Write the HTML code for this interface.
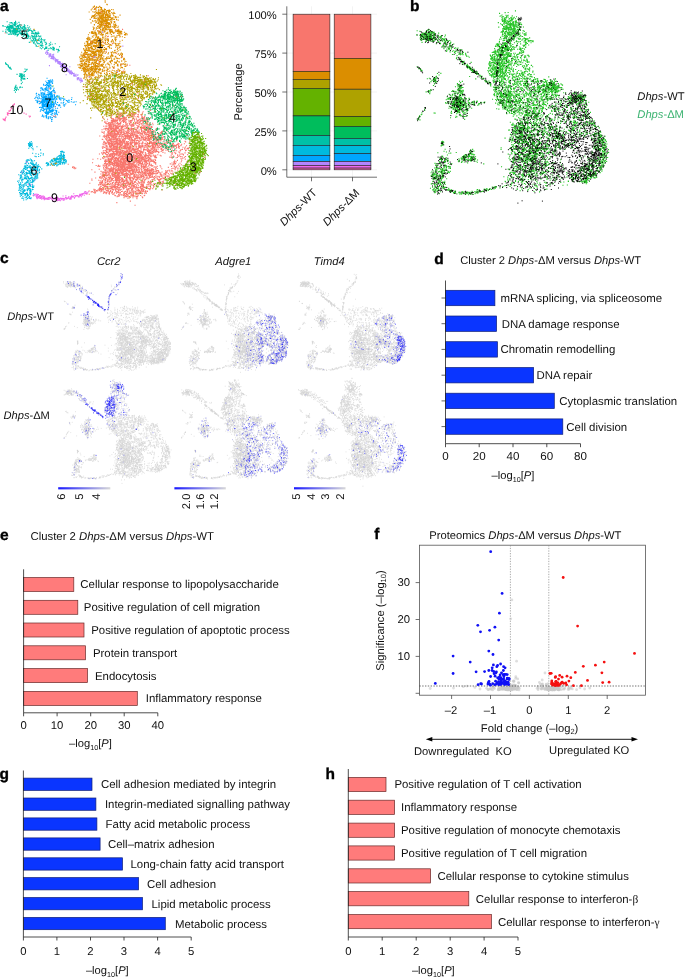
<!DOCTYPE html>
<html lang="en"><head><meta charset="utf-8"><title>Figure</title><style>html,body{margin:0;padding:0;background:#fff}svg{display:block}text{text-rendering:geometricPrecision}</style></head><body>
<svg width="685" height="978" viewBox="0 0 685 978" font-family="'Liberation Sans', sans-serif">
<rect width="685" height="978" fill="#fff"/>
<g id="umap-a">
<path d="M1244 1115h11m-10 0h11m112-2h11m1 0h11m-6 3h11m30 1h11m-379 6h11m29 14h11m6 13h11m-5 0h11m38-10h11m-11-8h11m-6 17h11m3-1h11m-7-14h11m-9 22h11m-9-21h11m-8-4h11m-4 27h11m-7-3h11m-9-19h11m-10 21h11m-9-12h11m-10 8h11m-5-11h11m12-15h11m-7 6h11m0-8h11m-4 34h11m-5-3h11m-6 1h11m0-11h11m-6 1h11m-9 8h11m-4-22h11m-11 18h11m-8-14h11m-2-1h11m-10 17h11m-10-2h11m-9-24h11m-4 20h11m-4-8h11m-11 18h11m-10-4h11m-10-2h11m-9-14h11m-4 4h11m-2-5h11m8 11h11m-10-2h11m-6 4h11m-7-21h11m9 20h11m-9-2h11m-5 3h11m-3-18h11m-406 37h11m-8 16h11m32 8h11m27-7h11m-10-22h11m-11 15h11m-4 7h11m-2 14h11m-9-6h11m-9-6h11m-9 9h11m4-2h11m-6-16h11m-6-3h11m-11 4h11m-10-7h11m-7-4h11m-6 8h11m-8-8h11m-11 24h11m-5-32h11m-9 26h11m-11-15h11m-11 1h11m-10 5h11m-6 11h11m-10-9h11m-10 14h11m-10 5h11m-10-18h11m-9-17h11m-8 24h11m-4 11h11m-9-34h11m-11 24h11m-9 9h11m-9-12h11m-8 1h11m-2-5h11m-3 8h11m-11-13h11m-10-7h11m-11 12h11m-10 3h11m-10 12h11m-9-19h11m-7-12h11m-7 10h11m-10 11h11m-10-4h11m-9 12h11m-10-18h11m-8 12h11m-9 4h11m-3-18h11m-11 17h11m-10-15h11m-7 22h11m-10-2h11m10-22h11m-5-3h11m-11 1h11m1-1h11m-11-1h11m-6-5h11m-5 3h11m-10-5h11m-3 27h11m-5-22h11m-10 13h11m-7 5h11m-2 8h11m-7-26h11m2 14h11m-9 16h11m-3-32h11m-5-1h11m-4 6h11m-4 23h11m2-4h11m0-9h11m-9-20h11m-11 11h11m-5 6h11m-10-8h11m-9 12h11m-11 17h11m-7-6h11m-11-14h11m-5-1h11m-9 13h11m-8-14h11m-11 2h11m-8-12h11m-10-4h11m4 20h11m-5 3h11m-8 9h11m-10-13h11m-11 2h11m-4 6h11m13-15h11m-466 49h11m-10-10h11m-2 21h11m-9-6h11m-7 8h11m-5 2h11m-10-27h11m-7 26h11m-3-6h11m-8 0h11m-9-7h11m-1 6h11m-9-3h11m-5 0h11m-9 6h11m-9 4h11m-10-11h11m-9-16h11m-10-7h11m-9 22h11m-7-25h11m-11 20h11m-7 7h11m-10-12h11m-10-13h11m-11 9h11m-10 25h11m-9 0h11m-10-16h11m-7-10h11m-8-9h11m-9 2h11m-11 1h11m-9 32h11m-10-19h11m-7-9h11m-9 2h11m-8 17h11m-11-9h11m-10-14h11m-10 4h11m-8 1h11m-6 28h11m-8-25h11m-11-12h11m-6 30h11m-6-11h11m-10-15h11m-10 23h11m-10 9h11m-10-9h11m1 7h11m-11 2h11m-6-27h11m-9 23h11m-10-30h11m-9 2h11m-6 17h11m-9 10h11m-5-14h11m0-12h11m-8 5h11m-8-11h11m-7 8h11m-10 12h11m-11 5h11m-11-11h11m-10-12h11m-2 5h11m-11 11h11m-1-11h11m-11 17h11m-7 11h11m-8-14h11m0 16h11m4-35h11m-9 17h11m-8 17h11m-5-3h11m-10-22h11m-6-6h11m-11 20h11m-7-9h11m-11 6h11m-10-17h11m-9 22h11m-3-20h11m-10-6h11m12 2h11m-9 15h11m-10 21h11m-2-13h11m-9 13h11m-6-19h11m-5 1h11m-8-18h11m-10 31h11m-11-3h11m-8-19h11m-5 21h11m-10-25h11m-7-8h11m-8 23h11m-9 6h11m-10-8h11m-3-12h11m-9 6h11m-11-3h11m-10 18h11m-7-22h11m-10-4h11m-3 32h11m-10-26h11m-9-8h11m-4 27h11m-8-18h11m-10 4h11m-8 9h11m-3-19h11m-2-2h11m-11-2h11m-10 15h11m-9 20h11m-10-25h11m-11 9h11m-10 11h11m-11-30h11m-11 30h11m-9 7h11m-10 1h11m-10-25h11m-10 5h11m0-18h11m-11 27h11m-10 2h11m-6-3h11m-10 0h11m-10-14h11m0-13h11m-8 37h11m-6-2h11m16-2h11m-500 30h11m10-2h11m0 0h11m6-20h11m-10 15h11m-9 19h11m-9-8h11m-9-19h11m-9 12h11m-10 16h11m-11-5h11m-9-25h11m-10 3h11m-10 13h11m-11 3h11m-9-12h11m-5-10h11m-11 26h11m-9-17h11m-8 12h11m-10-14h11m-6 21h11m-10-22h11m-11 26h11m-7-25h11m-4 15h11m-10 2h11m-10-14h11m-9 16h11m-9-26h11m-10 18h11m-10-14h11m-1 8h11m-10 15h11m-9-18h11m-9 27h11m-11-29h11m-9 12h11m-10-8h11m-4 16h11m-10-5h11m-11-3h11m-9 16h11m-10-6h11m-8-4h11m-11-12h11m-10 22h11m-6-1h11m-9-4h11m-11-23h11m-9-4h11m-11 28h11m-10-4h11m-10-26h11m-11 28h11m-9-4h11m-7-8h11m-8 6h11m-9-25h11m-8 23h11m-8-6h11m-8-16h11m-6 18h11m-8 17h11m-10-4h11m-9 2h11m-10-5h11m-7-5h11m-8 1h11m-10-8h11m-10 18h11m-11-1h11m-10-13h11m-9 12h11m-6-26h11m-10 17h11m-3-7h11m-6 2h11m-9 3h11m-5-2h11m-6-15h11m-9 4h11m-10-1h11m-8 22h11m-8-20h11m-10 23h11m-8-23h11m-8 16h11m-5-9h11m5-10h11m-10-1h11m-5 4h11m-3 16h11m-11-15h11m-11 21h11m-5-28h11m-10 11h11m-8-11h11m-11 17h11m-10-22h11m-5 22h11m-10-1h11m-9-20h11m-10 5h11m-11 14h11m-10-1h11m-5-1h11m-3 19h11m10-22h11m-10 22h11m-7 1h11m-8-5h11m-10-6h11m-8-6h11m-4 2h11m-10 6h11m-10-21h11m-5-2h11m7 23h11m-11-29h11m-9 33h11m-10-33h11m-7 13h11m-8 24h11m-6-3h11m-11-3h11m-8-20h11m-9 18h11m-6 4h11m-6 2h11m-8-16h11m-9 6h11m-10 9h11m-6-14h11m0 13h11m-9 3h11m-11-16h11m-9-14h11m-7 16h11m-8-16h11m-3 28h11m-7-13h11m-9 0h11m-7 17h11m-8-22h11m-10-12h11m-6 0h11m-7 28h11m-6-7h11m-10 12h11m-6-9h11m-9 5h11m-2-25h11m-521 50h11m7-8h11m-6 29h11m-3-35h11m-9 9h11m-7-9h11m-8 18h11m-4-20h11m-11 5h11m-6-2h11m-6 15h11m-9-5h11m-10 22h11m-10-2h11m-9-2h11m-11-22h11m-8-4h11m-11 30h11m-10-34h11m-8 17h11m-11 2h11m-10 2h11m-10 12h11m-10-34h11m-9 19h11m-3-20h11m-8 5h11m-11-1h11m-10 14h11m-9-9h11m-10 24h11m-11-28h11m-9-3h11m-11 13h11m-6-1h11m-11 17h11m-10-24h11m-10 28h11m-8-13h11m-10-17h11m-9 19h11m-9 1h11m-9-3h11m-10-21h11m-8 25h11m-11 12h11m-9-10h11m-10-8h11m-11-10h11m-11 2h11m-8-9h11m-11 29h11m-9-10h11m-9-10h11m-11-1h11m-8 25h11m-7-2h11m-10-7h11m-11-15h11m-11 9h11m-10-13h11m-10 11h11m-7-19h11m-7 13h11m-11 4h11m-9 5h11m-11 11h11m-5-26h11m-10 20h11m-8 9h11m-10-37h11m-10 35h11m-11-27h11m-4-5h11m-10-1h11m-11 0h11m-8 26h11m-9-19h11m-8 24h11m-9-17h11m-11 18h11m-7-10h11m-3 6h11m-11-3h11m-8-4h11m-10-16h11m-11 6h11m-9 14h11m-11 11h11m-7-33h11m-7 13h11m-9 12h11m-6-17h11m-3 4h11m-7 15h11m-9-7h11m-10-15h11m-2-10h11m-5 32h11m-9-24h11m-7 30h11m-7-37h11m-5 2h11m-10 19h11m-5-11h11m-11-11h11m-10 33h11m-9-12h11m-9 9h11m-8-19h11m-11-11h11m-3 18h11m-10 15h11m-6-24h11m-4 15h11m-6-16h11m-11 3h11m-9-5h11m-10 26h11m-7-12h11m-10-9h11m-9-6h11m-5 2h11m-10 28h11m-9-13h11m-9 3h11m-10 9h11m-10-28h11m-9 0h11m-9 31h11m0-20h11m-8-3h11m-10 1h11m-8 18h11m-6-21h11m-10 9h11m-6 17h11m-4-3h11m-10-29h11m-10 21h11m2 11h11m-10-18h11m4-10h11m-8-6h11m-7 16h11m-11-16h11m-10 30h11m-11-24h11m-10 21h11m-8-6h11m-1-20h11m-4 26h11m-10-28h11m-8 6h11m-9 25h11m-8-19h11m-5 2h11m-11 22h11m-11-35h11m-11 12h11m-11 8h11m-1-16h11m-10-4h11m-11 0h11m-10 16h11m-10-7h11m-9 8h11m-10-13h11m-4 26h11m-8 3h11m-9-15h11m-11-9h11m-10-10h11m-11 13h11m-8 13h11m-10-8h11m-7-2h11m-11 15h11m-8-25h11m-11 4h11m-9 19h11m-8-30h11m-10 0h11m-8 28h11m-10-20h11m-11-5h11m-8 11h11m-10 17h11m-10-8h11m-7-7h11m-1 14h11m0-4h11m-9 4h11m-4-5h11m-2 10h11m-3-24h11m-3-8h11m-4 11h11m-6-3h11m26 26h11m-2-5h11m10 4h11m-638 2h11m0 4h11m-1 33h11m-10-22h11m-11-1h11m-4 18h11m-10-1h11m7 7h11m-7-18h11m-10 11h11m-7 4h11m-9-34h11m-6-1h11m-11 32h11m-10-22h11m-11 11h11m-7 15h11m-8-18h11m-10-14h11m-9 11h11m-9 16h11m-10 0h11m-8-13h11m-9 2h11m-10 14h11m-10-10h11m-10 9h11m-10-23h11m-11-8h11m-4 26h11m-11-25h11m-11 5h11m-11-2h11m-11 14h11m-10 8h11m-6-22h11m-11 0h11m-11 29h11m-10-16h11m-9-13h11m-10 13h11m-11-17h11m-5 21h11m-10 2h11m-10 11h11m-11-19h11m-10 22h11m-8-39h11m-9 38h11m-9-2h11m-11-17h11m-6-11h11m-11 22h11m-8-7h11m-11-7h11m-10-8h11m-9-7h11m-9 37h11m-9-16h11m-10 9h11m-9-19h11m-11 21h11m-9-21h11m-9 10h11m-8 4h11m-6 2h11m-10 5h11m-11 3h11m-9-22h11m-10 12h11m-11 5h11m-11-18h11m-9-13h11m-9 23h11m-10-15h11m-11 10h11m-9-14h11m-10 7h11m-10 2h11m-11-10h11m-11 12h11m-8-13h11m-10 21h11m-10-14h11m-11 12h11m-8 4h11m-4 3h11m-10-20h11m-9 28h11m-9-26h11m-9 17h11m-6-21h11m-10 19h11m-10-10h11m-10 5h11m-11-15h11m-10 17h11m-9-11h11m-6 24h11m-10-32h11m-5 22h11m-9-3h11m-11 1h11m-7-21h11m-9 22h11m-5-12h11m-10 18h11m-11-1h11m-10-14h11m-11-14h11m-9 18h11m-7 19h11m-8-3h11m-10-22h11m-5 24h11m-10-20h11m-11 14h11m-10-13h11m-7 19h11m-10-37h11m-10 4h11m-8 9h11m-10-3h11m-10-10h11m-10 12h11m-10 5h11m-10 12h11m-6 7h11m-10-33h11m-6 14h11m-11-12h11m-11 28h11m-6-1h11m-5-17h11m-7 24h11m-9-30h11m-7 27h11m-11-12h11m-11 15h11m-5-6h11m-8-17h11m-10 21h11m-11-36h11m-6 19h11m-10 7h11m-8 4h11m-11-13h11m-10-11h11m-9 13h11m-9 17h11m-10-5h11m-10-15h11m-9-16h11m-5-1h11m-10 23h11m-10 9h11m-9-29h11m-10 22h11m-7-14h11m-10 14h11m-11-3h11m-10-1h11m-7 18h11m-8-38h11m-8 35h11m-10-6h11m-3-1h11m-11-19h11m-10 5h11m-10-4h11m-9-9h11m-6 34h11m-5-25h11m-8 3h11m-11-11h11m-11 1h11m-8 1h11m-3 24h11m-9-17h11m-9-5h11m-10 26h11m-9-21h11m-9 5h11m-1-6h11m-9 13h11m-9-9h11m-11 23h11m-8-16h11m-10-22h11m-8 17h11m-5-14h11m-10 35h11m-2-33h11m-10 9h11m-9 14h11m-3-6h11m-11-17h11m-7 3h11m-9 15h11m-11-9h11m-9 16h11m-1-6h11m-10-16h11m-6 19h11m-10-24h11m-10 22h11m-8-22h11m-10 31h11m-11-33h11m-10 28h11m-9-19h11m-10 28h11m-9-19h11m-10-12h11m-11 25h11m-5-23h11m-10 26h11m-5-25h11m-7 8h11m-11-9h11m-10-1h11m-10 15h11m-11 10h11m-10-15h11m-11-13h11m-9 0h11m-10-5h11m-10 19h11m-5 16h11m-7-34h11m-11 19h11m-9-19h11m-10 27h11m-11 10h11m-9-31h11m-8 0h11m-7 17h11m-5 6h11m-9 5h11m-9-2h11m-9 0h11m-5-11h11m12-11h11m-7 15h11m-11-10h11m-8 23h11m-8-12h11m-11 12h11m0-17h11m-4-17h11m-9 13h11m-7-3h11m-11-4h11m-5-7h11m-11 9h11m-8 18h11m-10 0h11m24-31h11m-672 40h11m14 32h11m-6 3h11m-6-27h11m2 3h11m-11-2h11m-2 20h11m-11-26h11m-5 6h11m-9-5h11m-9 29h11m-11-2h11m-11-18h11m-7 25h11m-10-32h11m-9 31h11m-11-14h11m-11-16h11m-1 12h11m-8-7h11m-9 27h11m-11-37h11m-10 15h11m-6-3h11m-10-2h11m-9 5h11m-11 22h11m-10-18h11m-9 8h11m-3 8h11m-10-36h11m-9 33h11m-8-10h11m-8 8h11m-10-32h11m-11 5h11m-11-2h11m-10 5h11m-9 7h11m-10 0h11m-7-8h11m-10-5h11m-9 28h11m-10 6h11m-9-15h11m-10-1h11m-10-14h11m-11 29h11m-11 4h11m-8-29h11m-10 11h11m-9 14h11m-5-33h11m-11 18h11m-9 13h11m-9-18h11m-8 20h11m-10-5h11m-9-14h11m-11-3h11m-11 8h11m-9-3h11m-10-13h11m-10 3h11m-8 12h11m-10-13h11m-9 30h11m-9-5h11m-9-28h11m-10 18h11m-11-22h11m-10 36h11m-11-12h11m-11 14h11m-10-12h11m-7 1h11m-9 12h11m0-35h11m-11 21h11m-11-20h11m-11 12h11m-10-13h11m-7 2h11m-10 24h11m-10-28h11m-9-2h11m-9 27h11m-10 5h11m-10-28h11m1 17h11m-8-14h11m-6 30h11m-10-36h11m-5 7h11m-11 23h11m-9 4h11m-9-23h11m-10 27h11m-11-9h11m-6-23h11m-8 15h11m-6 3h11m-10 5h11m-11-2h11m-6-24h11m-10 18h11m-10 9h11m-9-14h11m-11-11h11m-10 12h11m-8-12h11m-10 13h11m-2 6h11m-11-20h11m-10-4h11m-6 0h11m-11 14h11m-8-9h11m-10 21h11m-3-16h11m-10-11h11m-11 35h11m-11-6h11m-10 2h11m-8-29h11m-11 21h11m-10-10h11m-10 16h11m-11-11h11m-10-10h11m-8 17h11m-11-18h11m-10 1h11m-6 7h11m-8-7h11m-10 29h11m-7-22h11m-10 11h11m-11 3h11m-2 8h11m-11-5h11m-10 3h11m-7-22h11m-10 25h11m-5-27h11m-11-6h11m-1 22h11m-9 7h11m-6-12h11m-11 16h11m-7-31h11m-7 17h11m-7-16h11m-8 15h11m-11-17h11m-11 7h11m-11-13h11m-2 9h11m-11-1h11m-8 19h11m-10-7h11m-9-9h11m1 5h11m-10 13h11m4-5h11m-11 9h11m-10-31h11m-11 36h11m-10-26h11m-9 3h11m-8-8h11m-7-5h11m-8 15h11m-11-2h11m-6 17h11m-9-10h11m-11 13h11m-9-3h11m-9-13h11m-9-16h11m-4 33h11m-10-18h11m-8 0h11m-9 18h11m-8 3h11m-11-10h11m-7-1h11m-10-6h11m-11-13h11m-10-7h11m-10 15h11m-8 10h11m-5-3h11m-5-18h11m-8 29h11m-8-34h11m-11 19h11m-8-2h11m-11 8h11m-8-18h11m-9 20h11m-9-2h11m-10 12h11m-7-33h11m-8 26h11m-9 5h11m-11-15h11m-10-4h11m-5 0h11m-8-16h11m-8 30h11m-10-21h11m-6 8h11m-6-4h11m-9 6h11m-10-15h11m-10 5h11m-6-9h11m-8 8h11m-10 2h11m-10 24h11m-8-6h11m-8-27h11m-8 17h11m-9 0h11m-10-14h11m-7 4h11m-11 13h11m-9 9h11m-11-23h11m-11 22h11m-10-16h11m-3 25h11m-9-19h11m-10 9h11m-9-5h11m-11 15h11m-10-25h11m-11 24h11m-10-25h11m-4 26h11m-9-33h11m-10 30h11m-6-15h11m-6 2h11m-9 13h11m-4-17h11m-8 15h11m-6-15h11m-9 17h11m-8-3h11m-7-13h11m-9-7h11m-8-1h11m-9 19h11m-2-22h11m-6 29h11m-6-3h11m28-31h11m-9 35h11m19-7h11m39-2h11m-746 48h11m-5-13h11m-10-12h11m-3 4h11m-9 14h11m-4-3h11m-10 8h11m-5 1h11m-8-7h11m-8-26h11m-11 2h11m-4 15h11m-7-11h11m-10 2h11m-10 27h11m-9-13h11m-11 4h11m-11-20h11m-4 25h11m-10 4h11m-10-14h11m-11-20h11m-10 19h11m-10-16h11m-7-1h11m-9 26h11m-9 1h11m-8 3h11m-11-32h11m-9 14h11m-8-6h11m-8-5h11m-10 28h11m-9-8h11m-11-11h11m-11-9h11m-10 18h11m-9-13h11m-11 3h11m-5 2h11m-11 15h11m-8 5h11m-10-6h11m-8 6h11m-11-19h11m-9-1h11m-10 4h11m-5-9h11m-11-2h11m-6 24h11m-10-16h11m-10 18h11m-11-20h11m-11 4h11m-10-7h11m-9 22h11m-7 2h11m-11-24h11m-10 19h11m-10 3h11m-10-27h11m-11-2h11m-11 2h11m-8 19h11m-10-2h11m-11-7h11m-10-12h11m-10 8h11m-10 23h11m-10-12h11m-10 0h11m-10-12h11m-10 18h11m-10-28h11m-11 6h11m-6 2h11m-11 26h11m-11 0h11m-10-13h11m-10 7h11m-6-32h11m-11 12h11m-10 18h11m-9 3h11m-9-26h11m-9 24h11m-7-4h11m-9-23h11m-10 10h11m-9 1h11m-11 1h11m-10-13h11m-9-2h11m-10 28h11m-11 7h11m-11-17h11m-10-18h11m-11 25h11m-11 7h11m-10-4h11m-9-20h11m-11 3h11m-10 7h11m-8-6h11m-10 15h11m-9-6h11m-9-6h11m-8 18h11m-9-12h11m-11 5h11m-10 8h11m-10 0h11m-10-24h11m-10-11h11m-11 31h11m-7-25h11m-10 22h11m-5-14h11m-8 16h11m-10-30h11m-10 19h11m-9 9h11m-10-9h11m-11 19h11m-11-31h11m-10 13h11m-10-6h11m-6-6h11m-3 22h11m-8 3h11m-10-13h11m-10 19h11m-8-23h11m-11 20h11m-11 3h11m-10-3h11m-5-10h11m-11-6h11m-11 13h11m-3 0h11m-9-18h11m-8 16h11m-8 5h11m-9-6h11m-3-26h11m-7 15h11m-11-1h11m-11 7h11m-9 14h11m-10-19h11m-11 10h11m-9-6h11m-6-22h11m-9 30h11m-8-14h11m-10 2h11m-10-16h11m-10 16h11m-7 9h11m-11-23h11m-9 18h11m-7 4h11m-9-23h11m-5 0h11m-9 14h11m-10-13h11m-8 1h11m-10 3h11m-11-7h11m-11 27h11m-10-27h11m-11 30h11m-10-6h11m-11 0h11m-9-3h11m-8 7h11m-11-4h11m-1-19h11m-10 23h11m-9-9h11m-11 1h11m-10 16h11m-11-37h11m-9 23h11m-6-21h11m-10 34h11m-8-4h11m-4-27h11m-8 17h11m-11-8h11m-5-4h11m-10 27h11m-7-7h11m-9-24h11m-2-3h11m-5 34h11m-6-8h11m-5-18h11m-11 13h11m-7 4h11m-2-26h11m-4 34h11m-5-6h11m-6-31h11m-8 38h11m-10-26h11m0 13h11m-10-23h11m-9 30h11m-6-29h11m-9 31h11m-3-35h11m-9 7h11m-10 20h11m-11-7h11m-9 15h11m-4-18h11m-11 5h11m-7 11h11m-9-21h11m-10 20h11m-10-11h11m-10 11h11m-9-11h11m-10 2h11m-8 7h11m-10 6h11m-8-5h11m-6-26h11m-9 28h11m-10-11h11m-11 11h11m-8-32h11m-8 33h11m-9-27h11m-10-7h11m-9 21h11m-9 5h11m-8-5h11m-10 12h11m-3-13h11m-11 10h11m-10 2h11m-9-29h11m-10 32h11m-10-34h11m-8 4h11m-10 7h11m-9 15h11m-10-17h11m-4 21h11m-10-25h11m-9 26h11m-9-2h11m-9-27h11m-7 8h11m-10 24h11m-11-31h11m-9 8h11m-4 21h11m-9 2h11m-4 1h11m-8-27h11m-10 26h11m-11 4h11m-11 0h11m9 0h11m-8-22h11m-1 15h11m-5 6h11m-8-11h11m0-19h11m-6 20h11m-10-9h11m-9 1h11m-6 15h11m-5-34h11m-9 14h11m1 15h11m-8-25h11m-6 4h11m-9 28h11m-5-32h11m-7 8h11m-1 26h11m-1-4h11m21-26h11m-9-4h11m2 28h11m-2 6h11m42-2h11m-4-24h11m-5 4h11m-11 3h11m28 1h11m-883 50h11m-5-3h11m-8-21h11m-10 22h11m-1 5h11m-7-26h11m1 25h11m-10-21h11m-10 4h11m-11 11h11m-10-7h11m-5-1h11m-9 2h11m-4 12h11m0-25h11m-5 19h11m-9-10h11m-10-10h11m-10 23h11m-7 6h11m-9 1h11m-10-15h11m-9 2h11m-8-8h11m-8 1h11m-11-12h11m-9 5h11m-11 16h11m-5-16h11m-9-7h11m-10 14h11m-11-6h11m-6 27h11m-7-25h11m-11 8h11m-8 8h11m-10 1h11m-10-22h11m-9 25h11m-10-14h11m-11 0h11m-9 6h11m-11-20h11m-7-1h11m-7 20h11m-10 10h11m-6-24h11m-10 18h11m-6-3h11m-9 14h11m-7-21h11m-10 16h11m-10 1h11m-11-32h11m-11 3h11m-10 18h11m-11-20h11m-8 25h11m-9 3h11m-11 2h11m-10-23h11m-7-7h11m-11 0h11m-1 23h11m-11-17h11m-10 15h11m-10-25h11m-8 37h11m-6-33h11m-11 12h11m-10 11h11m-11-2h11m-10-16h11m-9 10h11m-6 12h11m-9-16h11m-10 16h11m-10-1h11m-10-16h11m-11-8h11m-10 7h11m-8 25h11m-8-32h11m-5 16h11m-10 8h11m-3-2h11m-11-8h11m-9 8h11m-7 6h11m-8-18h11m-11 12h11m-10-15h11m-11 21h11m-11 2h11m-7-32h11m-11-4h11m-11 34h11m-8-17h11m-9 7h11m-9 10h11m-11-5h11m-10-15h11m-4 14h11m-8-18h11m-9 29h11m-10-9h11m-11-18h11m-10 22h11m-10 4h11m-11-37h11m-7 13h11m-10 6h11m-10-16h11m-11-2h11m-11 30h11m-7-25h11m-11 25h11m-9 5h11m-7-2h11m-6-12h11m-11 8h11m-8-10h11m-11 13h11m-11-18h11m-11 6h11m-11-7h11m-9 20h11m-11-8h11m-10-17h11m-11 22h11m-10-24h11m-10-7h11m-11 3h11m-10 22h11m-5-3h11m-10 15h11m-7-34h11m-7 11h11m-5 1h11m-9 14h11m-9-1h11m-7-4h11m-10 0h11m-11 1h11m-2-14h11m-9-11h11m-8 29h11m-10-27h11m-3 14h11m-11-13h11m-8-2h11m-11 18h11m-8 13h11m-11 0h11m-8-4h11m7 0h11m-11-16h11m-7-11h11m-11 28h11m-8-2h11m-11-12h11m-10 19h11m-11-8h11m-10-4h11m-11 6h11m-3-9h11m-9 12h11m-9-13h11m-10 17h11m-8-13h11m-3 2h11m-9 6h11m-11-16h11m-10 10h11m-10-25h11m-9 24h11m-7-12h11m-2 10h11m-9 16h11m-3-5h11m-9-16h11m-10-1h11m-2 14h11m-10-14h11m-11 2h11m-11-8h11m-7-5h11m-11 1h11m-4 23h11m-8-27h11m-9 16h11m-9-6h11m-8 3h11m-6-1h11m-9 11h11m-9 3h11m-9-19h11m-6 20h11m-4-5h11m-11-3h11m2-7h11m-10 1h11m-8 2h11m-11 12h11m-8 10h11m-10-18h11m-11-18h11m-10 35h11m-10-4h11m-9-25h11m-10 19h11m-10 3h11m-10-2h11m-11-20h11m-10 8h11m-7 9h11m-11 5h11m-8-29h11m-10 2h11m-6 1h11m-9 28h11m-10-16h11m-9-7h11m-6 18h11m-8-24h11m-10 4h11m-11 9h11m-2 21h11m-9-33h11m-10-3h11m-9 2h11m-10 13h11m-9-11h11m-10 24h11m-8 2h11m-7-12h11m-3 14h11m-9 1h11m-11-24h11m-6-10h11m-5 25h11m-9-25h11m-11-1h11m-6 21h11m-10-19h11m-8 2h11m-5 15h11m-8 19h11m-10-23h11m-8-13h11m-1 9h11m-2 7h11m-1 4h11m-11 17h11m-10-35h11m-10 22h11m-6 12h11m-8-3h11m1 0h11m-4-2h11m-2-16h11m0-12h11m-11 18h11m-9 7h11m-9-11h11m-3 9h11m-8-10h11m-8-13h11m-11 17h11m-8-6h11m-10 22h11m-5-19h11m-10-6h11m-10-3h11m-10 23h11m-5-16h11m-7-3h11m-11 5h11m-6 3h11m-5-7h11m-8 6h11m-11-6h11m-9 21h11m-8-30h11m-1-3h11m-10 3h11m-7 26h11m-10-1h11m-10-8h11m-10-7h11m-10 19h11m-4-9h11m3-10h11m-9-2h11m-5-11h11m2 30h11m14-3h11m0-13h11m5 20h11m4-21h11m-880 29h11m-6 25h11m-8-3h11m5-1h11m-11-1h11m-3-25h11m-9 23h11m-8 12h11m-11-14h11m-9-9h11m-11-6h11m-8 1h11m-11 16h11m-2-9h11m-9 24h11m-10-31h11m-6 13h11m-11 0h11m-8 0h11m-6-7h11m-10 23h11m-11-9h11m-8-8h11m-11 19h11m-10-5h11m-11-22h11m-10 7h11m-8-3h11m-6 5h11m-10 8h11m-9-15h11m-8 7h11m-9-19h11m-10 19h11m-11-3h11m-11-2h11m-7 12h11m-11-18h11m-11 4h11m-11 15h11m-9 7h11m-3-35h11m-10 18h11m-10-4h11m-8 20h11m-10 4h11m-10-35h11m-11 14h11m-9 21h11m-6-24h11m-6-10h11m-11 34h11m-7-27h11m-10 24h11m-10-4h11m-9-15h11m-9-9h11m-11 21h11m-3-3h11m-11 5h11m-11-9h11m-10-6h11m-11-14h11m-8 33h11m-11-25h11m-11 3h11m-11 5h11m-10-6h11m-11-8h11m-7 10h11m-7 22h11m-11-7h11m-9-16h11m-8 25h11m-8 2h11m-9-20h11m-8-9h11m-7-7h11m-10 31h11m-10-31h11m-10 11h11m-11-1h11m-6 25h11m-10-22h11m-10 16h11m-11-11h11m-8 7h11m-8-28h11m-3 38h11m-10-12h11m-9 5h11m-11-7h11m-7 0h11m-8-19h11m-10-3h11m-10 25h11m-11-24h11m-7 29h11m-10 1h11m-11-31h11m-9-1h11m-7 29h11m-10-24h11m-10 31h11m-9-7h11m-10-20h11m-10-2h11m-11-7h11m-10 5h11m-11 27h11m-9 5h11m-11-38h11m-6 4h11m-11 33h11m-10-32h11m-10 30h11m-9-28h11m-8 32h11m-11-11h11m-10 6h11m-10-25h11m-10 15h11m-10-11h11m-9 10h11m-9 6h11m-9 3h11m-10 3h11m-7-4h11m-8-27h11m-11 26h11m-10-21h11m-9 5h11m-9-10h11m-10 14h11m-9-8h11m-10-8h11m-10 31h11m-10-30h11m-9 26h11m-8-25h11m-10 15h11m-10 2h11m-9 12h11m-6 2h11m-10-34h11m-9 37h11m-10-21h11m-9 8h11m-10 6h11m-10 6h11m-5-26h11m-9 9h11m-11-17h11m-8 1h11m-10 16h11m-8-2h11m-7-2h11m-11-11h11m-10 25h11m-5-20h11m-11 15h11m-10-12h11m-9 11h11m-11 3h11m-8 2h11m-11-13h11m-10 20h11m-11-18h11m-5 0h11m-10-11h11m-9 3h11m-10 8h11m-9 16h11m-8-2h11m-10 6h11m-10-27h11m-6 24h11m-10-30h11m-10 14h11m-5 8h11m-8-15h11m-10-4h11m-10-4h11m-10-2h11m-6 24h11m-6 5h11m-2 6h11m-9-8h11m-8-20h11m-11 2h11m-7 23h11m-5 2h11m4-21h11m-10 2h11m-11 12h11m-10-26h11m-4 14h11m-9-5h11m-9 3h11m-1 2h11m-9 6h11m-2-5h11m-9-17h11m-7 27h11m-10 6h11m-11-9h11m-8-19h11m-11-3h11m-7 13h11m-7 18h11m-11-14h11m-7 2h11m-10 0h11m-10 14h11m-9-16h11m-8 9h11m-4-8h11m-10 1h11m-11 2h11m-8-21h11m-9 33h11m-8-28h11m-7 11h11m-4 17h11m-10 3h11m-10-28h11m-8-5h11m-8 20h11m-5-6h11m-11-20h11m-10 26h11m-6-12h11m-8 6h11m-10 17h11m-11-22h11m-10-13h11m-3 33h11m-11-6h11m-6-15h11m-10 22h11m-11-12h11m-8 11h11m-1-1h11m-9 4h11m-9-27h11m17 0h11m-9-5h11m-11 29h11m-8-32h11m-8 13h11m-10-2h11m-9 13h11m-2-3h11m-6-7h11m4-9h11m-1 14h11m2-11h11m-6 12h11m-3 11h11m-10-30h11m7 11h11m-1 14h11m-10-1h11m-9-3h11m-11-24h11m-9 28h11m-8-9h11m11 6h11m-6 1h11m-2-20h11m-3 21h11m14-23h11m-2 25h11m-8-4h11m-4-10h11m3-2h11m12-13h11m-10 10h11m-4 15h11m-4-3h11m-2-17h11m-7-1h11m-3 4h11m-7-4h11m-904 55h11m11-11h11m0 15h11m-8-13h11m-8 0h11m-8-5h11m-5-1h11m-3 9h11m-10-3h11m-9 4h11m-6-3h11m-10 13h11m-7-25h11m-9 5h11m-11 24h11m-7 0h11m-7-3h11m-10-23h11m-6 3h11m-4 8h11m-7 8h11m-8 13h11m-10-7h11m-11-1h11m-6 2h11m-10 9h11m-6-21h11m-10 10h11m-10-6h11m-4-2h11m-6 10h11m-10-15h11m-8-2h11m-10 19h11m-11-12h11m-10 7h11m-10 1h11m-11 7h11m-11-4h11m-10 0h11m-6-30h11m-11 23h11m-8-22h11m-11 16h11m-10-4h11m-10 8h11m-4 12h11m-9-19h11m-11 4h11m-10-3h11m-9 8h11m-8 4h11m-11 3h11m-3-15h11m-11 12h11m-9-4h11m-10-8h11m-10-9h11m-11 16h11m-11-21h11m-10 20h11m-10 10h11m-10-3h11m-8 0h11m-10-25h11m-11 9h11m-10 12h11m-8-14h11m-9-10h11m-10 8h11m-11 4h11m-9-10h11m-10 37h11m-10-33h11m-10 29h11m-10-5h11m-9 1h11m-8 3h11m-10-8h11m-9-10h11m-9 16h11m-10-22h11m-8 21h11m-11-10h11m-11 5h11m-10 1h11m-10 2h11m-10 0h11m-11-24h11m-10 17h11m-10 7h11m-11-13h11m-11 8h11m-10-19h11m-9 6h11m-10-6h11m-11 6h11m-11 17h11m-8-14h11m-11-8h11m-1 29h11m-10-27h11m-10 4h11m-11 19h11m-10 6h11m-5-8h11m-7-12h11m-9-11h11m-10 24h11m-10-24h11m-10 14h11m-9-3h11m-8 0h11m-8 6h11m-10 5h11m-10-13h11m-10-6h11m-11 21h11m-4-28h11m-10 8h11m-11-6h11m-11 34h11m-10-16h11m-10 10h11m-8 6h11m-11-6h11m-11-5h11m-10-21h11m-8 20h11m-10-3h11m-10 4h11m-6-17h11m-11 23h11m-9 6h11m-9-26h11m-11-3h11m-9-3h11m-9 9h11m-9-9h11m-10 2h11m-10-3h11m-10 9h11m-10-2h11m-10 5h11m-9 2h11m-9 0h11m-11 5h11m-7-22h11m-9 34h11m-10-24h11m-7 16h11m-11-4h11m-9 1h11m-9 3h11m-11 10h11m-7-18h11m-7 0h11m-6-15h11m0 29h11m-11-29h11m-7 23h11m-10-6h11m-10-18h11m-9 34h11m-8-36h11m-11 27h11m-3-21h11m-9-1h11m-10-2h11m-10 28h11m-9-33h11m-5 0h11m-10 8h11m-11 3h11m-10 9h11m-10 16h11m-9-19h11m-4 9h11m-10-15h11m-9-5h11m-7 30h11m-10-4h11m-10-18h11m-9 18h11m-11-31h11m-7 0h11m-10 35h11m-10-22h11m-10 5h11m-8 7h11m-5-7h11m-11 1h11m-10 10h11m-11-16h11m-9 7h11m-11-17h11m-11 8h11m-7-5h11m-9 14h11m-9 12h11m-9-5h11m-7-21h11m-10-4h11m-11 35h11m-9-39h11m-8 11h11m-3-8h11m-11 20h11m-1 16h11m-6 0h11m-9-8h11m-10 5h11m-8-30h11m-11 3h11m-9 26h11m-9-9h11m-9-7h11m-10 7h11m-8 6h11m-10 0h11m-8 4h11m-10-2h11m-9 5h11m-8-4h11m-10 0h11m-3-20h11m-7-6h11m-11 26h11m-10-32h11m-11 24h11m-9 2h11m-5-21h11m-10 1h11m-10-2h11m-11-4h11m-11 27h11m-10-20h11m-10-5h11m-11 34h11m-10-24h11m-10 4h11m-11-9h11m-5 2h11m-10 25h11m-9-31h11m-10 3h11m-4 11h11m-9-6h11m-6-1h11m-5 26h11m-9-31h11m-8 22h11m-9-30h11m3 3h11m-6 31h11m9-6h11m-3-21h11m-7-6h11m1 32h11m-2 6h11m8-35h11m9 6h11m49-8h11m-10 0h11m-10 31h11m-10-32h11m-6 16h11m-6 4h11m-7-14h11m11-1h11m-4 10h11m-8-4h11m7 15h11m-11 8h11m0-35h11m-2 7h11m-11 30h11m-8-15h11m2-2h11m1 0h11m-3 3h11m-9 7h11m5-21h11m15 17h11m-4-21h11m-965 68h11m37-6h11m18 6h11m10-18h11m-11 8h11m0 4h11m-7-19h11m-10 3h11m-5 1h11m-11-3h11m-1 25h11m-8-26h11m-4-2h11m-9 7h11m-5 26h11m-10-39h11m-8 24h11m-10 1h11m-10 12h11m-8-3h11m-10-14h11m-10-16h11m-9 19h11m-11-3h11m-10 9h11m-6 9h11m-7-34h11m-8 0h11m-11 33h11m-10-36h11m-10 29h11m-10-3h11m-6-8h11m-8 2h11m-11-21h11m-9 17h11m-11 21h11m-9-4h11m-10-4h11m-9 8h11m-10-29h11m-11 11h11m-8-9h11m-10-7h11m-9 17h11m-11-20h11m-10 19h11m-10-13h11m-10 23h11m-11-25h11m-8 10h11m-10-12h11m-11 7h11m-7 0h11m-11 29h11m-11-25h11m-5 9h11m-11-23h11m-9 22h11m-11 3h11m-6 0h11m-11 6h11m-9 5h11m-9-20h11m-6 10h11m-10-6h11m-9-6h11m-11 5h11m-8 3h11m-7 8h11m-10-5h11m-8 11h11m-11 3h11m-10-3h11m-10 2h11m-9 1h11m-10-38h11m-10 17h11m-11 8h11m-9-8h11m-8 17h11m-10-10h11m-10 1h11m-7-7h11m-10-5h11m-9-5h11m-5-2h11m-8 30h11m-11-32h11m-8 15h11m-11 13h11m-10-29h11m-9 23h11m-10-23h11m-8-2h11m-9 6h11m-11 1h11m-11 16h11m-9 9h11m-11-7h11m-10-21h11m-11 25h11m-10-5h11m-11-4h11m-9-19h11m-10 13h11m-10 21h11m-11-13h11m-9 14h11m-7-6h11m-11-28h11m-10 25h11m-10-26h11m-11 15h11m-10 11h11m-6-21h11m-6 15h11m-11 10h11m-10-11h11m-10-18h11m-9-1h11m-10 28h11m-8-12h11m-7-5h11m-9 4h11m-11 10h11m-11-1h11m-9-26h11m-10 6h11m-9 25h11m-10-3h11m-8-6h11m-10-11h11m-11 25h11m-7-1h11m-11-1h11m-9-2h11m-10-7h11m-11-10h11m-10 16h11m-10-24h11m-9 13h11m-10 12h11m-11 2h11m-7-31h11m-11 12h11m-11 10h11m-8-19h11m-11 11h11m-11-3h11m-7-13h11m-10 20h11m-10-4h11m-11-14h11m-9 23h11m-11 1h11m-10-15h11m-9-13h11m-11 19h11m-8 16h11m-11 3h11m-10-25h11m-8 17h11m-11-9h11m-8-12h11m-10 17h11m-11-6h11m-10-3h11m-11 8h11m-10-11h11m-11 21h11m-10-12h11m-10 12h11m-8-28h11m-11 17h11m-9-24h11m-7 35h11m-11 4h11m-9-36h11m-9 6h11m-11 2h11m-8 21h11m-10 2h11m-11-32h11m-10 14h11m-10 18h11m-8-30h11m-9 2h11m-10 2h11m-10 2h11m-11-6h11m-10 7h11m-10-1h11m-10 15h11m-9-15h11m-8 21h11m-10-5h11m-9 1h11m-10-10h11m-9-9h11m-6 28h11m-9-15h11m-11-18h11m-5 31h11m-8-8h11m-11-18h11m-9 20h11m-11-21h11m-10 10h11m-8-13h11m-10 8h11m-10-2h11m-10-3h11m-10 21h11m-11-15h11m-11-3h11m-10 12h11m-11-6h11m-9 2h11m-5-6h11m-10-2h11m-10 29h11m-9-26h11m-10 10h11m-11 13h11m-4-21h11m-11-7h11m-9 15h11m-11 9h11m-10-14h11m-9-15h11m-2 20h11m-10-12h11m-11 14h11m-8 7h11m-10 4h11m-11-21h11m-11 10h11m-5-8h11m-10-10h11m-10 32h11m-11-12h11m-8 5h11m-10 6h11m-10-22h11m-9 21h11m-9-21h11m-8 15h11m-9-22h11m-8 20h11m-6 9h11m-9-10h11m-9-14h11m-11-7h11m-7-3h11m-8 17h11m-4 6h11m-9-27h11m-9 21h11m-9 0h11m-3-7h11m-9 20h11m-10-28h11m-8 10h11m-8 14h11m-6-11h11m-8 7h11m-2 9h11m-10-33h11m-11 8h11m-11 19h11m-5-28h11m-5 38h11m9-2h11m-5-37h11m-10 5h11m-9 6h11m-10 5h11m-7 22h11m-8-28h11m-10-6h11m-8 13h11m-6-1h11m122-5h11m3 3h11m-3-5h11m-9 14h11m3-22h11m-8 7h11m11 9h11m2-2h11m-4-11h11m11 2h11m-4 20h11m-2-20h11m-4 17h11m-8-2h11m5-9h11m-4 19h11m-8-26h11m-941 63h11m108 8h11m-9-20h11m-8-7h11m-11 30h11m-10-36h11m-8 11h11m-11-3h11m-8-7h11m-11 29h11m-11-9h11m-7-23h11m-10 34h11m-9-21h11m-10-2h11m-5 1h11m-5 22h11m-6-22h11m-9 6h11m-9-17h11m-10 23h11m-7 0h11m-11 13h11m-11-4h11m-10-24h11m-8-5h11m-10 8h11m-11 23h11m-10-1h11m-10-9h11m-11-5h11m-9 16h11m-7-27h11m-9 16h11m-7-11h11m-8-14h11m-10 12h11m-11 13h11m-10-22h11m-8 26h11m-10 4h11m-11-9h11m-4 9h11m-10-1h11m-11-10h11m-11 10h11m-6 3h11m-5-24h11m-11 2h11m-11-4h11m-10 5h11m-9-12h11m-10 32h11m-11-13h11m-10-2h11m-11-15h11m-10 22h11m-10-10h11m-11 16h11m-10 0h11m-11 5h11m-10-25h11m-10 4h11m-11 7h11m-10-11h11m-11 1h11m-10 12h11m-10 4h11m-11-17h11m-11-4h11m-10 22h11m-8-29h11m-11 21h11m-8 3h11m-10-23h11m-8 28h11m-11 6h11m-11-29h11m-8-1h11m-9 5h11m-10 12h11m-9 15h11m-10-30h11m-11 3h11m-10 26h11m-10-3h11m-11-35h11m-10 25h11m-8 12h11m-10-13h11m-11 3h11m-10 3h11m-9-30h11m-8 21h11m-11-15h11m-8 30h11m-11-30h11m-9 8h11m-10-2h11m-9-1h11m-9-2h11m-7 13h11m-11-10h11m-9 1h11m-10 20h11m-11 1h11m-9-25h11m-9 3h11m-10-5h11m-10 32h11m-11-10h11m-9-23h11m-11 15h11m-10 15h11m-11-29h11m-11 19h11m-10-5h11m-8-1h11m-10 3h11m-9-5h11m-9-7h11m-10 13h11m-8 14h11m-9-15h11m-11 5h11m-8 7h11m-9-1h11m-11 0h11m-10-34h11m-9 33h11m-10-10h11m-10-11h11m-10-11h11m-11 38h11m-8-20h11m-7-3h11m-11 12h11m-10 2h11m-10-17h11m-10 8h11m-9-18h11m-11 22h11m-10 13h11m-9-30h11m-9 23h11m-11-6h11m-6-20h11m-11 13h11m-11 4h11m-10-10h11m-11 27h11m-11-20h11m-11 9h11m-9-15h11m-9 4h11m-9-6h11m-9 0h11m-9-2h11m-8 0h11m-9-6h11m-8 18h11m-10-14h11m-10 13h11m-10-10h11m-8 29h11m-11-21h11m-9 11h11m-9-6h11m-11 6h11m-11 9h11m-10-13h11m-10 3h11m-11-18h11m-11 9h11m-10 7h11m-11-9h11m-11-16h11m-8 18h11m-11-17h11m-10 35h11m-9-29h11m-10 24h11m-11-3h11m-9-14h11m-10 16h11m-10-2h11m-10-17h11m-10 27h11m-9-19h11m-7 15h11m-8 2h11m-10-2h11m-8-33h11m-10 12h11m-7 20h11m-11-17h11m-6 21h11m-9-21h11m-10 16h11m-9-32h11m-9 1h11m-9 17h11m-9 6h11m-10 0h11m-9 5h11m-11 0h11m-6-22h11m-11 21h11m-9-19h11m-10 6h11m-11 10h11m-9-1h11m-6-19h11m-8 5h11m-6-9h11m-10 7h11m-10-1h11m-8 19h11m-11-12h11m-10-7h11m-11 1h11m-10 28h11m-10-32h11m-9-3h11m-9 21h11m-9-19h11m-6 7h11m-9 14h11m-11-3h11m-11-20h11m-11 26h11m-9-3h11m-10-8h11m-9-8h11m-10 3h11m-10 12h11m-10 13h11m-7-28h11m-10 18h11m-10-15h11m-10-1h11m-11 27h11m-9-1h11m-10-1h11m-10-18h11m-10 1h11m-9-12h11m-11 23h11m-10 8h11m-5-37h11m-10 5h11m-9-1h11m-10 30h11m-8-19h11m-6 8h11m-11 7h11m-9-1h11m2-16h11m-9-9h11m-9 27h11m-7-16h11m-8 15h11m-9-20h11m-9-7h11m-6-3h11m-11 22h11m-10-16h11m-10 20h11m-9-12h11m-10 9h11m-10-17h11m-8 22h11m-9-17h11m-10-5h11m-9 29h11m-8 1h11m-10-32h11m-5 2h11m-8 4h11m-10-10h11m-10 6h11m-8-7h11m-10 34h11m-10-12h11m-10 14h11m-10-1h11m-4-19h11m-5-10h11m-6 1h11m-7 7h11m-6-2h11m-2-6h11m-10 8h11m-5 5h11m-9-3h11m-10 14h11m-7-13h11m-7 7h11m-10 1h11m-6-21h11m-10 31h11m-11 1h11m-10-10h11m134 13h11m6-9h11m4 7h11m-8-16h11m-6-6h11m-8 13h11m-10-25h11m-9 15h11m-10 21h11m-5-3h11m-5-17h11m2-15h11m15 29h11m2-16h11m-7-16h11m40 18h11m1-17h11m-1 17h11m-1219 24h11m32 32h11m-6-10h11m1 12h11m-9-5h11m206-17h11m5 8h11m-3-9h11m-7 11h11m-1-4h11m22-1h11m-11-9h11m-7 25h11m-1-15h11m-7-9h11m-5 22h11m-7 3h11m-9-21h11m-10-15h11m-10 22h11m-10-10h11m-6 21h11m-9-2h11m-11-27h11m-3 16h11m-3-12h11m-10-8h11m-9 17h11m-8 0h11m-4-15h11m-9 5h11m-10-6h11m-10 0h11m-9 7h11m-9 19h11m-9 4h11m-3-27h11m-8-2h11m-7 2h11m-8 9h11m-4 16h11m-10-16h11m-10 8h11m-9-22h11m-7 5h11m-7 14h11m-7-3h11m-11-3h11m-9 5h11m-5-3h11m-11 20h11m-11-26h11m-11 0h11m-8 18h11m-5-13h11m-10-3h11m-11-7h11m-10 20h11m-11-17h11m-10 11h11m-8-5h11m-9 12h11m-11-23h11m-10 20h11m-10-3h11m-11-18h11m-10 24h11m-9 8h11m-10-23h11m-10 8h11m-11 10h11m-8-9h11m-10 8h11m-11-21h11m-10 20h11m-8-13h11m-10 20h11m-10-4h11m-11-16h11m-9 2h11m-11-15h11m-10 14h11m-11 15h11m-6-16h11m-8 23h11m-10-7h11m-11-24h11m-11 16h11m-10-18h11m-10 22h11m-9 3h11m-11-7h11m-8-16h11m-9 23h11m-10 9h11m-11-26h11m-11 17h11m-10-22h11m-11 1h11m-9 0h11m-10 11h11m-11 17h11m-10 4h11m-10-1h11m-10-19h11m-10-4h11m-10-8h11m-10 24h11m-11-23h11m-9 9h11m-10-13h11m-10 13h11m-10-1h11m-11 19h11m-8-13h11m-11 4h11m-10-22h11m-10 9h11m-6 6h11m-11 6h11m-8 11h11m-9-14h11m-11-19h11m-10 19h11m-10 17h11m-10-21h11m-10-7h11m-11 18h11m-6-25h11m-4 2h11m-11 4h11m-10 25h11m-10-26h11m-11 19h11m-6 1h11m-10-28h11m-9 30h11m-10 3h11m-10 5h11m-10-6h11m-10-28h11m-9 2h11m-10 9h11m-11 9h11m-10-17h11m-7 1h11m-10 27h11m-8-27h11m-9-9h11m-11 6h11m-10-3h11m-11 22h11m-11-5h11m-9-10h11m-11-8h11m-9 1h11m-10 34h11m-11-1h11m-10 2h11m-11-8h11m-10-27h11m-11 24h11m-10-8h11m-10 1h11m-11-7h11m-10 11h11m-7-23h11m-10 30h11m-10-31h11m-8 21h11m-10-21h11m-9 17h11m-11 5h11m-10 9h11m-11 1h11m-10-25h11m-10 27h11m-10-20h11m-11-14h11m-10 33h11m-9 2h11m-11-33h11m-11 1h11m-9 30h11m-11-16h11m-10 8h11m-10-18h11m-11-3h11m-10 2h11m-8 21h11m-8-25h11m-10-2h11m-9 7h11m-10 30h11m-10-23h11m-10 9h11m-6-6h11m-9 11h11m-11-11h11m-11-9h11m-7 21h11m-6 5h11m-11-17h11m-10 11h11m-9 2h11m-9 6h11m-11-30h11m-10 10h11m-10 17h11m-9-5h11m-7 2h11m-10-7h11m-9-1h11m-9 5h11m-4 5h11m-10 7h11m-9-29h11m-9-5h11m-7-2h11m-10 30h11m-10-18h11m-7 23h11m-2-38h11m-2 23h11m-11-9h11m-9 20h11m-11-19h11m-9 8h11m-8-21h11m-9 7h11m-7-9h11m-10 30h11m-6-5h11m-7-14h11m-10-4h11m-9 30h11m-10-11h11m-5-1h11m-9-15h11m-10 24h11m-11-6h11m-7-20h11m-8 2h11m-8 14h11m-11-17h11m-11 16h11m-11-5h11m-10 9h11m-9-5h11m-10-11h11m-11 23h11m-10-30h11m-9 6h11m5 16h11m-3-11h11m-8-12h11m-7 5h11m-8 24h11m-4-19h11m-4-2h11m-11-8h11m-8 15h11m-6 2h11m-11 3h11m-3-7h11m0 16h11m-1-5h11m-3-24h11m-7 31h11m-1-10h11m19-8h11m-4 14h11m64 4h11m9-34h11m1 25h11m-5-16h11m2-7h11m-10 0h11m-5 17h11m-7-19h11m-11 28h11m-3 11h11m-5-2h11m-10-5h11m-9-8h11m6-7h11m-4-14h11m-2 18h11m7-14h11m19 10h11m-5-1h11m-5-14h11m26 10h11m-1170 28h11m4 7h11m-2-6h11m150 16h11m63-5h11m7 22h11m10 3h11m-3-24h11m-11-4h11m-1 15h11m-10 6h11m-10-4h11m-8-9h11m-6-15h11m-8 27h11m-8-20h11m-2 0h11m-8 22h11m-4-28h11m-6 11h11m-9 9h11m-11 7h11m-10 2h11m-10-23h11m-9 22h11m-6-3h11m-9-21h11m-11 9h11m-9 1h11m-11 21h11m-9-9h11m-8-24h11m-10 13h11m-9-15h11m-11-1h11m-10 17h11m-9 10h11m-9-2h11m-10-15h11m-10 27h11m-8-39h11m-9 35h11m-10-21h11m-10 7h11m-8 5h11m-10 12h11m-9-20h11m-10-17h11m-10 12h11m-10 9h11m-11 16h11m-5-34h11m-5-2h11m-9 14h11m-9-1h11m-8 12h11m-10-2h11m-10-24h11m-11 38h11m-6-15h11m-9-9h11m-9-2h11m-6 23h11m-10-3h11m-10-7h11m-9-18h11m-11 26h11m-7-22h11m-10 10h11m-11-9h11m-6-11h11m-11 10h11m-7 12h11m-5-7h11m-8 11h11m-11-20h11m-10 16h11m-10 2h11m-11-20h11m-8 15h11m-10 0h11m-11 6h11m-10 1h11m-10-11h11m-11 22h11m-8-7h11m-10-18h11m-10 4h11m-7-8h11m-11 2h11m-9 3h11m-11-13h11m-8 2h11m-10 23h11m-10-6h11m-9-19h11m-8 0h11m-9 5h11m-11 9h11m-11 18h11m-9-16h11m-9 14h11m-11-5h11m-9 12h11m-10-19h11m-8-4h11m-10-4h11m-9 26h11m-10-11h11m-10-26h11m-7 30h11m-10-2h11m-10-15h11m-7 21h11m-11-24h11m-11 21h11m-10-30h11m-10 8h11m-11 9h11m-9-3h11m-9-6h11m-8 21h11m-11-22h11m-8 4h11m-11 7h11m-10 4h11m-11-16h11m-10 13h11m-4-10h11m-10 11h11m-8 11h11m-10-8h11m-11-19h11m-11 4h11m-7-6h11m-10 27h11m-10 0h11m-9-1h11m-6-5h11m-9-16h11m-10 21h11m-9-29h11m-9 2h11m-10 25h11m-9 5h11m-9-11h11m-10-1h11m-11-17h11m-9-4h11m-10 25h11m-9-24h11m-10 26h11m-11-4h11m-11 2h11m-10 0h11m-10-23h11m-8 16h11m-10-2h11m-10-11h11m-9 14h11m-11 8h11m-10-3h11m-11-16h11m-10 11h11m-9 7h11m-11 11h11m-10-6h11m-10-19h11m-11 3h11m-10 22h11m-10-10h11m-6 6h11m-6-10h11m-11 15h11m-10-6h11m-11-20h11m-8 7h11m-10-12h11m-11 16h11m-10-11h11m-2 21h11m-5-22h11m-9 10h11m-10-16h11m-11 28h11m-10-24h11m-8 21h11m-11 1h11m-9 1h11m-8-13h11m-3 2h11m-5 17h11m-11-20h11m-9 19h11m-9-35h11m-5 18h11m-11 12h11m-10-13h11m2-13h11m-4 23h11m-11-15h11m-10 25h11m-10-19h11m-3 15h11m-4-31h11m-11 1h11m-5 18h11m-7-10h11m-10 15h11m-10-14h11m-7-5h11m-5 24h11m-10-13h11m-9-4h11m-10-2h11m-11 8h11m-3 2h11m-8 9h11m-11-16h11m-11 10h11m-8-15h11m-11 14h11m-10-24h11m-9 3h11m-10 25h11m-11 5h11m-10-13h11m-8 4h11m-10-1h11m-11-16h11m-6 15h11m-5 10h11m-11-10h11m-6-14h11m-9 9h11m-9 7h11m-7 2h11m-9-6h11m-10 3h11m-10 9h11m-10-4h11m-9-6h11m-9-15h11m-10 2h11m-7 7h11m-11-2h11m-9 6h11m-9-13h11m-4 10h11m-10 13h11m-10-13h11m-11 14h11m-9-15h11m-10-4h11m-1 18h11m-2-29h11m-8 12h11m-9 14h11m-11 8h11m-9-2h11m-5-9h11m-7-21h11m-10 22h11m-1-1h11m-7 8h11m20-26h11m29 18h11m-8 10h11m3-7h11m3-7h11m-2 15h11m-11-15h11m6 8h11m-10-22h11m-7 18h11m-1-22h11m7 4h11m-8 10h11m15 10h11m-10-18h11m-10-9h11m-841 40h11m48 19h11m2 15h11m-10-33h11m-9 18h11m-10 12h11m-9-29h11m-9 30h11m-8-29h11m-11 15h11m-9 14h11m-7-8h11m-9-1h11m-10 13h11m-8-34h11m-9 24h11m-10 2h11m-9-23h11m-9-4h11m-10 32h11m-7-18h11m-11-2h11m-10 16h11m-8-7h11m-9-20h11m-10 4h11m-10 26h11m-10-20h11m-2 21h11m-7-29h11m-11 32h11m-11-33h11m-11 1h11m-9 23h11m-11-7h11m-5 6h11m-9-19h11m-7 7h11m-10 15h11m-10-2h11m-5-26h11m-9 36h11m-4 1h11m-8-22h11m-7 4h11m-10-4h11m-6-16h11m-8 35h11m-11-9h11m-10 5h11m-10 0h11m-10-16h11m-9-11h11m-11 4h11m-10 26h11m-10-11h11m-2-24h11m-10 24h11m-11-19h11m-10 24h11m-9-10h11m-10-12h11m-11 28h11m-11 4h11m-8-3h11m-7-33h11m-10 31h11m-11-15h11m-9-10h11m-7-2h11m-9 24h11m-4-21h11m-10-2h11m-8 15h11m-9 9h11m-8-26h11m-10 0h11m-10 10h11m-9 23h11m-11-25h11m-10 8h11m-8 16h11m-11 0h11m-10-6h11m-11-31h11m-11 19h11m-7 6h11m-10-18h11m-11-7h11m-10 15h11m-9-6h11m-9 3h11m-9-5h11m-4 26h11m-6-16h11m-8-12h11m-11-6h11m-10 13h11m-8 7h11m-10 13h11m-7-13h11m-11-18h11m-9 9h11m-9 20h11m-11-23h11m-8 19h11m-10-23h11m-7 17h11m-7-3h11m-9 8h11m-11 11h11m-8-20h11m-10 0h11m-7 5h11m-8-3h11m-10 17h11m-9-20h11m-9 22h11m-8-22h11m-10 6h11m-11-14h11m-10 20h11m-10-22h11m-10 17h11m-10 14h11m-9-11h11m-9-11h11m-10 18h11m-5-4h11m-9-15h11m-4 9h11m-11 2h11m-7-22h11m-11-2h11m-10 28h11m-6-27h11m-10 31h11m-11-32h11m-10 2h11m-10 34h11m-9-31h11m-9 8h11m-10 15h11m-9-15h11m-8-1h11m-9 13h11m-10-5h11m-1-6h11m-11 10h11m-10-24h11m-5 12h11m-11-4h11m-6 7h11m-10-13h11m-6 28h11m-11-8h11m-10-4h11m-9 6h11m-9-22h11m-6 23h11m-10 11h11m-6-32h11m-9 7h11m-10-5h11m-5 21h11m-10 3h11m-3-27h11m-9 26h11m-7-25h11m-10 27h11m-7-22h11m-11 23h11m-10-20h11m-11-10h11m-9 10h11m-10-7h11m-9-4h11m-11 25h11m-11-17h11m-1 19h11m-9-2h11m-11-23h11m-6 2h11m-9 12h11m-11-10h11m-9 28h11m-8 2h11m-5-16h11m-8 4h11m-8-20h11m-8 7h11m-11 23h11m-6-16h11m-9 17h11m-9-34h11m-9 17h11m-10-1h11m-10-2h11m-11 6h11m-7-10h11m-11-7h11m-8-6h11m-8 21h11m-11 14h11m-7-27h11m-10 4h11m-8 12h11m-11-7h11m-10 12h11m-9-28h11m-8 33h11m-9 2h11m-6-19h11m-9-3h11m-8-5h11m-8 8h11m-8 7h11m-11 7h11m-9-7h11m-9-5h11m-10-8h11m-9 24h11m-7-1h11m-11-32h11m-10 18h11m-9-9h11m-9 8h11m-11-2h11m-5 20h11m-11-32h11m-11-2h11m-10 5h11m-11 19h11m-9-14h11m-9 8h11m-7-4h11m-9 5h11m-10-22h11m-10 15h11m-9 3h11m-9 13h11m-9-27h11m-10 7h11m-8 2h11m-8 6h11m-10-18h11m-9 14h11m-1-3h11m-6 6h11m-4-18h11m-10 39h11m-9-20h11m-4-1h11m-7-9h11m-8 5h11m-5-6h11m-5-8h11m-1 8h11m-5 15h11m-7 6h11m-10-18h11m-9 16h11m-5 2h11m-7 2h11m-10-31h11m5 20h11m-8 18h11m-4-19h11m-11 1h11m-6 3h11m-9-11h11m-9 15h11m-10-23h11m-10 22h11m-3-17h11m-5-6h11m-5 36h11m-5-24h11m-3 14h11m5-17h11m-1 7h11m-5 1h11m-6-20h11m13 7h11m-845 63h11m27-10h11m28-2h11m-10-8h11m-5 10h11m-8-13h11m-3 21h11m-11-18h11m-3 4h11m-5-9h11m-7 19h11m-10-20h11m-9 33h11m-3-35h11m-9 7h11m-9 23h11m-10-17h11m-2 6h11m-10 13h11m-6-32h11m-11 22h11m-2-4h11m-8 18h11m0-26h11m-9 5h11m-8 18h11m-10-5h11m-8-4h11m-8-8h11m-8-9h11m-10-5h11m-11 26h11m-8-14h11m-4 3h11m-6 15h11m-11-10h11m-9-1h11m-8 2h11m-8 8h11m-7-29h11m-9 19h11m-8 2h11m-4-19h11m-4 8h11m-4 13h11m-10 6h11m-10-14h11m-9-12h11m-10-2h11m-11 11h11m-11-10h11m-9-4h11m-10 10h11m-10-1h11m-11 24h11m-7-9h11m-10-11h11m-10 8h11m-8 9h11m-11-31h11m-9 12h11m-11 5h11m-8 1h11m-11 19h11m-9-11h11m-10-8h11m-7 8h11m-10-11h11m-10-9h11m-8 3h11m-7 18h11m-11-6h11m-10-22h11m-7 30h11m-11-19h11m-9 25h11m-9-23h11m-8-1h11m-10 26h11m-3-13h11m-7 14h11m-10-24h11m-11 1h11m-7 20h11m-9-11h11m-7 12h11m-7-4h11m0-27h11m-6-6h11m-2 19h11m-9 14h11m-11-28h11m-10 16h11m-11 13h11m-11-5h11m-9 8h11m-11-2h11m-10 4h11m-10-20h11m-9 6h11m-11 8h11m-10-33h11m-11 31h11m-10 5h11m-8-35h11m-9 1h11m-8 11h11m-9 2h11m-2 3h11m-7 8h11m-9 2h11m-8-22h11m-11 10h11m-10 23h11m-10-36h11m-7 11h11m-11 9h11m-10-3h11m-10 10h11m1-16h11m-7 11h11m-10 0h11m-10-9h11m-11 1h11m-3 19h11m-8-2h11m-11-32h11m-10 23h11m-10 0h11m-10-24h11m-9 19h11m-10 2h11m-9-11h11m-8 5h11m-9-10h11m-6 27h11m-11-26h11m-10-2h11m-6 7h11m-10 24h11m-3-29h11m-11 12h11m-9 20h11m-8-8h11m-9-24h11m-9 20h11m-11-9h11m-6 2h11m-7-11h11m-7 9h11m-9 15h11m-7-23h11m-8 22h11m-10-20h11m-10-2h11m-10 20h11m-6-28h11m-7 16h11m-9 0h11m-8-9h11m-6-4h11m-5 34h11m-7-15h11m-11-23h11m-8 7h11m-4 9h11m-10 20h11m-11-3h11m-9-24h11m2 24h11m-7-34h11m-10 19h11m-6 0h11m-7 7h11m-8-15h11m2 16h11m-8-6h11m-7-15h11m-9 5h11m-10-9h11m-10 4h11m-10 6h11m-2 2h11m-8 0h11m-3-7h11m-9 29h11m-8-30h11m-10 32h11m-11-28h11m-7 1h11m-9 26h11m-7-20h11m-5 16h11m-7-27h11m-11 18h11m3-8h11m-8-13h11m0 18h11m-10 11h11m-6-28h11m-5 31h11m-6-2h11m-9-26h11m-10 27h11m-10-19h11m-4-12h11m-9 34h11m-8-2h11m-9-6h11m-9-3h11m-6 1h11m-9-25h11m-7 5h11m-2 12h11m-10 7h11m-2-2h11m0-1h11m-10-9h11m-10 19h11m-10-28h11m-8 1h11m-5-6h11m-4 39h11m-2-29h11m-1 15h11m-10 0h11m-2-10h11m-4 17h11m-818 40h11m10-29h11m56-1h11m-2 26h11m-5-19h11m-5 14h11m-11 1h11m-8 11h11m-4-10h11m-10-7h11m-9 19h11m-10-14h11m-10-13h11m-11-4h11m-8 5h11m-11 13h11m-10-1h11m9-13h11m-7 17h11m-9 0h11m-9-26h11m-9 22h11m-10 7h11m-10-23h11m-10 15h11m3-4h11m-9 14h11m-10-20h11m-10-10h11m-10 36h11m-9-23h11m-7 22h11m-11-37h11m-7 32h11m-3-13h11m-10-9h11m-2 27h11m-9-25h11m-10-1h11m-11 21h11m-9-28h11m-10 6h11m-1-10h11m-9 34h11m-9-9h11m-5-20h11m-7 17h11m-11-1h11m-10-1h11m-1 17h11m-8-33h11m-7 21h11m-7-19h11m-11 27h11m-10-12h11m-9-19h11m-9 25h11m-11-3h11m-10-18h11m-10 8h11m-11 9h11m-8-4h11m-9-7h11m-9 15h11m-9-22h11m-10 23h11m-2-28h11m-10 34h11m-10-29h11m-10-4h11m-11 24h11m-9-24h11m-11 15h11m-7-6h11m-6 14h11m-11-3h11m-9-20h11m-9 31h11m-2-10h11m-6-7h11m-10-12h11m-9 35h11m-6-25h11m-6 1h11m-11-7h11m-10-1h11m-10 22h11m-10 10h11m-10-13h11m-9-12h11m-8 10h11m-10 0h11m-10 12h11m-5-21h11m-10-11h11m-9 1h11m-11 32h11m-2-4h11m-8-24h11m-11-1h11m-11 25h11m-10 6h11m-11-18h11m-11 0h11m-4-11h11m-9 20h11m-5-14h11m-11 5h11m-10-10h11m-9 15h11m-10 3h11m-9 3h11m-9 0h11m-5-11h11m-9 18h11m-1-35h11m-10-2h11m-11 30h11m-9-5h11m-10-20h11m-10 6h11m-9 11h11m-7-1h11m-8-19h11m-9 17h11m-11-1h11m-8 13h11m-10 0h11m-11-10h11m-9 12h11m-9-23h11m-8 21h11m-7 3h11m-10 0h11m-4-8h11m-7-11h11m-4 6h11m-11-7h11m-4-10h11m-5 25h11m-2 9h11m-3-25h11m-7 8h11m-9 7h11m-8 2h11m-7-2h11m-9-1h11m2-9h11m-10 7h11m-9-8h11m-9-16h11m-4 11h11m-8 9h11m-11-21h11m-6 21h11m-11 17h11m-3-23h11m-10 9h11m-9 5h11m-10-8h11m-7-16h11m17 21h11m-5-14h11m-6 8h11m-11-5h11m-10 22h11m-2-8h11m-7-4h11m-9 6h11m-10-12h11m-11-8h11m-10 0h11m-10 0h11m-11-1h11m-2 17h11m-5-11h11m-9-17h11m-8 15h11m-7-1h11m-2 24h11m4-2h11m22-35h11m-10 36h11m-9-11h11m-10-9h11m-10-13h11m-11-2h11m-7-2h11m-11 14h11m-6 11h11m-7 8h11m-7-14h11m-2 16h11m-1-19h11m-9 13h11m-7 0h11m-11-18h11m-9 16h11m60-15h11m0-5h11m-743 42h11m3-9h11m-11 8h11m-11 25h11m-6-28h11m-7 18h11m-9 2h11m-2-19h11m-6 7h11m-9 22h11m-5-32h11m-8 12h11m-9 2h11m-8-17h11m-9 25h11m-7-13h11m-8-10h11m-8 24h11m-8-13h11m-7 11h11m-7-16h11m-6-2h11m-11 26h11m-9-6h11m-5 13h11m-10-37h11m-9 24h11m4-20h11m-9 22h11m1 4h11m-11-9h11m-9-17h11m-6 30h11m-7-16h11m-10 13h11m-7-1h11m-6-21h11m-11-7h11m-10 21h11m-6 7h11m-8-7h11m-10 3h11m-8-2h11m-11-13h11m-7 24h11m-10-14h11m-10 6h11m-11-4h11m-11 13h11m-7-26h11m-11-9h11m-8 31h11m-7-28h11m-10 19h11m-11 4h11m-5-1h11m-5 11h11m-10-34h11m-10 26h11m-10-6h11m-7-19h11m-11-5h11m-11 13h11m-8-6h11m-10 2h11m-10 22h11m-8-32h11m-10 14h11m-8 20h11m-10-27h11m-9 25h11m-11-25h11m1 9h11m-11 17h11m-11-14h11m-7-14h11m-11 19h11m-10-5h11m-4 1h11m-11-17h11m-8 17h11m-7-16h11m-11 29h11m-8-33h11m-7 19h11m-10 19h11m-10-29h11m-11 12h11m-7 14h11m-11-23h11m-9 18h11m-5-6h11m-5-5h11m-10-11h11m-8 27h11m-6-10h11m-10 5h11m-10-11h11m-8 12h11m-5-17h11m-4-13h11m-3 24h11m-9-16h11m-8-4h11m-10 19h11m-9-16h11m-7-1h11m-9-4h11m-11 30h11m-6 0h11m-11 1h11m-8-4h11m-11-30h11m-7 17h11m-8 6h11m-11-2h11m-7-12h11m-11 9h11m-10 20h11m-10-37h11m-7 19h11m-10-1h11m-5 3h11m-10 5h11m-10-16h11m-7 12h11m-9 2h11m-10 2h11m-11-19h11m-11 3h11m-11-4h11m-7 16h11m-9 15h11m-3-33h11m-9 22h11m-7 12h11m-10-10h11m-9-17h11m-4 22h11m1-21h11m-8 21h11m-10-1h11m3 3h11m-9-11h11m-10 4h11m-8 8h11m-11-31h11m-11 3h11m-7-8h11m-11 25h11m-6-12h11m-6-13h11m-10 13h11m-10 10h11m-6 10h11m-8-1h11m-10-25h11m-10 9h11m-9 9h11m-3 9h11m-8-1h11m-5 5h11m-3-8h11m-7-3h11m-10-3h11m-10 0h11m-10-16h11m-9 20h11m-8 10h11m-11-1h11m-8-31h11m1-1h11m-10 17h11m-10-16h11m3 19h11m-9-25h11m-10 38h11m0-30h11m4 5h11m-10 18h11m-8-13h11m-9 8h11m13-15h11m-7 2h11m-10 13h11m11-25h11m6 0h11m-9-1h11m-3 17h11m-738 52h11m-9 0h11m9 9h11m0-3h11m5-22h11m-8 10h11m-5 12h11m-8-17h11m-9 1h11m0 6h11m-9-1h11m-7 7h11m-3-11h11m0-10h11m-10 2h11m-10 14h11m-11-13h11m-8-10h11m-11 12h11m-10 7h11m-9-11h11m-9-10h11m-6 16h11m-10-16h11m-11 8h11m-10 6h11m-10-3h11m-11 24h11m-7-32h11m-11 5h11m-11 8h11m-10 7h11m-10 0h11m-8-19h11m-10 6h11m-10 21h11m-7-17h11m-7 0h11m-8 3h11m-10-9h11m-10-8h11m-9 17h11m-9-17h11m-11 15h11m-6 18h11m1-21h11m-10-6h11m-8-5h11m-8 1h11m-9 26h11m-8-5h11m-6-4h11m-7-13h11m-6 24h11m-9-8h11m-10 12h11m-7-13h11m-8-11h11m-11 3h11m-7-7h11m-9 31h11m-3-34h11m-10 30h11m-9-5h11m-11-6h11m-8 7h11m-8-23h11m-1-6h11m-10 14h11m-9 19h11m-11 4h11m-7-27h11m-7 11h11m-5-11h11m3-2h11m-8 12h11m-9 10h11m-10-18h11m-7-9h11m-10 4h11m-8 24h11m-9 4h11m-7-3h11m-6-20h11m-5-1h11m-9 13h11m-8 13h11m-9-36h11m-9 9h11m-3 13h11m-10-7h11m-1-4h11m-8 21h11m0-3h11m-4-22h11m-8-2h11m-10 0h11m-11-8h11m-5 1h11m-7 37h11m-4-3h11m-3-5h11m-5-16h11m-9-6h11m-7 24h11m-11 0h11m-10 1h11m-10 4h11m-10-13h11m-11 13h11m-9-9h11m-9-12h11m-8-9h11m-5-2h11m-11 8h11m-2 16h11m-7-25h11m2 14h11m-9 9h11m-11-20h11m-10 26h11m-9-27h11m-11 4h11m-9 12h11m-10 16h11m-10-29h11m-10-3h11m-10 9h11m-2-15h11m-9 29h11m-11 4h11m6-23h11m-10 27h11m-11-3h11m1-4h11m-9-12h11m-10 11h11m-4-27h11m-6 25h11m-10-15h11m-10 3h11m-11 4h11m-7 12h11m-5-8h11m-8 4h11m-3 9h11m-9-33h11m-9 2h11m-8 16h11m-10-8h11m-9 17h11m-11-24h11m-9 3h11m-7 9h11m-10 16h11m-7-28h11m-10 24h11m-4-17h11m-11 13h11m-7 12h11m-10-22h11m2 18h11m-8-6h11m-9 6h11m0-29h11m-7 26h11m-9 4h11m-1-30h11m-6 3h11m-9-1h11m-4 11h11m-7-12h11m14 0h11m82 14h11m-763 39h11m13 3h11m35-18h11m0 7h11m-5-10h11m68 12h11m-6-7h11m-9 0h11m-4-3h11m-1 6h11m-7 8h11m-5-11h11m9 6h11m-6 9h11m-9-11h11m-10-10h11m8 10h11m-6-4h11m-6 0h11m-10 16h11m-5 0h11m-5-5h11m-8 0h11m-5 16h11m-11-28h11m-5 31h11m1-25h11m-10 0h11m1-6h11m-3 19h11m-10-19h11m-9 3h11m-9 23h11m-11-24h11m-3 6h11m-9 14h11m-8-21h11m-1 23h11m-6-2h11m-10 2h11m3 7h11m-9-15h11m-9-8h11m-10-9h11m-8 16h11m-11-13h11m-11 5h11m-10 12h11m-9 13h11m-2-5h11m-10-17h11m-7 18h11m-11-19h11m-6 10h11m-8-15h11m-11 15h11m-6-2h11m-9-20h11m-6 29h11m-8-1h11m-8-18h11m-5 3h11m-8 3h11m-11-5h11m-7-13h11m-11 9h11m-1-3h11m-10 26h11m-10 6h11m-10-18h11m-11-11h11m-4 18h11m-4 4h11m-10-2h11m-8-25h11m-9 10h11m-10-11h11m-10 8h11m-11 10h11m-10 11h11m-6-20h11m-3-12h11m-9 39h11m-1-34h11m-9 19h11m-9-10h11m0 5h11m-10-8h11m-6 27h11m-11-6h11m-5-17h11m-9 3h11m-9 2h11m-11-13h11m-9-5h11m-11-1h11m-4 11h11m-9-1h11m-7-3h11m-10 27h11m-1-23h11m-9-3h11m-9 9h11m-10-4h11m-7 3h11m5 21h11m-6-3h11m-10-17h11m-6-12h11m1 5h11m-304 35h11m-10-6h11m1 1h11m-2-1h11m36 16h11m-5-15h11m-10 2h11m1 3h11m-5 2h11m-10-6h11m-9 0h11m-3-2h11m-9 23h11m-6-15h11m-2 12h11m-7-15h11m-5 10h11m9-14h11m-4 17h11m-5-16h11m5 6h11m3-4h11m-10-1h11m-10 15h11m-9 10h11m-5-22h11m35 2h11m-6 8h11m-269 50h11m124-15h11m36 42h11" stroke="#F8766D" stroke-width="11" fill="none" transform="scale(.1)"/>
<path d="M1144 718h11m404-23h11m-564 59h11m31-6h11m1 5h11m-10 6h11m-4-16h11m6 15h11m-9-6h11m17-13h11m-7 10h11m1-10h11m-7 15h11m-1-3h11m-8 6h11m-4-23h11m-10 19h11m-11-8h11m-7 7h11m-10-6h11m-5 12h11m-3-13h11m1-3h11m4 13h11m-4-26h11m-7 15h11m-10-6h11m-9 18h11m-5-23h11m5 0h11m-8 26h11m-9-36h11m-7 19h11m3 2h11m-1 7h11m21-16h11m-3 24h11m6-3h11m3 3h11m-5-10h11m40 0h11m15 9h11m25-2h11m-624 41h11m43-2h11m-6-7h11m4 3h11m3 3h11m1-10h11m-11 9h11m-1-1h11m1 7h11m-10-26h11m-8 18h11m-11-7h11m-4-22h11m-8 15h11m-7 1h11m13 21h11m-6-36h11m5 32h11m-6-34h11m-10 20h11m-8-14h11m-7 5h11m-10 21h11m-3-12h11m-7 7h11m-10-5h11m-11 15h11m-4-5h11m-7-1h11m-10-5h11m-11 12h11m-5-36h11m-7 18h11m-11 12h11m-9-25h11m1 2h11m-11 15h11m-9-2h11m-10-2h11m-5-18h11m-2 35h11m-6-14h11m-6-24h11m-11 35h11m-8-12h11m-5 0h11m-1 4h11m-9-23h11m-11 32h11m-8 2h11m-8-17h11m-7-17h11m3 12h11m-7 0h11m-7-16h11m-5 6h11m-8 17h11m-10-5h11m-6-14h11m-9 2h11m-7-5h11m-10 16h11m-6 11h11m-8-17h11m-11 20h11m-10-26h11m-5 28h11m-2-32h11m-4 17h11m-11 5h11m-10-14h11m-8-1h11m-8 28h11m0-35h11m-5 1h11m-7 32h11m-9-11h11m-10 10h11m-5-24h11m-8-1h11m0 15h11m-11 12h11m-9-2h11m-9-10h11m-6-22h11m-7 12h11m-9 9h11m-10 13h11m-10-3h11m-6-20h11m-6-3h11m12 5h11m-7 19h11m-8-33h11m-11 22h11m-10-1h11m-7-8h11m-11 12h11m-10 13h11m-6-22h11m-10 12h11m-11-18h11m-8 3h11m-10-10h11m-8 4h11m-10 21h11m-11-27h11m-11 27h11m-6-3h11m-7 3h11m-9-10h11m-7-7h11m-9 22h11m-7 5h11m-9-23h11m-9 0h11m-7 18h11m-10 0h11m-8-2h11m-11 2h11m-11-20h11m-8 18h11m-3 7h11m-11-24h11m-11 19h11m-8-1h11m-1 4h11m0-19h11m-11-15h11m-10 9h11m-10 5h11m-11-10h11m-3 26h11m-11 5h11m-8-1h11m-10-32h11m-10 28h11m-11-9h11m-10 16h11m-10-10h11m-10-5h11m-10 14h11m-7-22h11m-8 17h11m-7-4h11m-9 4h11m-8-20h11m-6 21h11m-10-12h11m-9 10h11m-11 2h11m-2-8h11m-11 9h11m-7 4h11m-10-2h11m-4-17h11m-7 4h11m-2 12h11m-7-18h11m6 17h11m-9-9h11m-9 5h11m-6 6h11m1-2h11m-6-8h11m16 11h11m-9-20h11m-735 50h11m-2 11h11m-10-29h11m-7-10h11m-9 39h11m-7-14h11m-11-11h11m-8-7h11m-7 6h11m-3 9h11m-11-10h11m-9 22h11m-11-18h11m-1 22h11m-5-4h11m-10-4h11m-7-1h11m-10-9h11m-7-6h11m-11 13h11m-10-7h11m-5-12h11m-8-1h11m-4 27h11m-8-10h11m-9 8h11m-10 4h11m-8-3h11m-3-7h11m-6-17h11m-10 21h11m-9-21h11m-10 10h11m-10-6h11m-10-10h11m-11 18h11m-4-18h11m-10 22h11m-8-20h11m-9 23h11m-5 8h11m-9-5h11m-10 5h11m-8-6h11m-8-11h11m-9 18h11m-9-18h11m-10 17h11m-10-14h11m-7 9h11m-9-3h11m-10 3h11m-9-19h11m-9 8h11m-9 10h11m6-27h11m-8 23h11m-10-3h11m-6-22h11m-7 8h11m-11 18h11m-10-11h11m3-14h11m-11 6h11m-11 28h11m-6-18h11m-8 17h11m-5-15h11m-10 4h11m-4-2h11m6-4h11m-3-1h11m-10-7h11m-7-10h11m-9 13h11m-10 19h11m-3-1h11m-7-11h11m-9-20h11m-7 24h11m-10 12h11m-10 2h11m-8-13h11m-7-14h11m-10 15h11m-9-14h11m-9-4h11m-9 14h11m-4-7h11m-10 20h11m-9-11h11m-11-9h11m-3 16h11m-7-6h11m-8-4h11m-9-12h11m-10 6h11m-10-12h11m-10 28h11m-8-5h11m-11 9h11m-10-25h11m-9 16h11m0-12h11m-5 2h11m-10-12h11m-11 18h11m-11-2h11m-7-6h11m-8 21h11m-9-12h11m-4 14h11m0-20h11m-7 19h11m-11-12h11m-10 4h11m5-16h11m5 0h11m-5 9h11m-2 1h11m9-13h11m-11 0h11m-10-9h11m-9 8h11m-11 28h11m-10-26h11m-8 3h11m-8 5h11m-7-8h11m-10 15h11m-8-18h11m-11 30h11m-9-21h11m-11 19h11m-9-11h11m-9-7h11m-9-17h11m-5 5h11m-7 18h11m-10-6h11m-9-1h11m-11 9h11m-9-21h11m-9 14h11m-11 21h11m-7-31h11m-9 13h11m-8-16h11m-6 30h11m-9-31h11m-8 25h11m-9 7h11m-7-30h11m-10 0h11m-9 19h11m-9-22h11m-10 17h11m-11-6h11m-10-1h11m-8-7h11m-7 10h11m-8 18h11m-9 1h11m-9-32h11m-9 20h11m-10-11h11m-10 8h11m-11-10h11m-7 25h11m-10-25h11m-6-10h11m-9 7h11m-9 20h11m-11-8h11m-9 8h11m-10 8h11m-7 1h11m-10-25h11m-9 15h11m-9 12h11m-10-38h11m-11 27h11m-10-14h11m-5 6h11m-11 18h11m-10-21h11m-9 22h11m-10-2h11m-11-15h11m-7 9h11m-9 7h11m-10-1h11m-11 0h11m-8 0h11m-11-14h11m-10 3h11m-10-17h11m-11 7h11m-9-15h11m-8 21h11m-11 11h11m-10-29h11m-10 15h11m-9 9h11m-10-12h11m-11 15h11m-11-15h11m-9 13h11m-11-3h11m-10 2h11m-11-7h11m-10 3h11m-10-14h11m-8 2h11m-9 10h11m-10 13h11m-11-9h11m-8-14h11m-11 14h11m-11-14h11m-10-3h11m-7 25h11m-11-21h11m-7 5h11m-7 21h11m-10-22h11m-10-14h11m-10 12h11m-8-7h11m-10 7h11m-9 19h11m-10-5h11m-11-18h11m-11 22h11m-10-7h11m-11 9h11m-6-5h11m-11 4h11m-10 4h11m-10-12h11m-10-9h11m-11-6h11m-10-4h11m-9 13h11m-10 13h11m-10-10h11m-8-10h11m-10 14h11m-11 5h11m-10-26h11m-10 18h11m-10-15h11m-8 2h11m-10-4h11m-9 23h11m-11-15h11m-9 15h11m-9-14h11m-3 5h11m-4 1h11m-4-4h11m-10 3h11m-10-12h11m-7 18h11m-9 0h11m-8-2h11m-9-6h11m4-8h11m-752 56h11m-6-22h11m7 5h11m-4 26h11m-6-10h11m-7-1h11m-11 10h11m-6-16h11m-1-14h11m-6 0h11m0 17h11m-3 16h11m-9-19h11m-11 2h11m3 4h11m-11-18h11m-7-1h11m-7 19h11m-10 1h11m-9-10h11m-6 21h11m-7-3h11m-8-2h11m-11 6h11m-10-29h11m-5 29h11m-9-29h11m-10 23h11m-9 2h11m-10 0h11m-10-33h11m-1 27h11m-9-26h11m-5 0h11m-6 8h11m-11-4h11m-6 14h11m-8-13h11m-4 14h11m1 0h11m-7-3h11m-10 14h11m-9 2h11m-5 5h11m-5-18h11m-7 9h11m-8 0h11m-7-22h11m-3 11h11m-7-15h11m-8 31h11m-2-18h11m-2 2h11m-6 0h11m-8 8h11m-6-12h11m-9-11h11m-11 32h11m-9-2h11m-7-32h11m2 14h11m-6-8h11m-5 24h11m-9-18h11m-9 12h11m-10-18h11m-10 3h11m-10 27h11m-7-14h11m-10-10h11m-10 5h11m-11 11h11m-11-16h11m-8-1h11m-8 15h11m-3-22h11m-10 8h11m3 6h11m-6-2h11m-10 17h11m-5-16h11m-10-8h11m-10 16h11m-9-23h11m-10-1h11m-6 22h11m-8-6h11m-11-18h11m0 38h11m-8-24h11m-9-10h11m-10 20h11m-7-22h11m-7 6h11m1-4h11m-10 32h11m-11-26h11m-2 15h11m-4-25h11m-10 24h11m-7-13h11m-9 10h11m-6 6h11m-9-4h11m-8-1h11m-7-21h11m-11 11h11m-3-5h11m-11 26h11m-11-4h11m-9-8h11m-10 5h11m-6-20h11m-9 29h11m-10-15h11m-11-12h11m-8 8h11m-9 16h11m-7-26h11m-10-6h11m-7 39h11m-9-39h11m-8 2h11m-8 33h11m-10-18h11m-8 8h11m-7 12h11m-5-12h11m-11 6h11m-10 3h11m-7-3h11m-8-18h11m-11 26h11m-7-30h11m6 0h11m0 18h11m-5 8h11m-6 4h11m-5-28h11m-10 15h11m-9 6h11m-11-30h11m-9 10h11m-5 1h11m-10 16h11m-10 6h11m-11-29h11m-11 19h11m-8-3h11m-11-20h11m-7 19h11m-8 13h11m-10 3h11m-8-29h11m-7 23h11m-10-23h11m-10 24h11m-11-17h11m-11 3h11m-10 17h11m-11-29h11m-7 12h11m-9-14h11m-7 17h11m-10-21h11m-5 38h11m-11-37h11m-8 28h11m-11-22h11m-11 16h11m-8-12h11m-10-2h11m-10 7h11m-10 14h11m-10-7h11m-10 5h11m-10 0h11m-7-25h11m-11 5h11m-9 0h11m-7 12h11m-9 2h11m-10-16h11m-10 7h11m-9-4h11m-9 5h11m-9 3h11m-10-12h11m-9 34h11m-10-30h11m-6 15h11m-10-4h11m-10-7h11m-11 13h11m-11-25h11m-10 24h11m-10 2h11m-8 6h11m-10 4h11m-11-22h11m-10 24h11m-11-26h11m-10 14h11m-5 7h11m-11-29h11m-10 29h11m-4-28h11m-5 9h11m-9 0h11m-9 8h11m-7 13h11m-11-22h11m3 6h11m-7 10h11m-10 4h11m-10-18h11m-11 1h11m-3-16h11m-3-1h11m-10 9h11m-11 27h11m-10-4h11m-8-7h11m-9-8h11m-7 21h11m-8-14h11m-4-10h11m-10-7h11m-10-7h11m-9 16h11m31-9h11m-4 5h11m-792 45h11m14 19h11m-10-20h11m0 1h11m-10-1h11m-10 18h11m-7-2h11m-11-4h11m-8-16h11m-4 24h11m-3-7h11m-10-16h11m-7 13h11m-8 2h11m-11-12h11m-8-4h11m-11 25h11m-7-37h11m-4 36h11m-9-36h11m-6 30h11m-10 1h11m-10-15h11m-10 21h11m-9-13h11m-10 1h11m-9 11h11m-11-5h11m-10-30h11m-9-1h11m-10 3h11m-10 24h11m-8-23h11m-11 0h11m-8-1h11m-9 21h11m-9-2h11m-7-3h11m-11 14h11m-11-10h11m-10 11h11m-10 3h11m-10-32h11m-10 8h11m-6-4h11m-6-4h11m-9 32h11m-7-31h11m-11 6h11m-9 24h11m-10-28h11m-9 22h11m-10-17h11m-9 13h11m-11-21h11m-10 0h11m-10 30h11m-10-23h11m-4-5h11m-10 27h11m-9-31h11m-9 33h11m-10-9h11m-11-10h11m-6 8h11m-7-2h11m-8-19h11m-8 4h11m-8 25h11m-6-1h11m-10-3h11m-9 6h11m-10 3h11m-10-38h11m-1 34h11m-8-4h11m-8-13h11m-10 5h11m-10-2h11m-7-20h11m-8 7h11m-8 24h11m-9-15h11m-10-6h11m-10 0h11m-4 21h11m-9 6h11m-5-17h11m-10 4h11m-5 4h11m-4 7h11m-8-20h11m-10 1h11m-10 17h11m-8-7h11m22-21h11m-4 24h11m-9-22h11m-11 9h11m-7 5h11m-10 1h11m12-7h11m2-14h11m-10 18h11m-7 14h11m-9-16h11m7 9h11m-9 1h11m-6 12h11m-2-23h11m-11 10h11m-3 11h11m-7-7h11m-11-16h11m-10-6h11m-9 31h11m-11-13h11m1-5h11m-10-17h11m-9 8h11m-10-8h11m-5 11h11m-3-5h11m-1-6h11m-9 31h11m-9-24h11m-9 11h11m-10-3h11m-10 1h11m-10-8h11m0-7h11m-11 23h11m-5-11h11m-11 22h11m-10-39h11m-10 27h11m-7 10h11m-11-20h11m-7 21h11m-6-23h11m-10-8h11m-11-6h11m-9 30h11m-6-29h11m-11 15h11m-8 10h11m-8-21h11m-4-2h11m-2 1h11m-6 4h11m-10-7h11m-5 15h11m-9 5h11m-11-3h11m-5 16h11m-10 4h11m-10-22h11m-7 22h11m-10-7h11m-6-17h11m-10-6h11m-11 18h11m-3 7h11m-5-19h11m-10 23h11m-6-9h11m3-20h11m-1 3h11m-2 3h11m-10 17h11m-10-31h11m-8 27h11m-10 9h11m-9-32h11m-10 5h11m-8 0h11m-10-10h11m1 39h11m-5-9h11m-11-30h11m-9 38h11m6-20h11m-10-8h11m-10 10h11m-9-20h11m-8 18h11m-9-7h11m-1 21h11m1-14h11m-11-18h11m-6 29h11m-6-27h11m-10 18h11m-9-2h11m-2 14h11m-10-8h11m0 8h11m-7-20h11m-2-7h11m-4 5h11m5-6h11m3 12h11m-768 32h11m4 28h11m10-28h11m-7 11h11m-4 19h11m-5-2h11m-1-33h11m-10 10h11m-7 17h11m-11 4h11m-11-8h11m-11 10h11m-8 0h11m-11-9h11m-8-13h11m-4 20h11m-10-22h11m-11 2h11m-11 12h11m-10 4h11m-10 5h11m-9-21h11m-8-1h11m-9 0h11m-9 19h11m-11-2h11m-8 2h11m-7-16h11m-7 22h11m-6-38h11m-10 28h11m-6-27h11m-10 27h11m-7-5h11m-9 1h11m-11-15h11m-9 26h11m-10-3h11m-10-18h11m-8 16h11m-10-21h11m-9 14h11m-10-4h11m-10 0h11m-9-16h11m-8 19h11m-9 11h11m-9 3h11m-8-14h11m-8-18h11m-11-4h11m-3 21h11m-2 14h11m-11-10h11m-9 13h11m-8-5h11m-6-14h11m-10 9h11m-10 7h11m-10-19h11m-10 18h11m-7-18h11m-2 13h11m-9 9h11m5-7h11m-10-10h11m-11 18h11m-1-8h11m-11-31h11m-9 28h11m-6-28h11m-5 14h11m-11 24h11m-7-37h11m-10 13h11m-10 16h11m-10-25h11m-9 14h11m-9 0h11m-3 10h11m-7 4h11m-8-30h11m-11-3h11m-4 17h11m-3-12h11m-9 33h11m-9-11h11m-10-7h11m0-2h11m-4-13h11m-8 5h11m-10 21h11m-10-14h11m-10-4h11m-10-12h11m-10 11h11m-7 9h11m-5-6h11m-8 15h11m-11-14h11m-10 20h11m-2-7h11m-5-1h11m-8 1h11m-11-19h11m-5-7h11m-11 8h11m-7-11h11m-8 27h11m4-27h11m-10 29h11m-9 10h11m-9-14h11m-8 13h11m-2-15h11m-4-15h11m-11 7h11m-11 6h11m-5-3h11m-6-9h11m-11 15h11m-11 12h11m-5-34h11m-2 23h11m-10 3h11m-11 2h11m-9-13h11m-11-2h11m-8 11h11m4-24h11m-11 26h11m-10-10h11m-9 12h11m-8-8h11m2-9h11m1 9h11m-7-4h11m-8 5h11m-9 4h11m-8-3h11m-10 11h11m-9-2h11m-10 1h11m-7-32h11m-10 23h11m-7-12h11m-9 1h11m-3-13h11m-10 16h11m-8 5h11m-1-3h11m-10 0h11m-8 12h11m-10 2h11m-9 0h11m-10-3h11m0-26h11m-5 31h11m-1 4h11m-10-10h11m-9-18h11m-3 15h11m-1-5h11m-8-20h11m-8 25h11m-6 6h11m-9 5h11m-3-8h11m-9-1h11m0-18h11m-3 2h11m-10 4h11m-7 6h11m-8-6h11m-4-15h11m-9 21h11m-6-14h11m-10-7h11m-11 10h11m-10 20h11m-9 7h11m0-9h11m-6-10h11m-11 11h11m-4-14h11m-10-1h11m7 3h11m-7 4h11m-7-3h11m-11-17h11m0 1h11m-3-3h11m-11 8h11m-685 43h11m-10 23h11m-7-9h11m-2-18h11m-5 15h11m-10 17h11m-8-1h11m-9-32h11m-10 25h11m-4-2h11m-9 8h11m-9-25h11m-6 13h11m-10 8h11m-6-28h11m-9 14h11m-10-10h11m-11 24h11m-9 6h11m-11-16h11m-10-13h11m-10 25h11m-10 4h11m-8-9h11m-9-1h11m-11-24h11m-9 23h11m-10 5h11m-9 1h11m-7-18h11m-4 19h11m-11-30h11m-7 21h11m-10-24h11m-11 37h11m-8-15h11m-9-15h11m-9 23h11m-10 6h11m-8-38h11m-11 24h11m-11-17h11m-11 13h11m-10 5h11m-9-15h11m-10-5h11m-11 4h11m-11-7h11m-9 19h11m-9 11h11m-10-12h11m-10-18h11m-8 13h11m-6 1h11m-9 7h11m-9-5h11m-10-14h11m-10 29h11m-10-25h11m-10 14h11m-9-13h11m-9 14h11m-11-18h11m-10 9h11m-8-2h11m-9-8h11m-10 23h11m-10 7h11m-10 4h11m-6-15h11m-7 8h11m-9-11h11m-6 15h11m-11-23h11m-11 11h11m-11-18h11m-7-4h11m-7 32h11m-10-1h11m-9-17h11m-11 3h11m-4-14h11m-11 17h11m-10-11h11m5 8h11m-10 14h11m-11-30h11m-8 18h11m-10-16h11m-6 35h11m-9-11h11m-11-24h11m3 19h11m-8-7h11m-9 23h11m-9-32h11m-11 15h11m-8-14h11m-5 24h11m-3-5h11m-8-1h11m-10-10h11m-6 3h11m-8-11h11m-10-4h11m-8 34h11m-2-3h11m-11-24h11m-2 7h11m-5-11h11m-7 17h11m1 10h11m-6-18h11m-5 19h11m11-34h11m-10 20h11m-4 6h11m-10 1h11m-7-16h11m-8 20h11m-11 0h11m-10 3h11m-11-33h11m-1 29h11m-9-20h11m-10 6h11m-10-3h11m-4 25h11m-8-9h11m-10-28h11m-10 27h11m-10-27h11m-5 34h11m-10-20h11m-6-2h11m-7 16h11m-10-15h11m-8-12h11m-9 16h11m-6 19h11m-4-32h11m-7 10h11m-8-15h11m-7 12h11m-4 22h11m-9-34h11m-6 22h11m-5-14h11m-9 0h11m-11-5h11m-7-1h11m-7 18h11m-2-16h11m-7-3h11m-11 15h11m-6 9h11m-4 11h11m-6-36h11m-11 22h11m-3 8h11m-9-13h11m-5 8h11m-2 9h11m-4-32h11m-3 13h11m-8-8h11m6 9h11m-9-14h11m-9 19h11m-11-15h11m-10 16h11m-6 3h11m-11-25h11m-5 9h11m-9 26h11m-11-22h11m-9 5h11m-10 0h11m-8-17h11m-7 18h11m-10-3h11m-5 13h11m-8-11h11m-11-3h11m7-4h11m-7-1h11m-10-5h11m-2 1h11m7 11h11m-9-6h11m-9-8h11m-1-4h11m20 16h11m-747 51h11m19-21h11m26 30h11m20-29h11m0 0h11m-8 10h11m-7 16h11m-10-1h11m-9-4h11m-5-9h11m-10-4h11m-11 4h11m-1 1h11m-11 1h11m-10-13h11m-10 30h11m-10-22h11m-7 11h11m-5-11h11m-6 1h11m-8 22h11m-8-13h11m-10-24h11m-6 23h11m-11-18h11m-10 9h11m-9 15h11m-10-10h11m-11-8h11m-4 12h11m-9-16h11m-10 19h11m-10-1h11m-8-10h11m-10 19h11m-11 2h11m-6-19h11m-6-2h11m-11-10h11m-10 5h11m-8 9h11m-10-2h11m-10-8h11m-3-10h11m-11 6h11m0 32h11m-2-34h11m-11 7h11m-10 4h11m-11-10h11m-10 26h11m-11-4h11m-7 7h11m-6-19h11m-10-7h11m-10 28h11m-11-12h11m-10 12h11m-8-12h11m-7-15h11m-9 7h11m-8-15h11m-10 11h11m-4-8h11m-10 18h11m5-9h11m-11 7h11m-8 4h11m-10 0h11m-6 1h11m-11-19h11m6-7h11m-7 8h11m-11 8h11m-9 0h11m-10 15h11m-10-23h11m-9 16h11m-7-2h11m-11 5h11m-10 6h11m-8 6h11m-8-15h11m-1 9h11m3-22h11m-11-11h11m-9 13h11m-11 13h11m-8-1h11m-11 1h11m-11 9h11m-5-12h11m-5 11h11m-6 4h11m-9-21h11m-8-6h11m-9 21h11m-10-14h11m-10-8h11m-10 9h11m-7 2h11m-3 13h11m-7-26h11m-9 7h11m-6 21h11m-10-35h11m-11 10h11m-10 2h11m-3 20h11m-10-2h11m-5-4h11m-11-2h11m-7-1h11m-10-22h11m-10 14h11m-10-15h11m-10 20h11m-5 13h11m0-9h11m1 5h11m-8-5h11m2-12h11m-8 25h11m4-18h11m3-1h11m-1-17h11m-10 5h11m-6-4h11m-10 2h11m-11 17h11m-8 8h11m-5 0h11m-9 1h11m-4 0h11m-9-10h11m-11 3h11m-11-10h11m1 13h11m-7 1h11m1-26h11m-9 24h11m-3-22h11m-9 14h11m-7 13h11m-5-19h11m-11 14h11m-9-19h11m-8 5h11m-6 19h11m0-25h11m-8 1h11m-512 41h11m-9 31h11m-4-26h11m-6-2h11m-8 11h11m-9-1h11m-9-21h11m-11 39h11m-4-25h11m-7 12h11m-10 0h11m-5 12h11m-8-12h11m-4-8h11m-7 21h11m-11-34h11m-2 0h11m-11 32h11m-6-22h11m-11 6h11m-9 6h11m-6-23h11m-3 27h11m-10 0h11m-11-27h11m-7 17h11m-10-5h11m-5-2h11m-10 19h11m-10-19h11m-8-7h11m-10-3h11m-3 26h11m-7-21h11m-1 21h11m-10-3h11m-11-23h11m-10 19h11m-5-20h11m-8 28h11m-6-15h11m-10-15h11m-10 11h11m-5 22h11m-9-9h11m-10-13h11m-1 8h11m-8-9h11m-9-5h11m-8 15h11m-8-3h11m-8-3h11m-9 9h11m-8-23h11m-11 7h11m-8-1h11m-10 29h11m-8-29h11m-10 5h11m-11-12h11m-2 17h11m-9 7h11m-5 8h11m-11-24h11m-11 11h11m-9-9h11m-10 7h11m-8-3h11m-11-11h11m-5 13h11m-6-4h11m1 17h11m-4-3h11m-4-11h11m-9 16h11m-9-10h11m-11 4h11m-5-16h11m-6 21h11m-8-2h11m-3-3h11m-10 4h11m-11-23h11m-8-6h11m-9 6h11m-10 2h11m-4 7h11m-7-12h11m-10-2h11m-6 28h11m-3 3h11m-9-20h11m-8 1h11m-8-8h11m-10-2h11m-4 36h11m1-16h11m-9-6h11m-10 15h11m-8 3h11m-9-1h11m-5-12h11m-11-17h11m-5 29h11m-10-17h11m-5-12h11m-10-3h11m-8 17h11m-9-14h11m6 10h11m-4 5h11m-10-4h11m-9 23h11m-4-13h11m-9 9h11m-6-1h11m-11-7h11m1 8h11m-8-6h11m-9-23h11m-10 16h11m-10 1h11m-3-13h11m-4 7h11m2-1h11m-6 20h11m-8-26h11m-5 18h11m-10 2h11m4-12h11m-4-14h11m-516 40h11m-1 18h11m39-22h11m-2 5h11m-10-2h11m-6 11h11m-7 1h11m-9 7h11m-3 7h11m-1-17h11m-10 7h11m-10 20h11m-10-16h11m-10 4h11m-8-14h11m-6 1h11m-9 24h11m-4-4h11m-9-34h11m-7 2h11m-8 31h11m-10-29h11m-8 21h11m3 3h11m-4 5h11m-9-31h11m-8 7h11m-8-3h11m-10 14h11m-8-4h11m-11 13h11m-2-15h11m-8 1h11m-10 8h11m-6-19h11m-6 8h11m-9 17h11m-10 3h11m-10-5h11m-9-1h11m-11-18h11m-8 24h11m-10-17h11m-6 4h11m-10 19h11m-7-20h11m-4-12h11m-10 23h11m-6 6h11m-10-7h11m7 6h11m8-18h11m-7 3h11m-10 4h11m-10 14h11m-4-10h11m-9 4h11m-3-22h11m-5 2h11m-11 1h11m-9-7h11m-6-4h11m-6 10h11m-8-7h11m-4 7h11m-10-5h11m-10-6h11m-3 20h11m-8-12h11m-8 26h11m-10-19h11m-11 4h11m-9 3h11m-9 3h11m-8 2h11m-9 2h11m-10-19h11m0-1h11m-7-4h11m-8 0h11m-10-4h11m-10 4h11m-8 18h11m-7 6h11m-10-4h11m-4 3h11m-11-2h11m-10-12h11m-5-8h11m-9-1h11m-10-2h11m-6-2h11m-11 30h11m-8 8h11m-5-23h11m-4-16h11m-7 29h11m-3-25h11m-7 33h11m-11-17h11m-9-12h11m-10 2h11m-4 8h11m-8-5h11m0 10h11m-6-18h11m-9 15h11m-3-7h11m-3-3h11m-9-1h11m-8 9h11m-7-5h11m-6 17h11m-11-4h11m-9-2h11m-386 42h11m-8-5h11m-4-7h11m-8-7h11m10 23h11m-10-3h11m-3-7h11m-8-3h11m-9-7h11m-10-4h11m-11 5h11m-10 7h11m-8 11h11m-11-26h11m-10 18h11m-2-16h11m-9-1h11m-9-1h11m-11 16h11m-2 17h11m-5-2h11m-10-21h11m-7 24h11m-10-37h11m-4 20h11m-11 13h11m-8-21h11m-10-2h11m-9 19h11m-5-24h11m-8 8h11m-10-6h11m-10-5h11m1 22h11m-8-9h11m-9-5h11m-3 6h11m-6-11h11m-4 24h11m-4-4h11m-8-8h11m3 1h11m-8 10h11m-11-26h11m7 23h11m0-14h11m-10 27h11m-4-7h11m-6-25h11m-10 32h11m-11 0h11m-10-26h11m-9 5h11m-11-6h11m0-4h11m-10 11h11m3-18h11m-8 10h11m7 11h11m-7 1h11m-3-5h11m-9-12h11m-10 32h11m-7-16h11m-10 7h11m-9 6h11m-9-32h11m11 25h11m-7-27h11m-11 13h11m-1-8h11m-5 4h11m-2-2h11m-10 0h11m-462 52h11m107-8h11m6 21h11m15-28h11m27 9h11m46-9h11m24 14h11m78-2h11m23-10h11m-2 16h11m-320 25h11" stroke="#AEA200" stroke-width="11" fill="none" transform="scale(.1)"/>
<path d="M1057 -9h11m-22 18h11m-10 13h11m-131 52h11m-10-4h11m-1-5h11m-10-4h11m8 15h11m-10-7h11m4 5h11m-10 0h11m-11-1h11m-6 1h11m0-10h11m-4 10h11m-7 1h11m-6 4h11m-8-3h11m42-32h11m-7 2h11m-171 53h11m-1-12h11m-5 31h11m3-23h11m-8-13h11m-6 6h11m-10 5h11m-10 24h11m-7-36h11m-8 12h11m-9 16h11m9 3h11m-6-9h11m-9-10h11m0 15h11m-3-10h11m-9-6h11m-10 26h11m-9-28h11m-8-5h11m-11 28h11m-8 2h11m-10-19h11m-7 8h11m-9 14h11m-6-10h11m-10 5h11m-9-6h11m-6 4h11m-10 0h11m-10-7h11m-7-13h11m-9 2h11m-11 21h11m-9-17h11m-11 17h11m-5-18h11m0 23h11m-10-10h11m-5-3h11m-1-1h11m-11-3h11m-11 6h11m-7 8h11m-8-10h11m-6-5h11m-10 13h11m-10 2h11m-7-4h11m-11-7h11m5-10h11m6 3h11m-253 22h11m20 39h11m-6 0h11m0-3h11m-7-33h11m-7 26h11m-8 6h11m-6-14h11m-3-15h11m-9 4h11m-8 23h11m-9-18h11m-9-9h11m-6 8h11m-7 6h11m-9 10h11m-11 0h11m-8-17h11m-11-11h11m-10 3h11m-9-1h11m-8 16h11m-10-16h11m-7 9h11m-10 21h11m-9-27h11m-10 5h11m-11 5h11m-9 13h11m-10-26h11m-8 12h11m-9 0h11m-7 19h11m-11-35h11m-5 20h11m-9 4h11m-10 7h11m-10-27h11m-11 7h11m-11-3h11m-8 26h11m-10 2h11m-11 2h11m-10-8h11m-6-2h11m-9-9h11m-11 6h11m-10 9h11m-7-30h11m-10 4h11m-11 8h11m-7 2h11m-9-18h11m-10 13h11m-7 14h11m-8-3h11m-11 14h11m-7-36h11m-9 28h11m-10-1h11m-11-5h11m-9-17h11m-9 1h11m-9 16h11m-11-5h11m-10-6h11m-11 22h11m-10-14h11m-9 7h11m-8 10h11m-10 1h11m-7-10h11m-9-5h11m-6-17h11m-9 30h11m-5-24h11m-6 3h11m-11 13h11m-10 3h11m6-27h11m-5 12h11m0 2h11m-8 17h11m-10-32h11m-10 1h11m-8 7h11m-5 3h11m41 16h11m-309 43h11m2-18h11m-8-6h11m1-3h11m-6-2h11m-6 20h11m-10-14h11m-7 12h11m-10-3h11m-6-13h11m-9 0h11m-7 20h11m-8-5h11m-7 1h11m-6-23h11m-5 39h11m-8-20h11m-11 3h11m-6 4h11m-7 10h11m-10-1h11m-9-23h11m-10-12h11m-8 29h11m-8-16h11m-10-3h11m-11 29h11m-10-33h11m-10 24h11m-11-15h11m-11-7h11m-8 17h11m-11-7h11m-7-7h11m-6-6h11m-9-4h11m-11 26h11m-10-11h11m-10 20h11m-11-29h11m-8 31h11m-11-37h11m-10 23h11m-10 8h11m-10-25h11m-10 21h11m-11 0h11m-7 2h11m-10-7h11m-11-5h11m-8 14h11m-11 5h11m-10-35h11m-10 14h11m-10-14h11m-9 16h11m-10 19h11m-9-23h11m-9-4h11m-11 13h11m-6-6h11m-8-5h11m-8 21h11m-9-21h11m-10-11h11m-10 38h11m-10-16h11m-9 14h11m-10 2h11m-8-26h11m-10 20h11m-9-17h11m-8 19h11m-10-1h11m-9-22h11m-5-7h11m-10 13h11m-11-14h11m-11 22h11m-7 2h11m-10-23h11m-7 30h11m-9-20h11m-11-15h11m-10 5h11m-6 10h11m-10-4h11m-7 5h11m-9 19h11m-11-35h11m-8 15h11m-10 18h11m-3-12h11m-9 9h11m-9 9h11m-6-21h11m-11 3h11m-5-3h11m-8 14h11m-1 2h11m-3-21h11m-10-7h11m-8 12h11m-3-7h11m-10 27h11m-10-6h11m5-21h11m-282 58h11m3-20h11m-5 3h11m7-3h11m-2 18h11m-10-18h11m-5 12h11m2 13h11m-9-21h11m-7 22h11m-9-7h11m-9-2h11m-8-17h11m-11 29h11m-10-36h11m-6 9h11m-8 2h11m-10 10h11m-10-14h11m-4 5h11m-10 14h11m-11 10h11m-9-22h11m-10 19h11m-7-32h11m-9 33h11m-11-12h11m-7-11h11m-8 10h11m-10 2h11m-10-1h11m-9-14h11m-11-2h11m-10-5h11m-10 35h11m-6-26h11m-9-3h11m-10 25h11m-11-24h11m-10 9h11m-8-2h11m-9-14h11m-10 11h11m-6 16h11m-10-27h11m-10 9h11m-9 20h11m-10 5h11m-10-23h11m-11-5h11m-8 26h11m-10-13h11m-11 8h11m-11 1h11m-9 6h11m-11-28h11m-9 22h11m-11-26h11m-9 34h11m-10-23h11m-10 22h11m-11-2h11m-10-22h11m-10-13h11m-11 6h11m-11 6h11m-10-2h11m-10 23h11m-10-7h11m-11 3h11m-5-29h11m-11 24h11m-10 7h11m-11-6h11m-10 9h11m-11-33h11m-4 27h11m-5-2h11m-10 2h11m-10 7h11m-9-31h11m-10 30h11m-5-18h11m-2 12h11m-11-3h11m-10-14h11m12 6h11m-7 1h11m-7-3h11m-11 9h11m23-24h11m-261 69h11m1-24h11m-10 4h11m10 28h11m-11-1h11m-2-15h11m-9 2h11m1-1h11m-10 13h11m-10-21h11m-8 24h11m-10-1h11m-11-35h11m-9 5h11m-11 22h11m-5-26h11m-11 23h11m-7-11h11m-11 6h11m-10-19h11m-8 26h11m-10-25h11m-5 10h11m-6-9h11m-11 22h11m-10-23h11m-11 7h11m3-3h11m-11 4h11m-11 2h11m-6 18h11m-9-4h11m-8 8h11m-11-21h11m-9 20h11m-10 1h11m-11-15h11m-9 16h11m-10-21h11m-9-2h11m-8 7h11m-7 5h11m-10 2h11m-11-18h11m-8 10h11m-9-18h11m-9 37h11m-9-6h11m-11-18h11m-10 17h11m-6-9h11m-8 10h11m-10-22h11m-8 15h11m-11 5h11m-10-31h11m-6 38h11m-11-30h11m-11 27h11m-9-3h11m-6-4h11m-6-22h11m-8 14h11m-11 12h11m-11-2h11m7-3h11m-8 0h11m-4-27h11m-6 34h11m-10-21h11m-9 8h11m-7 3h11m-10-22h11m-3 21h11m-10-7h11m-11-9h11m-11-6h11m-9 34h11m-4-17h11m2 17h11m-7-12h11m-279 55h11m2-2h11m-10 1h11m-6-21h11m-8-11h11m-10-5h11m-2 0h11m-7 39h11m-10-16h11m2-13h11m0 19h11m-10-26h11m-2 27h11m-7 3h11m-8-28h11m-7 30h11m-3-3h11m-10-17h11m-11 15h11m-10-30h11m3 31h11m-9-15h11m-8-1h11m-9 10h11m-11-24h11m-10 7h11m-6-3h11m-10 8h11m-11-5h11m-6-7h11m-10 25h11m-9 7h11m-4-19h11m-9 23h11m-10-17h11m-7-13h11m-10 10h11m-6-8h11m-6 8h11m-9-17h11m-10 0h11m-9 18h11m-8-1h11m2-17h11m-11 14h11m-5 16h11m-9-8h11m-11-4h11m-9 13h11m-9 8h11m-11-14h11m-8-11h11m-5 2h11m-10 5h11m-10 14h11m-10 4h11m-10-5h11m-5 0h11m-11-17h11m-8 21h11m-8-7h11m9-30h11m-3 21h11m-9-2h11m-9 18h11m-6-8h11m-2 5h11m-10-6h11m-10-9h11m-6 15h11m-7 1h11m-10-14h11m-10 6h11m-8-14h11m-5 22h11m-8-8h11m-6 10h11m-8-6h11m-5 4h11m-5-4h11m-343 36h11m1-20h11m7 3h11m-10-9h11m-2 3h11m-11 9h11m-1 4h11m-9-5h11m-11 24h11m-10-27h11m-11 28h11m-11-30h11m-8 3h11m-11 7h11m-5-18h11m-6 29h11m-9-20h11m-11 5h11m-9-3h11m-8-5h11m-10 23h11m-10-11h11m-8 14h11m-11 0h11m-9 6h11m-10-18h11m-10 8h11m6-18h11m-6 9h11m-11-15h11m-9 13h11m-3-10h11m-6 20h11m-10-21h11m-2 13h11m-7-12h11m-10 20h11m-10 8h11m-5-11h11m-9 5h11m-8-2h11m-9-5h11m-5-20h11m5 18h11m-6 17h11m-5-22h11m-7 0h11m-10-9h11m-5-3h11m-10 15h11m12 0h11m-11-15h11m-6 4h11m-3 19h11m1-25h11m-8 6h11m-3 7h11m-7-10h11m18 32h11m-5-21h11m-8-13h11m-6 29h11m-6-17h11m-7-11h11m-8 17h11m-11 15h11m-7-7h11m-11-26h11m-7 9h11m-6-8h11m-9 0h11m-6-3h11m-11 15h11m-10 5h11m16-18h11m-10 24h11m-8 2h11m-8-6h11m-11 2h11m-10 6h11m-9-10h11m-9 10h11m-10-18h11m-1 6h11m-7 10h11m-414 37h11m-6 10h11m-8-14h11m-8 8h11m-8-18h11m-3 23h11m-10-8h11m-9-8h11m-5 17h11m-1-12h11m3-20h11m-5 9h11m0 25h11m-9 0h11m-10-2h11m-8-2h11m-8-3h11m-10 5h11m-10 0h11m-6-17h11m-7-11h11m-8 32h11m-7 0h11m-10-29h11m-10 24h11m-6-2h11m-10-18h11m-11 11h11m-9-9h11m-8 6h11m-10 0h11m-11-14h11m-7 1h11m-10 12h11m-11-3h11m-8 7h11m-10 6h11m-9 6h11m-8-9h11m-6-6h11m-8 17h11m-8-14h11m4 8h11m-7-16h11m-10 15h11m-9-24h11m-1 11h11m0 14h11m-8-30h11m-5 18h11m0 14h11m-8-3h11m-10-2h11m-9 0h11m-6-1h11m-9-26h11m-9 35h11m18-30h11m0 28h11m-8-34h11m2-2h11m-3 31h11m-9-19h11m-8 17h11m-11-15h11m-2 18h11m-6-21h11m20-1h11m-8-5h11m11 3h11m13 7h11m-412 57h11m5-14h11m-5-5h11m-6 2h11m-11 11h11m-11 13h11m-9-15h11m-7 7h11m-11-20h11m-9 28h11m-9 0h11m-5-36h11m-5 36h11m-6-3h11m-9 0h11m-8-12h11m-9-15h11m-9 30h11m-10-27h11m-10 8h11m-10 5h11m-9 7h11m-8 6h11m-9-9h11m-10 1h11m-10-16h11m-10 25h11m-10-28h11m-9 21h11m-11-13h11m-11 4h11m-9-14h11m-7 3h11m-8-12h11m-8 24h11m-8 6h11m-9-5h11m-10 7h11m-11-26h11m-9 4h11m-7 16h11m-7-24h11m-9 33h11m-8-30h11m-11 28h11m-8-12h11m-11 14h11m-11-19h11m-9 15h11m-9-11h11m-11-11h11m-9 21h11m-10-23h11m-9-6h11m-7 5h11m-10 1h11m-8-2h11m-11 16h11m-4 10h11m-10 2h11m-11 6h11m-9-11h11m-5-8h11m-8 1h11m-9-16h11m-10 30h11m-10-17h11m-11-3h11m-8 12h11m-9-20h11m-10 19h11m-11-5h11m-8-11h11m-9 19h11m-9-4h11m-11-25h11m-8 27h11m-1-8h11m-10-8h11m8 22h11m-8-2h11m-10-28h11m-9 3h11m-10 16h11m-9-15h11m-10-2h11m7 20h11m-9-19h11m-5 3h11m-10 2h11m-9 25h11m14-19h11m-5-3h11m-10 6h11m-10-13h11m4 4h11m-9 17h11m-8 3h11m4-28h11m-11 31h11m-9-25h11m-8 26h11m10 1h11m3-3h11m-7-1h11m-10-19h11m13-10h11m-387 53h11m-10-3h11m-7-1h11m-6 12h11m-11 15h11m-7-2h11m-7-23h11m-2-11h11m-8 21h11m-10-12h11m-10 19h11m-9-25h11m-9 8h11m-10 22h11m-9 3h11m-10-3h11m-9-21h11m-8-1h11m-3 21h11m-11-32h11m-10 9h11m-2 14h11m-11 12h11m-10-17h11m-9 10h11m-11-30h11m-9 20h11m-9 7h11m4-15h11m-10 11h11m-11-6h11m-8 2h11m-11-2h11m-11-6h11m-9 6h11m-8-1h11m-11 4h11m-8-9h11m-9 10h11m-10-6h11m-9 17h11m-7-18h11m-7 6h11m-10 10h11m-7-16h11m-10-1h11m-7-5h11m-10 16h11m-5 13h11m-10-20h11m-5 0h11m-10-2h11m-11-9h11m-9 21h11m-9 8h11m0-26h11m-7 5h11m-11 14h11m-9-21h11m-3 3h11m-9 8h11m-11 19h11m-10-30h11m-10 3h11m-10-6h11m-9 15h11m-10-12h11m-8 20h11m-9-5h11m-8-5h11m-5-1h11m-11-1h11m-6-2h11m-5 21h11m4-31h11m3-2h11m-4 24h11m-4-1h11m-7-1h11m-10-17h11m-9 32h11m-10-4h11m-11 2h11m-6-23h11m-5-9h11m-2 8h11m29-6h11m-10 26h11m-5-13h11m-10-10h11m-7 0h11m-4 8h11m-9 19h11m-1-27h11m-10-3h11m-9 10h11m-5 21h11m-6-9h11m-4-5h11m-382 21h11m-8 9h11m-7 11h11m-8 4h11m0 0h11m-10-13h11m-3-7h11m-11-4h11m-8 18h11m-10 2h11m-6 0h11m-7 2h11m-11-6h11m-10 10h11m-10-29h11m-4 9h11m-10 10h11m-8 7h11m-10-7h11m-9 4h11m-8-18h11m-11 20h11m-9 7h11m-2-1h11m-9-10h11m-9 16h11m-10-33h11m-4 7h11m-9 24h11m-10-36h11m-10 7h11m-11 22h11m-6-18h11m-5 7h11m-11 16h11m-8 2h11m-11-21h11m-7 2h11m-7-5h11m-4 20h11m-9-27h11m-10 33h11m-11-3h11m-6-13h11m-6-2h11m-11 15h11m-9 0h11m-8-5h11m-10 4h11m-10-1h11m-9-10h11m-11-5h11m-7 1h11m-10 14h11m-9 0h11m-9 4h11m-8-16h11m-5-22h11m-9 29h11m-9 6h11m-8-25h11m-10 16h11m-11-3h11m-8-1h11m-8-2h11m-11-12h11m-10 2h11m-10 11h11m-11 6h11m-7-7h11m-11 13h11m-10 6h11m-6-27h11m-8 15h11m1-15h11m-7 21h11m-7-17h11m-9 14h11m-6-16h11m-6-1h11m-8-11h11m-5 14h11m-10-10h11m-11 11h11m36-13h11m3 35h11m9-13h11m-6-4h11m9 15h11m-9-22h11m-11-1h11m-3-11h11m-10 25h11m8-9h11m-402 43h11m-11 17h11m-7 0h11m-9-37h11m0 34h11m-8-7h11m-8-11h11m-9 17h11m-7-5h11m-7-23h11m-10 2h11m-11 30h11m-9-13h11m-10-10h11m-6-12h11m-9-4h11m-9 28h11m-7-9h11m-10-13h11m-11 0h11m-7 18h11m-11-18h11m-5 18h11m-10 1h11m-10-19h11m-8 33h11m-10-16h11m-7 9h11m-9-7h11m-9 0h11m-10-5h11m0 8h11m-7-9h11m-6 6h11m-10 10h11m-9-7h11m-6-27h11m-11 27h11m-6-14h11m-10-5h11m-3 9h11m-9 17h11m-11 1h11m-10-26h11m-8 28h11m-11-36h11m-11 31h11m-9-2h11m-10-15h11m-11-11h11m-5 31h11m-10-16h11m-11-6h11m-11 18h11m-8-31h11m-10 20h11m-10 10h11m-7-5h11m-9-20h11m-9 0h11m-9 29h11m-10-13h11m-9-5h11m-8 19h11m-10-9h11m5-10h11m-10 0h11m-10 5h11m-8-21h11m-10 4h11m-11 27h11m-6-2h11m-8 8h11m-11-5h11m-10-14h11m-10 16h11m-8-23h11m-11-8h11m-9 32h11m-10-5h11m-10 3h11m-8-32h11m-9-2h11m-7 39h11m-10-10h11m-10-5h11m-8-3h11m-9 14h11m-9-35h11m-7 14h11m-10-3h11m-1-10h11m2 14h11m-1-14h11m-9 0h11m-11 2h11m6 16h11m-6-11h11m14-5h11m-7 18h11m-10 15h11m-11-30h11m-8 18h11m-3 8h11m0-22h11m-11-2h11m1-4h11m-10 0h11m-9 3h11m-5 1h11m10 15h11m-4-6h11m-3 17h11m0-13h11m-3-10h11m-11 20h11m-7 4h11m-4-9h11m-11-8h11m-439 33h11m-5 19h11m-6-4h11m-3-4h11m-7 7h11m-9-8h11m-6-17h11m-6 11h11m-2-13h11m-10 17h11m-7-15h11m-6 32h11m-9-22h11m-10 0h11m-10-6h11m-11-1h11m-10 6h11m-4-3h11m-8 23h11m-10-2h11m-10-19h11m-6 11h11m-5 10h11m-10-33h11m-8 10h11m-11 20h11m-10-15h11m-3 20h11m-11-27h11m-10 8h11m-9 10h11m-9-26h11m-8 36h11m-9-13h11m-3-22h11m-10 27h11m-7-24h11m-4 21h11m-11-16h11m-10 23h11m-7-27h11m-8 31h11m-10-16h11m-3-9h11m-8 3h11m-10 20h11m-10-26h11m-11 0h11m-7-1h11m-6 4h11m-8 21h11m-1-2h11m-10-15h11m-2 18h11m-11-4h11m-9-2h11m-9-10h11m-7-13h11m-9 15h11m-5 20h11m-10-26h11m-9-13h11m-7 0h11m-7 29h11m-10 8h11m-11-11h11m-10 2h11m-11-7h11m-9 14h11m-8-4h11m-10-23h11m-10 5h11m-10-7h11m-6 17h11m-3 10h11m-8-16h11m-10 8h11m-3-23h11m1 28h11m-7 0h11m-5-5h11m-4-11h11m-7 14h11m-4-6h11m-7-14h11m-6 15h11m-4 1h11m-7-2h11m-6-5h11m-10-16h11m-5 3h11m-5 17h11m-10 16h11m-2-34h11m-10-1h11m-7-2h11m-2 31h11m-5 0h11m-10-2h11m-5-20h11m-7-2h11m-10-4h11m-3 18h11m-8 2h11m-2 1h11m3 2h11m10-10h11m-11-4h11m-8-1h11m-9-3h11m-10 4h11m-5-4h11m0 23h11m-10 7h11m-8-16h11m-6 5h11m-452 24h11m-6 6h11m-8-1h11m-10 16h11m-11 3h11m-9-25h11m-11 24h11m-4-18h11m-11 16h11m-10-14h11m-10-17h11m-4 37h11m-10-36h11m-10 1h11m-7 9h11m-9-11h11m-4 34h11m-10-10h11m-10 1h11m-10 13h11m-10-3h11m-9-3h11m-8-20h11m-8 22h11m-9-3h11m-7 1h11m-9-19h11m-8-3h11m-10-2h11m-11-8h11m-6-1h11m-4 23h11m-8-14h11m-8 14h11m-10 0h11m-11-5h11m-5-10h11m-10 16h11m-5-22h11m-5-1h11m-5 0h11m-6 26h11m-9 9h11m-7-12h11m-8-19h11m-10 0h11m-6 32h11m-4-7h11m-10 5h11m-11-16h11m-10-15h11m-6 19h11m-10-20h11m-4 22h11m-10 4h11m-10-2h11m-10-16h11m-9 10h11m-11-13h11m-8 10h11m-11 3h11m-10 14h11m-9-27h11m-9-6h11m-9 1h11m-11 32h11m-10-32h11m-10 1h11m-9 33h11m-8-2h11m3-18h11m-11 8h11m-8 11h11m-11-20h11m-3-4h11m-9 7h11m-6-7h11m10-4h11m-7-8h11m-8 6h11m-10 23h11m-11-5h11m-5-2h11m-7-8h11m5-14h11m4 31h11m8-15h11m-10-3h11m-5 12h11m-11-6h11m-6-10h11m-10-2h11m-10 31h11m-4-31h11m-8 4h11m-10-6h11m13 15h11m-10 6h11m-7 5h11m-7-4h11m-3-6h11m-10 12h11m-4-31h11m-8 10h11m4 3h11m-10 8h11m14-10h11m-10-5h11m9 31h11m-2-19h11m-9-20h11m0 15h11m-490 34h11m-2 25h11m-3-29h11m-9-3h11m-9 12h11m-10 20h11m-7-18h11m-5 9h11m-11-11h11m-9 13h11m-8-4h11m-7-7h11m-11-8h11m-10 9h11m-8-7h11m-7 11h11m-9 17h11m-6-5h11m-10-25h11m-3 30h11m-9-5h11m-10-19h11m-10-6h11m-7 16h11m-5-3h11m-9-19h11m-10 31h11m-9-31h11m-10-1h11m-7 9h11m-9 16h11m-8-1h11m-10 3h11m-8-7h11m-7-17h11m-10 11h11m-10-14h11m-9 12h11m-9 5h11m-10 11h11m-5-26h11m-9 2h11m-10 0h11m-4 33h11m-8-5h11m-7-33h11m-9 34h11m-11-33h11m-10 22h11m-10 2h11m-5 2h11m-5-1h11m-8 4h11m-10 5h11m-8-32h11m-9 4h11m-9-6h11m-10 17h11m-9 4h11m-10-2h11m-10-1h11m-7 18h11m-9-8h11m-10 9h11m-11-6h11m-10-11h11m-10-18h11m-10 3h11m-11 20h11m-10 8h11m-11-23h11m-6 12h11m-11 2h11m-9-5h11m-6-4h11m-6 13h11m-10-12h11m-9 12h11m-9-9h11m-9-18h11m-9 23h11m-9-24h11m-4 31h11m-11-8h11m-11-23h11m-10 10h11m2 9h11m-8-13h11m-8 13h11m-9-6h11m-9-8h11m-5 17h11m-10-7h11m-10-16h11m-9 14h11m-8 8h11m-8 2h11m-9-19h11m-7 30h11m-7 3h11m-2-7h11m-5-21h11m1 21h11m-7-31h11m4 5h11m-9-2h11m-7 4h11m-7 13h11m-7 17h11m13-10h11m-2 9h11m-3-7h11m-10-23h11m20 7h11m-9 4h11m-11-13h11m-8 0h11m-11 8h11m-10 6h11m-10 2h11m15-11h11m-10-9h11m-11 20h11m-8-11h11m-5 25h11m-10-33h11m-9-1h11m-7 0h11m-10 36h11m-2-36h11m2 8h11m-8 17h11m-9-23h11m-7 22h11m-11-23h11m-5 18h11m-1-17h11m-483 41h11m-6 0h11m1 19h11m-6-18h11m-1-2h11m-11 18h11m-11-7h11m-10-1h11m-11-1h11m-8 3h11m-11 2h11m-9-9h11m-11 23h11m-11-17h11m-10 24h11m-11-28h11m-6-5h11m-11 13h11m-11 16h11m-8-30h11m-11 19h11m-7-3h11m-9 2h11m-10-11h11m-8-7h11m-10 4h11m-10 7h11m-11 21h11m-8-5h11m-8-14h11m-5 20h11m-10-36h11m-10 26h11m-10-14h11m-7 11h11m-10-18h11m-9 16h11m-6 9h11m-11-20h11m-9 18h11m-7-5h11m-7-20h11m-7 14h11m-11-11h11m-8 29h11m-9-20h11m-7 16h11m-10-1h11m-8-4h11m-10-17h11m-10-4h11m-11 9h11m-6-12h11m-10 2h11m-9 19h11m-9-12h11m-10 7h11m-5 9h11m-11-21h11m-11 26h11m-11-3h11m-7-22h11m-9 28h11m-11-1h11m-9-23h11m-11 24h11m-4-18h11m-11-7h11m-9 11h11m-10-10h11m-10 14h11m-10-21h11m-10 34h11m-10-2h11m-11-18h11m-10-12h11m-9 11h11m-10-2h11m-10 8h11m-8-19h11m-11 12h11m-10 23h11m-8-32h11m-9-5h11m-10 4h11m-10 11h11m-7-13h11m-7 35h11m-8-4h11m-7-3h11m-10-18h11m-8 3h11m-10 13h11m-6-22h11m-9 5h11m-10-6h11m-10 14h11m-8-12h11m-10-4h11m-6 11h11m4 19h11m-8-5h11m-10-16h11m-9 12h11m1-25h11m-11 32h11m-4-9h11m7 4h11m-4-16h11m-10 11h11m-11-14h11m-5 26h11m-7-23h11m-1-12h11m-7 31h11m-10-31h11m14 22h11m4-21h11m-9 24h11m13 3h11m-10 2h11m-3-2h11m-4-17h11m-1 13h11m-11-7h11m-9 18h11m-4-10h11m-4-25h11m-2 37h11m3 2h11m2-29h11m-5 23h11m-419 32h11m-7-5h11m-8 11h11m-10 8h11m-9-37h11m-10 4h11m-11-5h11m-9 16h11m-9-15h11m-8 16h11m-7 7h11m-4 6h11m-2-1h11m-3-16h11m-9 1h11m-10-13h11m-10 26h11m-10 8h11m-8-25h11m-7 14h11m-6 3h11m-6 0h11m-9-20h11m-11 29h11m-6-20h11m-8 9h11m-9-11h11m-9 20h11m-10-11h11m-11 11h11m-9 2h11m-11-34h11m-11 15h11m-9 5h11m-10-12h11m-11 8h11m-1 19h11m-11-4h11m-10-14h11m-9-20h11m-10 2h11m-10 4h11m9-5h11m-10 0h11m-7 12h11m1 15h11m-3-18h11m-11-4h11m-10 30h11m1-29h11m-6 9h11m-10 23h11m-5-28h11m21 3h11m11-8h11m-10 20h11m-8-8h11m13-3h11m-10 20h11m-2-5h11m-2-29h11m-2 4h11m-5 4h11m10 6h11m1 18h11m-9-27h11m-1-4h11m0 20h11m4-5h11m8-17h11m-7 9h11m6 0h11m-4-9h11m-420 60h11m-10 4h11m-3-13h11m5 8h11m-8-19h11m-5 34h11m-11-27h11m8 32h11m-10-26h11m-6-6h11m-11 32h11m-6-12h11m-4-17h11m-5 10h11m22-5h11m0-10h11m-10 11h11m32-8h11" stroke="#DB8E00" stroke-width="11" fill="none" transform="scale(.1)"/>
<path d="M1679 878h11m-66 29h11m4 8h11m-9 2h11m-7 2h11m-7-5h11m2-13h11m5-9h11m0 12h11m-8-1h11m-10 3h11m-2-6h11m-4 16h11m8-1h11m-10-12h11m-5-1h11m-9 0h11m-7 11h11m-10-1h11m-10 4h11m-6-2h11m-9-16h11m-10-8h11m-5-6h11m-6 33h11m-8-7h11m-2 6h11m-9-3h11m8-3h11m-10 6h11m-249 14h11m-7 7h11m15 14h11m4-13h11m-4-5h11m-10 24h11m1-7h11m-1-2h11m-11 2h11m-7-18h11m-9 6h11m-10 3h11m-10 13h11m-9-16h11m-7 12h11m-10-4h11m-9-3h11m-9-11h11m-9 27h11m-9-33h11m-3-4h11m-10 35h11m-8-16h11m-11 4h11m-8-1h11m-11 11h11m-10 0h11m-5-13h11m-11 8h11m-10-26h11m-9 3h11m-10 5h11m-8 11h11m-7-16h11m-8 17h11m-9 5h11m-11 2h11m-11-25h11m-9 23h11m-8-20h11m-10-8h11m-10 36h11m-9-24h11m-9-1h11m-2 0h11m-6-2h11m-9-2h11m-10 4h11m-11 6h11m-5-17h11m-10 24h11m-10 6h11m-7-26h11m-10 2h11m-10 27h11m-11-29h11m-11 32h11m-6-17h11m-10 3h11m-10-21h11m-10 5h11m-10 3h11m-8-3h11m-10 14h11m-11-20h11m-11 28h11m-9-4h11m-11-3h11m-10 16h11m-9-18h11m-11 19h11m-7-35h11m-11 30h11m-9 0h11m-11-17h11m-10-7h11m-10 0h11m-11 19h11m-10-1h11m-10 11h11m-10-28h11m-10 13h11m-10-23h11m-8 27h11m-9-12h11m-8-13h11m-11 22h11m-10 13h11m-9-19h11m-11 17h11m-10-2h11m-10 5h11m-7-16h11m-3-21h11m-6 15h11m-6 15h11m-10-10h11m-10 2h11m-6 8h11m-9 6h11m-9-29h11m-6 17h11m-350 50h11m-7 1h11m1-12h11m-5-18h11m1 2h11m-6 15h11m0-10h11m-4 13h11m-1-7h11m-9 13h11m-11-17h11m-9-8h11m-4 28h11m-11 1h11m-6-12h11m-10-7h11m-10 10h11m-11-4h11m-11 5h11m-2-16h11m-5 26h11m-11-27h11m-7 2h11m-10-10h11m-10 29h11m-9-28h11m-8 31h11m-5 2h11m-9-25h11m-9-3h11m-9 18h11m-8-13h11m-8-5h11m-11-5h11m-9-2h11m-5 3h11m-8 0h11m-8 6h11m-9 20h11m-10-11h11m-9-10h11m-10-7h11m-10 15h11m-8 9h11m-9-10h11m-9 4h11m-10-17h11m-11 15h11m-10-11h11m-9 18h11m-11-26h11m-11 27h11m-7 11h11m-9-33h11m-7 33h11m-10-21h11m-9 6h11m-5 11h11m-2-13h11m-11-11h11m-11 18h11m-10-22h11m-6-6h11m-10 11h11m-9-12h11m-10 25h11m-11-13h11m-7-6h11m-11 12h11m-11 16h11m-10 2h11m-10-14h11m-8-6h11m-11 5h11m-5 8h11m-10-21h11m-11 30h11m-10-34h11m-10 9h11m-10-7h11m-11 2h11m-10-4h11m-9 14h11m-11-8h11m-9-10h11m-9 20h11m-10-11h11m-8 13h11m-11 14h11m-10-29h11m-10 1h11m-10-4h11m-9 1h11m-9-1h11m-8 2h11m-10 14h11m-9-17h11m-11 2h11m-10 7h11m-9 1h11m-10 14h11m-10-22h11m-10-1h11m-10 21h11m-9-12h11m-11 1h11m-10 8h11m-11-6h11m-9 2h11m-8 19h11m-10-15h11m-5-5h11m-10 2h11m-11 0h11m-9 11h11m-10 1h11m-9-6h11m-11-24h11m-9 3h11m-11 19h11m-10 1h11m-9 1h11m-4-13h11m-11-11h11m-11 20h11m-10 15h11m-11-24h11m-7-6h11m-8 28h11m-10-17h11m-9 5h11m-10 4h11m-10-4h11m-8-4h11m-10-13h11m-10 0h11m-6 17h11m-7 3h11m-11-15h11m-9 27h11m-10-24h11m-10 22h11m-4-29h11m-8 28h11m-5-28h11m-10 33h11m-10-6h11m-11-5h11m-10-11h11m-6-11h11m-10-3h11m-8 0h11m-8 3h11m-10 28h11m-9 2h11m-6-7h11m-391 26h11m-2 2h11m5 14h11m-10-14h11m6-5h11m2-3h11m-10 21h11m-9-5h11m-7-24h11m-8 10h11m1-4h11m-10 16h11m-6-10h11m-7 8h11m-9 15h11m-10-1h11m-10-33h11m-11 22h11m-5-12h11m-10-8h11m-9 20h11m-8-4h11m-7 0h11m-3 14h11m-6-30h11m-10 35h11m-7-20h11m-10-8h11m-10 14h11m-3-25h11m-1 4h11m-9 12h11m-10 4h11m-10 5h11m-1 13h11m-11-10h11m-7-22h11m-7 21h11m-9-21h11m-11 4h11m0 21h11m3-13h11m-11 8h11m-7 8h11m-7-9h11m-5 2h11m-9 6h11m-8-7h11m-10-7h11m-7-8h11m-9-3h11m-10-5h11m-10 35h11m-10-24h11m-9 9h11m-7-11h11m-9 16h11m-5 6h11m-10-20h11m2-3h11m-11 12h11m-11 5h11m-11 0h11m-5-16h11m-2-10h11m-10 23h11m-10-5h11m-10 15h11m-11-34h11m-9 14h11m-11-12h11m-5 0h11m-10 7h11m-10 0h11m-7-10h11m-8 25h11m-11-16h11m-10-4h11m-9-4h11m-8 18h11m-8-19h11m-6 7h11m-6-3h11m-6 27h11m-9 8h11m-7-21h11m-11 0h11m-10-16h11m-11 9h11m-10 15h11m-11-24h11m-9 4h11m-7 33h11m-10-38h11m-7 9h11m-10-8h11m-7 7h11m-6 23h11m-10-10h11m-10-5h11m-10-12h11m-9 1h11m-9 11h11m-9-2h11m-10-5h11m-10 28h11m-8-25h11m-11 25h11m-4-26h11m-10-8h11m-10 10h11m-8 25h11m-6-35h11m-407 53h11m-8 8h11m-8 14h11m-5-13h11m-7-19h11m0-6h11m-7 27h11m-8-25h11m-1 14h11m-10-10h11m-1 23h11m-4 5h11m-10-10h11m-7-21h11m-6 35h11m-11-21h11m-10-7h11m-10-1h11m0 17h11m-8-2h11m-9 0h11m-9-16h11m-10 9h11m-9 6h11m-8-9h11m-5 3h11m-5 9h11m-5-19h11m-5 24h11m-9-10h11m-9-5h11m-1 5h11m-10-2h11m-11-7h11m0-11h11m-9 6h11m-8 14h11m-11-8h11m-6 0h11m-4 8h11m-8-2h11m-2 11h11m-8 6h11m-6-19h11m-1-13h11m-10 23h11m-11 10h11m-11-18h11m-11-20h11m-10 5h11m-6 8h11m7 4h11m-7-8h11m-2 27h11m-8-4h11m-9-7h11m-6-3h11m-1 2h11m-10 3h11m-11-6h11m-8 13h11m-11-9h11m-6-8h11m-6-2h11m-10-11h11m-7 18h11m-7-15h11m3 29h11m-7-30h11m-11 13h11m-7-17h11m-9 26h11m-4-14h11m-5 7h11m-6 15h11m-6-21h11m-10-13h11m-3 33h11m-8-5h11m-9-9h11m-11-2h11m-4 5h11m0-15h11m-10 22h11m-11 1h11m-7-20h11m-8-1h11m-10-1h11m-8 1h11m-9 28h11m-10-34h11m-10 18h11m-9 1h11m-8 3h11m-2 7h11m-10 3h11m-8-24h11m-11-13h11m6 34h11m-10 1h11m-10-11h11m-6 11h11m-11 2h11m4-1h11m-412 17h11m-9-5h11m8 1h11m-9 24h11m-2 3h11m-1-20h11m-10 7h11m6-5h11m-1-8h11m-6-6h11m-1-2h11m-10 37h11m-11-18h11m-6-8h11m-6-10h11m-11 27h11m-10 6h11m-11-2h11m-9-21h11m-3 0h11m-1 12h11m-8-22h11m-6 32h11m1-33h11m-9 34h11m-11-28h11m-8 8h11m-10-10h11m-10 2h11m-10-7h11m-6 21h11m-5-18h11m-8 8h11m-11 25h11m-10-13h11m-9 7h11m-8-24h11m-3-7h11m-10 12h11m-8-1h11m-10-10h11m-10 5h11m-11 26h11m-11-7h11m-9 5h11m-10-2h11m-7-22h11m-7 1h11m-7 4h11m-6 3h11m-4 1h11m-8 6h11m-9 18h11m-9-39h11m-9 27h11m-10-5h11m0 1h11m-9-12h11m-3 28h11m-3-39h11m-8 16h11m-6-14h11m-10 37h11m-10-7h11m0 7h11m-5-6h11m-11-23h11m1 18h11m-8-11h11m-11 4h11m-8 1h11m-10-21h11m-10 35h11m-10-35h11m-6 18h11m-9 20h11m-11-25h11m-1-14h11m-9 30h11m-4-10h11m-11 13h11m-6 1h11m-10-33h11m-1 22h11m-9-13h11m-10 13h11m-10-7h11m-11 0h11m-10-11h11m-6 26h11m-10 3h11m-9-21h11m-11-10h11m-4 21h11m-8 10h11m-9-16h11m-8-18h11m-10 19h11m-10 6h11m-9 5h11m-11-14h11m-3-16h11m-11 21h11m-8-21h11m-1 22h11m-9 14h11m-8-31h11m-10 26h11m-8 7h11m-10-20h11m-9-4h11m-6 5h11m-7 5h11m6 15h11m-445 30h11m22-17h11m-5 4h11m0-8h11m-5 1h11m-8 12h11m-8-10h11m-9 18h11m-1 1h11m-6-22h11m0 25h11m-8-33h11m-10 30h11m-8-1h11m-9-28h11m-11-1h11m-8 31h11m-8-29h11m-9-2h11m-3 32h11m-9-3h11m-9-11h11m-8-3h11m-1 9h11m-11-15h11m-10 25h11m-8-3h11m-9-11h11m-9-15h11m-3 19h11m-4-8h11m-9 14h11m-9-17h11m-9 14h11m-11-21h11m-10 24h11m-10-6h11m-10 8h11m5 2h11m-9-31h11m4 36h11m-10-7h11m-9-9h11m-10-13h11m-10-3h11m-9 32h11m-3-13h11m-9 7h11m-11 6h11m-10-15h11m-9-23h11m-4 1h11m-3 29h11m-9-13h11m-5 11h11m-10-22h11m-9 18h11m-10-18h11m0 19h11m-8 5h11m-2-1h11m-5-3h11m-6-6h11m-9-12h11m-8 5h11m-3 0h11m-10 7h11m-5-4h11m-3-7h11m-9 4h11m-11 24h11m-6-4h11m-10 1h11m-6 3h11m-11-29h11m-9 29h11m-1-6h11m-9-27h11m-5 21h11m-1-24h11m-3 0h11m-9 18h11m-3 9h11m-1 6h11m-10-21h11m1 17h11m-9 5h11m-8-4h11m-10 6h11m-8 1h11m-11-35h11m-10 0h11m-1 26h11m-10-28h11m-9 18h11m-6-20h11m-8 12h11m-7 8h11m1 0h11m-475 48h11m33-9h11m-8 17h11m2-17h11m-4 16h11m-5-10h11m-9 0h11m11-19h11m-10 12h11m-11-10h11m-11 3h11m-10 12h11m13 12h11m-9-34h11m-9 27h11m-6 3h11m-7-24h11m-7 0h11m-9 14h11m-4 17h11m-10-2h11m-8-22h11m-8 6h11m-6-6h11m-10 11h11m-6 3h11m-4-22h11m-10 15h11m0-15h11m-10 0h11m-9 25h11m-9 4h11m-9 3h11m-11-26h11m-9 1h11m-9-10h11m-10 29h11m-5-14h11m-10 9h11m-9-9h11m-5 19h11m-5-18h11m-9-16h11m-10 34h11m-11-17h11m-11 17h11m-10-13h11m-11 3h11m1-6h11m-6 2h11m-8 7h11m-10-22h11m-9 5h11m-7 2h11m-5 7h11m-7-21h11m-8 16h11m-10-11h11m-11 10h11m-8-6h11m-9 16h11m-9-24h11m-9-2h11m-9 34h11m-3-30h11m-6 22h11m-10 4h11m-10-20h11m-1 20h11m-2-20h11m-11 6h11m-9 15h11m-6 2h11m-10 4h11m-8-34h11m2 16h11m-5 20h11m-11-38h11m-10 2h11m-9 15h11m-9 7h11m-7-13h11m-7 27h11m-6-32h11m-7 19h11m-7-19h11m-7 30h11m-10-26h11m-9 17h11m-8-27h11m-9 7h11m2 25h11m-10 2h11m-10-6h11m-2-13h11m-9-9h11m-9 25h11m-11-19h11m-9 12h11m-8-8h11m-11 9h11m-2-21h11m3 24h11m-6-14h11m-11 17h11m-9-25h11m-5 12h11m-4 2h11m-10 6h11m3-20h11m-10 18h11m-7-22h11m-7 8h11m-10-2h11m-1 20h11m-483 24h11m-10 25h11m-1-23h11m-7 7h11m13-8h11m12 13h11m64-10h11m-10 6h11m-6-19h11m-10 3h11m-9 7h11m-6-14h11m-9 39h11m-6-5h11m-9-6h11m-11-19h11m1-9h11m-11 3h11m-10 7h11m-9 16h11m-10 1h11m-4-4h11m-7 2h11m-11-3h11m-8-16h11m-4 18h11m-5 5h11m-8-23h11m-3-4h11m-10 21h11m-8-7h11m-10 1h11m-10 6h11m-10-2h11m-11-8h11m-10 6h11m-8 19h11m-6-23h11m-10 24h11m1-2h11m-9-31h11m-6 17h11m-11-18h11m-9 6h11m-7 0h11m-7-11h11m-11 0h11m-8 14h11m-4 23h11m-10-23h11m-8 0h11m-11 3h11m-2 8h11m-8 13h11m-8 1h11m-4-30h11m-11 15h11m-10-23h11m7 16h11m-3-11h11m-10-4h11m-10 9h11m-10-10h11m3 6h11m-4 21h11m-3-2h11m-7-17h11m-9 12h11m-9-11h11m-7 26h11m-10-11h11m-8-24h11m1 5h11m-2 32h11m-5 1h11m-10-9h11m0-11h11m-9 15h11m-6-22h11m-10 13h11m-9-19h11m10 25h11m-6-10h11m-6-12h11m-9-7h11m-9 13h11m-10 13h11m-10-10h11m-5-6h11m-9 0h11m-1 19h11m-9 5h11m11-4h11m-485 43h11m15-26h11m8-1h11m76-6h11m24 21h11m-10-7h11m-4 16h11m-6-32h11m-10 31h11m-5 8h11m-1-5h11m-4-18h11m-5-8h11m-8 4h11m-6 22h11m-8-22h11m-6 1h11m-3 9h11m-11 17h11m-5-16h11m-11 16h11m-3-20h11m-1 11h11m-1-25h11m-11 26h11m-10-13h11m-9 20h11m-8-29h11m-10 16h11m-9 8h11m-8-21h11m-9-2h11m-8-6h11m-6-3h11m-11 17h11m12 3h11m-9-4h11m-9-15h11m9 22h11m-11-18h11m-7 2h11m-3 3h11m-9 21h11m-5-31h11m-10 16h11m-10 13h11m-10-6h11m-9 0h11m-11 14h11m-11-4h11m-9-19h11m-3-7h11m-9 12h11m-10-10h11m-3 25h11m-2-25h11m-11-5h11m-3 26h11m-5 0h11m-7 7h11m-9-23h11m-9 13h11m-9-20h11m-9 14h11m-5-20h11m-4 29h11m-6-19h11m-11-9h11m0 0h11m-7 14h11m0-1h11m-11-10h11m-9 18h11m-7 7h11m1-14h11m-7 6h11m-496 36h11m2-19h11m6 8h11m-7 2h11m0-5h11m1 32h11m-7-22h11m-7 23h11m23-14h11m-6-3h11m-6-7h11m-9-3h11m-11-11h11m4 9h11m31 21h11m-6-17h11m-9 14h11m-9 8h11m-10-4h11m-10-31h11m-5 11h11m1-4h11m-9-1h11m-9 19h11m-10-6h11m-9-1h11m-9 6h11m-3-19h11m-8 9h11m-10 20h11m0-25h11m5 28h11m-5-8h11m-9 0h11m-11 4h11m-11-9h11m-9 2h11m-2-4h11m-9 16h11m-11 1h11m0-22h11m-9 7h11m-10 4h11m-8-12h11m-5-5h11m-8-4h11m-6 30h11m-5-34h11m-11 34h11m-7-8h11m-6-18h11m-7 9h11m-8 16h11m-3-33h11m-4 15h11m-9 10h11m-9-1h11m-8 8h11m-7-25h11m-10 21h11m-4-24h11m-7 12h11m-8 5h11m-2-2h11m-9 16h11m-6-10h11m-9-10h11m-11-3h11m-8 23h11m-7-1h11m-10 2h11m-11-27h11m-4 12h11m-10 8h11m-4-29h11m-10 18h11m-4 8h11m-1-28h11m-8 34h11m-10-24h11m-6-4h11m-10-4h11m-9 14h11m-11-16h11m-8 16h11m3 12h11m-11-24h11m-9 12h11m-10 16h11m0-5h11m-9-5h11m-10 12h11m-9 3h11m-6-13h11m-8-11h11m-8 10h11m-2-18h11m-10-4h11m-9 35h11m-5 0h11m-11-27h11m-5 17h11m-4-7h11m-8-10h11m-8 15h11m-10 3h11m-2 11h11m-478 1h11m-10 17h11m-3 7h11m11 1h11m-11-23h11m-6 18h11m6-14h11m2 9h11m-7 22h11m2-1h11m-7-8h11m4-18h11m-7 11h11m1 0h11m-8-9h11m-6 12h11m-3-20h11m-7 10h11m-1 7h11m-2 14h11m1-28h11m-10 4h11m-6 0h11m-3-1h11m-9 20h11m-11-9h11m-8-21h11m-10 5h11m-11 20h11m-8-1h11m-9 15h11m-11-37h11m-6 36h11m-8-33h11m-11 15h11m-9-12h11m-5 4h11m-6 14h11m-7-2h11m-8-7h11m-10-14h11m-8 25h11m-9 5h11m-4-20h11m-7-7h11m-11 22h11m-10-12h11m-7 7h11m-10-23h11m-9 5h11m-10-3h11m-10 4h11m12 13h11m-11 18h11m-9-35h11m-8 12h11m2 18h11m-6-12h11m-11-13h11m-6 18h11m-8-8h11m-4 20h11m-8-14h11m-11 14h11m-5-12h11m-7 11h11m-10-34h11m-7 15h11m-7-6h11m-1 19h11m-11-13h11m-8-2h11m-4 6h11m-9 12h11m-1-20h11m-5 14h11m-7 3h11m3-29h11m-5 8h11m-9 7h11m-10 15h11m-5-26h11m-7 16h11m-6-16h11m0 1h11m-4 28h11m13-34h11m-9 13h11m-6-11h11m-8 6h11m-3-5h11m-473 45h11m-7 20h11m-10-22h11m-10-5h11m-6 30h11m3-19h11m-5 10h11m-2 17h11m-3-3h11m-8-29h11m-3 14h11m-6-7h11m-7 4h11m-7 15h11m-8-6h11m-8-9h11m-8-18h11m24 6h11m-9 15h11m3 16h11m1-24h11m-7 13h11m-10 11h11m-9-35h11m-11 32h11m0-23h11m6 10h11m-2 7h11m-8-12h11m-4 21h11m1-3h11m-11-2h11m-8-7h11m-7 4h11m-1-8h11m-10-10h11m-10 5h11m-8-14h11m-10 21h11m-10 8h11m-10 7h11m-6-12h11m-9-6h11m-11-3h11m-11-2h11m-9-13h11m-11 16h11m-8-7h11m4-9h11m-7 11h11m-7-6h11m-11 4h11m-5-11h11m-5 0h11m-11 28h11m-2-28h11m-10 11h11m-6-4h11m-1-6h11m-9 13h11m-11 9h11m-9-19h11m-11 0h11m-9 2h11m-3-4h11m-10 8h11m-10 20h11m-8-30h11m-8 27h11m-10 3h11m-10-18h11m6 14h11m-11-9h11m-9-14h11m10 9h11m-378 28h11m17 36h11m9-13h11m8 5h11m5 6h11m12-24h11m11-2h11m5 20h11m-10-8h11m-8 6h11m-10-21h11m3 34h11m-9-18h11m-7 11h11m-7 7h11m3-23h11m-3 3h11m-5-13h11m-6-6h11m-4 17h11m36-3h11m-10-8h11m-8-4h11m-5 19h11m-195 36h11m-6 6h11m-4 9h11m-7-4h11m-7-24h11m-5 0h11m-5 34h11m-10-28h11m-7 6h11m-8 11h11m0-7h11m1 10h11m-11 3h11m-8-1h11m-10 2h11m-7-1h11m-11-5h11m7-2h11m-10-8h11m-4 1h11m-8-6h11m6 15h11m-86 15h11m4 9h11m-4 5h11m4 20h11m-9-26h11m1 23h11m9-7h11m2-16h11m-28 83h11" stroke="#00BD5C" stroke-width="11" fill="none" transform="scale(.1)"/>
<path d="M1948 1319h11m-45 40h11m-6-10h11m-11 10h11m-10-25h11m-9 19h11m-11-30h11m0 6h11m-7-3h11m-8 2h11m-9 27h11m0-31h11m-9-2h11m-9 27h11m-10-3h11m-9-1h11m-4-2h11m-11-16h11m-10 18h11m-11 0h11m-9 3h11m-11-18h11m-7 10h11m-6-8h11m-8 13h11m-8-16h11m-10 23h11m13-17h11m-136 55h11m-8-10h11m-11 14h11m-9-7h11m-1 5h11m-3-16h11m-7 19h11m-7-32h11m-11 4h11m-8 28h11m-8-27h11m-10-1h11m-10 20h11m-8 7h11m-10-29h11m-9 32h11m-8-21h11m-10 8h11m-10 8h11m-11-21h11m-11 8h11m-10 12h11m-10 2h11m-11-17h11m-9-10h11m-9-1h11m-11 5h11m-9 18h11m-10-7h11m-11-4h11m-10 2h11m-11 8h11m-11 5h11m-8-31h11m-10 29h11m-11-24h11m-11 11h11m-9 16h11m-11-3h11m-10-22h11m-11-1h11m-7 14h11m-11-7h11m-11 12h11m-10-6h11m-5-12h11m-9 6h11m-11 24h11m-11-7h11m-4-29h11m-10 31h11m-9 0h11m-11-14h11m-11 20h11m-11-24h11m-8-1h11m-4 3h11m-11-16h11m-7 24h11m-10-17h11m-9 25h11m-8-7h11m-10-15h11m-9 9h11m-10 12h11m-8-7h11m-10 9h11m-11-8h11m-9 4h11m-3-26h11m-9 30h11m-5-1h11m-11-15h11m-9-18h11m-5 28h11m11-3h11m-175 47h11m-4-24h11m-9 28h11m-5 2h11m-11-4h11m-8-22h11m-9-1h11m-11 26h11m-6-34h11m-11 12h11m-10 23h11m-10-3h11m-9-25h11m-10 2h11m-9 12h11m-10-22h11m-9 12h11m-11 5h11m-10-19h11m-10 22h11m-6-10h11m-10 9h11m-10-4h11m-11 0h11m-8-2h11m-11-1h11m-10 14h11m-7-22h11m-9 24h11m-10-20h11m-7 12h11m-10-14h11m-11-3h11m-6 34h11m-11-7h11m-7-26h11m-3 23h11m-8 5h11m-7-12h11m-11-15h11m-11 27h11m-9-12h11m-11-4h11m-9 13h11m-11-12h11m-10-1h11m-7 7h11m-9-12h11m-6 6h11m-8 8h11m-11-16h11m-9 21h11m-7-9h11m-11 1h11m-10-8h11m-10 17h11m-9-16h11m-11-7h11m-10-6h11m-11 27h11m-8-25h11m-11 26h11m-10-8h11m-6 11h11m-10-9h11m-8-16h11m-10 15h11m-5 10h11m-10-6h11m-10 7h11m-9 3h11m-9-4h11m-7-1h11m-10-16h11m-6-5h11m-7 24h11m-159 37h11m-7-22h11m-9 3h11m-10-2h11m-10 1h11m-10-1h11m-7-12h11m-10 4h11m-8-1h11m-10 27h11m-9 8h11m-10-3h11m-10-27h11m-9-8h11m-10 16h11m-11 0h11m-9 15h11m-9-1h11m-6-5h11m-9-6h11m-10-20h11m-6 25h11m-10-20h11m-11-2h11m-11 15h11m-10-7h11m-11 25h11m-10-32h11m-5 30h11m-10 3h11m-11 1h11m-11-35h11m-10 33h11m-9-16h11m-9 18h11m-8-29h11m-11 6h11m-9-14h11m-10 31h11m-11-20h11m-11-2h11m-10 3h11m-10 21h11m-11-14h11m-9 8h11m-11-5h11m-9-10h11m-9 16h11m-7-4h11m-11-12h11m-10-3h11m-8 21h11m-8-18h11m-8-3h11m-6 29h11m-7-18h11m-11 17h11m-9-6h11m-11-21h11m-10-4h11m-10 20h11m-10-22h11m-10 1h11m-10-2h11m-9 13h11m-8 14h11m-9 2h11m-4-21h11m-11 22h11m-8-26h11m-5 14h11m-10-17h11m-9 3h11m-9 24h11m-9-16h11m-2 23h11m-9-7h11m-9-31h11m-9 31h11m-8-7h11m-11-2h11m1-1h11m-6-5h11m-9-5h11m-187 53h11m-1 8h11m-6-5h11m-7-22h11m-11 13h11m-8-5h11m-10 17h11m-2-30h11m-10 16h11m-11 13h11m-9-30h11m-10 38h11m-9-18h11m-10 0h11m-10 8h11m-11-6h11m-5-7h11m-10-13h11m-10 7h11m-5 15h11m-10-9h11m-10-4h11m-10 23h11m-11-22h11m-9 9h11m-11-14h11m-10-1h11m-10 15h11m-9-1h11m-7-1h11m-10-13h11m-10 31h11m-10 2h11m-11-3h11m-8 0h11m-8-9h11m-10-17h11m-9-1h11m-9-2h11m-11-6h11m-9 38h11m-8-35h11m-10 0h11m-11 29h11m-6-3h11m-9-29h11m-11 29h11m-7-19h11m-7 22h11m-10-12h11m-11 3h11m-11-22h11m-11 32h11m-9-30h11m-10 34h11m-5-12h11m-9 2h11m-11-5h11m-11 4h11m-9 1h11m-11-20h11m-10 28h11m-9 3h11m-11-25h11m-5 22h11m-9-35h11m-10 35h11m-7-1h11m-10-14h11m-11-14h11m-11-2h11m-10 14h11m-9 17h11m-4-31h11m-9 13h11m-6 17h11m-11-11h11m-9-6h11m-11 17h11m-10-27h11m-8 26h11m-8-34h11m-10 24h11m-10-9h11m-6 22h11m-8-9h11m-5-6h11m-8-20h11m-191 51h11m-7 24h11m-8-26h11m-2 2h11m-10 17h11m-9-4h11m-9-13h11m-10 8h11m-8-4h11m-6 2h11m-9 19h11m-10-34h11m-10 2h11m-6 20h11m-10-7h11m-8 6h11m-10 14h11m-9-37h11m-10 21h11m-7 10h11m-11-17h11m-8 9h11m-10-14h11m-9 16h11m-11-19h11m-9-7h11m-11 30h11m-11-30h11m-10 9h11m-7-3h11m-10 17h11m-10 0h11m-11-23h11m-10 0h11m-9 33h11m-7 5h11m-11-25h11m-9 6h11m-9 6h11m-11 12h11m-7-13h11m-11-9h11m-7-13h11m-10 19h11m-1-8h11m-10 19h11m-9-18h11m-11 15h11m-10-24h11m-10 15h11m-10 17h11m-10-21h11m-11 15h11m-9-28h11m-9 15h11m-9 5h11m-10 14h11m-8-5h11m-7-33h11m-11 7h11m-10 22h11m-10 9h11m-11-34h11m-10 15h11m-10 19h11m-8-29h11m-11-6h11m-10 27h11m-10-28h11m-6 1h11m-10-1h11m-10 32h11m-9 5h11m-10-15h11m-10-11h11m-9 8h11m-10-19h11m-11 0h11m-8 23h11m-9-7h11m-11-1h11m-10-5h11m-10-1h11m-10-5h11m-11 7h11m-9-12h11m-10 10h11m-9 18h11m-10-17h11m-8 17h11m-8-11h11m-7-8h11m-10 27h11m-8-31h11m-10 3h11m-5 9h11m-1 8h11m-2 10h11m-208 11h11m-2 3h11m-11 27h11m-9-18h11m-11-15h11m-5 29h11m-9-12h11m-10 6h11m-8-10h11m-9-5h11m-10 13h11m-7 8h11m-11-27h11m-8 7h11m-11 7h11m-10-15h11m-8 5h11m-11 19h11m-11-13h11m-9-4h11m-9-4h11m-7 19h11m-11-4h11m-10-23h11m-8 28h11m-10-21h11m-7 32h11m-9-30h11m-6-4h11m-10 18h11m-10-18h11m-11 4h11m-9 13h11m-4-14h11m-10 6h11m-11 21h11m-8-14h11m-8-1h11m-9 14h11m-11-20h11m-6-9h11m-9 3h11m-9 22h11m-10-19h11m-8 10h11m-9-13h11m-8 11h11m-8 18h11m-8-13h11m-9 12h11m-11 3h11m-9-19h11m-9-20h11m-10 5h11m-11 34h11m-8-7h11m-10-12h11m-10 7h11m-11-4h11m-9 0h11m-10-16h11m-9 10h11m-11-5h11m-8-10h11m-9 37h11m-9-2h11m-8-3h11m-10 2h11m-8-34h11m-9-1h11m-11 4h11m-8 27h11m-9 0h11m-10-11h11m-10-16h11m-10-3h11m-6 35h11m-11-12h11m2 10h11m-10-23h11m-7 17h11m-204 48h11m-3-7h11m-4-17h11m-11 2h11m-10 7h11m-6-20h11m-7 9h11m-2-8h11m-11-2h11m-6 5h11m-9-1h11m-9 5h11m-11 14h11m-10-12h11m-10 27h11m-10-6h11m-9-7h11m-9-20h11m-9-6h11m-8 16h11m-11 22h11m-10-1h11m-8-33h11m-10 23h11m-8-3h11m-9-14h11m-10 14h11m-10 2h11m-10 8h11m-7-15h11m-5 7h11m-10-11h11m-9 8h11m-11-11h11m-9 1h11m-3 16h11m-6-14h11m-9 0h11m-10-1h11m-10 22h11m-10-31h11m-11 29h11m-11-7h11m-8 1h11m-10 2h11m-10-25h11m-9 31h11m-10-26h11m-8 12h11m-11-15h11m-10 7h11m-9-2h11m-11 7h11m-10 13h11m-10-24h11m-11 20h11m-4-4h11m-11-19h11m-10 11h11m-10 19h11m-8-28h11m-11 10h11m-9 0h11m-8-4h11m-7-3h11m-10 2h11m-10 9h11m-8 12h11m-5 0h11m-10-5h11m-9 9h11m-8 0h11m-8-9h11m-11-14h11m-9-13h11m-8-1h11m-8 17h11m-11-1h11m-9 9h11m-11-15h11m-8-5h11m-11 4h11m-10 17h11m-10 2h11m-9 1h11m-10-16h11m-11 0h11m-244 66h11m6 0h11m-1-22h11m-6 16h11m-10 1h11m0 1h11m-10-18h11m-11 2h11m-8 6h11m-9-18h11m-11 9h11m-8 12h11m-10-22h11m-2 15h11m-11-17h11m-9 10h11m-11-8h11m-7 2h11m-10 15h11m-11 15h11m-11-12h11m-11 9h11m-8-8h11m-5-25h11m-9 34h11m-11-14h11m-11 3h11m-9 4h11m-9-4h11m-6-1h11m-9-2h11m-9 0h11m-10-17h11m-8 17h11m-9 10h11m-8-28h11m-10 13h11m-9 21h11m-10-35h11m-11 13h11m-10-5h11m-10 4h11m-10 0h11m-8-5h11m-10 2h11m-9 9h11m-10 4h11m-9-7h11m-10 13h11m-9 2h11m-10-14h11m-10-8h11m-10 10h11m-10-6h11m-10 11h11m-10 11h11m-10-33h11m-6 30h11m-10-30h11m-8 14h11m-10-11h11m-10 7h11m-11 13h11m-9 1h11m-8-4h11m-7-15h11m-10-4h11m-8 28h11m-11-2h11m-10-25h11m-11 11h11m-10 19h11m-9-28h11m-10 15h11m-8-1h11m-11 8h11m-9-23h11m-11 3h11m-9 24h11m-11-12h11m-8 9h11m-8-1h11m-10 4h11m-10-4h11m-9-30h11m-6 32h11m-11 4h11m-10-26h11m-10-8h11m-11-2h11m-10 11h11m-9 15h11m-11-10h11m-11-7h11m-11 4h11m-7 23h11m-10 2h11m-10-31h11m-11 5h11m-8 1h11m-2 5h11m-9-17h11m-8 24h11m-11-14h11m-6-11h11m-9 23h11m-9 8h11m-8 4h11m-11-3h11m-8-31h11m-10 31h11m-8-18h11m-253 65h11m-9-4h11m-8-4h11m-3-4h11m-10-18h11m-10 25h11m-9 1h11m-5-7h11m-11-13h11m-11 14h11m-10 9h11m-9-3h11m-6-1h11m-10-9h11m-7-8h11m-8-12h11m-9 10h11m-10 8h11m-5 1h11m-7-3h11m-9-21h11m-10 1h11m-10 4h11m-10 4h11m-10 29h11m-10-36h11m-8 9h11m-11 8h11m-5-10h11m-10 18h11m-10-21h11m-10 2h11m-11 0h11m-10 27h11m-8-1h11m-7 5h11m-10-21h11m-11 15h11m-9 0h11m-10-4h11m-10-27h11m-9 1h11m-10 30h11m-10 3h11m-10-24h11m-10 21h11m-11-10h11m-7-19h11m-11 14h11m-11-10h11m0 20h11m-11 2h11m-8-3h11m-10 10h11m-10-18h11m-9-1h11m-11-4h11m-10 22h11m-8-12h11m-9-22h11m-9 26h11m-10-20h11m-11 25h11m-10 4h11m-10 0h11m-11-12h11m-10-18h11m-10 26h11m-11-27h11m-10 19h11m-9 1h11m-10-22h11m-11 35h11m-6-12h11m-10-26h11m-10 8h11m-11 14h11m-11-16h11m-8 15h11m-10-16h11m-11 4h11m-11 27h11m-9-34h11m-9 12h11m-9 23h11m-11-28h11m0 15h11m-11-15h11m-11 23h11m-10 6h11m-10-25h11m-11-14h11m-5 30h11m-10-5h11m-10-18h11m-9 17h11m-8-10h11m-10 10h11m-11 11h11m-10-17h11m-10-18h11m-9 5h11m-11 20h11m-9 4h11m-10-25h11m-11 13h11m-8 22h11m-10-39h11m-9 15h11m-10-5h11m-9 4h11m-10 20h11m-10-15h11m-10 7h11m-6-19h11m-10 10h11m-7 5h11m-10-16h11m-11 13h11m-11-18h11m-4 35h11m-9-6h11m-10-5h11m-11 2h11m-10-26h11m-9 9h11m-10-3h11m-10 7h11m-9-4h11m-7 24h11m-5-33h11m-2 4h11m-307 52h11m-10 10h11m7-25h11m-10 36h11m-5-23h11m-5-4h11m-7-8h11m-8 35h11m-10-2h11m-6-23h11m-11 26h11m-10-22h11m-11 8h11m-10 6h11m-11-31h11m-9 16h11m-10 12h11m-10 3h11m-11 6h11m-7-9h11m-3-28h11m-11 24h11m-11-16h11m-8 12h11m-8 4h11m-9-13h11m-10 24h11m-10 1h11m-9-26h11m-9 28h11m-9-4h11m-9-7h11m-8-25h11m-9 27h11m-10-3h11m-11-22h11m-8 25h11m-10-20h11m-10 16h11m-8 13h11m-10-4h11m-11-10h11m-9 3h11m-11-26h11m-10 16h11m-10 11h11m-11-26h11m-9 30h11m-11-22h11m-10 29h11m-8-19h11m-10 15h11m-11 1h11m-11-5h11m-9-4h11m-11 8h11m-6-2h11m-10 4h11m-8-31h11m-7 14h11m-9 13h11m-10 2h11m-9-9h11m-9-20h11m-10 20h11m-8-21h11m-10 30h11m-10-32h11m-8 17h11m-11-6h11m-10 19h11m-10-27h11m-10 15h11m-8 17h11m-10-7h11m-10-16h11m-9 9h11m-7-12h11m-11 17h11m-11-12h11m-10-10h11m-9 12h11m-10 0h11m-9 2h11m-11 4h11m-9-17h11m-10 12h11m-9 18h11m-10-13h11m-8-19h11m-10 24h11m-11 4h11m-11-17h11m-10-11h11m-8 9h11m-9-12h11m-9 34h11m-4-14h11m-10 4h11m-11-7h11m-10-5h11m-11 22h11m-9-29h11m-10 2h11m-8-10h11m-9 21h11m-10-21h11m-10 17h11m-10 10h11m-10-12h11m-10 2h11m-8-17h11m-10 3h11m-10 31h11m-11-9h11m-9 9h11m-3 0h11m-9 4h11m-11-6h11m-10-7h11m-11-14h11m-10 26h11m-11-14h11m-8-20h11m-5 4h11m-9 0h11m-10 27h11m-11-21h11m-9 17h11m-11-24h11m-11 0h11m-5 2h11m-7-3h11m-2 13h11m-11 1h11m-3-12h11m-8 23h11m-8-21h11m-356 70h11m-10-7h11m-9-17h11m-4 22h11m-3-8h11m7-2h11m-6 9h11m-10-6h11m-10 6h11m-8 1h11m-10-3h11m-9-18h11m-9 20h11m-10-17h11m-7 0h11m-10 19h11m-9-19h11m-8-8h11m-9 6h11m-10 19h11m-9-8h11m-4-14h11m-10-6h11m-5 11h11m-7-16h11m-10 11h11m-11-5h11m-4-8h11m-10 38h11m-10-8h11m-11-9h11m-9-17h11m-10 20h11m-11 12h11m-9-16h11m-11 9h11m-9-6h11m-10-1h11m-10 3h11m-10-20h11m-11-4h11m-9 32h11m-11-1h11m-10-19h11m-10 14h11m-11-25h11m-10 31h11m-11-32h11m-4-2h11m-11 16h11m-7 1h11m-8 3h11m-11-8h11m-7 24h11m0-35h11m-9 38h11m-8-27h11m-9 10h11m-11-18h11m-10 29h11m-10-1h11m-6 6h11m-10-18h11m-11-19h11m-9 25h11m-10 1h11m-11-26h11m-9 26h11m-10 11h11m-10-15h11m-8 3h11m-11 5h11m-11 5h11m-10-1h11m-11-26h11m-11 30h11m-8-29h11m-11-5h11m-10 23h11m-11-11h11m-10 1h11m-10-5h11m-7 7h11m-10 15h11m-11-2h11m-10-4h11m-7-17h11m-10-12h11m-10 31h11m-3-3h11m-9 7h11m-11-4h11m-7 6h11m-6-11h11m-11-24h11m-10 21h11m-10-8h11m-11-4h11m-7 20h11m-10-6h11m-11-8h11m-10-9h11m-7-8h11m-9 2h11m-7 26h11m-8-16h11m-10 13h11m-9 14h11m-7-10h11m-11-23h11m-8 5h11m-11 17h11m-6 4h11m-7 7h11m-10-19h11m-11-11h11m-10-3h11m-10 14h11m-10 1h11m-10-20h11m-10 6h11m-9 5h11m-10 4h11m-10-7h11m-7 27h11m-9 0h11m-10-4h11m-6-31h11m-11 6h11m-10 28h11m-8-21h11m-8 3h11m-7 3h11m-10-6h11m-8-9h11m-7 0h11m-10 4h11m-9 13h11m-11 4h11m-10-7h11m-11-16h11m-11 35h11m-10-13h11m-9-10h11m-9 14h11m-11-20h11m-9 1h11m-10 23h11m-7-18h11m-10-12h11m-6 3h11m-10 16h11m-10 8h11m-5 0h11m3-10h11m-468 35h11m-8-3h11m14-9h11m11 36h11m-8-11h11m-5 5h11m-3-8h11m-3 12h11m-2-11h11m25 8h11m4-1h11m-2 1h11m-7 3h11m-11-29h11m-11 23h11m-11 4h11m-10-3h11m-11 1h11m-11-10h11m-9-2h11m-10-1h11m-11 17h11m-10 1h11m-4-34h11m-9 33h11m-9-5h11m-6-9h11m-8 4h11m-10-9h11m-11 12h11m-9-9h11m-7-1h11m-9 12h11m-8-30h11m-11 7h11m-10 26h11m-10-33h11m-9 4h11m-8 31h11m-11-29h11m-10 13h11m-11 16h11m-10-31h11m1 16h11m-9-9h11m-9-10h11m-11 12h11m-9 18h11m-10 0h11m-11 3h11m-9-15h11m-10 7h11m-8 3h11m-9-27h11m-9-1h11m-11 12h11m-11 2h11m-11-11h11m-10 22h11m-10-13h11m-9 14h11m-10-10h11m-11 15h11m-10-30h11m-10 0h11m-8-3h11m-9 11h11m-11 7h11m-10-1h11m-10-18h11m-11 23h11m-8-4h11m-8 14h11m-11-18h11m-10 21h11m-8 0h11m-6-33h11m-10 0h11m-11 0h11m-10 0h11m-10 32h11m-9-28h11m-10-6h11m-11 21h11m-10-14h11m-10 9h11m-9-7h11m-10 11h11m-10-12h11m-8 2h11m-5 8h11m-10-7h11m-11-2h11m-9 24h11m-10-19h11m-6 6h11m-7-16h11m-10 33h11m-9-32h11m-8 16h11m-8-17h11m-11 17h11m-11 14h11m-6-5h11m-9 2h11m-11-25h11m-11 30h11m-11-12h11m-11-19h11m-8 8h11m-10-4h11m-10-9h11m-10 29h11m-10-17h11m-10-12h11m-4 36h11m-10-24h11m-11-14h11m-10 3h11m-10 14h11m-11-15h11m-8 8h11m-5-3h11m-5 5h11m-9 3h11m-11-2h11m-10 25h11m-10-23h11m-11 11h11m-9-5h11m-10-10h11m-6 16h11m-8-21h11m-11 14h11m-9-16h11m-9 34h11m-11-1h11m-10 2h11m-11-9h11m-8-28h11m-8 2h11m-11 8h11m-9 25h11m-10-26h11m-11-7h11m-10-2h11m-10 29h11m-10 3h11m-8-16h11m-6-6h11m-11-2h11m-10 18h11m-10-19h11m-10 4h11m-10-7h11m-10 23h11m-11 2h11m-5-16h11m-11-6h11m-9 19h11m-10-12h11m-9-12h11m-9 5h11m-7 18h11m-11 6h11m-10-20h11m-11 10h11m-9-10h11m-11 7h11m-11-19h11m-10 10h11m-11-3h11m-6 7h11m-10 21h11m-1-29h11m-7 8h11m-10-12h11m-10 3h11m-8-2h11m-10 5h11m-6 7h11m-9-14h11m-8 4h11m-464 54h11m29-16h11m8 17h11m3 8h11m-7-8h11m4-21h11m19 1h11m-9 20h11m-10-4h11m32-5h11m-4 20h11m6-28h11m-10 4h11m-11 16h11m-6-15h11m3-8h11m-4 10h11m-9-7h11m-3 9h11m-6 14h11m-5 4h11m-6-14h11m-10-1h11m-1-1h11m-8-5h11m-5-3h11m-9 27h11m-8-28h11m-10 12h11m-10-16h11m-6 5h11m-6-7h11m-9 17h11m-11-15h11m-10 0h11m-10 13h11m-10 4h11m-10-15h11m-8 7h11m-10 22h11m-5-16h11m-10 15h11m-11-16h11m-10 19h11m-11-18h11m-6 21h11m-10 1h11m-8-37h11m-11 15h11m-10-1h11m-8-4h11m-9 20h11m-7-29h11m-10 27h11m-9-8h11m-11 7h11m-7-7h11m-10-19h11m-7 22h11m-11 7h11m-8-29h11m-10 4h11m-9-2h11m-11 11h11m-10-6h11m-10 17h11m-10-21h11m-9 7h11m-10-9h11m-8 11h11m-9-12h11m-10 12h11m3-1h11m-10-5h11m2-8h11m-9 22h11m-9-7h11m0-16h11m7 2h11m-461 39h11m83 12h11m-9-10h11m48 13h11m38-16h11m56 0h11m-4 2h11m-6 9h11m-2-9h11m-8 9h11m9-6h11m30 1h11m-9-1h11" stroke="#64B200" stroke-width="11" fill="none" transform="scale(.1)"/>
<path d="M66 218h11m17 11h11m-8-1h11m1-2h11m-11 4h11m-7-1h11m-5 3h11m7-1h11m-8-6h11m-1 6h11m-11-17h11m-10 10h11m3 8h11m8-8h11m-173 34h11m-8-2h11m-10 5h11m8 4h11m4 11h11m-9-6h11m-11 7h11m-3-11h11m-9-5h11m-10 14h11m-2 3h11m-10-12h11m-9-19h11m-10 26h11m-11-8h11m-9 6h11m-8-20h11m-5 15h11m-9 13h11m-11-6h11m-9-18h11m-9 19h11m-8-13h11m-11 14h11m-10-13h11m-11-10h11m-6 19h11m-10 3h11m-10-6h11m-10 3h11m-11-13h11m-9 4h11m-9-5h11m-10 18h11m-8-26h11m-9 28h11m-10-2h11m-10-8h11m-7-17h11m-7-7h11m-10-3h11m-10 14h11m-10 3h11m-10-9h11m-3 6h11m-11-13h11m-6 26h11m-7-19h11m-10 17h11m-10 6h11m-7-3h11m-7-1h11m-7-11h11m-9 11h11m-11-7h11m-9-8h11m-10 10h11m-9-5h11m-11-3h11m-9 17h11m-9 1h11m-9-13h11m-5-2h11m-10-15h11m-5 4h11m-10 2h11m-9 18h11m-9 3h11m-10-16h11m-11 26h11m-2-29h11m-8 29h11m-6-9h11m-3 2h11m-7-7h11m-6-3h11m-9-14h11m-10 16h11m-9 8h11m-10 2h11m-10-18h11m-9 16h11m15-15h11m-7 18h11m4-5h11m-277 42h11m18 3h11m-10-16h11m-3-19h11m-9 2h11m-6 17h11m-5-7h11m-6-9h11m-10 14h11m-10 4h11m-11 10h11m-10-1h11m-11-27h11m-9 31h11m-10-23h11m-11 5h11m-10-8h11m-9-8h11m-11 24h11m-10-15h11m-11 24h11m-7 1h11m-10-9h11m-10-6h11m-11-2h11m-9 14h11m-8-3h11m-8-10h11m-9-13h11m-8 26h11m-10-29h11m-10-1h11m-10 29h11m-10-28h11m-4 34h11m-11 3h11m-10-14h11m-11 1h11m-9 3h11m-10-17h11m-10-5h11m-9 19h11m-10 7h11m-10-23h11m-10 7h11m-10 1h11m-9-6h11m-11 2h11m-10 7h11m-9-18h11m-10 5h11m-10 24h11m-11 0h11m-11-18h11m-10 18h11m-9-30h11m-11 37h11m-11-37h11m-11 13h11m-10-12h11m-11 26h11m-10-3h11m-11 3h11m-10-23h11m-10 0h11m-11 27h11m-10-28h11m-10 33h11m-10-33h11m-11 6h11m-10 28h11m-11-16h11m-10-5h11m-11 21h11m-11-7h11m-10-25h11m-10 1h11m-11 3h11m-10-2h11m-11 19h11m-10-17h11m-5 27h11m-11-5h11m-9-8h11m-10 10h11m-10-29h11m-10 10h11m-11 18h11m-11-26h11m-9 7h11m-10-1h11m-11 13h11m-10 1h11m-10-25h11m-10 25h11m-11-24h11m-10 30h11m-11-29h11m-11 33h11m-10-13h11m-10-10h11m-9 19h11m-10-29h11m-6-4h11m-7 6h11m-11 27h11m-8-29h11m-9 32h11m-9-24h11m-11 12h11m-8 1h11m-7-5h11m-8 2h11m-10 7h11m-5 3h11m-7-23h11m-11-8h11m-5 4h11m-9 26h11m-5-20h11m-9 6h11m-11 6h11m-6 7h11m-10-21h11m-11 25h11m-10-28h11m-11-6h11m-8 11h11m-5 5h11m-7-9h11m-7-8h11m-11 5h11m-7 34h11m-6-21h11m-7 11h11m-4-15h11m-5 19h11m-10-25h11m-11 17h11m-6-1h11m-8-7h11m-3 8h11m-8-15h11m0 15h11m-11 8h11m-6 1h11m-10 3h11m-7 0h11m0-17h11m-9 6h11m-3-1h11m-302 16h11m2 8h11m4 14h11m-2-1h11m-3-5h11m-9-12h11m-10-5h11m-5 21h11m-10-1h11m-10 3h11m-11 1h11m-3-19h11m-9 8h11m-2 11h11m-8-24h11m-10 16h11m-8-8h11m-11-6h11m-3 3h11m-9 11h11m-10 13h11m-6-4h11m-10-4h11m-11-5h11m-9-12h11m-10 9h11m-11-12h11m-7 0h11m-7 7h11m-9-4h11m-11 21h11m-9-15h11m-11 15h11m-6 11h11m-8-7h11m-7-4h11m-8 0h11m-8-13h11m-7-2h11m-6 2h11m-8-6h11m-6 8h11m-10 6h11m-3-10h11m-10 19h11m-9-15h11m-10-3h11m-5-5h11m-9 13h11m-6 19h11m-7-21h11m-10-2h11m-9-3h11m-6 19h11m-11-16h11m-8 13h11m-10-20h11m-6 19h11m-7 4h11m-4 1h11m-9-11h11m-9-5h11m-10 17h11m-10-32h11m-10 37h11m-10-20h11m-7 10h11m-10-8h11m-9 13h11m-3 1h11m17 3h11m-8-19h11m-10 0h11m-11-7h11m-4 26h11m-8-26h11m-4 3h11m-5 6h11m-5 12h11m-9-15h11m-7-3h11m-11-12h11m-3 23h11m-11-7h11m-10-9h11m-10 24h11m-3-19h11m-4 8h11m-10-9h11m-9-12h11m-7 36h11m-9 0h11m-9-23h11m-230 26h11m51 5h11m8 9h11m5 11h11m-1-23h11m-10 22h11m-8-13h11m-8-11h11m-4 7h11m-1 18h11m-4-14h11m7 11h11m-11-15h11m-10 3h11m-10-7h11m-6 3h11m-10 17h11m-10 13h11m-4-30h11m-11-3h11m-9 17h11m-6 5h11m-7 2h11m-10 3h11m-11-22h11m-10 19h11m-7-10h11m-7 21h11m-11-34h11m-3-2h11m0 33h11m-4-6h11m-10-23h11m-8 22h11m-5-19h11m-3-8h11m-10 37h11m-7-6h11m-9-8h11m2 14h11m11 0h11m-167 26h11m6-24h11m-2 7h11m-8 5h11m-3-8h11m-8 18h11m-6 12h11m-10-13h11m-7-2h11m-6-14h11m-10-3h11m-7 4h11m-10-5h11m-6 4h11m-4 22h11m-10-13h11m-1 16h11m-11 5h11m-9-34h11m-11 37h11m-8-33h11m-2 31h11m-9-29h11m1 19h11m-8-10h11m-7 5h11m-10-20h11m-7 15h11m-6 15h11m7-30h11m-9 8h11m-3 13h11m-3 0h11m-7 13h11m-11-3h11m-8 7h11m17-2h11m2-15h11m35 15h11m-211 4h11m-3 19h11m-9-6h11m-2 11h11m20-14h11m-11 28h11m-5-24h11m-7 5h11m-5-10h11m-10 11h11m-9-21h11m-4 36h11m-10-19h11m16 14h11m-10-25h11m-8 32h11m-6 0h11m-9-7h11m-10 0h11m11-14h11m-2-5h11m-6 25h11m-11-34h11m6-1h11m-3 29h11m-9 2h11m-5 2h11m-9 3h11m45-11h11m-191 20h11m19 5h11m-8-6h11m0-2h11m-3 1h11m2 19h11m-2-18h11m10 1h11m-5-4h11m1 13h11m-11-16h11m-5 2h11m-8 9h11m-8 12h11m-8-17h11m10 7h11m-2 4h11m-1-3h11m-9 13h11m-11-10h11m-5 9h11m-24 14h11m-534 108h11m-10 8h11m-6 3h11m-9 5h11m-1 4h11m-6 2h11m-7 11h11m-9 4h11m-11-8h11m-6 18h11m-2-3h11m-10 1h11m-8-1h11m-16 10h11m-7 6h11m-11-5h11m-8 5h11m-3 3h11m119 28h11m-4-29h11m-5 25h11m-6-14h11m-3-4h11m-9-3h11m-111 50h11m18-8h11m-10 13h11m-7-9h11m-9 17h11m-10-15h11m-5 6h11m-10-1h11m-11 10h11m-9-20h11m-8 9h11m-9 13h11m-9-17h11m-6 0h11m-10 0h11m-3 14h11m-10 2h11m-5-9h11m-62 11h11m-8 4h11m2 28h11m-11-15h11m-11-6h11m-10 0h11m-11 5h11m-9-9h11m-10-7h11m-10 17h11m-11 3h11m-9 4h11m-7-17h11m-10-6h11m-8 12h11m-9-10h11m-10 8h11m-10-5h11m-10 20h11m-10 7h11m-10-33h11m-7 30h11m-4-4h11m-7 0h11m-11-18h11m-9 23h11m15-6h11m-74 23h11m-9 28h11m-11-35h11m-1 21h11m-85 56h11m-7-12h11m-9 13h11m-8-9h11m-10-16h11m0 20h11m15 4h11m-6-10h11m-10 5h11m-9 0h11m6 1h11m-89 31h11m-9-17h11m-3 7h11m-10-15h11m-1 24h11m-11-3h11m-8-7h11m-7-8h11m2 12h11m-41 23h11" stroke="#00C1A7" stroke-width="11" fill="none" transform="scale(.1)"/>
<path d="M279 1435h11m0-12h11m-10 15h11m-9 0h11m-9-4h11m-7-4h11m-10 6h11m-11-1h11m-4-20h11m-4 16h11m-44 26h11m-10-13h11m-7 0h11m-11 6h11m-7 16h11m-11-8h11m-11-1h11m-11-15h11m-10 9h11m-7-1h11m-10-5h11m-10 13h11m-10 4h11m-10 1h11m-8-22h11m-10 3h11m-11 10h11m-9-3h11m-9 1h11m-10 25h11m-7-35h11m-11 13h11m-8-12h11m-7 19h11m34 5h11m-93 16h11m30 1h11m-8 13h11m63 2h11m189 19h11m-7-2h11m0-5h11m-3 5h11m-313 16h11m22 5h11m15 6h11m9 15h11m-7-27h11m12 19h11m-10-12h11m144 21h11m-3 0h11m-10-3h11m-7-2h11m-10 3h11m-10-3h11m-6-15h11m-9-6h11m-5 11h11m-11 9h11m-8 3h11m-10-34h11m4 34h11m-11-13h11m-10-16h11m-10 20h11m-6-25h11m-9 34h11m-385 42h11m1 1h11m10-9h11m0 9h11m24-36h11m1 3h11m14-1h11m121 31h11m3-6h11m-11 0h11m-1-6h11m-9 11h11m-9 1h11m-5-9h11m-6 10h11m-11 0h11m-6-13h11m-9 12h11m-8-10h11m-10 13h11m-9-26h11m-10 16h11m-10-7h11m-10 13h11m-7-8h11m-8-22h11m-10 31h11m-10-9h11m-6 4h11m-6-9h11m-10 9h11m-7-31h11m-10 13h11m-10 10h11m-8 6h11m-10 6h11m-10-35h11m-10 38h11m-10-35h11m-9 36h11m-11-37h11m-11 22h11m-8-6h11m-10 3h11m-9-18h11m-9 15h11m-11 6h11m-9 15h11m-11-24h11m-6 8h11m-10 0h11m-9-19h11m-3 11h11m-11 12h11m-10 12h11m-10-17h11m-10 1h11m-11-17h11m-11 15h11m-9 4h11m-7 6h11m-8-18h11m-1 22h11m-417 43h11m-5-5h11m-5-25h11m-10 12h11m-11 9h11m-10-16h11m-3 6h11m-11-6h11m-7-13h11m-7 3h11m-7-1h11m-11-1h11m-10 33h11m-9 4h11m-2-35h11m-2 29h11m-8-6h11m-7-16h11m-8 22h11m-8-24h11m-9 4h11m-4 15h11m-10-17h11m-10 24h11m5-26h11m4 29h11m-8-10h11m88 8h11m-9-6h11m-8 4h11m-5-4h11m1 3h11m5-17h11m-9 8h11m-8 0h11m-6-18h11m-9 30h11m-8-25h11m-8 20h11m-9-22h11m-9-6h11m-8 13h11m-6-2h11m-8 19h11m-5 5h11m-10-27h11m-10-2h11m-10 22h11m-5 0h11m-11-24h11m-9 25h11m-6-28h11m-10 8h11m-10 15h11m-5-12h11m-7 5h11m-10-2h11m-10 9h11m-4-9h11m-8 1h11m-5 6h11m-9-11h11m-7-6h11m-10 2h11m-8 27h11m-10 0h11m-10 3h11m-10-1h11m-11-15h11m-10-6h11m-11 15h11m-10-4h11m-9-14h11m-9 23h11m-9-17h11m-9-11h11m-9-5h11m-8 18h11m-1 16h11m-11-15h11m-7 5h11m-6-4h11m-9 1h11m-10-15h11m-5-3h11m-11 32h11m-10-13h11m-9-25h11m-9 1h11m-5 9h11m-7 19h11m-10-1h11m-9-13h11m-11 3h11m-9-10h11m-9 0h11m-432 61h11m-6-11h11m-6-2h11m-9 20h11m-10-11h11m-5 5h11m-6-20h11m-4 5h11m-11 19h11m2-1h11m-8-13h11m-2 15h11m-10-13h11m-9-6h11m-3 15h11m-4-29h11m-10 0h11m-11 34h11m-9-8h11m-9-28h11m-9 4h11m-7 2h11m-7 7h11m-10-11h11m-9-3h11m-11 16h11m-5-4h11m-9 4h11m-9-7h11m-11 28h11m-5-14h11m-11-17h11m-10 30h11m-8-9h11m-7 1h11m-8 2h11m-9-20h11m-4 21h11m-9-14h11m-4 14h11m-11-9h11m-8-14h11m-7 16h11m-8 0h11m3 9h11m55-17h11m-7-14h11m-7 3h11m-6 2h11m-11 5h11m-11-10h11m-7 5h11m5 4h11m6-5h11m3 2h11m-4 3h11m-9 3h11m0-9h11m-10-4h11m2 7h11m-11 1h11m-11 11h11m-8-6h11m-2-14h11m-7 8h11m3-5h11m-4-2h11m7-1h11m-417 76h11m-10-8h11m1-9h11m-5 10h11m-10-23h11m-10 29h11m-7-3h11m-10-28h11m-8 4h11m-3 7h11m-5-4h11m0-1h11m-10-9h11m-11 3h11m-10 21h11m4 1h11m-11 8h11m-11-1h11m-7-6h11m-4 8h11m-7-33h11m-8 23h11m-11-13h11m-9 13h11m-6-9h11m-10 17h11m-10-15h11m-8 4h11m-11-6h11m-8-16h11m-2 17h11m-6-12h11m-7 22h11m-10-13h11m-10-14h11m-8 16h11m-7-7h11m-6 10h11m-10-10h11m-10 0h11m-2 2h11m-2 15h11m-10-11h11m-10-12h11m-11 7h11m-10 20h11m-11-4h11m4 3h11m-10-16h11m-11-1h11m-9 8h11m12-11h11m-241 59h11m4 11h11m-7-35h11m-10 33h11m-9-9h11m-8 9h11m-11-6h11m-4-30h11m-9 12h11m-6 0h11m-11-5h11m-8 14h11m-4-17h11m-3 13h11m-8 16h11m-3-1h11m-8-25h11m-9 14h11m-6-7h11m-11-11h11m-10 5h11m-8 14h11m-9 16h11m-8-25h11m-5-6h11m-9 5h11m-2 2h11m-7-8h11m-7-6h11m-10 15h11m-9 10h11m-8-16h11m-10 17h11m-8-22h11m-10 30h11m-7-20h11m-11 18h11m-10 1h11m-11-30h11m-3 4h11m-2 4h11m-9 17h11m-9 3h11m-10-7h11m-11-3h11m-10-10h11m-6 8h11m-10 1h11m-3-10h11m-10-1h11m-8 28h11m-1-8h11m-8-7h11m-10 9h11m-5-17h11m-11 24h11m-10-18h11m-11 0h11m-10-11h11m6-4h11m-206 63h11m-8-6h11m-10-11h11m2 2h11m-11-6h11m-9 21h11m-10-2h11m-5 9h11m-7 0h11m1-10h11m-11 0h11m-10-14h11m-6 13h11m-7-18h11m-9 14h11m-6-8h11m-10 11h11m-9 7h11m-7-5h11m-8-22h11m-10-2h11m-8 8h11m-7-1h11m-6 21h11m-10-8h11m-9-12h11m-11 5h11m-2 11h11m-10 6h11m-6-6h11m-7-5h11m-9 3h11m-2-14h11m-11 9h11m-6 13h11m-10-13h11m-10-6h11m-10 19h11m-11 7h11m4-13h11m-10-6h11m-8 18h11m-11 0h11m-9-10h11m-9-18h11m-10 22h11m-10 2h11m-11 1h11m-9-1h11m-8-33h11m-7 19h11m-10-10h11m-10 11h11m-9-14h11m-5 21h11m-8-19h11m-4 10h11m-213 34h11m-1 14h11m-6-18h11m4 18h11m1-26h11m-10 8h11m-6 13h11m14 13h11m-7-5h11m-3 2h11m-8-8h11m-6-7h11m-8 11h11m-11 0h11m-8-5h11m-10-19h11m-10 0h11m-10 14h11m-7-7h11m-7-3h11m-8 21h11m-9 7h11m-3 2h11m-9-21h11m-9-12h11m-4 20h11m-1-4h11m-6-6h11m-10 13h11m-10-28h11m-11 10h11m-2-1h11m-9 2h11m-11 7h11m-1-16h11m-169 46h11m-4 7h11m-10 12h11m-11 0h11m-11-23h11m-10 27h11m-11-9h11m-8-15h11m-9 21h11m-10 0h11m-7-27h11m-6 34h11m-6-20h11m-10 12h11m-7-17h11m0 19h11m-10-19h11m-11-1h11m-10 18h11m-7-6h11m-11-14h11m-8 0h11m2 3h11m-3 1h11m-9-1h11m-3 18h11m-8-2h11m-2-4h11m-2-13h11m-9-7h11m-9 17h11m-8-11h11m-9 8h11m-7 9h11m5 9h11m-11-10h11m-10-15h11m-11 13h11m-9 5h11m-3 7h11m-8-14h11m-163 42h11m-5-22h11m-8 20h11m-6-13h11m-7 22h11m-7-21h11m-10 21h11m0-15h11m-9 23h11m-9 0h11m-8-17h11m-8-16h11m-6 27h11m-6-12h11m-7 0h11m-10 12h11m-10-1h11m-5-9h11m8-11h11m-10 11h11m-9 5h11m-4-15h11m-8-11h11m-4 6h11m-10 14h11m-6-16h11m-9 22h11m-9 5h11m-11-1h11m-10 9h11m-11-7h11m-9-9h11m-9-12h11m-10 24h11m-11 3h11m-9-11h11m-10 9h11m1-19h11m-8-5h11m-7 3h11m-145 30h11m-5 12h11m-10 6h11m-9-9h11m-4 5h11m-8-4h11m-10 19h11m-5-21h11m-4 8h11m-11 0h11m-10-19h11m-6 3h11m-5 10h11m-4 3h11m-9 3h11m-10 14h11m-10 1h11m-11-20h11m-7-1h11m-10 9h11m-1-8h11m-11-8h11m-8 9h11m-7-6h11m-10 10h11m-10 18h11m-10-9h11m-10 4h11m-8-6h11m-6 5h11m2-24h11m-10 14h11m-11-4h11m-11-10h11m-7 19h11m-8-26h11m-9 15h11m15 0h11m-9 20h11m-144 4h11m4 22h11m-6-2h11m-5-16h11m-7 17h11m7-5h11m-1 21h11m-9-24h11m-6-12h11m-8 26h11m-9-28h11m-9 25h11m-6-5h11m-2-8h11m-5-7h11m-11 16h11m-7 3h11m-2 3h11m-8-9h11m-86 22h11" stroke="#00BADE" stroke-width="11" fill="none" transform="scale(.1)"/>
<path d="M465 782h11m42 15h11m-76 15h11m-3 13h11m-3 6h11m-11 4h11m-7-7h11m-7 1h11m-11-23h11m-5 11h11m-9 10h11m-11-20h11m-10 31h11m-10-6h11m-10-20h11m-11 12h11m-9 3h11m-11-16h11m-7 7h11m-10 9h11m-10-24h11m-8-2h11m-5 16h11m-5-7h11m-8 12h11m-7 12h11m-9-3h11m-9-21h11m-129 68h11m-2 1h11m7-35h11m-8 11h11m5 0h11m-5-5h11m-9-8h11m-8 5h11m-11 22h11m-10 5h11m-9 5h11m-7-23h11m-7-14h11m-4 14h11m-10 15h11m-10-11h11m-11 7h11m-7-24h11m-6 15h11m-7 9h11m-10-25h11m-10 33h11m-10-22h11m-4 1h11m0 12h11m-125 42h11m-8-21h11m2 11h11m-7-11h11m-10 4h11m-8 8h11m-5 4h11m-1-14h11m-7 22h11m-10-24h11m-8 11h11m-10-18h11m-4 14h11m-10-4h11m-9 10h11m-8 1h11m-1 4h11m-9-12h11m-10 14h11m-11-19h11m-10 22h11m-11-22h11m-3 26h11m5-34h11m-11 11h11m-7-8h11m-8 32h11m2-6h11m-7 4h11m-6-14h11m-10 5h11m-8-21h11m-6 24h11m-193 32h11m-8-5h11m-9 23h11m8-13h11m-9 3h11m-8 0h11m-9 5h11m6-23h11m-10 16h11m-11 10h11m-10-15h11m-4-9h11m-4 18h11m-10-20h11m-10-2h11m-10 25h11m-2-16h11m-11 10h11m-11-14h11m-7 6h11m-9 4h11m-11 5h11m-8-16h11m-4 19h11m-11 0h11m-3-3h11m-3 2h11m-4-3h11m-9-1h11m-10-19h11m-9 14h11m-9 19h11m-9 0h11m-9-10h11m-7-8h11m-7-9h11m-11 12h11m-9-6h11m-10-14h11m-6 5h11m-9 17h11m-10 10h11m-11-11h11m-9-10h11m-9-11h11m-9 18h11m-10 8h11m-11-5h11m-11-7h11m-9-11h11m-7 6h11m-10 18h11m-5 1h11m-9-4h11m1-26h11m-8 27h11m-5-28h11m-11 4h11m10 31h11m-234 29h11m-5-13h11m2 0h11m-3 7h11m-5 10h11m-3-21h11m-6 13h11m3 7h11m-4-26h11m-8 7h11m-9-4h11m-11 23h11m-11-23h11m-8 31h11m-8-20h11m-7 21h11m-10-25h11m-8 22h11m-8-10h11m-11-23h11m-10 15h11m-11 19h11m-9-11h11m-11 8h11m-9-28h11m-10 8h11m-11-2h11m-6 2h11m-9 3h11m-9 19h11m-10-13h11m-11-6h11m-10 24h11m-11-35h11m-8 34h11m-10-31h11m-9 19h11m-10-3h11m-11-8h11m-9 10h11m-11-13h11m-9-8h11m-10 6h11m-8 25h11m-11-25h11m-6 17h11m-10 3h11m-9 9h11m-8-27h11m-9 10h11m-9-7h11m-8 5h11m-10-18h11m-7 23h11m-8 13h11m-10-22h11m-11 21h11m-11-4h11m-10 0h11m-9-6h11m-10 5h11m-11-30h11m-9 32h11m-10-8h11m-11-7h11m-10-14h11m-11 3h11m-7-2h11m-10 17h11m-10 12h11m-10-14h11m-7-19h11m-11 30h11m-9-21h11m-9 27h11m-10-7h11m-8-21h11m-10-8h11m-7 19h11m-10 8h11m-10 6h11m-7-5h11m-11 2h11m-5-24h11m-7-7h11m-11 28h11m-9-10h11m-3-8h11m-8 27h11m-8-17h11m-11-2h11m-5-15h11m-10 24h11m-10 3h11m10-31h11m-10 20h11m-11-11h11m-6 18h11m-9 6h11m-6-13h11m-5 19h11m-7-18h11m2 1h11m1 7h11m0 3h11m56 3h11m-8-18h11m-370 27h11m-2 16h11m-6-13h11m-11 1h11m-9 13h11m-11-2h11m-11 9h11m-9-11h11m1-6h11m-7 25h11m-8-21h11m-5 4h11m-7 13h11m-9-5h11m-7 0h11m-8-11h11m-9-5h11m-10 12h11m-9-16h11m-9-7h11m-9 34h11m-11-2h11m-10-15h11m-9 11h11m-11-17h11m-9 2h11m-11 26h11m-10-31h11m-9 22h11m-11-8h11m-10 14h11m-8-23h11m-11-8h11m-10 3h11m-11 4h11m-10 3h11m-8-3h11m-10-6h11m-9 14h11m-11 6h11m-6-26h11m-8 9h11m-8 4h11m-8 16h11m-10-24h11m-11 5h11m-10 29h11m-11-21h11m-11 3h11m-10-6h11m-10 9h11m-10-17h11m-9-4h11m-10 10h11m-10 24h11m-10-10h11m-11-10h11m-10 4h11m-11 6h11m-10 12h11m-10-5h11m-8-27h11m-10 22h11m-9 4h11m-9-23h11m-11 28h11m-11-33h11m-10 11h11m-9 9h11m-11 12h11m-11-9h11m-10 2h11m-8-26h11m-8-3h11m-11 22h11m-10 1h11m-9-18h11m-5 23h11m-11-8h11m-6-14h11m-9-7h11m-8 38h11m-10-2h11m-11-16h11m-5-4h11m-11 15h11m-7-24h11m-8 21h11m-7-4h11m-10-8h11m-10 1h11m-8 4h11m-6 15h11m-11-4h11m-10-32h11m-8 36h11m-1-11h11m-8-14h11m-11-1h11m-9 6h11m-11 16h11m9-7h11m25 4h11m9 2h11m-7-29h11m-10 22h11m11 14h11m-6-33h11m-5 1h11m-5 11h11m-4 5h11m-9-19h11m-6 19h11m-9-1h11m-10-19h11m10 16h11m7 5h11m1-3h11m7-2h11m-377 57h11m-3-3h11m0 7h11m-5-8h11m-11-19h11m-10-10h11m-8 0h11m-11 29h11m-11-3h11m-11-13h11m-9 8h11m-11 6h11m-10 3h11m-8-5h11m-10-3h11m-11-18h11m-9 11h11m-10-6h11m-6 14h11m-9 2h11m-11-11h11m-9-14h11m-11 17h11m-9-9h11m-11-3h11m-11 16h11m-10-17h11m-10 18h11m-10-8h11m-7-16h11m-10 5h11m-7-3h11m-10-2h11m-10 25h11m-10 6h11m-11-12h11m-10 8h11m-10-7h11m-10 2h11m-9 7h11m-9-21h11m-10-6h11m-9 13h11m-10 12h11m-11-20h11m-10 8h11m-10 3h11m-9 11h11m-10-14h11m-10-2h11m-11 21h11m-11-20h11m-10-5h11m-10 3h11m-10-10h11m-11 2h11m-7 23h11m-10 6h11m-9-11h11m-11-14h11m-10-5h11m-10 29h11m-10-13h11m-7-11h11m-8 24h11m-9-22h11m-10 15h11m-10-11h11m-11-5h11m-8 13h11m-8 8h11m-11-7h11m-10-17h11m-8 33h11m-9-37h11m-11 20h11m-10-19h11m-11 6h11m-10 3h11m-11 8h11m-10 12h11m-8-23h11m-8-9h11m-6 37h11m-9-16h11m-11-17h11m-6 18h11m-10 4h11m-11-10h11m-9 3h11m-10-9h11m-8-10h11m-10 8h11m0 18h11m0-23h11m-6 3h11m4 12h11m-7-3h11m-8-9h11m-8 10h11m-11-5h11m-7 3h11m-3 18h11m17-22h11m-4-1h11m-10 13h11m-5-13h11m96-1h11m-363 64h11m-7-12h11m-9-1h11m-3-2h11m-1-16h11m-11 24h11m-4-22h11m-10 26h11m-9-20h11m-9 6h11m-10 1h11m-9-3h11m-8 0h11m-8 5h11m-5-8h11m-8 0h11m-6-3h11m-10 31h11m-9-25h11m-11 11h11m-9-15h11m-11-2h11m-11 19h11m-9-19h11m-8 31h11m-5-29h11m-11-9h11m-3 38h11m-10-5h11m-10-28h11m-11 28h11m-11-24h11m-10-7h11m-10-1h11m-11 30h11m-10 0h11m-10-15h11m-10-10h11m-10 13h11m-10 8h11m-5-3h11m-10 0h11m-10-19h11m-9 30h11m-8-10h11m-10-4h11m-10 1h11m-8 17h11m-9-11h11m-7 0h11m-10-8h11m-10 7h11m-10 0h11m-9 3h11m-11-12h11m-9 19h11m-7-27h11m-7 17h11m-6-6h11m6-13h11m-10 18h11m-7 0h11m-6 8h11m-10-6h11m-3-25h11m-161 68h11m11-29h11m-3 11h11m-8 2h11m-11-14h11m-11 36h11m-4-1h11m-10-15h11m-9-12h11m-7 4h11m-6-4h11m-11 12h11m-10-16h11m-8 7h11m-7 7h11m-10-16h11m-10 5h11m-6-3h11m-1-4h11m-4 24h11m-8-1h11m-3 9h11m-9-19h11m-5 3h11m8-8h11m-10 15h11m-6-6h11m-1-17h11m-8 10h11m-9 11h11m-5 6h11m2-26h11m-177 42h11m5 6h11m-10-9h11m12 4h11m-9 11h11m-8-9h11m-9 13h11m4 6h11m-10-16h11m-7 10h11m-9-12h11m5 0h11m-10 13h11m-10-5h11m-4 20h11m-6-1h11m-8-19h11m4-14h11m0 7h11m-2 2h11m-52 43h11" stroke="#00A6FF" stroke-width="11" fill="none" transform="scale(.1)"/>
<path d="M464 509h11m-5-2h11m-31 26h11m-7-10h11m-5 20h11m-10-20h11m-9-2h11m-4 10h11m-8 11h11m-11-4h11m-10-8h11m-11 1h11m-11-5h11m2 19h11m-11 6h11m-5 6h11m-11-20h11m-7 20h11m-9-11h11m-9-7h11m-10 10h11m-8 4h11m7-7h11m-9 8h11m-5-11h11m-57 21h11m-10 6h11m1-7h11m-9-3h11m-7 24h11m-6-19h11m-9 9h11m-10 2h11m-8 10h11m-9-8h11m-10-14h11m-8 14h11m-10 9h11m-11-5h11m-11-19h11m-6 26h11m-11-16h11m-8 11h11m-11-12h11m-11 8h11m-11-13h11m-10 13h11m-10-17h11m-10 17h11m-11 3h11m-9 14h11m-7-20h11m-5 5h11m-11 0h11m-5 8h11m-10 8h11m-8-1h11m-4-1h11m1 2h11m-38 10h11m-10-6h11m-9 2h11m-10 6h11m-10 10h11m-11-16h11m-10 1h11m-11 2h11m-7-6h11m-6 5h11m-9 6h11m-8-5h11m-10-2h11m-8 24h11m-11-14h11m-11 17h11m-9-21h11m-9 6h11m-11 8h11m-11 7h11m-10-1h11m-10-12h11m-8 2h11m-10 12h11m-11-7h11m-10 2h11m-11 3h11m-10-15h11m-11 22h11m-7-12h11m-9-11h11m-10 17h11m-9-13h11m-10 9h11m-9 1h11m-10 5h11m-10-15h11m-11 4h11m-10 15h11m-10-9h11m-4 9h11m-7-3h11m-3 2h11m-9-3h11m-142 22h11m89-13h11m-4 0h11m-9-1h11m-10 24h11m-11-23h11m-7 5h11m-11-7h11m-11 11h11m-8 1h11m-8 5h11m-10 13h11m-9-9h11m-9-8h11m-9-1h11m-11-8h11m-8 10h11m-10 5h11m-10 3h11m-10-3h11m-10 14h11m-10-13h11m-10-8h11m-11-9h11m-9 24h11m-10-9h11m-11-13h11m-9 23h11m-11 8h11m-9-9h11m-9-12h11m-6 21h11m-10-4h11m-11-7h11m-8 2h11m-10 4h11m-6-6h11m-10-4h11m-11 15h11m-8-4h11m-10-13h11m-7 0h11m-11 15h11m-10 2h11m-7-1h11m19-9h11m-65 26h11m-11 13h11m-9-21h11m-9 23h11m-4-24h11m-9-1h11m-9-1h11m-9 0h11m-6 20h11m-10-10h11m-11-12h11m-10 28h11m-11-13h11m-9-4h11m-9 20h11m-9-13h11m-9 6h11m-9-19h11m-10 24h11m-11-1h11m-10-6h11m-7 14h11m-10-3h11m-10 2h11m-9-10h11m-10-10h11m-11 2h11m-11 9h11m-10 2h11m-6 7h11m-10 1h11m-10-4h11m-10 0h11m-11 0h11m-10 4h11m-8-5h11m-4 3h11m-8-6h11m-11 6h11m-62 33h11m19-24h11m-6 3h11m-9 4h11m-10 7h11m-7-7h11m-11-4h11m-10 1h11m-11-7h11m-6 17h11m-9 1h11m-10-8h11m-8 12h11m-10-18h11m-8 11h11m-10 3h11m-8-7h11m-10-8h11m-5 12h11m-5 19h11m-8-10h11m-10 12h11m-10-23h11m-9 21h11m-10 5h11m-6-9h11m-9 1h11m-2-9h11m2 11h11m-5-4h11m-50 13h11m3-2h11m-4 1h11m0 23h11m-10-6h11m-11 18h11m-4-13h11m-11-2h11m-7 4h11m-8-10h11m-10 8h11m-10 13h11m-9-5h11m6-7h11m-10 14h11m-9-10h11m-23 14h11m-10 4h11m-10-1h11m-5 17h11m-5-13h11m-4 4h11m-9 2h11m-11-12h11" stroke="#B385FF" stroke-width="11" fill="none" transform="scale(.1)"/>
<path d="M842 1917h11m0-2h11m14 3h11m-564 35h11m-10-1h11m-3-4h11m-3 3h11m-8-11h11m-1 8h11m-8 11h11m-6-19h11m-9 19h11m-7-4h11m-9-5h11m-11-4h11m-9 5h11m-10-5h11m-6-1h11m-1 11h11m-1 2h11m-8-3h11m240 4h11m49-3h11m8-19h11m-2 20h11m-3 2h11m-7-1h11m-5-2h11m-4 0h11m-6 0h11m-11-1h11m5 2h11m-9-4h11m-9 2h11m-10-11h11m-11 10h11m-9 1h11m-6-1h11m-11-10h11m-10 2h11m-2-6h11m-8 11h11m-7-13h11m-7 11h11m-10-10h11m-8-4h11m-4-1h11m-10 3h11m-10-1h11m-6 16h11m-7-23h11m-5 2h11m-7 7h11m-10-3h11m-8-1h11m-8-5h11m-10 7h11m-7 2h11m-4-10h11m-526 37h11m-9-3h11m-9 15h11m-9-13h11m-10-1h11m-11 6h11m-8 17h11m-8-6h11m-5-1h11m-9-14h11m-11 8h11m-9 5h11m-7-13h11m-6 3h11m-9 15h11m-9-19h11m-9 14h11m-7 4h11m-8-7h11m-10 9h11m-7-21h11m-11-1h11m-9 10h11m-10 0h11m-8 19h11m-9-13h11m-9-10h11m-5-7h11m-11 21h11m-6-22h11m-9 26h11m-10-6h11m-11-1h11m-9-16h11m-11 19h11m-11-7h11m-5 22h11m-11-29h11m-9 16h11m-10 2h11m-11-14h11m-5 18h11m-6-8h11m-8 11h11m-9-7h11m-2-3h11m-11-2h11m-9 11h11m-4 2h11m-10-2h11m-10-10h11m-8-6h11m-6 1h11m-9 16h11m-5-19h11m-8 7h11m-10-2h11m-11 6h11m1 5h11m-9-5h11m-10-13h11m-11 21h11m-10-6h11m-9-18h11m-9 19h11m-5-4h11m-10 12h11m-10-14h11m9 12h11m-10 2h11m-9-21h11m-8 5h11m-10 11h11m0-1h11m-6-17h11m-11 20h11m-11 5h11m-9-14h11m-8 7h11m-9-8h11m-10-3h11m-8 12h11m-9-6h11m-11 6h11m-10-3h11m-9 0h11m-7-3h11m-10 13h11m-11-1h11m0-9h11m-8-8h11m-5 5h11m-7 10h11m-6-10h11m-5-2h11m-10-24h11m-10 27h11m-4 0h11m-7 11h11m-11 1h11m-11-13h11m1-10h11m-5 15h11m-10-5h11m-7-8h11m-4 10h11m-8-7h11m0 0h11m-10-10h11m-10-5h11m-2 25h11m-9-5h11m-11-3h11m-4-7h11m-9 11h11m-10-18h11m-11 24h11m-6-13h11m-11-14h11m-10 1h11m0-1h11m-8 6h11m-10 0h11m-5-10h11m-3 19h11m-8-6h11m-1-10h11m7-5h11m-2 9h11m-8-4h11m-7 4h11m10-3h11m-298 40h11m7 6h11m10-10h11m-3 6h11m-7-7h11m-6 4h11m1-3h11m-2 4h11m20-5h11" stroke="#EF67EB" stroke-width="11" fill="none" transform="scale(.1)"/>
<path d="M138 1038h11m-42 35h11m2-11h11m-10-10h11m-6 13h11m-6-18h11m-11 19h11m-6-20h11m-9-4h11m-64 66h11m-10 6h11m1-8h11m-10-5h11m-3-13h11m-6-3h11m51 1h11m-117 56h11m-11-14h11m-9 16h11m-11-9h11m-9 12h11m-9 5h11m-11-1h11m-7-20h11m-8 4h11m-3 0h11m135-4h11m10 10h11m-242 49h11m-6 4h11m-8-2h11m-8 1h11m-10 1h11m-6 4h11m-7-7h11m-8-8h11m-5-12h11m219-11h11m-5 10h11m-3-7h11m-274 38h11m-1 6h11m-11-7h11" stroke="#FF63B6" stroke-width="11" fill="none" transform="scale(.1)"/>
<path d="M944 85h11m51 36h11m29 124h11m-73 63h11m157-11h11m57-3h11m-160 72h11m-174 55h11m112 5h11m77 10h11m-289 112h11m203-28h11m91 15h11m-250 42h11m283-11h11m-245 39h11m-3 30h11m211 10h11m50 8h11m13 0h11m-170 29h11m83 29h11" stroke="#F8766D" stroke-width="11" fill="none" transform="scale(.1)"/>
<path d="M1477 758h11m-505 20h11m44 9h11m-167 35h11m3 10h11m16-24h11m106 11h11m263 16h11m111-26h11m-602 57h11m461-26h11m33 18h11m37-6h11m52 3h11m-511 25h11m17 3h11m80 7h11m-202 37h11m16 23h11m250-8h11m174-13h11m-511 42h11m19-4h11m35 19h11m183 13h11m55-30h11m49-1h11m96 16h11m-308 21h11m142 32h11m-154 37h11m-117 7h11m141 11h11m17 31h11m41 33h11" stroke="#F8766D" stroke-width="11" fill="none" transform="scale(.1)"/>
<path d="M1145 752h11m-17 17h11m296 73h11m-566 98h11m438 4h11m-409 54h11m276 36h11m22 30h11m-252 64h11m189 35h11" stroke="#00BD5C" stroke-width="11" fill="none" transform="scale(.1)"/>
<path d="M1265 1158h11m140-16h11m-97 87h11m123 5h11m-75 40h11m-297 41h11m382 41h11m-19 22h11m-21 56h11m-315 45h11m131-14h11m145 2h11m-280 21h11m30 56h11m-234 20h11m318 21h11m-280 31h11m-68 135h11m108-17h11m132 105h11m-274 39h11m28-32h11m-8 37h11m265 55h11m-70 29h11" stroke="#AEA200" stroke-width="11" fill="none" transform="scale(.1)"/>
<path d="M1169 1168h11m101 116h11m42 7h11m100 6h11m-97 293h11m-53 14h11m-89 170h11m154 29h11m-182 48h11m153 82h11" stroke="#64B200" stroke-width="11" fill="none" transform="scale(.1)"/>
<path d="M1525 978h11m218-15h11m45 1h11m-304 105h11m206-9h11m-246 44h11m-27 26h11m241-7h11m116 33h11m-176 20h11m-62 81h11m206 98h11" stroke="#F8766D" stroke-width="11" fill="none" transform="scale(.1)"/>
<path d="M1763 977h11m-276 67h11m37 69h11m55-27h11m212 12h11m-134 58h11m-88 20h11m218-3h11m-301 69h11m275 61h11" stroke="#64B200" stroke-width="11" fill="none" transform="scale(.1)"/>
<path d="M1983 1367h11m35 173h11m1 34h11m-114 78h11m-130 36h11m106 13h11m50 18h11m-64 14h11m-271 33h11m56 77h11" stroke="#F8766D" stroke-width="11" fill="none" transform="scale(.1)"/>
<path d="M1019 321h11m193 140h11m-297 110h11m-2-7h11m214 152h11m-295 50h11" stroke="#B385FF" stroke-width="11" fill="none" transform="scale(.1)"/>
<path d="M261 1621h11m85 86h11m-154 16h11m116 74h11m-74 46h11m18 4h11" stroke="#EF67EB" stroke-width="11" fill="none" transform="scale(.1)"/>
<path d="M490 887h11m42 46h11m-160 80h11m142 55h11m-8 91h11m-29 5h11" stroke="#F8766D" stroke-width="11" fill="none" transform="scale(.1)"/>
<path d="M525 860h11m36 109h11m47-1h11m-121 53h11" stroke="#64B200" stroke-width="11" fill="none" transform="scale(.1)"/>
<path d="M533 1586h11m79 5h11m-87 45h11m0-5h11m-61 10h11m4 14h11" stroke="#DB8E00" stroke-width="11" fill="none" transform="scale(.1)"/>
<path d="M160 292h11m164 2h11m-44 126h11m56-16h11m2 58h11" stroke="#DB8E00" stroke-width="11" fill="none" transform="scale(.1)"/>
<path d="M204 251h11m0 63h11m41-16h11m-231 32h11" stroke="#F8766D" stroke-width="11" fill="none" transform="scale(.1)"/>
</g>
<text x="129.8" y="162.0" font-size="12.4" text-anchor="middle" fill="#000">0</text>
<text x="100.0" y="47.9" font-size="12.4" text-anchor="middle" fill="#000">1</text>
<text x="122.8" y="96.3" font-size="12.4" text-anchor="middle" fill="#000">2</text>
<text x="193.1" y="170.5" font-size="12.4" text-anchor="middle" fill="#000">3</text>
<text x="172.4" y="121.8" font-size="12.4" text-anchor="middle" fill="#000">4</text>
<text x="24.3" y="39.4" font-size="12.4" text-anchor="middle" fill="#000">5</text>
<text x="34.0" y="174.7" font-size="12.4" text-anchor="middle" fill="#000">6</text>
<text x="48.0" y="106.6" font-size="12.4" text-anchor="middle" fill="#000">7</text>
<text x="64.4" y="72.2" font-size="12.4" text-anchor="middle" fill="#000">8</text>
<text x="54.5" y="202.4" font-size="12.4" text-anchor="middle" fill="#000">9</text>
<text x="16.4" y="113.8" font-size="12.4" text-anchor="middle" fill="#000">10</text>
<g stroke="#ebebeb" stroke-width="0.6">
<line x1="286.8" y1="169.8" x2="377" y2="169.8"/>
<line x1="286.8" y1="130.9" x2="377" y2="130.9"/>
<line x1="286.8" y1="92.0" x2="377" y2="92.0"/>
<line x1="286.8" y1="53.1" x2="377" y2="53.1"/>
<line x1="286.8" y1="14.2" x2="377" y2="14.2"/>
<line x1="311.5" y1="6.3" x2="311.5" y2="177.2"/>
<line x1="352.5" y1="6.3" x2="352.5" y2="177.2"/>
</g>
<rect x="293.1" y="14.2" width="36.8" height="57.1" fill="#F8766D" stroke="#222" stroke-width="0.6"/>
<rect x="293.1" y="71.3" width="36.8" height="8.0" fill="#DB8E00" stroke="#222" stroke-width="0.6"/>
<rect x="293.1" y="79.3" width="36.8" height="9.0" fill="#AEA200" stroke="#222" stroke-width="0.6"/>
<rect x="293.1" y="88.3" width="36.8" height="27.6" fill="#64B200" stroke="#222" stroke-width="0.6"/>
<rect x="293.1" y="115.9" width="36.8" height="19.6" fill="#00BD5C" stroke="#222" stroke-width="0.6"/>
<rect x="293.1" y="135.5" width="36.8" height="9.8" fill="#00C1A7" stroke="#222" stroke-width="0.6"/>
<rect x="293.1" y="145.3" width="36.8" height="10.0" fill="#00BADE" stroke="#222" stroke-width="0.6"/>
<rect x="293.1" y="155.3" width="36.8" height="6.3" fill="#00A6FF" stroke="#222" stroke-width="0.6"/>
<rect x="293.1" y="161.6" width="36.8" height="3.9" fill="#B385FF" stroke="#222" stroke-width="0.6"/>
<rect x="293.1" y="165.5" width="36.8" height="2.6" fill="#EF67EB" stroke="#222" stroke-width="0.6"/>
<rect x="293.1" y="168.1" width="36.8" height="1.7" fill="#FF63B6" stroke="#222" stroke-width="0.6"/>
<rect x="334.2" y="14.2" width="36.7" height="44.1" fill="#F8766D" stroke="#222" stroke-width="0.6"/>
<rect x="334.2" y="58.3" width="36.7" height="30.9" fill="#DB8E00" stroke="#222" stroke-width="0.6"/>
<rect x="334.2" y="89.2" width="36.7" height="27.5" fill="#AEA200" stroke="#222" stroke-width="0.6"/>
<rect x="334.2" y="116.7" width="36.7" height="9.7" fill="#64B200" stroke="#222" stroke-width="0.6"/>
<rect x="334.2" y="126.4" width="36.7" height="12.0" fill="#00BD5C" stroke="#222" stroke-width="0.6"/>
<rect x="334.2" y="138.4" width="36.7" height="7.3" fill="#00C1A7" stroke="#222" stroke-width="0.6"/>
<rect x="334.2" y="145.7" width="36.7" height="7.9" fill="#00BADE" stroke="#222" stroke-width="0.6"/>
<rect x="334.2" y="153.6" width="36.7" height="7.9" fill="#00A6FF" stroke="#222" stroke-width="0.6"/>
<rect x="334.2" y="161.5" width="36.7" height="4.0" fill="#B385FF" stroke="#222" stroke-width="0.6"/>
<rect x="334.2" y="165.5" width="36.7" height="2.6" fill="#EF67EB" stroke="#222" stroke-width="0.6"/>
<rect x="334.2" y="168.1" width="36.7" height="1.7" fill="#FF63B6" stroke="#222" stroke-width="0.6"/>
<g stroke="#333" stroke-width="0.7" fill="none">
<path d="M286.8 6.3V177.2H377"/>
<line x1="282.3" y1="169.8" x2="286.8" y2="169.8"/>
<line x1="282.3" y1="130.9" x2="286.8" y2="130.9"/>
<line x1="282.3" y1="92.0" x2="286.8" y2="92.0"/>
<line x1="282.3" y1="53.1" x2="286.8" y2="53.1"/>
<line x1="282.3" y1="14.2" x2="286.8" y2="14.2"/>
<line x1="311.5" y1="177.2" x2="311.5" y2="181.3"/>
<line x1="352.5" y1="177.2" x2="352.5" y2="181.3"/>
</g>
<text x="276.8" y="174.5" font-size="11.2" text-anchor="end" fill="#111">0%</text>
<text x="276.8" y="135.6" font-size="11.2" text-anchor="end" fill="#111">25%</text>
<text x="276.8" y="96.7" font-size="11.2" text-anchor="end" fill="#111">50%</text>
<text x="276.8" y="57.8" font-size="11.2" text-anchor="end" fill="#111">75%</text>
<text x="276.8" y="18.9" font-size="11.2" text-anchor="end" fill="#111">100%</text>
<text x="0.0" y="0.0" font-size="11.2" text-anchor="middle" fill="#111" transform="translate(241.5 92) rotate(-90)">Percentage</text>
<text x="0.0" y="0.0" font-size="11.2" text-anchor="end" fill="#111" transform="translate(317.6 193.2) rotate(-45)"><tspan font-style="italic">Dhps</tspan>-WT</text>
<text x="0.0" y="0.0" font-size="11.2" text-anchor="end" fill="#111" transform="translate(360.2 193.6) rotate(-45)"><tspan font-style="italic">Dhps</tspan>-ΔM</text>
<text x="0.0" y="11.0" font-size="15.5" font-weight="bold" fill="#000" stroke="#000" stroke-width="0.35">a</text>
<text x="410.0" y="10.6" font-size="15.5" font-weight="bold" fill="#000" stroke="#000" stroke-width="0.35">b</text>
<text x="0.0" y="263.4" font-size="15.5" font-weight="bold" fill="#000" stroke="#000" stroke-width="0.35">c</text>
<text x="434.3" y="263.5" font-size="15.5" font-weight="bold" fill="#000" stroke="#000" stroke-width="0.35">d</text>
<text x="0.0" y="539.5" font-size="15.5" font-weight="bold" fill="#000" stroke="#000" stroke-width="0.35">e</text>
<text x="374.3" y="539.2" font-size="15.5" font-weight="bold" fill="#000" stroke="#000" stroke-width="0.35">f</text>
<text x="-0.5" y="778.6" font-size="15.5" font-weight="bold" fill="#000" stroke="#000" stroke-width="0.35">g</text>
<text x="325.5" y="779.0" font-size="15.5" font-weight="bold" fill="#000" stroke="#000" stroke-width="0.35">h</text>
<g id="umap-b">
<path d="M5149 109h11m-155 49h11m30-32h11m-3 27h11m1 5h11m-1-33h11m-11 28h11m-74 19h11m-10 25h11m-9-5h11m-9-4h11m-7-1h11m-3-19h11m-5 24h11m-7-10h11m-6-3h11m-5 16h11m-4-19h11m6-5h11m-1 21h11m-8-7h11m4-8h11m-7 20h11m-9-8h11m-7-16h11m-6 26h11m-8-10h11m17-2h11m13 6h11m3 3h11m-197 42h11m6-36h11m-10 12h11m3 20h11m-6-13h11m-10-16h11m-4 11h11m-8-4h11m3-3h11m-7 0h11m-4 13h11m-10 5h11m-10-15h11m-5 8h11m-8-8h11m-10 26h11m-7-21h11m-7-2h11m-9 21h11m-7-8h11m-3 7h11m-7-26h11m-3 22h11m-5-14h11m-10 18h11m-10-9h11m8-6h11m-11-7h11m-9 19h11m-5-8h11m-9-8h11m-11-7h11m-11 8h11m-5 11h11m0 1h11m16-1h11m-196 19h11m-7 7h11m-1 11h11m-5-22h11m-6 19h11m0 16h11m-10-19h11m-5-6h11m-6 25h11m-8-10h11m-3 7h11m-11-30h11m-6 34h11m-11-6h11m-10 2h11m-11-29h11m-8 27h11m-6-25h11m-9 22h11m-9-14h11m-11-11h11m-5 34h11m-9-14h11m-9-7h11m-10-14h11m-5 35h11m-3-19h11m-10 0h11m-5-8h11m-7-10h11m-11 20h11m-9 17h11m-9-38h11m-11 23h11m-10 11h11m-8-26h11m-11 30h11m-9-16h11m-4 4h11m-11-10h11m-5-7h11m0 22h11m-7-3h11m-7 8h11m-6-24h11m-8 1h11m-9-14h11m-11 15h11m-8 22h11m3-34h11m-3 29h11m-8-29h11m-10 0h11m-10 5h11m7 22h11m-1074 38h11m17 6h11m52-1h11m2-12h11m-5 3h11m-1-9h11m-11 24h11m22 0h11m680 0h11m2-31h11m-10 12h11m-8 3h11m-8 11h11m-7-34h11m-6 8h11m-7-8h11m-10 5h11m-9 2h11m-9 29h11m-2-6h11m-9 4h11m-10-29h11m-6 7h11m-11-10h11m-3 5h11m0 22h11m-8-17h11m-2 3h11m0-4h11m-9 7h11m-3 17h11m-11-17h11m-7 1h11m-6-11h11m-9 17h11m-6-17h11m-8 20h11m-11-12h11m-10 1h11m-10 6h11m-11-16h11m-10 3h11m-8 22h11m-10-23h11m-9-5h11m-10 31h11m-3-6h11m-4 4h11m-2-18h11m-5 3h11m0-2h11m-9-11h11m37 29h11m-1056 38h11m3-6h11m-5 10h11m-7-12h11m-11-5h11m-11 15h11m-5-21h11m-10 13h11m-10 3h11m-1-18h11m-9 16h11m-5 5h11m-9-6h11m1-1h11m-4-23h11m-5 20h11m-11 1h11m-4 10h11m-4 5h11m-5 0h11m1-7h11m2-1h11m0-24h11m-2-5h11m-11 34h11m-7-2h11m-9-20h11m-9 9h11m-2-2h11m19-9h11m56 20h11m546-29h11m3 25h11m-9-9h11m-9-18h11m4 35h11m-9-27h11m-10 6h11m-6 17h11m-9-20h11m-11 8h11m7-10h11m-3 22h11m-9-15h11m-9-13h11m-9 19h11m-6-9h11m-9 15h11m-8-27h11m-9 25h11m-11-21h11m-7 0h11m-6-1h11m-4 14h11m-9-9h11m-10 3h11m-6 10h11m-9-22h11m-2 13h11m-7 21h11m-1-25h11m-10 5h11m-10 12h11m-8-22h11m-1 25h11m-10 2h11m-2-21h11m-2-4h11m-9 32h11m-7-24h11m-3 14h11m-6-18h11m-11 2h11m-5 21h11m10-23h11m3 11h11m-3 13h11m-10-19h11m0 7h11m-1067 52h11m-11-21h11m-1-8h11m-4 4h11m-10 28h11m-1-16h11m-5-1h11m-11-16h11m-8 9h11m-6-6h11m-6 20h11m-10-4h11m-10-15h11m-9 24h11m-9-23h11m-10 14h11m-11 12h11m-9-34h11m-8 16h11m-10 20h11m-10-5h11m-10-24h11m-9 9h11m-9-17h11m-3 10h11m-9-1h11m-8 24h11m-6-11h11m-10-12h11m-3 1h11m-11 19h11m-10-1h11m-2-16h11m-9 17h11m-10-7h11m-9-9h11m-10 12h11m-10 2h11m-11 0h11m-8 2h11m-11 4h11m-7-4h11m-4-4h11m-7-4h11m-6-5h11m-10 2h11m-5 3h11m-2-10h11m-9 20h11m-7-4h11m11 5h11m-9-7h11m4-12h11m-4 7h11m-2-11h11m-2 15h11m-5 0h11m-10 9h11m1-1h11m-6-25h11m-7 18h11m534 7h11m4-3h11m17-23h11m-6 18h11m-7-9h11m-6-9h11m-7 15h11m-5-19h11m-8 19h11m7 16h11m-9-8h11m-9 0h11m-10-13h11m-6 18h11m-8-2h11m-10-26h11m3 4h11m5 22h11m-4-12h11m1-9h11m-11 3h11m-1-11h11m2 16h11m4 2h11m-5 10h11m-1-2h11m-1-27h11m3 2h11m3 18h11m-1 6h11m-6-3h11m-9 9h11m-8-5h11m-10-1h11m1-2h11m-2 2h11m4-10h11m-1095 25h11m-3 20h11m28-9h11m11-12h11m-10-1h11m-4-1h11m3 2h11m-2 10h11m3 0h11m-8-13h11m-6 13h11m2-10h11m5 34h11m5-17h11m-10-4h11m14 21h11m-11-3h11m-9-26h11m-10-2h11m20 25h11m-9-30h11m-5 27h11m-9-18h11m-1 24h11m-3-27h11m1 6h11m-8-2h11m1 27h11m2-16h11m453 16h11m-4 0h11m4-16h11m-10-9h11m-5 24h11m19-9h11m-11 7h11m4-3h11m-11-28h11m-7 34h11m-2-9h11m-1 5h11m-11-33h11m-6-1h11m-5 11h11m0 5h11m-9-16h11m-3 4h11m-9 24h11m-10-28h11m-6 14h11m18-13h11m-4 26h11m6-9h11m-7-9h11m-4 8h11m-9 19h11m2-17h11m5-3h11m-8 23h11m2-38h11m9 19h11m-7-12h11m-1 2h11m-9-8h11m-5 23h11m-9-2h11m-8 9h11m-3 3h11m4-18h11m-9-11h11m8 22h11m-3-20h11m-4 5h11m-921 57h11m3-16h11m-9 8h11m-4-7h11m-1 11h11m-10 3h11m-4-23h11m-1 3h11m-11-5h11m-5 27h11m13-17h11m15-4h11m23 29h11m392-14h11m-7-23h11m0 8h11m-10 4h11m-10-12h11m-10 0h11m-10 26h11m-11 0h11m-4-16h11m-11 9h11m-8-18h11m-4 36h11m-5-4h11m-3-3h11m-9 6h11m-8-9h11m-9-9h11m-10 9h11m-8-10h11m-10 13h11m-7-21h11m-4 17h11m-10-1h11m-10 11h11m-10-3h11m-6-31h11m-10 10h11m-9-10h11m-5 31h11m-10-22h11m-11-10h11m-5 1h11m-10-3h11m-11 8h11m-9 17h11m-8-3h11m-3-7h11m-9-7h11m-11 21h11m-8-11h11m8 18h11m-5-28h11m-5 23h11m-9-5h11m-8-7h11m5-15h11m-7 20h11m-4 7h11m-5 0h11m15-20h11m15 18h11m29-7h11m-6-10h11m2-7h11m-10 28h11m-9-3h11m-8-23h11m15 2h11m-858 38h11m16 27h11m-9-10h11m-10-14h11m7 0h11m-6 5h11m-3 22h11m3-29h11m-1 23h11m2-5h11m-4-23h11m-7 33h11m-4-2h11m2-5h11m-8-22h11m-3 17h11m-10-25h11m10 15h11m6 2h11m314 15h11m-8-26h11m-2 28h11m-10 2h11m-8 2h11m23-17h11m4 4h11m0 13h11m-10-17h11m-6-16h11m-11 22h11m-9 9h11m-9-6h11m-8 3h11m-5-7h11m-10-24h11m-9 2h11m-11 31h11m-6-28h11m-11 6h11m-6 2h11m-9-4h11m-11 26h11m-8-31h11m-8 8h11m-11 8h11m-10-22h11m-6 12h11m-7 2h11m-8 15h11m-7-18h11m-10-8h11m-6 20h11m-7-23h11m-7 17h11m-7-17h11m3 23h11m-10 11h11m-5-28h11m-5 10h11m5-8h11m-9 2h11m26 2h11m7 0h11m-8-4h11m-10 2h11m-10 5h11m-5 8h11m-10-12h11m-11-10h11m-7 13h11m-10-5h11m-9 29h11m4-33h11m-4 26h11m-1-18h11m-11-2h11m-755 29h11m43 13h11m4 23h11m6-13h11m-5-5h11m-4 7h11m-8-13h11m-9 15h11m8-13h11m21 0h11m-10 11h11m-7 9h11m230-3h11m-9 3h11m9 2h11m-7-11h11m-7-24h11m-10 3h11m-3 22h11m-3-22h11m-9 8h11m-10 5h11m-3-7h11m0 19h11m-5 7h11m-9-35h11m-7 21h11m-7 11h11m-9-24h11m-10 16h11m-10-6h11m6-11h11m-3 16h11m-10-17h11m-4 11h11m-10 17h11m-10-8h11m-6-14h11m-10-5h11m-1 17h11m-11-1h11m-5 13h11m1-23h11m-5-11h11m-10 17h11m0 6h11m-7-5h11m-11 8h11m-8-1h11m-8-16h11m-10 13h11m-8 10h11m-9 0h11m4-15h11m-8-4h11m13-3h11m-4 14h11m-2-15h11m5 15h11m-3-3h11m0-3h11m-3-10h11m-8-8h11m2 34h11m-8-25h11m3 10h11m11 14h11m24-3h11m-732 33h11m19 8h11m60-32h11m4 1h11m216-2h11m-7 6h11m-11 19h11m-6-16h11m-9 28h11m-9-9h11m-9-12h11m-6 10h11m-1 4h11m-9 7h11m-9-32h11m-8 28h11m-10-6h11m-10-9h11m-11-11h11m-9-6h11m-8 0h11m8 24h11m-10-10h11m-9-14h11m-8-2h11m-7 0h11m-8 34h11m-3-9h11m-7-2h11m-11 1h11m-2 6h11m-10-29h11m-2 24h11m-6-13h11m-8 21h11m-7-1h11m-9 5h11m-10-4h11m-2-11h11m-9 16h11m-10-2h11m-11-24h11m1 8h11m-10-3h11m-6 19h11m-9-2h11m-10-5h11m-10-7h11m-10 11h11m-9-4h11m-6-20h11m-11 21h11m-6-13h11m-10-17h11m6 5h11m-6 0h11m-1-5h11m-4 0h11m-11 32h11m-3-11h11m-2-13h11m15 1h11m4 6h11m-8-9h11m16 9h11m-1-13h11m13 36h11m-6-28h11m-10 8h11m-5-11h11m-4 4h11m20-3h11m-8-6h11m-706 38h11m25 20h11m-7 1h11m3 18h11m229-5h11m-6-5h11m-6-7h11m-5 16h11m1-13h11m-4 1h11m-6-7h11m-5-17h11m-11 26h11m-11-25h11m-8-2h11m-8 29h11m-11 6h11m-6-8h11m-10-20h11m-7 30h11m-8-3h11m4-27h11m-9 17h11m-11-17h11m-7 10h11m-11 0h11m-4-16h11m-10 33h11m-4-6h11m-9-17h11m-6-7h11m-7 27h11m-5 1h11m-8-11h11m-7 2h11m-11 10h11m-10-14h11m-8-12h11m-10 22h11m-6-13h11m-5 20h11m-1-10h11m-11-9h11m-10 16h11m0 0h11m-5 0h11m-7 3h11m-10-37h11m-8 12h11m-10 15h11m-1-2h11m-11-13h11m-6 13h11m-10-25h11m-10 17h11m-10-17h11m-5 6h11m5 32h11m-1-21h11m-9 14h11m-8-27h11m10 33h11m-9-37h11m-10 39h11m-11-9h11m1-3h11m-9-24h11m-6 7h11m0 11h11m2-9h11m-8 1h11m-4 4h11m-10 5h11m-5 0h11m-3-21h11m1 26h11m9-22h11m0 7h11m-2-12h11m-1 25h11m-9-6h11m2 1h11m-1132 48h11m441-27h11m30 15h11m-3-12h11m-10 14h11m-10-4h11m1 22h11m-9-6h11m-7-4h11m182 12h11m-6-36h11m-9 6h11m-4 12h11m-6-4h11m-9 5h11m12 2h11m-8-13h11m-7 6h11m-4 19h11m-8-15h11m1 11h11m-9-6h11m-5 3h11m-10-18h11m-11 1h11m-10-4h11m-7 0h11m-9 25h11m2-18h11m-2 1h11m-11-4h11m-8 14h11m-11-14h11m-6 18h11m-2-4h11m-6 0h11m-10-10h11m-10 21h11m-9-31h11m-8 11h11m-9-7h11m-1 10h11m-8-8h11m-6 9h11m-6-7h11m-9 22h11m0-11h11m-7 15h11m-10-9h11m-7 0h11m-3 8h11m-10-27h11m-8 4h11m-8-10h11m-7 0h11m-2 5h11m-11-2h11m-9 2h11m1 0h11m-7 21h11m8-17h11m18 11h11m-4-22h11m-10 4h11m4-5h11m10 0h11m3 20h11m-1 14h11m2-9h11m5-19h11m-8 20h11m-10-14h11m-6 4h11m-1-13h11m20 10h11m-9-1h11m0 13h11m-1151 20h11m8 4h11m-3 11h11m-9 8h11m-10-7h11m-8 2h11m446-25h11m8 0h11m-11 7h11m-6-7h11m-8 14h11m-8 5h11m-3 3h11m-11-15h11m-10 18h11m-7-18h11m-10 15h11m-5 9h11m-8-8h11m-2 14h11m-8-3h11m-11-20h11m-10 16h11m-6 9h11m-10-2h11m-5 0h11m114-12h11m-6 14h11m-9-32h11m6 6h11m-8 12h11m-8 6h11m1 5h11m-10-25h11m-7 4h11m-8-14h11m-10 8h11m-11 11h11m6-18h11m-11 7h11m-8 12h11m-9 16h11m-8-35h11m-10 6h11m-10 23h11m-5-16h11m-6 22h11m-8-6h11m-6-25h11m-8 19h11m-6 1h11m-7-6h11m-8 3h11m-11 1h11m-5 8h11m-9 7h11m-10-39h11m-10 13h11m-7-6h11m-6 28h11m-9-3h11m-11-18h11m-8-1h11m-7 2h11m-11 1h11m-10-16h11m-10 8h11m-10 12h11m-10-8h11m-9 15h11m-11 11h11m-9-26h11m-8 3h11m-1 18h11m-2-32h11m-8 20h11m-7 16h11m-11-6h11m-4-22h11m-10 17h11m4-25h11m-2 23h11m-6-21h11m-11 20h11m-3-15h11m-8 29h11m-3-22h11m-11-1h11m7 13h11m32 11h11m2-13h11m49 11h11m-6-32h11m-6 29h11m5-24h11m-5 1h11m-3 7h11m-7-2h11m-6 14h11m-8-22h11m20 24h11m-966 24h11m23-1h11m302-12h11m8 1h11m-9 3h11m11 6h11m-10 8h11m-10-6h11m-6 5h11m-7 0h11m-9-1h11m-9-2h11m10 16h11m88-1h11m2 0h11m-10-27h11m-1 19h11m-11 0h11m-7-10h11m-9 16h11m-4-11h11m-6-16h11m-7 24h11m-11-12h11m-9 10h11m1-22h11m-10 23h11m-11-8h11m-9 15h11m-7 3h11m-8-6h11m-11 1h11m-3-18h11m-9 27h11m-10-23h11m3 16h11m-5-6h11m-3-24h11m-11 12h11m-9 23h11m-7 1h11m-7-1h11m-7-2h11m-9-33h11m-8 22h11m-10-10h11m-5 2h11m-10-9h11m-6 12h11m-10-5h11m-5 17h11m-6-23h11m-9 27h11m-9-30h11m-5 16h11m-9-4h11m-6 21h11m-5 1h11m-9-34h11m-2 2h11m0 3h11m3 11h11m1 13h11m-4-11h11m-10 3h11m0-7h11m8 2h11m-11 16h11m4-23h11m-3 24h11m-1-8h11m-10-12h11m-10-2h11m-3 20h11m-6-13h11m-4-7h11m-8-12h11m-4 26h11m-11-22h11m-9 13h11m-10 17h11m-7-16h11m-8 0h11m-3-22h11m20 27h11m-5-2h11m-11 8h11m-1-17h11m-9-1h11m2 10h11m-3 3h11m2-26h11m-1065 66h11m50 8h11m-10-4h11m-10-5h11m-7-10h11m-8 10h11m-9-2h11m-10 0h11m-2 9h11m-6-28h11m-7-2h11m-6 17h11m316-16h11m92 4h11m-2-9h11m-8 25h11m-1-22h11m-1 19h11m-4 0h11m-10 3h11m64-23h11m5-1h11m-9 3h11m-7 19h11m-8-11h11m-11 2h11m0-2h11m-3-9h11m-10 2h11m0-4h11m-7 36h11m-9-15h11m-11-5h11m-11 4h11m-9-21h11m-3 30h11m-11-26h11m-3 13h11m1-10h11m-4-6h11m-8 35h11m-9-11h11m-10-24h11m-2 11h11m0-10h11m-10 24h11m-10-15h11m-8 22h11m-10-31h11m-9-1h11m-4 33h11m5-32h11m-1 36h11m-9-17h11m-10-1h11m-5-7h11m23 15h11m-8-5h11m-10-14h11m1-3h11m0 12h11m1 14h11m-9-28h11m-3 24h11m-10-20h11m-3 30h11m5-15h11m4 2h11m-6-21h11m-2 8h11m1 12h11m-3-3h11m-8 15h11m-11-31h11m-10 29h11m-10-4h11m1-5h11m-8-13h11m-9 25h11m-1-17h11m-9 5h11m6 9h11m-8-28h11m-10 20h11m4-20h11m7 30h11m2-4h11m-5 5h11m-4-8h11m5 1h11m52 2h11m4 6h11m-1145 6h11m4 12h11m-6-9h11m-4-3h11m-9 8h11m-2 16h11m-8-13h11m202 20h11m10-23h11m0 13h11m6-11h11m227 3h11m-10-10h11m2 19h11m2-16h11m-1 25h11m-2 3h11m13-36h11m-5 24h11m-3-13h11m17-4h11m-7 5h11m5-2h11m-8-8h11m-3 19h11m-8-2h11m-7-6h11m-7-6h11m-3 27h11m0-9h11m-8-11h11m41 8h11m3 2h11m18-25h11m0 35h11m-9-22h11m2 9h11m-5 7h11m-5-19h11m-10 23h11m-10-24h11m10 26h11m-1-24h11m8-10h11m-11 13h11m1 20h11m-5-5h11m4 8h11m-10-25h11m-7 8h11m-7-1h11m-10-13h11m-9 6h11m-8 22h11m-11-15h11m8 18h11m12-35h11m-11 12h11m-5 1h11m2 0h11m-5 2h11m-10 17h11m6-17h11m1 2h11m-5-11h11m-6 3h11m-5 9h11m-10-3h11m-9-8h11m8-5h11m-9 10h11m5-3h11m-4 8h11m-6-2h11m-2 7h11m-3-9h11m-2 3h11m-9 8h11m-11-10h11m-6 3h11m-9-15h11m6 20h11m-5 10h11m-9-4h11m-5 8h11m-7-15h11m-11-14h11m-7 9h11m-11-19h11m-8 36h11m-7-4h11m-7 4h11m-3 1h11m1-2h11m-10-14h11m-9 5h11m-9-24h11m22 33h11m19 4h11m-1286 16h11m209 13h11m9-19h11m13 24h11m-11-4h11m-10-13h11m1 0h11m-6 21h11m276-31h11m-7 13h11m16 12h11m5-13h11m15 21h11m6-33h11m-9 32h11m-9 0h11m-9-24h11m2 7h11m-10-17h11m2 22h11m-7 10h11m16-3h11m-7-7h11m9-6h11m-10 15h11m-10-1h11m-3-1h11m-10-15h11m3 16h11m-10-18h11m15-8h11m-5 31h11m6-14h11m-8 6h11m8-25h11m-9 10h11m-9 1h11m0 12h11m6-20h11m0 28h11m3-22h11m-9 2h11m-9 2h11m-9-19h11m-2 32h11m-10-14h11m-10-12h11m-8 9h11m-11-8h11m-3 32h11m-8-22h11m-8 13h11m-2-26h11m-10-3h11m-5 7h11m16-2h11m3 25h11m-9-6h11m-5 3h11m-9 9h11m-9-5h11m3 6h11m9-1h11m-10-37h11m-11 19h11m-7 17h11m-9-34h11m-9 36h11m-10-30h11m-9 21h11m-2 10h11m-11-5h11m-9-11h11m-10 10h11m-8-17h11m-4 16h11m-2 3h11m-11-19h11m-5 6h11m-7-6h11m-7-7h11m-9 6h11m-11-13h11m-10 0h11m-11-2h11m-5 12h11m-6-3h11m5 28h11m-7-24h11m-9 8h11m-5 17h11m-6 1h11m-10-17h11m-8-3h11m-11-3h11m-10 18h11m-11-20h11m-11-5h11m-11 19h11m-9-10h11m-11-11h11m-7 13h11m-4-20h11m-9 2h11m-8 8h11m-11-1h11m-10-8h11m-11 11h11m-9 8h11m-9-17h11m-10 17h11m-6-20h11m-7 35h11m-4-1h11m-8-32h11m-10 3h11m-10 6h11m-10-9h11m-10 36h11m-10-38h11m-10 29h11m-10-9h11m-6-14h11m-8 26h11m-10-9h11m-9 10h11m-5-13h11m-11-1h11m-7 2h11m-9-10h11m-8 1h11m-8 9h11m-5 7h11m-2 11h11m-10-18h11m-10 1h11m-9 5h11m-10-1h11m-9-11h11m-1 20h11m-4 2h11m-1 0h11m-9-1h11m-9 0h11m-7 0h11m-3-25h11m-1375 68h11m13-14h11m2 4h11m-10 9h11m-4-20h11m201 17h11m0-7h11m-1 10h11m-3-6h11m1 3h11m4-15h11m-7-1h11m-9-3h11m-2-10h11m-11 20h11m-3-7h11m-5-10h11m-9 16h11m-8 5h11m-7 8h11m313-19h11m-1 19h11m-8-27h11m-10 12h11m-5-2h11m-4 11h11m-7-29h11m4 19h11m-1 2h11m3 13h11m9-35h11m3 28h11m0-16h11m-9 14h11m-8-18h11m0 28h11m-2-26h11m1 18h11m0 9h11m-5-9h11m-11-25h11m-5-3h11m9 37h11m-8-35h11m-10-1h11m-7 2h11m-9 6h11m-10 20h11m-2-29h11m4 32h11m7-11h11m1 13h11m0-33h11m-5 12h11m-6-15h11m-5 26h11m-3-8h11m-9 2h11m11 18h11m3-26h11m-9-4h11m-4 15h11m3-16h11m3 12h11m-9 16h11m-9-27h11m5 28h11m-6-17h11m-10-18h11m-3 38h11m-9-36h11m4 29h11m-10-3h11m-2 9h11m-9-21h11m-5-6h11m-7 20h11m-4 2h11m-9-26h11m-8 24h11m-10-12h11m-8 16h11m-10-20h11m-8 5h11m-11-6h11m10 4h11m-5 3h11m-2 11h11m-11-20h11m-6 25h11m-6-11h11m-8-6h11m-9 16h11m-10-5h11m-6-29h11m-8 36h11m-11-12h11m-10-25h11m5 7h11m-10 0h11m-10 27h11m-11-15h11m-4-7h11m-6-5h11m-10 7h11m-6-10h11m-10 6h11m-6-5h11m-10 27h11m-8 2h11m-10-22h11m-4-9h11m-10 22h11m-8-19h11m-10 28h11m-3 3h11m-7-35h11m-10 24h11m-7-20h11m-10-5h11m-7 13h11m-11 6h11m-4-11h11m-9 6h11m-6-6h11m-11 24h11m-11-10h11m-6-7h11m-11-12h11m-10 29h11m-11-27h11m-3 12h11m-9 16h11m-7-32h11m-10 36h11m-3-17h11m-9 11h11m2-6h11m7-15h11m1 1h11m-1358 28h11m3 15h11m-10-13h11m182 20h11m22 1h11m7-5h11m4-4h11m-8-6h11m8 3h11m-9-8h11m-10 10h11m3 17h11m-7-6h11m-11 7h11m-9-23h11m-5 3h11m4 3h11m-9 15h11m-11-29h11m-8 35h11m-9-4h11m299-6h11m-6-6h11m-2-20h11m-3 32h11m-5-15h11m-5-7h11m-5 9h11m-8 7h11m-6-8h11m1-16h11m-9 37h11m-7-20h11m-8 15h11m-6-23h11m-11-8h11m-11 3h11m-10 28h11m-4 2h11m-4-20h11m-7-2h11m-11 12h11m-4-13h11m-2-9h11m-8 16h11m-9 8h11m-7 9h11m-10-26h11m-11 17h11m0-4h11m-10 5h11m-11 5h11m-6-6h11m-8-27h11m-10 16h11m-9 16h11m-7-7h11m-10 12h11m-6-3h11m-10-24h11m-11 26h11m-4-4h11m-6-29h11m-11 12h11m-5 3h11m-10 19h11m-7 1h11m-3-6h11m11-24h11m-5 23h11m-2-6h11m-9 13h11m-5-37h11m-11 23h11m-5 3h11m-7-5h11m-9 12h11m-5-2h11m-6-14h11m25-6h11m0 18h11m1-14h11m-2-2h11m-10 24h11m-11-37h11m11 25h11m-10 6h11m-1-30h11m-10 12h11m-5 16h11m-9-10h11m-3-10h11m12 1h11m-11 25h11m2 2h11m-10-8h11m-9-29h11m-3 23h11m-7-5h11m10-8h11m-6 18h11m-9-27h11m10 12h11m9-12h11m-7 32h11m-10-28h11m-6 9h11m-9 16h11m-10-4h11m-7-3h11m2 9h11m-2-26h11m-9 19h11m-9-2h11m-9-18h11m-11 22h11m-10-17h11m1-4h11m16-6h11m-8 24h11m-10-15h11m-4 19h11m-10-7h11m-11 8h11m-5 2h11m0-32h11m-8 25h11m-10-6h11m-8 5h11m-8 11h11m3-6h11m-3 3h11m-1 3h11m59-26h11m45 20h11m13-16h11m4 25h11m-2-39h11m34 27h11m-1-19h11m-3 14h11m14 9h11m-1398 47h11m-2-30h11m-9 22h11m-1-2h11m-11 4h11m-6-7h11m-1 8h11m-7-21h11m-3 2h11m3 21h11m-3-4h11m-5 4h11m-5-20h11m-6 10h11m-10-18h11m-10 31h11m-2 0h11m-10-38h11m-6 8h11m-9 13h11m-9 6h11m-7-20h11m-3 21h11m-3 3h11m-11-28h11m-8 0h11m-11 8h11m-9-7h11m-6 32h11m-10-6h11m-6-16h11m-3-1h11m1 16h11m-9 4h11m-8-1h11m10-14h11m-7 8h11m23-2h11m256 11h11m-4-25h11m-7-3h11m-6 19h11m-9-13h11m0 26h11m-9-6h11m-9 1h11m-5-25h11m-9-7h11m3-2h11m-10 37h11m-10-32h11m-10 8h11m-11-2h11m-10 7h11m-3-14h11m-9 0h11m-9 21h11m-3-10h11m-3 5h11m5-2h11m-7 1h11m-6-8h11m-11 12h11m-2 4h11m-10-13h11m-7-5h11m-9-1h11m-1 17h11m-11 12h11m-5-33h11m-4 35h11m-5-14h11m10-7h11m3 13h11m-6-14h11m14 1h11m-5 12h11m8 3h11m-9-4h11m-8 10h11m-11-31h11m-10 27h11m-7 0h11m-2-23h11m12-6h11m9 22h11m2 8h11m15-1h11m-8-32h11m9 15h11m1 7h11m-2 5h11m-1 5h11m9-28h11m13 13h11m-3-16h11m-10 35h11m-8-6h11m-8-9h11m-10-11h11m-9 21h11m-6-24h11m-6-8h11m17 16h11m-9 4h11m-10-14h11m-6-2h11m-4 30h11m-9-30h11m2 14h11m-5 3h11m-6-18h11m-7 28h11m-3-6h11m-10-8h11m-8-4h11m-6 19h11m1-17h11m-5-9h11m8 4h11m-5-9h11m68 19h11m-2 12h11m17-7h11m-9-19h11m-7-2h11m4 13h11m1 8h11m-10-24h11m-8 18h11m-1 10h11m6-26h11m-8 19h11m0-10h11m-10 11h11m-11-19h11m-8 25h11m-11-23h11m-8-7h11m-9 33h11m-9-15h11m-11 18h11m-11-21h11m2-10h11m-3-2h11m-6 24h11m-11-12h11m-6-7h11m-8 5h11m-11 10h11m-4-20h11m-9 3h11m-3 21h11m-8-21h11m-10 22h11m-6-6h11m-1-7h11m-9 20h11m-7-14h11m-1400 44h11m-6 8h11m3-13h11m-1 16h11m2-7h11m-2 7h11m-9 2h11m1-9h11m-7 6h11m-6-21h11m-5 4h11m-11 11h11m-11 7h11m-8-9h11m-10 11h11m-10-17h11m-8 8h11m-10-16h11m-9-11h11m-11 14h11m3 17h11m-11-27h11m-7 20h11m-10-11h11m-9 20h11m-10-7h11m-9-26h11m-7 7h11m-6 26h11m-9-19h11m-4-6h11m-8 9h11m-11-4h11m-10-10h11m-10-1h11m-10 1h11m-11 14h11m-10-5h11m-9-15h11m-9 23h11m-9 3h11m-10 3h11m-8-13h11m-10-11h11m-6 12h11m-8 14h11m-7-15h11m-1-2h11m-7 0h11m-3 8h11m-3-19h11m-9 25h11m-10 0h11m4 7h11m3-26h11m-9 14h11m-6-22h11m-8 33h11m-1-1h11m4-4h11m-8 0h11m-6-7h11m1 1h11m-6-12h11m-10 25h11m-10-6h11m16-20h11m-8 8h11m3 21h11m-9-3h11m-1-1h11m-1-12h11m-4 5h11m11-2h11m-8-3h11m-5-2h11m107-15h11m7 17h11m1 11h11m-9-24h11m-9 20h11m-7-10h11m-10-19h11m-2 29h11m-4-30h11m-6 6h11m-9 24h11m-9 7h11m-9-13h11m-5-2h11m-10-5h11m10 13h11m-8-21h11m-9 0h11m-11 17h11m-9-11h11m-1-4h11m-4 10h11m-7 4h11m-1-9h11m-9 18h11m-7-15h11m-8 20h11m-10-33h11m-8 24h11m-3-21h11m1 9h11m0-2h11m-10 2h11m-11 7h11m-8-5h11m-8 7h11m-2-13h11m-11-13h11m-7 12h11m-9-6h11m-6 25h11m-11 0h11m-7-10h11m5-19h11m-10 4h11m-9 29h11m-4-28h11m-7 6h11m-7-14h11m-5 25h11m-7-21h11m0 16h11m-11 11h11m-7 7h11m-1-10h11m5 4h11m6-27h11m-9 4h11m-9-1h11m-3 11h11m8-17h11m-4-1h11m7 31h11m-3-12h11m-11-13h11m3-6h11m6 11h11m-4 20h11m-8-20h11m16 1h11m12 14h11m-5 8h11m-9-10h11m-9-7h11m-10 21h11m4-19h11m3 0h11m-7-12h11m-9 28h11m57-14h11m17 15h11m20-31h11m-11 27h11m-3-31h11m16 3h11m9 18h11m10-9h11m6-5h11m-7-4h11m-1 7h11m-4 25h11m-1-1h11m-10-15h11m24-8h11m-8-10h11m2 35h11m-7-20h11m-5 17h11m2-1h11m11-33h11m-10 13h11m-10-2h11m-10-6h11m-8 21h11m-10-26h11m18 20h11m-7-15h11m13 17h11m-1648 56h11m232-16h11m6 16h11m-1-10h11m-8-21h11m-9 25h11m-5-26h11m-7 1h11m-5-1h11m-11 1h11m-11-7h11m-11 20h11m-10-1h11m-11 5h11m-9 13h11m-8 0h11m-10-26h11m-10 24h11m-5 1h11m-11-24h11m-3 25h11m-10-9h11m-7-21h11m-8-8h11m-10 38h11m-8 0h11m-11-36h11m-10 11h11m-10 23h11m-10-24h11m-10 7h11m-10 6h11m-7-18h11m-8 9h11m-8-10h11m-9 24h11m-11-13h11m-6-6h11m-11 11h11m-9-9h11m-9-12h11m-9 18h11m-8-7h11m-8 26h11m-8-26h11m-10 0h11m-10-4h11m-2 17h11m-5-8h11m-11-8h11m-10 19h11m-9-23h11m-7 12h11m-11 11h11m10 2h11m-5 5h11m-10-16h11m-7-9h11m9-4h11m-2 32h11m18-33h11m0-1h11m1 9h11m17-1h11m0-4h11m180 0h11m2 2h11m19 8h11m-10-16h11m-11 9h11m-7 7h11m-8 11h11m-9-10h11m-1 1h11m-10-19h11m-5 22h11m0 16h11m-10-9h11m-10-21h11m-9 8h11m-3 3h11m6-8h11m-7 5h11m-11 11h11m-10-2h11m-7 3h11m6-12h11m-5 10h11m-8-7h11m-10 9h11m2-17h11m-8 0h11m-1 27h11m-7-22h11m-1 11h11m-10-16h11m25 19h11m-11-17h11m-4 24h11m-9-28h11m9 12h11m-10 7h11m6-6h11m-1-8h11m-9 1h11m-10 6h11m7 6h11m3-4h11m-7 10h11m16-21h11m-1 2h11m-9 21h11m1-21h11m-9-2h11m-3 22h11m-11-25h11m-2 26h11m-4-31h11m-3 17h11m0-20h11m-2 13h11m-8-1h11m-5 8h11m-10 1h11m10 9h11m-10-22h11m-2-6h11m0 2h11m-10 1h11m-4 12h11m10 14h11m17 1h11m-3-10h11m-7-11h11m9 10h11m-8-1h11m-1-4h11m-3 18h11m26-29h11m1 8h11m17 1h11m14 6h11m-6 12h11m-9 0h11m13-23h11m-1 27h11m56-18h11m6 5h11m1 10h11m9-21h11m23 8h11m-1623 40h11m232-19h11m19-3h11m3 1h11m-11 9h11m7-5h11m-8 32h11m-11-35h11m-10 33h11m1-3h11m-9-30h11m-8 5h11m-10 3h11m-7 17h11m-11-9h11m-10 2h11m0 6h11m-5-14h11m-11 11h11m-8-4h11m-6-19h11m-10 7h11m12 29h11m-10 1h11m9-13h11m-10-6h11m-7-4h11m-8 4h11m-4-8h11m-6 18h11m-10-2h11m-5-15h11m-8 13h11m-7-22h11m273 5h11m53 2h11m3-9h11m-5 13h11m-3-1h11m5 16h11m-8 2h11m2-26h11m-10 20h11m-3-4h11m2 8h11m-9 8h11m-11-19h11m-4-9h11m-2 25h11m-7 3h11m-7 0h11m-1-12h11m-10-15h11m-4 26h11m-10-1h11m-10-29h11m-10 34h11m2-25h11m-11 8h11m-1 13h11m-7-25h11m-10 3h11m-10 17h11m0-3h11m8-11h11m-9-12h11m-3-2h11m1 6h11m-3-4h11m-2 33h11m-6-11h11m0-12h11m-3-7h11m8-4h11m-8 32h11m2-26h11m0 18h11m-8 2h11m-7-22h11m-9 17h11m-9 14h11m-10 0h11m-9-7h11m-9-20h11m-6-7h11m-11 1h11m-3 18h11m-6-9h11m5-4h11m0 18h11m-9 11h11m-11-9h11m-7 1h11m-8-11h11m-8-12h11m-4 0h11m-2 22h11m-9-4h11m-11-17h11m-10 19h11m-3-24h11m-2-3h11m36-1h11m22 30h11m-11-8h11m14-6h11m-4 13h11m-7-13h11m-11-5h11m-2 27h11m-5-25h11m-4-5h11m8-6h11m-4 20h11m13-6h11m0-12h11m-7 24h11m-11-20h11m18 19h11m-4-4h11m22-11h11m-10 26h11m-7-19h11m-11 0h11m-4 2h11m1-17h11m-6 30h11m6-29h11m-5-5h11m-4 15h11m12 21h11m10-22h11m1 13h11m5-17h11m0 6h11m-6 20h11m0-16h11m8-6h11m-1701 63h11m11-13h11m-9-17h11m110 3h11m165 4h11m39 3h11m-4-10h11m-4-1h11m-10-6h11m2 8h11m-5 21h11m-9 2h11m0 7h11m4-35h11m-1 19h11m0-18h11m-1 16h11m3 16h11m381-25h11m-8 6h11m14-7h11m-10-5h11m9 9h11m10-9h11m-10 23h11m-8-23h11m-11-5h11m-7 0h11m-11 28h11m-9-18h11m22-6h11m2 23h11m-4-18h11m0 28h11m-3-29h11m21 25h11m-10 6h11m-11 0h11m-3-29h11m-10 16h11m-6 8h11m-7-4h11m-11-30h11m-10 32h11m-3-22h11m3 23h11m-9-20h11m-6 4h11m-7 16h11m-5 6h11m-8-38h11m-2 15h11m-1-1h11m5-8h11m-1 10h11m-1 14h11m-9 1h11m-7-4h11m-6-4h11m-9 14h11m-6-27h11m-10 5h11m1-2h11m78 12h11m63-1h11m70 9h11m3-22h11m-10-7h11m14 31h11m-5-8h11m30-13h11m-1-6h11m6 1h11m-1 16h11m0-18h11m4 25h11m29 3h11m-10-1h11m-9-9h11m-8 1h11m11-8h11m-9-16h11m-11 8h11m10 19h11m-10-2h11m10-24h11m-1737 66h11m4-24h11m-5 33h11m-10-34h11m294 12h11m41-2h11m40-15h11m8 2h11m8 32h11m-6-29h11m470-2h11m6 28h11m-3 1h11m65 4h11m-4-31h11m9 8h11m-4 13h11m-1-18h11m25 13h11m-4 1h11m10-13h11m-3 19h11m-1-17h11m5-1h11m-10-7h11m-9 2h11m0 30h11m1-6h11m5-16h11m-2-13h11m24 28h11m-2 3h11m-9-24h11m-9-7h11m-6 9h11m9 24h11m-10-4h11m2 2h11m2 2h11m11-2h11m-9-23h11m16 22h11m-5-21h11m2 8h11m23 10h11m1-22h11m20 10h11m-2-12h11m0 4h11m-11 31h11m-10-33h11m22 7h11m-6 7h11m-7-8h11m0-1h11m-10 6h11m10 6h11m-10-8h11m12 1h11m6 20h11m-10-11h11m4-17h11m21 2h11m-3-9h11m0 9h11m11 30h11m-807 24h11m15 10h11m30-31h11m-1 24h11m-4 10h11m-2 1h11m-9-1h11m-5-23h11m2 5h11m-6 7h11m12-24h11m-8 17h11m-2 9h11m-11-4h11m-9 11h11m-3-15h11m-7 7h11m-9 12h11m-6-21h11m-10-16h11m-8 25h11m6-24h11m-5 13h11m20 2h11m-7 14h11m-3-23h11m4 24h11m-1-32h11m18 3h11m-3 14h11m-10 0h11m-3 18h11m13-11h11m5-14h11m-8-4h11m27 9h11m-8-5h11m-8 23h11m62-21h11m15 22h11m-7-27h11m47-6h11m19 21h11m-2-8h11m21-4h11m-9 15h11m-2 2h11m-10-1h11m4 4h11m-3-9h11m14 13h11m24-33h11m35 18h11m-8 4h11m3 11h11m-8-8h11m8 9h11m-4 1h11m-4-5h11m-6-8h11m-4 13h11m-839 13h11m-2 2h11m-7-7h11m-4 31h11m-5-4h11m-2-18h11m-9 22h11m-9-11h11m-9 5h11m-3-15h11m8-3h11m-2 11h11m-5 13h11m-5 2h11m-3-1h11m7-14h11m-10-22h11m-9 38h11m-11-18h11m-4 9h11m-8-8h11m-10-6h11m18 2h11m-9 22h11m-8-16h11m-10 1h11m-8-1h11m-1 11h11m-9 2h11m8-16h11m0 15h11m-5-14h11m2-5h11m-7-6h11m-6 0h11m-4 28h11m-3-17h11m-11-4h11m-7-16h11m-9 12h11m-2 20h11m-7-4h11m-2 0h11m20-24h11m5 1h11m-11 25h11m-2 0h11m21 8h11m-5-10h11m-6-10h11m-9-15h11m-5 27h11m-7 8h11m-3-9h11m-9-9h11m29 16h11m-11-31h11m32 18h11m52 5h11m-2 8h11m14-6h11m-10-1h11m11 0h11m1 8h11m9-10h11m-7-4h11m0-7h11m-1 22h11m-6-24h11m13 22h11m-9-19h11m-8 21h11m3-23h11m1 15h11m-9-19h11m-9 8h11m9-11h11m-3 6h11m3-5h11m23-4h11m14 6h11m-9 10h11m-1-5h11m27 20h11m-916 24h11m-4-1h11m22 10h11m-8-18h11m3 26h11m-6-29h11m-7 29h11m-8-22h11m-7 12h11m3-14h11m-5 12h11m0-3h11m-9-17h11m3-2h11m1 16h11m-2-11h11m-8 21h11m-7-21h11m-6 13h11m-6-21h11m-1 23h11m-11-21h11m-10 7h11m-6 21h11m-9-21h11m-3-9h11m-2 26h11m-4-27h11m-6 34h11m-11-31h11m14 26h11m7-6h11m-8 6h11m-6-13h11m-8 0h11m-7 1h11m-11-6h11m13 19h11m-7-2h11m-9 9h11m-11 0h11m-3-6h11m-8-9h11m-1-9h11m-6 14h11m3-22h11m-10 32h11m6-5h11m-11-12h11m-7 0h11m-7 1h11m-6 11h11m-5-29h11m-6 6h11m-6 29h11m19-25h11m-5 8h11m6-5h11m-6-12h11m13 25h11m-10-18h11m-6 9h11m0 18h11m18-20h11m-10-17h11m4 28h11m9 2h11m42-10h11m3 11h11m11-16h11m-4 9h11m-10-7h11m-9-9h11m-3-1h11m-8 5h11m18 11h11m-8 5h11m13 4h11m-11 6h11m-11-18h11m54 9h11m33-2h11m-5-18h11m31 2h11m-4 15h11m19-27h11m-5 32h11m-904 32h11m9 1h11m-10 3h11m2-17h11m-9 21h11m2 2h11m-8-28h11m-8 8h11m-10-7h11m-5 2h11m-10-6h11m-5 20h11m-1-13h11m-1-6h11m2-2h11m-11 25h11m-2 2h11m-11 1h11m-10-24h11m-8 10h11m-10 8h11m-9-8h11m-11 7h11m-9-21h11m-8 30h11m-8-3h11m0 5h11m5-15h11m-7-19h11m-5 30h11m-8-4h11m14-16h11m-7 14h11m-10 13h11m-8-11h11m-8 2h11m-2-28h11m-4 2h11m-6 25h11m10 8h11m-1-15h11m1 10h11m-2-29h11m-10 2h11m-10-1h11m-11 15h11m-7 13h11m18-22h11m-2 18h11m-9-17h11m-4 12h11m-1 2h11m41-6h11m-11 9h11m3-22h11m7 12h11m6-7h11m-7 7h11m-5 22h11m-6-21h11m4-1h11m7 1h11m-10 1h11m-9 20h11m22-14h11m15-7h11m11-4h11m23 24h11m-2-23h11m26 18h11m-9-5h11m28 12h11m-8-22h11m6 2h11m-11 17h11m23-36h11m-10 33h11m-2-12h11m-7 2h11m-4-15h11m-8 5h11m22 23h11m6-13h11m-3 2h11m-4 4h11m-4-19h11m5 2h11m-9 9h11m-8 0h11m-9 1h11m-3-13h11m-3 7h11m-10-5h11m-7 18h11m-7-14h11m-11 18h11m-8 6h11m-1-36h11m0 29h11m-979 29h11m57-12h11m-8 18h11m-7 10h11m24-2h11m-1-30h11m-10 19h11m2-12h11m-10 4h11m-9 9h11m-8-15h11m-9-2h11m-11 14h11m-5-5h11m-4-3h11m-4 4h11m-11 3h11m-2-6h11m-7 23h11m-9-38h11m-6 33h11m2-4h11m-9 0h11m-3-16h11m-10 11h11m6-5h11m-9 5h11m0-15h11m-9 23h11m-11-14h11m1 3h11m-10 0h11m-2 0h11m-7 0h11m-6-21h11m-7 36h11m-7-36h11m-10 31h11m1 5h11m15-9h11m22-1h11m3 1h11m38-17h11m-5 8h11m10 12h11m-3-30h11m10 23h11m8 1h11m1 5h11m-1-25h11m-6 14h11m-1 1h11m-2-19h11m-11 21h11m-2-11h11m-8 27h11m-11-2h11m16-12h11m-1 16h11m-1-9h11m62 9h11m6-24h11m-3 24h11m86-32h11m-3-7h11m60 26h11m9 2h11m-2 9h11m-3-29h11m16 9h11m-2-1h11m-9 22h11m-4 1h11m-7-37h11m-10 36h11m-11-23h11m-10-8h11m-10 5h11m5 25h11m-8-5h11m-5-14h11m-6 2h11m-8 13h11m-9-9h11m-1-22h11m-1643 54h11m-8 1h11m-9 16h11m-4-14h11m652-18h11m6 6h11m17 1h11m-5 27h11m10-9h11m-9-9h11m-11 8h11m-5-16h11m-4 25h11m-6-1h11m-2-24h11m-8 13h11m9-14h11m-8 27h11m-6-25h11m-9-10h11m-4 26h11m1-6h11m1-4h11m-1 17h11m-7-18h11m-8 20h11m-7-9h11m9-11h11m-10 4h11m-6-7h11m2 22h11m-4-22h11m-6 26h11m-8-24h11m-9 12h11m-10-16h11m2 15h11m16-16h11m-4 1h11m0 20h11m-10-16h11m-6 17h11m2-11h11m12 19h11m-3-32h11m25 2h11m-7-1h11m18-8h11m3 15h11m-10 9h11m21 2h11m11-25h11m-8 25h11m-10 6h11m1-9h11m6-14h11m-9 5h11m45 25h11m5-29h11m-3 22h11m-6 7h11m9-5h11m10-7h11m-8-15h11m10 6h11m169 21h11m28-16h11m0-21h11m-8 4h11m-2-4h11m-1 3h11m-11 2h11m-5 14h11m-8 12h11m-8-21h11m-7 16h11m-11-2h11m-8-12h11m-11-1h11m3-8h11m-11 31h11m-1652 23h11m-9-3h11m-5-14h11m-7 3h11m-9 7h11m-8-9h11m-7-1h11m568 35h11m109-28h11m-9 2h11m-9 20h11m10-5h11m-4 11h11m19-6h11m13-17h11m-11 22h11m-9-2h11m11-1h11m-9-1h11m-3-23h11m-8-7h11m0 33h11m4-35h11m0 19h11m-11 10h11m-3-16h11m11 26h11m-8-37h11m-4-2h11m-3 7h11m-5-6h11m-2 24h11m-9 13h11m-6-14h11m-9 4h11m-8 8h11m-7-23h11m-10-3h11m-10-8h11m-8 19h11m-11-4h11m-8-12h11m-9 0h11m6-5h11m-11 33h11m9-5h11m4 0h11m4-28h11m10 16h11m4-6h11m-5 14h11m-5-10h11m47-7h11m1 12h11m9 15h11m-7-13h11m-7-10h11m-11-9h11m-1 37h11m24-34h11m-9 7h11m-4-11h11m8 9h11m-7 16h11m8-11h11m-1-3h11m3 20h11m0 4h11m32-10h11m153-1h11m4-1h11m-10 11h11m-2-7h11m-11-6h11m-4 14h11m-2-14h11m-4-18h11m-9 21h11m-8 9h11m-5-17h11m21 6h11m-7-5h11m-10 14h11m-2-26h11m-10 33h11m-5-25h11m-10-9h11m-10-3h11m1 13h11m0-15h11m-1384 74h11m-4-3h11m-5-10h11m0 14h11m-8 1h11m-7-22h11m1 17h11m261-17h11m78-7h11m4 15h11m-6-7h11m-8 7h11m-7 8h11m2-15h11m-10 22h11m17-24h11m16 20h11m25-4h11m-10-26h11m-9 27h11m-10 1h11m-7-21h11m-11 18h11m-4-17h11m-10 17h11m-3-13h11m-7-6h11m12 20h11m-5-14h11m-8 22h11m-5-19h11m-9 6h11m-3-14h11m-1 0h11m18 8h11m-9 9h11m-1-24h11m-9 36h11m-10-12h11m-4-14h11m-11 18h11m-2-12h11m-10 11h11m-6-4h11m-10-17h11m-9 10h11m-8-18h11m-5 0h11m-8 1h11m-7 17h11m-10 1h11m1-19h11m-4 2h11m-4 8h11m-11 2h11m0 14h11m-9 3h11m-10-3h11m-8-10h11m-5-10h11m-10 26h11m-1-27h11m0-1h11m-9 9h11m13 3h11m-11-10h11m34 18h11m-5 13h11m-11-16h11m-4 3h11m149-25h11m11 18h11m184-11h11m-4-1h11m12 15h11m-9-9h11m4 4h11m-1 10h11m-11-17h11m-11 18h11m-9-11h11m-3-2h11m-3 0h11m2-14h11m-10 32h11m-10-29h11m-5-1h11m-7 30h11m-10 5h11m-6 0h11m-9-25h11m-9 9h11m-4 7h11m21-12h11m-1717 32h11m85 22h11m154 5h11m6-9h11m-1 6h11m6-8h11m-3 0h11m-11 9h11m1-15h11m-8-7h11m-8-8h11m-10 17h11m-6-1h11m2 1h11m-11 7h11m-1 2h11m-4-2h11m362-14h11m-11 6h11m27-5h11m-6 10h11m10-2h11m-7 13h11m1-29h11m-10 26h11m-11-25h11m-4 19h11m-3-5h11m2-4h11m-6 20h11m3-11h11m-1-1h11m1-8h11m-11 3h11m-8-3h11m-2 0h11m-7 12h11m1-6h11m-10 1h11m-10-4h11m-11-12h11m-9 31h11m-4-31h11m-9-5h11m-8 10h11m-9-10h11m0 3h11m14-5h11m-6 8h11m-3 7h11m0-1h11m12-1h11m-10 19h11m-5-27h11m0 6h11m38 1h11m3-1h11m-10-3h11m-5-2h11m-2-4h11m-1 2h11m28 30h11m5 2h11m13-11h11m169-20h11m148 14h11m4 2h11m-6 13h11m-8 4h11m47-18h11m-7-4h11m-8 22h11m1-9h11m-5-21h11m4 12h11m-8-7h11m2 18h11m-10-5h11m-4-7h11m-5-7h11m-9-2h11m0-6h11m-1699 54h11m-4 3h11m-11 11h11m3-6h11m-11-27h11m-11 24h11m-4-20h11m-2 14h11m5 14h11m4 1h11m-10-2h11m111-4h11m11-6h11m-4 2h11m-11 13h11m-5-31h11m-4 13h11m-7-7h11m-4 5h11m-11-15h11m-9 24h11m-10-21h11m-10 35h11m-8-14h11m-8-8h11m-2-8h11m-10 25h11m-8-23h11m8-9h11m-6 4h11m-6-5h11m-7 3h11m-5 21h11m-2 11h11m-10-32h11m-10 13h11m-7 16h11m-10 1h11m-9-24h11m-6 8h11m-1-8h11m4 23h11m-8-26h11m-11 18h11m329-17h11m-6 31h11m-9-3h11m8-11h11m6-17h11m-10 27h11m-7-34h11m-11 35h11m26-17h11m-8 15h11m-8 0h11m-5-2h11m-10-23h11m-8 13h11m-10-22h11m-10 27h11m-6-6h11m-2 14h11m-11-16h11m-7 1h11m5 3h11m-5 9h11m0-22h11m-9 11h11m-2 14h11m-7-4h11m-10-19h11m-10 3h11m-7-9h11m-9 27h11m-8-1h11m-6-21h11m-3-3h11m-5-4h11m-11 30h11m-5-4h11m-6 3h11m-5-8h11m-11 10h11m-4-3h11m-10-18h11m-5 8h11m-11-7h11m-9 17h11m-10-28h11m-9-3h11m-6 10h11m-1 10h11m-5-16h11m-11 0h11m2 20h11m-9-22h11m38 1h11m-11 9h11m-2 16h11m-3-27h11m-9 7h11m2 25h11m8-4h11m26-21h11m297 10h11m26-19h11m22 22h11m-1-2h11m8 8h11m61-12h11m-10 23h11m-5-6h11m8-27h11m-9 3h11m-4-6h11m-2 13h11m-8 18h11m-6-9h11m-7-15h11m0 17h11m-11-15h11m3 2h11m2 1h11m-1717 60h11m12-18h11m-3 10h11m3-25h11m11 17h11m0-17h11m16 8h11m-9-4h11m-8-5h11m-9 33h11m24 2h11m55-26h11m-6 6h11m-10-7h11m14 16h11m-4-12h11m11 7h11m-6-16h11m17 25h11m-1-24h11m9-3h11m-8 10h11m-5-4h11m15-3h11m7 7h11m3 11h11m-9-23h11m333 15h11m-5 6h11m-4-5h11m7-9h11m7 0h11m-1 8h11m1-12h11m13 8h11m3 2h11m-9-4h11m-3 26h11m-2-18h11m-6-13h11m-4-2h11m-8 28h11m1-13h11m10-7h11m3 4h11m-11-11h11m-10-2h11m-3 3h11m-8 24h11m-2 3h11m11-15h11m-10 8h11m-7-20h11m26 26h11m-11-29h11m-10 23h11m42 1h11m1-4h11m1-7h11m-4 10h11m1 14h11m30-10h11m4 3h11m45-7h11m179-23h11m97 0h11m-2 12h11m-2 21h11m-5-26h11m6 9h11m-5 6h11m-1-15h11m-6 19h11m-4 8h11m6-12h11m-11-23h11m-3 39h11m-7-4h11m-4-3h11m-8-24h11m-7 19h11m-4-27h11m-9 29h11m-9-10h11m-8 3h11m-9 1h11m-7-21h11m-6 30h11m-3-24h11m-6 21h11m4-14h11m-1722 38h11m-2 25h11m-4-21h11m28-5h11m-10 2h11m-9 2h11m14 17h11m-6 4h11m-5-28h11m-9 5h11m0 6h11m-10 3h11m-11 13h11m-9-2h11m-11-17h11m15 8h11m-11 14h11m-2-34h11m-8 24h11m501-1h11m86-8h11m18 9h11m-9-27h11m-10 0h11m0 22h11m-3 0h11m6 10h11m2-16h11m-10-1h11m-8-10h11m-6 18h11m-6 9h11m-9-8h11m16-20h11m-3 10h11m7 15h11m0-31h11m-10 6h11m-3 4h11m5-8h11m-8 5h11m-2 12h11m-11 7h11m0 10h11m-8-4h11m-6-14h11m8 1h11m-1 17h11m27-32h11m-8 12h11m-6 1h11m1 11h11m7-25h11m-4 11h11m12-13h11m9 5h11m10 33h11m1-17h11m5 0h11m71-13h11m8 24h11m165 5h11m2 0h11m16-15h11m-9 4h11m0-3h11m2-15h11m-9 17h11m-3 6h11m29-6h11m2-13h11m-8-3h11m-2 15h11m0-4h11m-10 1h11m-8-10h11m9 21h11m-7 2h11m7-9h11m-10-1h11m-10 13h11m-10-3h11m-2-31h11m-9 29h11m-1698 37h11m0-30h11m-5 32h11m-2-5h11m10-27h11m3 34h11m-2-16h11m-4 0h11m-10 19h11m-6-2h11m-9 4h11m-11-15h11m-7-16h11m-11 30h11m2-28h11m-7 14h11m-10 11h11m-7-8h11m4-12h11m-11-14h11m-7 24h11m6 9h11m-4-32h11m2 32h11m-9-30h11m567 7h11m-1 6h11m19 11h11m-2-18h11m-10 7h11m-8-7h11m-8 17h11m-9-24h11m17 15h11m3-1h11m3-15h11m-4 13h11m10-1h11m-7 6h11m-1-5h11m-7 3h11m-1-1h11m-7-13h11m-10-1h11m7 2h11m10 25h11m13 4h11m1-2h11m-4 1h11m2-5h11m-4-6h11m-7 4h11m6-12h11m-3 20h11m23-4h11m24 5h11m55-28h11m-10 23h11m-7-28h11m-4-2h11m264 16h11m-4 3h11m-9-18h11m4 13h11m-9 14h11m-1 6h11m-10 3h11m22-23h11m-6 5h11m-6-8h11m11 7h11m-6 20h11m-9-6h11m-10-5h11m19 9h11m10-25h11m-10 17h11m-10-26h11m-1 25h11m-9 9h11m-4-1h11m-5-33h11m-2 14h11m0 16h11m-1713 39h11m-3-1h11m-6-18h11m-10 13h11m-10 5h11m-3 0h11m-5-13h11m-9 12h11m-9-8h11m-9-14h11m-8-2h11m-3 17h11m-11 8h11m-8-5h11m-2 12h11m-3-37h11m0 33h11m13-14h11m-10-19h11m-9 18h11m-11-11h11m-7 9h11m-11 15h11m-2 5h11m8-30h11m22-4h11m-4 4h11m596 9h11m-10-7h11m-6 26h11m-6-30h11m13 19h11m-11-6h11m-1-4h11m-9 4h11m-7-11h11m-7 24h11m4 0h11m17-15h11m6 14h11m-3 7h11m-10-6h11m-10-3h11m36-4h11m8 1h11m-10 14h11m-3-11h11m16 0h11m-11-10h11m6-8h11m-8 0h11m-4 22h11m1-12h11m26 2h11m-3 9h11m14-19h11m16 2h11m46 15h11m-1-25h11m19-1h11m2 33h11m3-12h11m70-1h11m41-9h11m-2 2h11m8 1h11m-9 8h11m-8-16h11m-4 4h11m5 24h11m7-21h11m-6-1h11m1 24h11m13-17h11m0 10h11m-11 8h11m-9-34h11m-8 33h11m-6-5h11m1-6h11m5 5h11m-10-1h11m-8-9h11m-7 14h11m-11-21h11m-5 6h11m-6-2h11m1 20h11m-1-26h11m-6 13h11m-10-13h11m-9 21h11m-5 3h11m-11-9h11m-5-1h11m-4-10h11m-5 14h11m-6-12h11m28-13h11m-1688 36h11m-10 8h11m-7 28h11m-3-14h11m-11 11h11m-5-21h11m-6 3h11m-7 13h11m-11-21h11m-4 11h11m-10-17h11m-9 7h11m-10 5h11m-7 14h11m0 5h11m0-8h11m-6-23h11m2 19h11m-9-6h11m-5-14h11m-11 36h11m-7-14h11m-4-22h11m-10 14h11m28 12h11m561-20h11m28 23h11m-10-18h11m-11-2h11m9 15h11m19-10h11m44-14h11m11 30h11m-3-6h11m-10-1h11m1-12h11m-7 18h11m-8-29h11m-1 30h11m-5 2h11m-7-25h11m19 27h11m-9-27h11m4-9h11m-6 28h11m-7-10h11m-1-1h11m-7-8h11m1-9h11m-7 38h11m89-24h11m13-8h11m-5 27h11m-7-6h11m43-15h11m10 1h11m4 23h11m20-26h11m8 13h11m81-5h11m-1-3h11m-4 16h11m-9-22h11m1 8h11m-9 17h11m-9-9h11m-3 3h11m4-24h11m-1 20h11m-11-8h11m22 3h11m-3 17h11m8-7h11m9 10h11m-3-3h11m-8-26h11m-5 5h11m-6 18h11m-10 2h11m-10-16h11m-4 5h11m13-10h11m-9-12h11m-5 7h11m-11 10h11m-8-17h11m13 13h11m-5 8h11m2-14h11m-6 4h11m-1657 65h11m-4-22h11m6 23h11m24-36h11m-9 23h11m-10-21h11m2 10h11m-10-1h11m-10-3h11m-9 5h11m-8-6h11m-10 21h11m9 7h11m-6-13h11m-7-1h11m-3 9h11m-5-20h11m593-1h11m-8 5h11m16-11h11m23 32h11m-4-8h11m6-5h11m34-11h11m-11-1h11m18 10h11m-3-7h11m12 19h11m6-20h11m-5 9h11m-10-4h11m77-18h11m5 29h11m15 0h11m35-8h11m6 12h11m29-32h11m-1 25h11m10 8h11m5-32h11m48 21h11m65-14h11m79 5h11m9 0h11m12-16h11m-7 15h11m-11 7h11m0-4h11m2 9h11m-11-12h11m-9 11h11m-9-14h11m-11-10h11m-6 6h11m-10 7h11m-9 7h11m-5 15h11m-7-23h11m-9 10h11m-1525 44h11m-2 7h11m-7-31h11m15 18h11m-1-22h11m-9 0h11m-6 10h11m-10 0h11m-4 23h11m-11-3h11m-1-13h11m-8 18h11m-10-14h11m4 15h11m-10-2h11m-8-29h11m-3 29h11m472-5h11m1 8h11m-6-12h11m59 1h11m10-10h11m11-6h11m75 5h11m56-15h11m56 5h11m26-3h11m23 10h11m-6 8h11m-8 11h11m75-16h11m1 3h11m149-6h11m33-2h11m-1356 49h11m3 18h11m-10-15h11m-8-14h11m0 22h11m-11-15h11m-2-15h11m-9 6h11m3 13h11m42-17h11m10 15h11m19-14h11m-8 10h11m-3 7h11m-4 5h11m-11-2h11m-2 14h11m-11-12h11m-10-6h11m-9 19h11m-8-3h11m16 3h11m-2 1h11m56-2h11m8 0h11m94 0h11m5 1h11m-3-17h11m-7-6h11m2 20h11m-6-16h11m-10 12h11m8 6h11m-8-2h11m-2-2h11m5-20h11m8 5h11m-7 12h11m-11 0h11m-10-1h11m-11-20h11m-9 17h11m7-3h11m5-16h11m2 8h11m26-15h11m211 15h11m-11-12h11m18 24h11m64-5h11m-5-6h11m17-15h11m19 34h11m5-19h11m28 23h11m43-25h11m8-3h11m-1131 35h11m-6-3h11m24 11h11m105-11h11m19 3h11m-8 3h11m2-7h11m-7-1h11m29 2h11m6 9h11m8 6h11m17-8h11m-1-6h11m-3 9h11m-9-13h11m3 8h11m-5-4h11m-8-1h11m-6 19h11m4-14h11m-8-3h11m-10-3h11m-4 23h11m8-9h11m-5-15h11m4 10h11m1-4h11" stroke="#25c425" stroke-width="11" fill="none" transform="scale(.1)"/>
<path d="M5181 192h10m-9-13h10m9 13h10m-6-18h10m-4 15h10m-37 20h10m-8 19h10m-8 11h10m2-39h10m-7 67h10m-1007 50h10m45-1h10m41 0h10m808-12h10m55-12h10m-5 10h10m-1043 48h10m23 9h10m-10-15h10m-2 13h10m16-17h10m0-3h10m-4 10h10m0-18h10m-10 16h10m-9-22h10m9-1h10m-6 7h10m1 20h10m-9-1h10m-9-9h10m-8 9h10m0-8h10m-5-20h10m2 12h10m-3 16h10m31 5h10m-9 0h10m25 2h10m-2 1h10m704-3h10m-9 1h10m4-12h10m13-22h10m-5 11h10m-6-3h10m-983 70h10m-5-13h10m23 8h10m-8-11h10m-1 3h10m-6-17h10m-8 28h10m-1-26h10m-7 17h10m-9-2h10m-10-17h10m2-1h10m-2 27h10m-8-29h10m-7 1h10m-5 15h10m-5 13h10m-7-1h10m0-8h10m-3-6h10m-10-18h10m-2 17h10m-3 0h10m-9-2h10m-5 20h10m-5-4h10m-8-2h10m-1-22h10m-4 2h10m-7 3h10m8 20h10m1-24h10m-3 23h10m37 6h10m590-19h10m41-6h10m3 10h10m-9 10h10m-9-24h10m3-4h10m-882 39h10m-3 23h10m-3-4h10m-7-12h10m30-2h10m2 6h10m17 14h10m-7-3h10m10-1h10m-4 11h10m-2-30h10m7 0h10m17 25h10m-3-1h10m4-30h10m6 18h10m6 20h10m519-7h10m35-7h10m1 2h10m-4-12h10m-9 22h10m-4-35h10m8 6h10m-697 62h10m-1-27h10m3 27h10m1-9h10m1-20h10m7 29h10m22 4h10m-5-28h10m-6 24h10m454-6h10m8-19h10m-4 33h10m-1-4h10m-5 2h10m19-4h10m-618 37h10m22-25h10m9 21h10m46-3h10m4-6h10m22 9h10m-7-2h10m5 11h10m379 1h10m-5-22h10m-5 11h10m43-10h10m21 6h10m-526 21h10m-1 10h10m391 19h10m-4 0h10m-9-3h10m-10 9h10m-9-4h10m-10-3h10m11-25h10m179 31h10m-651 43h10m2-16h10m5 13h10m357 5h10m8-4h10m-2-35h10m2 38h10m81-36h10m6 23h10m-523 33h10m-5-9h10m-4 9h10m-7-1h10m5 0h10m-3 13h10m-2 4h10m312 0h10m6-12h10m-818 52h10m-9-4h10m2 8h10m426-33h10m9-4h10m12 23h10m-6 6h10m-6-5h10m8 8h10m18 0h10m238 5h10m-4-6h10m-5 3h10m-784 35h10m2 8h10m490-19h10m-4 0h10m-7 10h10m-3 2h10m-3-4h10m-1 7h10m-3 4h10m-5-6h10m193-8h10m-9 1h10m1-21h10m-9 32h10m-10 0h10m-2-35h10m-772 47h10m153-5h10m321 2h10m22-2h10m-8 3h10m-2 3h10m-2 7h10m184-2h10m-6-7h10m-9-7h10m-8 36h10m-9-15h10m-9-17h10m-9 16h10m-681 49h10m24 2h10m-3-15h10m-10 22h10m-5-19h10m14 0h10m1 5h10m385-16h10m27-2h10m-6 27h10m27-10h10m104 0h10m194 8h10m92-2h10m216 9h10m26-7h10m-1253 39h10m50-23h10m1 27h10m-1-18h10m465-14h10m5 14h10m-1 17h10m-9 4h10m-1 1h10m10-11h10m43 7h10m-10-22h10m-9 16h10m-8-13h10m-9 8h10m-9 16h10m-8-27h10m-4 2h10m15 12h10m96-23h10m-9 34h10m35-29h10m98 26h10m8-1h10m44-27h10m39 27h10m12 1h10m1-23h10m-2-6h10m79 28h10m-3-12h10m11 13h10m28-18h10m-1230 48h10m223-17h10m1 3h10m-8 26h10m10-25h10m322-7h10m19 13h10m21 1h10m4 16h10m10-24h10m14 27h10m21-15h10m8 3h10m52 10h10m79-14h10m10 13h10m0-23h10m1 25h10m25-15h10m90-2h10m11-16h10m10 34h10m6-30h10m4 8h10m0-4h10m3-1h10m-5-2h10m35 14h10m-1320 52h10m-4 5h10m17-17h10m211 12h10m40-25h10m0 30h10m8-5h10m336-22h10m-2 1h10m26 17h10m4-13h10m55 5h10m-4 16h10m63-5h10m0-13h10m3-7h10m42 26h10m1-18h10m38-12h10m12 15h10m2-9h10m6-4h10m36 22h10m7-31h10m17 16h10m11-16h10m-3 31h10m-5-23h10m34-8h10m-4 11h10m11-11h10m2 14h10m53-2h10m201 16h10m-1334 38h10m40-17h10m67 14h10m0-2h10m0 1h10m-7 13h10m336-27h10m30 5h10m-3 11h10m6-5h10m267 17h10m-3-9h10m21 9h10m82-12h10m41 12h10m30-33h10m-9 1h10m88 5h10m-6 14h10m20-1h10m-2-11h10m5 25h10m-7-19h10m-7 1h10m-4 14h10m9-25h10m-7 0h10m-4-5h10m-6 33h10m-1-17h10m-8-9h10m-8 15h10m-8-17h10m-8 29h10m2-37h10m-7 31h10m4 6h10m1-7h10m14 3h10m-3-3h10m-3-2h10m-3 6h10m-1363 39h10m17-10h10m15 5h10m-3 6h10m0-7h10m-8-12h10m-1 16h10m-3-8h10m8 11h10m26-17h10m-7 11h10m1 2h10m26 3h10m270-30h10m17 5h10m41-2h10m14 28h10m12-21h10m28-2h10m49 12h10m70 3h10m32-18h10m44 24h10m62 4h10m9-27h10m-6 20h10m-4-6h10m36-7h10m34 12h10m26-1h10m9-1h10m10-25h10m8 28h10m1 7h10m1-10h10m-6 2h10m-2-6h10m-6 1h10m3 6h10m0-6h10m-8-2h10m-9 9h10m-6-19h10m-5 23h10m-6-8h10m-10-24h10m-9 8h10m-2 28h10m-4-17h10m-7-17h10m-9 34h10m-8-14h10m-6-3h10m-8-8h10m-3-7h10m-9 15h10m-10 11h10m-9-32h10m-5 25h10m0 9h10m-8-21h10m-9-11h10m-4 18h10m-8 3h10m-7-24h10m-4 37h10m-8-22h10m-9-9h10m-9-1h10m-9 25h10m-9-23h10m-8 5h10m-8 12h10m-5-12h10m-8-10h10m-3 33h10m-2-30h10m-6 32h10m3-35h10m-1380 68h10m19-3h10m-1 5h10m6-12h10m1 5h10m1 13h10m-10-27h10m-6 15h10m-6 2h10m-4-20h10m-8 16h10m1 4h10m-10 4h10m-8-28h10m0-3h10m-10 7h10m-4 26h10m11-16h10m-10-2h10m14 18h10m-3-6h10m-10-17h10m78 9h10m8 9h10m34-3h10m28 2h10m156 7h10m1-15h10m-5 16h10m2-9h10m-3-24h10m29 23h10m-10-14h10m-10 3h10m-8-14h10m26 14h10m-7 14h10m-8-16h10m24 0h10m24 10h10m30 4h10m13-2h10m11-8h10m9 8h10m7-15h10m-6 24h10m64-22h10m29-12h10m103 21h10m3 0h10m15 5h10m-9-12h10m20-5h10m0 27h10m3-26h10m3 3h10m16 25h10m-8-1h10m-9 0h10m-3-6h10m2-17h10m-7 16h10m-7 1h10m0-29h10m1 9h10m-2 0h10m-5-3h10m-6 8h10m-10 10h10m-3-25h10m-10 16h10m-7-14h10m-5 27h10m-9-5h10m-9 2h10m-3-13h10m3-13h10m3 27h10m-9 1h10m-2-9h10m-8 5h10m-8-16h10m-2-7h10m-7 7h10m4 4h10m-1590 64h10m240-10h10m-5-26h10m-4 34h10m7-20h10m5 9h10m-9-7h10m-10-16h10m-1 2h10m0 26h10m-10-10h10m-9-5h10m2 13h10m-5 2h10m-6 0h10m3-16h10m-8 21h10m-9-12h10m7-10h10m5-2h10m-7 1h10m-9 4h10m-3-13h10m7 25h10m21-9h10m-2 10h10m1-21h10m5-1h10m4 6h10m62-12h10m205 10h10m11 23h10m46-14h10m-4 14h10m-6-26h10m22-3h10m1 6h10m33 12h10m-8 3h10m21 9h10m36-26h10m-7 10h10m4-14h10m93 24h10m15-24h10m75 20h10m-9-15h10m30 20h10m-2-9h10m12 10h10m-3-27h10m10 19h10m-6 10h10m-6-24h10m-8-1h10m-4 8h10m-8 21h10m-7-18h10m32 1h10m-10-1h10m2-4h10m-5 1h10m11 18h10m-8-33h10m1 8h10m1 17h10m22-17h10m4 25h10m-4-3h10m-8-21h10m-3 12h10m-9-20h10m-5 12h10m-7 12h10m5-15h10m-10 29h10m-1-10h10m4-26h10m-10 9h10m3 22h10m-5-34h10m-1641 72h10m-8 1h10m6-13h10m-3-17h10m288 29h10m-4 3h10m-10-8h10m0 1h10m-4 7h10m8-22h10m-3 0h10m-2-8h10m5 22h10m-1-15h10m-4 18h10m17-14h10m-6-3h10m-7-7h10m368-2h10m52 22h10m2-9h10m29 10h10m29-8h10m48-15h10m232-4h10m18 3h10m5 0h10m-9 26h10m4 1h10m11-14h10m-1-5h10m44 19h10m-9-2h10m-9-17h10m-4 5h10m-8 4h10m50-14h10m13 32h10m1-11h10m-1-23h10m8 1h10m-9 16h10m-4 16h10m11-30h10m4 0h10m-3 4h10m-6 26h10m4-30h10m-6-5h10m18 15h10m-8 19h10m0-14h10m-1386 54h10m80-34h10m23 29h10m9-6h10m13-10h10m382-7h10m189 20h10m-8-27h10m7 18h10m-5-10h10m-4-5h10m23 9h10m11 20h10m-5 6h10m-6-13h10m2 5h10m-9 1h10m-9-21h10m0 11h10m-1-9h10m44 7h10m19 19h10m89-19h10m-2-1h10m18 17h10m2-16h10m-7 14h10m-3-15h10m-2-6h10m-8-11h10m14-1h10m-6 26h10m2 10h10m6-33h10m-2 26h10m-4-30h10m-6 16h10m3 11h10m2-9h10m-6-6h10m-7 13h10m-6-12h10m7-2h10m0-4h10m-9 12h10m12-5h10m-5 24h10m-6-7h10m-7-6h10m-1 10h10m-10-4h10m6 7h10m-6 0h10m-9-31h10m-9 0h10m-5 13h10m-5 5h10m-9 6h10m10-5h10m3-9h10m-2 0h10m-1732 53h10m2 1h10m-9-7h10m-9-6h10m0-9h10m421-2h10m-1-3h10m585 18h10m1 4h10m-8-8h10m16 3h10m5-1h10m-10 3h10m-7-8h10m13-7h10m16 2h10m-7 21h10m-7-19h10m2-3h10m-2 13h10m1 11h10m15-9h10m-9-1h10m-2 6h10m17 2h10m11-15h10m0-7h10m13 7h10m-5 14h10m-6-8h10m-8 6h10m114 8h10m1-1h10m-7-21h10m-6 25h10m17-27h10m-4-7h10m-6 20h10m-6-6h10m-7-11h10m-6 25h10m0-30h10m31-3h10m-5 12h10m10-6h10m0 29h10m-4-22h10m-4 23h10m-9-13h10m6-12h10m-7 0h10m4 28h10m8-36h10m5 2h10m-9 16h10m-6-21h10m-10 15h10m6 7h10m-4-6h10m-1 7h10m18 2h10m-1754 22h10m979 32h10m-3-39h10m5 39h10m50-37h10m-10 25h10m-6 7h10m-6 2h10m15-34h10m45 17h10m64 8h10m2-11h10m0-15h10m5 23h10m4 11h10m3-1h10m-2 1h10m1-26h10m9-1h10m47 20h10m7-3h10m11-14h10m11 4h10m24 7h10m-6 17h10m25-19h10m-2-7h10m-6 25h10m32-25h10m-10 0h10m17 18h10m1-31h10m-5 37h10m-8-2h10m-10 0h10m7-11h10m2-20h10m-6 25h10m-2-6h10m-8 14h10m7-18h10m-3-4h10m-6 4h10m20 13h10m-8-20h10m9-6h10m-1 6h10m2 17h10m-1-2h10m-840 48h10m35-14h10m4 10h10m31-20h10m-9 26h10m-8-37h10m-7 38h10m-2-23h10m10-5h10m60 6h10m14-9h10m32 10h10m-3 16h10m-1 6h10m0-36h10m-8 16h10m10-14h10m-10 10h10m50 10h10m-4-25h10m0 2h10m-9 7h10m1 26h10m4-4h10m-3-6h10m5-7h10m27 19h10m-7-4h10m52-2h10m1-1h10m-7-16h10m5 15h10m8-5h10m-5-16h10m1 9h10m-9-4h10m12 0h10m20 21h10m-3-16h10m-9-14h10m-2-1h10m18 13h10m0 12h10m-8-22h10m-4 26h10m-4-16h10m11-7h10m-10 13h10m-4-12h10m2 16h10m8 7h10m-4-21h10m-1 23h10m-9-29h10m-1 4h10m12 15h10m20-2h10m-872 35h10m-6 11h10m-4 8h10m-1-12h10m2 9h10m-1-31h10m4 5h10m8 3h10m-9 24h10m-10-12h10m-6 8h10m3 6h10m-9-25h10m11 16h10m0-23h10m-9 4h10m18 2h10m-9 7h10m-8 14h10m-7 3h10m-10-10h10m11 14h10m2-36h10m-7 20h10m-9 6h10m19-26h10m-3 15h10m9-2h10m-9 4h10m4 6h10m28-17h10m-4-5h10m7-4h10m35 23h10m-1-13h10m-6-6h10m2 13h10m14 12h10m-5 5h10m-3-12h10m-3 9h10m-5-27h10m-5 11h10m17 14h10m-5-2h10m9-27h10m18 35h10m43-14h10m-8-17h10m-8 28h10m-10-28h10m1 7h10m-6-8h10m13 20h10m1 15h10m-4-32h10m40-2h10m13 33h10m-2-30h10m-5 2h10m1 13h10m1-18h10m-7 35h10m-7-14h10m-10 0h10m5-22h10m-5 34h10m-3-14h10m-8-16h10m-5 19h10m30-21h10m-5 7h10m-9 0h10m-8-8h10m-9 32h10m8-18h10m3 15h10m0 2h10m-894 35h10m2-12h10m4 1h10m31-1h10m4-2h10m-9 23h10m-5-34h10m-6 9h10m2-3h10m-9-11h10m-9 34h10m14-25h10m-3-2h10m8 19h10m1 1h10m14-21h10m6 18h10m8-6h10m-8 8h10m25-6h10m-8 6h10m-7-15h10m-10 27h10m-6-4h10m5-7h10m6-3h10m-9-21h10m2 35h10m-4-5h10m22-14h10m3 5h10m-6-24h10m3 11h10m-1 16h10m-7 1h10m-1-20h10m-6 11h10m-5-1h10m-6 13h10m0-17h10m-9 2h10m12 21h10m-9-25h10m-9-9h10m-8-2h10m-9 9h10m0 9h10m-3 4h10m-10-20h10m-6 29h10m-7-20h10m-7 5h10m-7 14h10m-7-5h10m-9-3h10m7 8h10m6-24h10m-8 5h10m4 19h10m27 3h10m-9-16h10m5 10h10m-8-4h10m-4-23h10m14 34h10m-5-19h10m-7 0h10m-6 14h10m1-3h10m13-25h10m10 23h10m3-20h10m3 31h10m-2-17h10m17-16h10m0 24h10m17-15h10m2 26h10m9-36h10m-8 26h10m-8 7h10m1-21h10m-8 5h10m-8 3h10m11-12h10m5 0h10m3 20h10m11 5h10m-901 34h10m6 5h10m2-2h10m-9-24h10m-9 28h10m-4-32h10m7 12h10m-9 1h10m0-8h10m16 0h10m3 10h10m-5-16h10m-9 30h10m-4-22h10m-8-6h10m-2 18h10m-8-12h10m-1 28h10m12-5h10m-9-5h10m-9-12h10m-9 1h10m-7 19h10m-7-19h10m4-3h10m4 23h10m-2 1h10m6-8h10m12 6h10m-9-3h10m-5 3h10m10-1h10m31-14h10m-3-15h10m27 19h10m-3-3h10m1-23h10m25 31h10m-10 5h10m13-12h10m-3-23h10m-8 9h10m-8-4h10m-2 2h10m-9 4h10m-10 13h10m-1-20h10m6 10h10m1-8h10m-6 15h10m-10 0h10m-6-20h10m-8 37h10m-8-22h10m-8 1h10m-7 1h10m-6 16h10m-2-27h10m-4 9h10m-6 11h10m9 10h10m5-20h10m-8-10h10m1 22h10m-2-19h10m-1 5h10m-9 5h10m-7-17h10m-10 30h10m-5-28h10m2 8h10m-8 21h10m-7-22h10m4-12h10m-7 26h10m-4-17h10m-7 19h10m-3 9h10m7-13h10m-3 5h10m-6-19h10m-4 14h10m7 4h10m1 3h10m-9-17h10m10-4h10m20-4h10m19 26h10m-8-2h10m-1 0h10m4-7h10m-5-22h10m-4 26h10m-8-24h10m-7-2h10m0-1h10m-7 21h10m0 8h10m-8-2h10m-5 8h10m11-17h10m-2 8h10m-8 6h10m2-18h10m-6 11h10m-1631 47h10m-2-8h10m-3-6h10m655-5h10m41-1h10m-5-12h10m-3 24h10m-8-10h10m4 3h10m-2 5h10m-10-15h10m2 16h10m-9-8h10m13-16h10m-9 1h10m-9-1h10m-2 8h10m-5 12h10m-6-3h10m-3 14h10m5-16h10m13 17h10m-7-6h10m0-18h10m1-3h10m-9 22h10m6-26h10m-6 37h10m-6-13h10m4-6h10m-4 12h10m-5-29h10m3 16h10m8-17h10m-5 11h10m-8 23h10m-8-11h10m-10 11h10m15-22h10m-10 24h10m-4-19h10m-8-11h10m-1 27h10m-4-25h10m2 20h10m-7-22h10m3-1h10m-5 29h10m-8 4h10m4-37h10m-5 19h10m-10-12h10m-2 25h10m6 4h10m-7-32h10m-8 10h10m1-9h10m4-2h10m-5 6h10m-3 24h10m-9-20h10m17 0h10m-8 17h10m8-3h10m-9-10h10m-4-2h10m-10 16h10m-9-19h10m0 0h10m-9 2h10m-4-6h10m-4-3h10m-7 10h10m0-12h10m-6 19h10m16-21h10m6 23h10m-6-25h10m-3-1h10m-4 12h10m-6 19h10m-1-26h10m7-1h10m1 3h10m-8 23h10m-4-4h10m-1-18h10m-8 8h10m-4 2h10m27-2h10m6 2h10m23 9h10m46-2h10m-4 8h10m0-22h10m-9-10h10m-7 10h10m-6-5h10m-8 24h10m-7-23h10m-6-6h10m-9 18h10m3 6h10m7 8h10m-10-28h10m-5 25h10m-9-12h10m-10 10h10m-7 9h10m-8-20h10m-10 1h10m-9 13h10m7-8h10m-2-20h10m12 24h10m-942 48h10m0-10h10m20-3h10m-5 12h10m-7-5h10m-9-12h10m-10 13h10m-4-7h10m-5 3h10m-7 5h10m2 6h10m3-13h10m10-13h10m-8 16h10m4-9h10m5 1h10m-9-9h10m10-2h10m-7 12h10m-8 6h10m-10-4h10m3-2h10m2-17h10m-1 0h10m-4 34h10m-9-31h10m-7 5h10m-9 18h10m-3-12h10m5 7h10m7-13h10m1 22h10m-5-23h10m5-4h10m9 1h10m-6 12h10m-6-9h10m14 20h10m-2-6h10m-9-13h10m-10 9h10m27-3h10m-10-11h10m12 19h10m12-16h10m-9 14h10m1 6h10m-9-13h10m-4 19h10m-10 0h10m-9-8h10m-8-11h10m11 19h10m-5-34h10m0 37h10m-7-5h10m-7-11h10m-8-3h10m7-19h10m-5 28h10m-6 8h10m5-4h10m-1-15h10m-4-5h10m-8 4h10m-7-6h10m-1 13h10m-4-19h10m-10 21h10m-1 8h10m-10-20h10m-10 2h10m8-10h10m3 17h10m-9-14h10m-1 27h10m-6-20h10m5-6h10m-8 0h10m-4 12h10m3 15h10m-6 2h10m-6-2h10m-6 0h10m0-3h10m4-7h10m2-13h10m2-12h10m6 31h10m1 2h10m-7-29h10m-8 24h10m-2 6h10m44-14h10m-10 7h10m-9 2h10m-3-16h10m-3-7h10m-6 25h10m-7-9h10m-2-2h10m-5-7h10m6-3h10m-7 18h10m-10 1h10m-1 9h10m13-39h10m-9 1h10m-8 13h10m17 4h10m2 17h10m1-4h10m-1578 39h10m214 8h10m356-21h10m16-13h10m-5 8h10m15-7h10m2 5h10m16 1h10m-8 5h10m-2-5h10m-5-9h10m7 2h10m1 11h10m2 14h10m-6-15h10m0-13h10m9 33h10m-8-7h10m1 6h10m-9-2h10m4-28h10m-10 35h10m-5-10h10m-6-25h10m-2 28h10m-1 5h10m-9-25h10m-9-5h10m-7 1h10m-9 16h10m-5-18h10m-9 12h10m-4 10h10m-10-2h10m2 14h10m-9-33h10m14-2h10m-7-4h10m-6 28h10m2-25h10m5 0h10m-7 22h10m-9-20h10m-5 3h10m17 0h10m10 10h10m8-17h10m15 27h10m-4-7h10m-4-11h10m-3 1h10m9 20h10m-8-14h10m-6 15h10m-6-4h10m3 3h10m22-20h10m19 0h10m5 2h10m-2-11h10m46 1h10m14 22h10m8-18h10m-9-2h10m-9-1h10m9 26h10m24-2h10m-4 10h10m-5-31h10m-4 24h10m7 1h10m-3-14h10m-4-6h10m-10 22h10m-7-9h10m-6-9h10m-7-5h10m-7 25h10m5-18h10m-9-15h10m-9 34h10m9 2h10m7-8h10m25-22h10m-9 3h10m-7 6h10m-9 2h10m-7-8h10m-3 16h10m-10 7h10m-9-27h10m-6 20h10m1-27h10m-9 18h10m-9-9h10m7 12h10m30-5h10m-6-10h10m-10 14h10m-2-5h10m-5-5h10m-1-3h10m-1413 71h10m6-8h10m-7-8h10m-8-1h10m2-8h10m-9-6h10m317-8h10m114 26h10m-8 2h10m-3-1h10m6-8h10m-7 6h10m17-16h10m-2-5h10m-1-2h10m-8 24h10m13 11h10m-6-31h10m-2 26h10m2 3h10m-5 3h10m-3 0h10m-8-8h10m-5-20h10m-7 9h10m30-18h10m-10 11h10m-6-1h10m-5 21h10m-5-28h10m-6 18h10m-6 7h10m-5-7h10m6 4h10m5-21h10m-7 30h10m-9-26h10m-6 9h10m10-10h10m-3 30h10m1-23h10m-1-4h10m14-7h10m9 22h10m1-18h10m-7-8h10m-3 5h10m0 13h10m-5-1h10m-8 8h10m9-15h10m-2 13h10m2-14h10m-9 29h10m-5-10h10m7-6h10m-10-5h10m-1 0h10m-10-11h10m57 31h10m42-5h10m-2-29h10m7 10h10m4 23h10m-5-27h10m20 23h10m-6-9h10m-1 12h10m7 0h10m29-12h10m-1-2h10m-5-9h10m-8-1h10m12 6h10m-8-6h10m2 5h10m-4 11h10m-9-22h10m-10 32h10m-5-33h10m-8 24h10m-9-4h10m-10 10h10m-6-9h10m-2 14h10m-10-33h10m-9 20h10m-8-1h10m-10-9h10m-8 20h10m-6-10h10m-5-22h10m-9 7h10m-6-2h10m-8 2h10m-10 4h10m0 22h10m0-31h10m-9 12h10m-9 17h10m-3-11h10m-9-7h10m-6-14h10m-5 28h10m-5-14h10m-5-1h10m-6-3h10m-9 8h10m-7 15h10m0-7h10m-10 10h10m10-1h10m3-1h10m-10-36h10m6-1h10m-1707 51h10m5 25h10m-1-8h10m1-4h10m-9-15h10m-8 10h10m13 6h10m27-2h10m87 12h10m50-31h10m-5 17h10m-1-11h10m18-4h10m-6 15h10m26-5h10m-9 9h10m-4 4h10m-4-21h10m-2 21h10m-7-17h10m-6 19h10m371-1h10m-8-11h10m-5-3h10m-2 6h10m-3-3h10m-9 11h10m-9-8h10m-3 16h10m-6-35h10m-10 33h10m-9-1h10m-7-3h10m-6-19h10m-6-6h10m-7 10h10m-10 19h10m-2-28h10m-8 19h10m38-19h10m-1-1h10m4-5h10m0 10h10m-4 4h10m-10 17h10m-5-13h10m-7 4h10m11 12h10m-1-10h10m4-12h10m12 8h10m-9 12h10m-6-33h10m-8 21h10m2 7h10m-7-11h10m7 14h10m16-19h10m-5 2h10m-1-10h10m-9 17h10m-7 11h10m-8-23h10m2 19h10m-6-16h10m-4 25h10m-3-36h10m25 27h10m14-24h10m-3-3h10m75 28h10m-5-21h10m-7-3h10m-2-2h10m42 10h10m4 3h10m-8 21h10m-8-24h10m60 9h10m-4-10h10m14-6h10m-7-3h10m20 14h10m-10-15h10m33 2h10m-5-2h10m-8 12h10m-1 21h10m-7-15h10m9 11h10m-9-25h10m-8 31h10m-5-19h10m-6 19h10m2-13h10m-10-8h10m4 19h10m-9-24h10m1-6h10m-4 32h10m-7-14h10m-8-2h10m7-21h10m-2 18h10m-6-2h10m-10 19h10m-8-18h10m2-4h10m5 23h10m2-20h10m5-11h10m-1699 72h10m5 0h10m-9-31h10m1 29h10m-5-2h10m-4-12h10m-2-9h10m-7 13h10m0-6h10m-10 19h10m-8-11h10m-10-1h10m9-14h10m-8 7h10m40 1h10m-6 17h10m78-28h10m37-7h10m7 6h10m-8 10h10m9-11h10m-8-6h10m-10 10h10m13-10h10m-3 0h10m-3 4h10m14 7h10m227 26h10m123-25h10m-5 3h10m5 8h10m-2-18h10m-3 25h10m4-15h10m-5 17h10m17-11h10m1 0h10m7-10h10m-9-11h10m-1 15h10m-8-14h10m6 32h10m-9-9h10m-5-19h10m5 3h10m-5 24h10m38 4h10m-7-34h10m-8 25h10m-5-18h10m-8 18h10m-5-10h10m-7 0h10m3 14h10m8-24h10m-5 13h10m-8 8h10m16 0h10m33-14h10m44-1h10m-3 21h10m-8-4h10m-8-2h10m2-24h10m-1 33h10m-2-5h10m-6-1h10m-10 6h10m-3-6h10m1 3h10m-5-9h10m-5-25h10m102 23h10m-7-14h10m9 1h10m0 17h10m-10-3h10m14 13h10m8-28h10m-9-1h10m-7-4h10m38 28h10m-6 5h10m1-28h10m11 1h10m18 19h10m4-16h10m-9-12h10m-10 27h10m-8 6h10m11 0h10m3-12h10m-4-18h10m2 2h10m-9 1h10m-5-9h10m-9 11h10m-9 22h10m-6-11h10m-8-22h10m0 11h10m9 22h10m-9 6h10m-9-26h10m-6 15h10m-9-15h10m-10-3h10m-5 10h10m-9 14h10m40-6h10m-1691 24h10m20 15h10m2 9h10m12-23h10m-7 8h10m33 4h10m21-19h10m585 32h10m-2-2h10m-5-26h10m39-6h10m-9 6h10m-8 28h10m-6-28h10m-8 16h10m-6 12h10m-8-23h10m5 24h10m16-8h10m12 1h10m-5 7h10m8-25h10m2-9h10m-2 12h10m1-15h10m-6 33h10m-9-14h10m8-7h10m-8 23h10m-6-27h10m-9-6h10m-8 35h10m-6-39h10m-9 30h10m13-27h10m-9 6h10m-7-5h10m-10 24h10m5-26h10m-10-1h10m9 34h10m-7-25h10m0 25h10m-7-35h10m-7 12h10m-9 12h10m-10-5h10m-3-5h10m-9 0h10m21 0h10m-5 7h10m22-21h10m20 16h10m13 14h10m-4 1h10m6-19h10m-7 25h10m-7-5h10m5 3h10m-10-8h10m-3-6h10m-5 2h10m1 4h10m2 6h10m-7-22h10m20 27h10m40-5h10m-2-1h10m15 3h10m6-26h10m-9 0h10m-10 8h10m11-3h10m-5 2h10m-8 21h10m-4-23h10m-4 24h10m-9-9h10m5-3h10m1 13h10m4-15h10m-9-1h10m-10 7h10m-6-19h10m-2-3h10m-9 16h10m2-22h10m-5 4h10m1 13h10m-7 7h10m-6 4h10m-7-26h10m3-2h10m-3 5h10m-1 31h10m-7-26h10m-10 10h10m-8-7h10m-5 21h10m-9-6h10m-9-18h10m-9 9h10m-2 10h10m11-12h10m-6-3h10m-4 19h10m6-16h10m3 13h10m-3-16h10m5 4h10m0 10h10m-10-5h10m-1720 33h10m89 0h10m625-5h10m28-1h10m28-8h10m5 34h10m-2-8h10m-1 6h10m-9-6h10m8-19h10m-3 27h10m-6-24h10m-5 25h10m-6-30h10m-8 17h10m4-5h10m1-10h10m-5 25h10m-5-11h10m3 14h10m-4-4h10m-3-9h10m-4 3h10m-2-27h10m-3 30h10m-7-13h10m-9-4h10m-10 12h10m-6 8h10m-7 0h10m-8-26h10m-4-1h10m-10 12h10m-2 2h10m-10 7h10m-9-28h10m-8 8h10m9 8h10m13 4h10m-7-9h10m-4 0h10m3 3h10m1-14h10m-6-1h10m5 21h10m-8-14h10m-5 8h10m-6-12h10m-5 2h10m6 3h10m-1 27h10m-9-12h10m3 10h10m-10-16h10m6 18h10m8-29h10m-1-2h10m12 13h10m-7-11h10m-8 24h10m-6-15h10m-10 10h10m-7-5h10m-1-16h10m-9 26h10m13 4h10m1-25h10m-4 20h10m7-18h10m-6-10h10m-9 38h10m-9-14h10m-7 12h10m-10-16h10m2 16h10m-9-26h10m-8 3h10m-6 17h10m-6-23h10m-3-6h10m0 8h10m8 19h10m-1 0h10m-8 6h10m-3 4h10m6-20h10m-3 15h10m-4-1h10m6-3h10m-9 8h10m5-29h10m7 22h10m-8-31h10m-9 39h10m-3-4h10m-7-5h10m4 4h10m-3-8h10m-7 0h10m-2-23h10m8 0h10m-10 35h10m-9-14h10m-10-12h10m1 0h10m-9-9h10m-5 12h10m-3-5h10m-7-9h10m-5 3h10m-5 22h10m-7 0h10m-6-23h10m-5 11h10m-8 1h10m-8-1h10m-9-14h10m-4 39h10m-1-1h10m-3-19h10m-4-3h10m-5-14h10m-6 7h10m-9 4h10m-5 17h10m-8 2h10m9-1h10m-6-8h10m1-23h10m9 31h10m-1-10h10m5-12h10m-1698 53h10m-7-15h10m23-7h10m29 39h10m-9 0h10m2-32h10m-10-7h10m16 12h10m-2 0h10m0 9h10m2-6h10m-9-5h10m617 9h10m6 6h10m32 2h10m4-26h10m19 19h10m27 6h10m-8-22h10m-8 21h10m-3 13h10m4-4h10m-8-23h10m37-11h10m-8 20h10m-8 6h10m-5-6h10m47 13h10m26-22h10m4 4h10m-2-15h10m8 37h10m7-14h10m-2-18h10m-6 31h10m13-17h10m1-12h10m2 2h10m-10 28h10m-2-32h10m-6 7h10m-9 6h10m21 21h10m-2-28h10m-8 17h10m6-28h10m18 6h10m-10-5h10m-5 25h10m37-14h10m-7 27h10m-7-27h10m-9 25h10m-7-1h10m-3-7h10m-9-9h10m4 8h10m-9 2h10m-8-5h10m0 7h10m3-18h10m-9 12h10m-9 10h10m7-8h10m-6 2h10m-3-10h10m4-1h10m-9 10h10m16-26h10m-2 23h10m23 6h10m-4-28h10m-6 28h10m-9-28h10m-3 4h10m15 17h10m-4 12h10m-6-25h10m-8 8h10m-9 8h10m-6-25h10m2 26h10m-9-1h10m-7-15h10m-7 17h10m-4-25h10m-9 22h10m-8-24h10m-8 14h10m0-17h10m4 31h10m0-14h10m6-13h10m-1679 60h10m0-23h10m3 15h10m4 7h10m4-12h10m-7 28h10m-3-4h10m-4-27h10m4 13h10m-8-2h10m-10 10h10m-6-20h10m13-7h10m666-1h10m-2 16h10m8 14h10m-4-17h10m12 13h10m-7-1h10m-2-20h10m9 3h10m-5 3h10m-9 27h10m-6-30h10m3 29h10m1-7h10m10 5h10m5-31h10m17 4h10m-6-1h10m4-2h10m-5 8h10m-5 15h10m4-28h10m-10 14h10m-7 24h10m-6-34h10m-2 19h10m-4-23h10m-3 12h10m4 8h10m-3-8h10m2 6h10m-9 3h10m3 1h10m-9-13h10m-1 12h10m4-3h10m11-16h10m-10 11h10m-3-4h10m9 3h10m4 14h10m2-9h10m23 0h10m4-4h10m5 5h10m-6-19h10m-10 16h10m-9-1h10m5-6h10m6 27h10m-8-33h10m6 10h10m3 4h10m-10 9h10m52-16h10m15-10h10m-8 4h10m-9-3h10m4 24h10m-9-10h10m10 6h10m-9-7h10m-9 10h10m-6-20h10m-10-1h10m-9 4h10m1 10h10m-2 13h10m-5 4h10m-9-2h10m-9-20h10m-9-5h10m-8 8h10m1 11h10m-6-23h10m16 24h10m-7 3h10m-7-4h10m-5-15h10m-10-10h10m-10 26h10m-10-10h10m-9-4h10m-1 9h10m-7-1h10m-9 2h10m2-17h10m28-1h10m-10 27h10m-8-29h10m13 0h10m-1603 50h10m-3 10h10m-5 14h10m7-17h10m5 15h10m-7 1h10m-1-36h10m41 32h10m-10-7h10m566 13h10m45-10h10m-1-11h10m5-17h10m13 10h10m-4 0h10m-1 14h10m89-18h10m16 9h10m15 20h10m-7-17h10m4 19h10m-3-14h10m-4-12h10m15 19h10m26-30h10m78 26h10m25 6h10m2-4h10m-9 0h10m1 0h10m2-26h10m5 8h10m23 22h10m-2-17h10m116-7h10m-3 3h10m-8 5h10m-1-1h10m-7 6h10m12-17h10m-2 6h10m-8 4h10m-9-5h10m13 4h10m21 20h10m29-30h10m-1552 57h10m14 10h10m14-17h10m-9 13h10m31-3h10m10-14h10m23 26h10m482-9h10m17-10h10m3 12h10m-7-10h10m12 16h10m30-19h10m-8 21h10m26-34h10m-6 3h10m0 34h10m16-22h10m50 11h10m-7-14h10m7 18h10m27 4h10m6-15h10m7-3h10m4-14h10m-4 30h10m2-12h10m56-13h10m4 13h10m61-4h10m61-3h10m-1172 51h10m4-5h10m-2-19h10m-7 16h10m-9-14h10m-4 21h10m-2 14h10m10-28h10m5 11h10m-8-8h10m24 16h10m-7 8h10m0-9h10m-7 0h10m3-1h10m-9 1h10m-8-5h10m-10 6h10m17 3h10m91 0h10m-9 5h10m109 0h10m14 0h10m-9-1h10m-9-10h10m38-1h10m2 0h10m23-12h10m26-14h10m193 9h10m93-4h10m30 31h10m40-11h10m30-3h10m-5-9h10m-8-2h10m20 8h10m-6 8h10m26-7h10m-4-5h10m53 0h10m-1140 29h10m-2 13h10m145-3h10m54-11h10m35 20h10m-4-11h10m51 10h10m-6-20h10m-4 4h10m27 0h10m65-5h10m495 7h10m-180 103h10m32-23h10" stroke="#000" stroke-width="10" fill="none" transform="scale(.1)"/>
<path d="M4990 134h11m14 16h11m91 9h11m-133 4h11m13 6h11m11 20h11m3-9h11m-5-15h11m32 15h11m-6 15h11m2 0h11m-3-14h11m-3-9h11m11-5h11m-193 59h11m40-17h11m-5 10h11m-7-19h11m-9 16h11m-7 15h11m-6-28h11m-4 30h11m-10-10h11m-5 13h11m-1 2h11m-7-20h11m1-8h11m-2-3h11m-10-1h11m-5 33h11m6-14h11m-6-8h11m-7 3h11m11-7h11m18 24h11m-212 34h11m22-26h11m7 32h11m10 0h11m-10-12h11m-6 4h11m-5-12h11m-2-13h11m-9 4h11m-3 29h11m-4-2h11m-6-24h11m-8 22h11m-11-25h11m-7 6h11m-9 19h11m-3-31h11m-8 2h11m-1 6h11m-8 3h11m-7 2h11m6-7h11m-6-7h11m-9 24h11m-11-5h11m-2-10h11m8 17h11m-6-2h11m-907 45h11m715 1h11m-11-4h11m-5-21h11m0 5h11m-5 4h11m-8-1h11m-6 1h11m-6 0h11m-6 16h11m6-17h11m-11-5h11m-10 14h11m0-13h11m0 17h11m3-20h11m-7 24h11m-1-5h11m-9-2h11m-11-3h11m-8 13h11m-9-6h11m2 6h11m-11 0h11m-10-23h11m3 12h11m4-6h11m-11 11h11m6-6h11m18 4h11m-1075 43h11m39-5h11m13 7h11m-10 7h11m-9-23h11m-1-11h11m-4 4h11m-10 18h11m-7 9h11m-9-13h11m-10 17h11m-9-20h11m0 1h11m-8-2h11m-10 4h11m-10-11h11m-3 7h11m-11-10h11m-6 13h11m-6-20h11m-1 18h11m-10-13h11m-10 31h11m-9-22h11m-11-3h11m8 27h11m-8-13h11m-9-8h11m-9 4h11m21 13h11m25 4h11m601-36h11m-7 21h11m20 8h11m-11 2h11m-6-1h11m-3-28h11m-11 3h11m-6 15h11m-8-6h11m-5-6h11m-8 21h11m-11-16h11m-4 13h11m-3 3h11m-8-3h11m-10-24h11m-11 11h11m-5 1h11m-9 14h11m-7 0h11m-9-14h11m-1-17h11m-9 15h11m-11-5h11m10 21h11m-3-13h11m-10 7h11m-8-13h11m-5 21h11m-2-32h11m-8 24h11m53 0h11m-2 8h11m-10-24h11m-1069 54h11m-3-14h11m5 26h11m-7-15h11m-7-1h11m-1 4h11m10-21h11m-5 35h11m-8-28h11m-8-5h11m-8 0h11m-10 8h11m-8 6h11m-11-4h11m-11 15h11m-5-23h11m-3 31h11m-4-17h11m-8-19h11m-7 15h11m-7-7h11m-5 15h11m11-15h11m-8 23h11m-10 5h11m28-32h11m10 1h11m25 30h11m550-22h11m6-13h11m0 25h11m5-14h11m1-8h11m2 2h11m22 16h11m-11 6h11m4-3h11m-8-18h11m2 27h11m-5-11h11m-11-6h11m-3-13h11m24 26h11m-1-24h11m-6 22h11m15 3h11m4-10h11m2 10h11m-5 2h11m-1 5h11m-1025 12h11m-4 2h11m18-9h11m27 6h11m32-6h11m2 16h11m16-19h11m0 12h11m6-5h11m0 7h11m-9 10h11m8-18h11m11-1h11m-3 33h11m-10-15h11m514-17h11m-2-4h11m-3 26h11m-8-3h11m0-25h11m-4 38h11m-9-2h11m-4-34h11m-2 9h11m6 20h11m-8 5h11m-9-33h11m133 17h11m-10 11h11m17-20h11m-8-6h11m6 1h11m-3 3h11m9 8h11m-11-6h11m-11-3h11m-847 60h11m-9 1h11m-7-14h11m-4 12h11m-2 10h11m-6-20h11m5-17h11m406 24h11m-6-7h11m4-8h11m-9-5h11m16 33h11m-6-5h11m2-13h11m-11 2h11m1-5h11m-3 22h11m23-6h11m-1-5h11m12-15h11m-10 5h11m5 14h11m22 1h11m-3-11h11m53-9h11m0 7h11m-6-5h11m-819 26h11m36 2h11m-1 3h11m100 30h11m334-12h11m-9 12h11m-8-12h11m4 9h11m-11 7h11m-7-11h11m-7 5h11m-6-20h11m-2 1h11m-11 11h11m-8-21h11m-9 34h11m-6-8h11m-7-21h11m-3 19h11m-7-12h11m-10 16h11m14-30h11m-11 28h11m-10-25h11m-4 1h11m-7-4h11m-9 21h11m1-19h11m-1 20h11m-9-7h11m-6-7h11m-10-6h11m0 11h11m4-7h11m-7 9h11m11-3h11m64 13h11m-1-24h11m-10 25h11m-714 37h11m9-19h11m24-4h11m21 19h11m6 1h11m-10 4h11m-7-22h11m278 1h11m9-1h11m-1 11h11m-1 9h11m-10-1h11m-10 10h11m9-30h11m-8 20h11m9-12h11m-8 9h11m-1 0h11m-3-1h11m-6 8h11m-5 1h11m-9 0h11m-10 5h11m3-4h11m-6-5h11m0 6h11m-10-22h11m-9 31h11m-11-26h11m0-6h11m-2 2h11m-2 11h11m-11 15h11m-6-14h11m45 11h11m25-21h11m9-8h11m-1 2h11m-6-4h11m26 32h11m-716 23h11m26 4h11m76-8h11m202 18h11m1-8h11m-9-10h11m1 1h11m17 16h11m5-23h11m1-6h11m-4 9h11m-8 4h11m-8-11h11m-9 32h11m-10-21h11m18 5h11m-8 8h11m-10-24h11m-1 35h11m-11-9h11m-10-8h11m-3-3h11m-4 15h11m-10-23h11m-9 7h11m4-15h11m-2 3h11m31 22h11m-2 9h11m-7-33h11m-6 12h11m-7 17h11m8-1h11m2 6h11m14-15h11m47 10h11m-663 13h11m-3 20h11m-6-6h11m-10 9h11m0-14h11m59 11h11m176-8h11m4 13h11m-2-27h11m-10 3h11m7 15h11m-2 9h11m-10-28h11m-9 4h11m-10 7h11m-1-12h11m-6 13h11m-2 20h11m-9-4h11m-2-24h11m-6 32h11m-10 2h11m-11-11h11m-4-26h11m1 22h11m-10 11h11m-9 0h11m-10-17h11m-2-14h11m3 17h11m9-10h11m-5 2h11m-5 11h11m3 5h11m-6-6h11m4-4h11m-3-14h11m23 29h11m4-2h11m35-14h11m15-10h11m7 29h11m7-13h11m-11-12h11m-10-9h11m-641 44h11m20 31h11m-5-21h11m-9 12h11m11 3h11m181-17h11m-9 23h11m-7-17h11m-4-13h11m-10 4h11m-11 2h11m1 18h11m-2-2h11m-10-22h11m-6 5h11m-3 19h11m1-1h11m-5-27h11m-9-1h11m0 4h11m5 4h11m-10 27h11m-3-9h11m-9-25h11m-6 11h11m16 11h11m28-8h11m-8 16h11m-8-13h11m5 11h11m-9-31h11m78 12h11m7-8h11m13 14h11m4-2h11m40 21h11m-1113 5h11m0 9h11m-9 5h11m485-10h11m-8-2h11m-6 10h11m2 11h11m-9 3h11m-1 3h11m149-4h11m8-26h11m-3 7h11m-9 5h11m-5-3h11m-9 10h11m3 12h11m-8-26h11m2-6h11m-6 21h11m-6 1h11m4-5h11m2-1h11m-8-11h11m-9 18h11m7-8h11m-9-10h11m-7-5h11m16 21h11m-7-3h11m-7-2h11m-10 13h11m-11-12h11m20 8h11m6-18h11m7 26h11m-11-15h11m-9-12h11m-9 30h11m10-22h11m43 14h11m30-14h11m-8-13h11m-8 7h11m-7 22h11m3 7h11m5-28h11m-912 60h11m346-28h11m-3-2h11m-10 1h11m-1 22h11m-3-22h11m-1 22h11m98-5h11m-9-2h11m3 11h11m-5 8h11m0-8h11m2-5h11m-3-7h11m12-6h11m-9 21h11m0-26h11m-6 3h11m5 0h11m-11 14h11m-1-11h11m2 28h11m5-27h11m-2 21h11m32-8h11m15-1h11m35-13h11m50-6h11m-9 19h11m-5 10h11m-3-26h11m-5 6h11m41 15h11m28-5h11m-1059 40h11m41 8h11m2-8h11m388 6h11m62-3h11m77-16h11m11-5h11m-9 34h11m-10-31h11m-5 3h11m-11-3h11m1 24h11m24-32h11m-7 3h11m-3 12h11m-10 3h11m-6-15h11m-4 5h11m-5 24h11m-3-14h11m-5 12h11m-6-5h11m-4 3h11m32-21h11m16 13h11m7-6h11m0 22h11m-7-3h11m-8-23h11m13-2h11m-2 12h11m-11 15h11m25-5h11m7-28h11m47 1h11m6 7h11m12 6h11m20 13h11m58 6h11m32-26h11m56 20h11m-1256 27h11m24 23h11m-11-25h11m3-14h11m-10 21h11m234 6h11m232-20h11m-2 9h11m1-3h11m13 9h11m-10 3h11m28-14h11m-1 8h11m10 2h11m23 14h11m1-17h11m0-1h11m-2-9h11m1 31h11m8-12h11m-9-19h11m15 5h11m-4-4h11m-10 20h11m-9-8h11m-4-13h11m10 30h11m-6-37h11m5 26h11m16-8h11m-4 3h11m-6-10h11m2 7h11m-6 13h11m-5-18h11m22 1h11m-10 24h11m9-14h11m-9-15h11m-2 0h11m49-4h11m-6 17h11m12-2h11m1-13h11m70 0h11m1 27h11m14-4h11m6 7h11m-10-5h11m-1-26h11m-9 7h11m-9 2h11m-5 13h11m-4 5h11m-9-5h11m2-14h11m0-3h11m9 24h11m-1015 33h11m-8-12h11m-3-15h11m-8 27h11m4 8h11m-5-16h11m-3 14h11m-5 0h11m268-33h11m26 32h11m-1 2h11m-6-9h11m-5 9h11m-4-3h11m3-7h11m30-14h11m1 23h11m5-29h11m-4 14h11m7 7h11m-5-13h11m34-3h11m-4-2h11m1-7h11m-3 2h11m-5 18h11m33-13h11m-11 26h11m32-22h11m-2 24h11m-8 2h11m-11-24h11m0-11h11m-9 24h11m-4-5h11m85-5h11m-8 9h11m-11 2h11m25-7h11m8-18h11m0 18h11m-11-10h11m-6 27h11m1-37h11m-10 19h11m-8-11h11m-9-9h11m-9 1h11m-7 18h11m-10-1h11m-9 7h11m-7 4h11m4-20h11m3-9h11m-5 24h11m-7 4h11m-8-17h11m-9 6h11m-7-9h11m-8-2h11m-3 20h11m-9 4h11m-7-20h11m-10 24h11m-2 1h11m-8-1h11m12 1h11m-7-25h11m16-3h11m-1318 54h11m206 7h11m54-21h11m7-3h11m-7 32h11m-6-13h11m0 12h11m-9-12h11m311-14h11m-1 29h11m6 0h11m-8-34h11m24 9h11m4 17h11m-1-11h11m-4 1h11m2 9h11m4-29h11m-5 23h11m7 13h11m-4-26h11m-9 25h11m-8-22h11m11-5h11m26 18h11m15-16h11m5 13h11m0-19h11m57 22h11m2 9h11m33-17h11m-5 16h11m18 1h11m18-16h11m0 9h11m-11-9h11m-7-16h11m5 20h11m-10-10h11m-8 24h11m-2-32h11m13 15h11m-5 4h11m-6-25h11m-11 2h11m-5 7h11m-7 5h11m-10 1h11m-6 6h11m-9-14h11m-7 21h11m-3-12h11m-10 20h11m11-24h11m-9-11h11m6 1h11m-9 22h11m-3-23h11m-1081 74h11m8-4h11m12 0h11m45 3h11m-8-5h11m-11-29h11m-3 12h11m313 15h11m-8-8h11m-9 19h11m13-11h11m18-19h11m-6 13h11m-5 5h11m-9-7h11m-8-8h11m-2 17h11m-2 11h11m5-21h11m-8-8h11m-3 17h11m16-20h11m-5 4h11m-9 10h11m-9-21h11m5 26h11m-9-4h11m2-1h11m-1 15h11m11-18h11m5 6h11m2 9h11m-10 3h11m-10 0h11m-10-18h11m-7 19h11m6-15h11m9 6h11m1 3h11m9-2h11m-11-22h11m-3 6h11m-6 10h11m-3-2h11m-8 2h11m7 4h11m-9 10h11m-9-15h11m-11 4h11m11-17h11m2 20h11m-3-6h11m16-19h11m10 21h11m2 1h11m-1-17h11m23 2h11m21 14h11m-8-21h11m17-4h11m19 7h11m6 26h11m-9-25h11m55 0h11m55 31h11m17-25h11m13-2h11m-1 11h11m8 15h11m-8-5h11m-1 0h11m-9-13h11m-2-14h11m16 29h11m-1363 26h11m-2 5h11m16-16h11m-8 12h11m-9-5h11m29 10h11m3 1h11m-2-1h11m-10-11h11m-9 17h11m-1 3h11m-2-9h11m-6-3h11m-9 3h11m36-2h11m252 7h11m37 3h11m19-3h11m-10 3h11m3-28h11m10 29h11m-11 3h11m-10-35h11m-1 2h11m2 7h11m-5 23h11m-3-5h11m9-3h11m-10-20h11m-7 1h11m-4 14h11m15-6h11m-9-16h11m-9 5h11m-8 2h11m-3 12h11m4-16h11m-10 31h11m-3-22h11m13 1h11m-3 14h11m-4 8h11m15-24h11m-9-3h11m-9 30h11m20-9h11m-2 3h11m-4-11h11m-1-14h11m-11 26h11m7-14h11m16 8h11m2-20h11m-9 18h11m-8 6h11m-3-24h11m15 19h11m29-24h11m-11 33h11m-1-1h11m-2-22h11m-4 4h11m-9 11h11m4-3h11m9 9h11m-6 2h11m-10-29h11m-9 3h11m18 22h11m34 7h11m-5-27h11m88 11h11m-6-7h11m3 3h11m-8 13h11m-7-3h11m4 1h11m12-11h11m13-16h11m2 30h11m-1-23h11m1-3h11m-3 2h11m6 3h11m6-3h11m-7 1h11m-1366 42h11m13 27h11m-8-38h11m-9 14h11m-1 1h11m-8 13h11m-8-24h11m6 1h11m-4 4h11m-10-1h11m-3 20h11m-3-2h11m-11 11h11m-8-28h11m-10-2h11m-11 8h11m-7 0h11m5 12h11m-1 1h11m-10-10h11m-5-18h11m-10 38h11m-10-27h11m-7 7h11m-8-19h11m-1 21h11m-9 18h11m32-14h11m26-9h11m24 1h11m181 14h11m11 8h11m15-31h11m-10 24h11m-5-18h11m-10-8h11m-1 25h11m-9-4h11m-7 5h11m-4-25h11m-11 32h11m-11-32h11m10 2h11m-7 30h11m3-23h11m-7 12h11m-2-1h11m-9-4h11m-5-15h11m-8 5h11m17-7h11m3 16h11m0-4h11m3-10h11m-7 0h11m-4 26h11m-11-19h11m0-4h11m-9 17h11m1-21h11m58 15h11m-9-20h11m-6 34h11m-1-30h11m-5 11h11m-6 10h11m6-27h11m-6 1h11m-4 22h11m-4 8h11m21-21h11m2-8h11m-2 28h11m24-24h11m-2 6h11m42-12h11m104 32h11m5-11h11m79-3h11m19-10h11m-4 9h11m-1-2h11m15 22h11m-11-32h11m1 21h11m-2-23h11m-4 23h11m-2-21h11m-8 22h11m-1-20h11m12 22h11m-5 7h11m-1348 9h11m-1 18h11m-5-13h11m16-10h11m2 1h11m0 11h11m-7 21h11m-7-4h11m-2 0h11m-11-17h11m-9 25h11m-9-14h11m-9-7h11m-10 6h11m9 13h11m9-31h11m-11 12h11m-8 18h11m17-15h11m43-17h11m279 33h11m8-11h11m4-15h11m-7 3h11m4 13h11m-10 14h11m-1-31h11m3 18h11m-10 10h11m0-30h11m15 33h11m-2-30h11m-10-9h11m17 37h11m-8-24h11m2 16h11m-3-17h11m36-8h11m6 32h11m-9-18h11m-10 9h11m-9-27h11m-4 14h11m14 15h11m-7-17h11m-9 23h11m9-27h11m-3-6h11m-11 37h11m-3-34h11m-10 27h11m7-22h11m-5-7h11m-4 33h11m-9-21h11m23 7h11m-5 15h11m-11-37h11m-7 5h11m-10 26h11m59-8h11m29 3h11m9-25h11m40 9h11m41 12h11m-11-14h11m25-4h11m58-3h11m4-1h11m51 15h11m7 20h11m-2-21h11m-1635 45h11m258 15h11m7-20h11m4 6h11m8 5h11m-11-4h11m-4-5h11m-9 18h11m2-2h11m-11 1h11m-10 1h11m-6-21h11m-10 12h11m-5-13h11m-9-6h11m-6 2h11m-8 7h11m-9-3h11m-5 17h11m-3 9h11m31 1h11m36-37h11m261 9h11m50-3h11m11 20h11m-10-15h11m-9 4h11m3 17h11m72-13h11m10 4h11m-10-25h11m22 23h11m-5 16h11m7-3h11m-10-11h11m-6 13h11m6-14h11m-10 15h11m-3-28h11m3 16h11m29 11h11m11-2h11m55-2h11m-10-23h11m18-4h11m54 27h11m11-26h11m-7 15h11m-10 9h11m25-7h11m120-22h11m47 6h11m30 15h11m6 9h11m19-13h11m-8 9h11m-1662 39h11m128-17h11m149-2h11m82 13h11m20-9h11m1-1h11m456 3h11m2 0h11m19 3h11m1 21h11m13-30h11m8 2h11m-11-4h11m1 15h11m-6-7h11m8 14h11m-11 3h11m-2-32h11m-8 29h11m-2-19h11m-6 22h11m-8-5h11m-10-14h11m-11 25h11m-8-16h11m-1-8h11m-2 23h11m5-1h11m-4-8h11m1-19h11m-8 10h11m-6-8h11m-8-2h11m-9 28h11m-1-18h11m2 2h11m20 18h11m0-11h11m-9-26h11m8 25h11m21 10h11m26-23h11m11 7h11m34 2h11m11-12h11m16-3h11m75 12h11m-4-7h11m16-8h11m-3 12h11m-5 19h11m100 3h11m10-13h11m-1718 51h11m-3-17h11m364-17h11m-2 4h11m55 2h11m-2-4h11m531 11h11m1 13h11m3 0h11m20-6h11m7 10h11m16-33h11m33 31h11m-7-24h11m4 11h11m-8-11h11m-9 12h11m-3-9h11m-8 28h11m-8-4h11m-9-34h11m0 7h11m61 9h11m147 9h11m5 12h11m27-37h11m9 4h11m38 19h11m16-9h11m61 6h11m-10 4h11m35 1h11m1-19h11m18 29h11m-758 32h11m22 8h11m-10-9h11m-2-12h11m22 10h11m14 15h11m28-12h11m6 4h11m-8 5h11m4-1h11m-8-7h11m0-16h11m10 17h11m-2-22h11m-6 31h11m1-7h11m75-12h11m5-19h11m18 5h11m61 11h11m26 8h11m-10-8h11m51 0h11m7 8h11m-2-16h11m-10 25h11m-4-4h11m-11-13h11m2 18h11m31-9h11m3-20h11m8 29h11m14-8h11m-10-13h11m14 25h11m6-5h11m-2-17h11m18-6h11m-816 41h11m10 5h11m8 7h11m-10 7h11m3 3h11m-8-29h11m-5-3h11m-8 16h11m-6-5h11m-3 25h11m-10-20h11m-3-8h11m-10 8h11m-1 10h11m0 4h11m14 4h11m29-31h11m0 29h11m0-2h11m4-25h11m4 12h11m14 2h11m72-5h11m36 13h11m-5 0h11m30-7h11m114-17h11m25 2h11m-6-3h11m-7 27h11m-11 6h11m19-25h11m73-8h11m57 27h11m7-15h11m2 15h11m9-5h11m-857 51h11m4-11h11m-9-17h11m-1-6h11m5 34h11m-11-16h11m8-2h11m-2-9h11m0 5h11m-10 14h11m-6-23h11m-7 14h11m-3-1h11m35 0h11m-5 12h11m-10 8h11m-3-28h11m10 20h11m-7 3h11m-5-9h11m13-6h11m3-5h11m26 22h11m18-8h11m22-20h11m26 14h11m-6 7h11m37 8h11m6-23h11m-2-7h11m-4 26h11m53-19h11m41 12h11m7 6h11m0-31h11m114 27h11m-8-10h11m140 19h11m-882 12h11m48 25h11m4-12h11m-10 17h11m-1-33h11m-8 30h11m-10-4h11m23-12h11m11 13h11m-9-4h11m0 9h11m-2-17h11m-3 9h11m22-7h11m30-15h11m-8 20h11m37-27h11m-7 24h11m6-19h11m3 13h11m-3-4h11m-5 24h11m-3-11h11m6 10h11m39 2h11m5-31h11m-8 15h11m14-2h11m9 17h11m0-3h11m17-31h11m67-3h11m28 21h11m29-9h11m2-2h11m55 2h11m38 21h11m-9-10h11m-9-9h11m-2 0h11m38 12h11m-7 1h11m-920 48h11m-9-22h11m-7 19h11m7 3h11m-7-13h11m16-16h11m0 3h11m-8 9h11m0 19h11m7-17h11m-3 11h11m4-19h11m-5-9h11m0 34h11m31-30h11m-2-4h11m5 22h11m-7-16h11m22-8h11m-9-1h11m-4 0h11m36 14h11m18-14h11m41 19h11m5 11h11m48-3h11m-1-11h11m-9 8h11m2-25h11m9 26h11m22 1h11m-9-19h11m87 9h11m-7-17h11m28 10h11m131 7h11m24-10h11m18 26h11m-8-22h11m0 21h11m-5-29h11m-3 1h11m-3 1h11m6 29h11m-5-1h11m3 4h11m-1646 36h11m-6-17h11m-10 11h11m-11-15h11m-9 15h11m-10 1h11m-2-5h11m668 0h11m-5-17h11m-6-2h11m11 31h11m12-18h11m13 21h11m-4-3h11m-8-33h11m2 32h11m-9-13h11m-9-15h11m-1 19h11m3-13h11m-10 11h11m-10-22h11m-3 22h11m-9-16h11m-4 24h11m6 4h11m1-26h11m-6-9h11m16 28h11m-8 6h11m0-8h11m19-21h11m0 27h11m-11-14h11m-10 12h11m6-2h11m-7 6h11m53-2h11m-9 4h11m-6-23h11m125-6h11m21 16h11m76 11h11m3-17h11m175-9h11m17 23h11m1-10h11m-9-11h11m1 8h11m15 8h11m-9-19h11m1 23h11m0-16h11m15-2h11m-9 5h11m-969 61h11m2-32h11m-6 21h11m16-5h11m-2 10h11m-7 3h11m13-29h11m5 15h11m56 15h11m-9 1h11m-9-30h11m1-1h11m0 24h11m10-5h11m-8-18h11m12 10h11m-3 3h11m48 0h11m12 2h11m14-16h11m-6 17h11m-3 4h11m67 10h11m-1-15h11m12-15h11m-2 26h11m370-21h11m40-10h11m13 28h11m-3-1h11m-2-2h11m-1636 46h11m0-20h11m655 11h11m17-14h11m3 5h11m9 18h11m-6-13h11m-9-11h11m-2 22h11m12-6h11m-7-3h11m-10 14h11m-9-4h11m-8 6h11m-11-33h11m1 23h11m-10-17h11m9 11h11m17 15h11m7-10h11m3-25h11m-6 17h11m1-1h11m2-16h11m-3 2h11m-5 15h11m-11-8h11m-4 22h11m16-17h11m-11 4h11m11-19h11m-5 14h11m-2-7h11m10 9h11m22 16h11m25 4h11m-5 2h11m8-25h11m-4-8h11m39 4h11m31 4h11m319-4h11m4-5h11m-1 25h11m-8-26h11m5 26h11m-11-4h11m3-25h11m-9 14h11m-4 24h11m-9-39h11m-1596 40h11m14 13h11m7-2h11m44-6h11m76 26h11m-5-4h11m28 3h11m13-7h11m353-2h11m20-13h11m22 5h11m-10-9h11m12 13h11m16-17h11m28 22h11m25 9h11m-4-3h11m-7-6h11m11-20h11m-3-1h11m-10 32h11m0 0h11m-10-25h11m1 31h11m-7-10h11m-9-12h11m1 5h11m-6 6h11m-8 0h11m3-7h11m-2 11h11m6-10h11m-11-1h11m9-8h11m-6 12h11m2 5h11m31-16h11m32-2h11m-6 1h11m-1 14h11m368-26h11m96 28h11m-10 9h11m-11-14h11m0-3h11m-7 4h11m-3-14h11m-1660 58h11m0 6h11m-4 0h11m29-20h11m-10 19h11m144-11h11m-5 6h11m5-4h11m5 14h11m-9-27h11m-10-2h11m3 28h11m1-33h11m-11 8h11m-10-12h11m-7 38h11m-9-4h11m-1-30h11m-6 17h11m-11-3h11m1 9h11m0-18h11m8 16h11m331-3h11m35 10h11m-11-13h11m66-2h11m11-18h11m8 30h11m1-4h11m-4-14h11m-2 22h11m6-6h11m4-16h11m-9 23h11m10-35h11m2 35h11m-7-12h11m0-6h11m-5-14h11m30 35h11m-2-34h11m0-4h11m-5 27h11m25-15h11m13 14h11m97 12h11m318-6h11m30-22h11m14 20h11m27-30h11m-1700 74h11m34-11h11m2 16h11m-3-31h11m18 7h11m-11 10h11m-5-12h11m-8 2h11m7-7h11m-3 1h11m105-9h11m12 19h11m57-16h11m5 0h11m-6-3h11m118 39h11m277-27h11m-4 21h11m-6-26h11m73 15h11m7-11h11m-3 5h11m4 4h11m-11 2h11m-7-22h11m-1 26h11m-5-18h11m8-6h11m9 3h11m6-4h11m-4 17h11m23 19h11m30-21h11m21-14h11m-5 27h11m50-1h11m-10 4h11m299 5h11m36-35h11m2 27h11m51-25h11m-11-2h11m1 7h11m-4-7h11m-7 33h11m26-16h11m-7 6h11m-6-8h11m9-3h11m-1-4h11m-6-8h11m-1708 49h11m-9 21h11m6-18h11m27 4h11m22 3h11m-9 0h11m26 2h11m672 5h11m9-21h11m20 31h11m2-18h11m13 9h11m28 8h11m1-28h11m18 22h11m10-23h11m65 26h11m0-28h11m-3 22h11m1-14h11m-3-1h11m280 24h11m56-7h11m46-3h11m-4-11h11m-6-4h11m-10 2h11m1 0h11m2 19h11m70-8h11m-2-9h11m5-8h11m-7 13h11m-1730 52h11m27-14h11m-11-9h11m-7 6h11m-2-11h11m-10 15h11m1-14h11m-11 32h11m7 1h11m-4-30h11m4 15h11m-8-17h11m-4 19h11m16-2h11m-9-7h11m651 9h11m17-1h11m-2-19h11m16 9h11m17-8h11m5 25h11m-1 5h11m25-5h11m2-11h11m6 8h11m3-8h11m-7-4h11m-1 12h11m9-14h11m-1-14h11m17-1h11m35 3h11m20 19h11m-1 5h11m-7-23h11m2 31h11m62-15h11m53-3h11m147 4h11m-9 0h11m-5 6h11m1-5h11m4 7h11m8-22h11m8 21h11m15 7h11m-7-33h11m-10 26h11m1-4h11m-4-5h11m43 3h11m17-15h11m-4-4h11m4 16h11m-1720 29h11m8 25h11m-6-14h11m32 14h11m9-10h11m1-18h11m15 12h11m-7-8h11m22-6h11m643 3h11m1 0h11m38 18h11m29-12h11m-9 8h11m-1 15h11m17-9h11m5-18h11m-7 20h11m-10-19h11m-7 28h11m3-31h11m49 32h11m-9-22h11m31-16h11m-10 1h11m-10 17h11m-3-1h11m-3-9h11m-5-6h11m-3 2h11m-6-3h11m122 38h11m75-34h11m46 30h11m15-5h11m-3-21h11m7 22h11m-4 7h11m23-11h11m7-9h11m25-3h11m-6 22h11m-11-27h11m9 29h11m11-13h11m0 7h11m3-20h11m2-10h11m-11 10h11m-1658 27h11m14 21h11m37-21h11m-11 17h11m41-6h11m651 22h11m13-22h11m35-8h11m5 8h11m43-11h11m66 38h11m38-4h11m-3-31h11m28 29h11m36-30h11m4 15h11m17-15h11m0 25h11m31 0h11m106-16h11m49 17h11m70 2h11m-8-28h11m21 11h11m15 26h11m-10-18h11m15 4h11m28-8h11m11-4h11m-1657 66h11m55-9h11m-1-14h11m-9 13h11m11-27h11m4 18h11m9 8h11m661 0h11m24-23h11m-11 9h11m18 1h11m8-11h11m10 13h11m-10-8h11m-6-2h11m127 8h11m79 8h11m169-3h11m35-5h11m34-6h11m67 5h11m14-6h11m0 8h11m11-7h11m-9 17h11m16-11h11m-1579 56h11m5-29h11m-6 8h11m-9 8h11m-9-8h11m5-7h11m2 36h11m-6-13h11m12-19h11m21 25h11m472-1h11m27 0h11m128-7h11m2-12h11m90 26h11m29 0h11m-10-35h11m71 29h11m1-21h11m-1 8h11m94 1h11m26-16h11m-1208 38h11m18 17h11m-6-11h11m8 18h11m7 3h11m-1-18h11m10 27h11m12-31h11m36 8h11m-8 9h11m-6-4h11m16 13h11m27-2h11m160 1h11m39 7h11m52-8h11m1-18h11m-9-1h11m15-2h11m-2 9h11m5-12h11m30 2h11m3-9h11m35 0h11m210 12h11m62-12h11m-767 47h11m-3 1h11m-7-8h11m8 19h11m10-17h11m-11 5h11m-4 13h11m2-2h11m-8 3h11m-3-20h11m-9 8h11m-8-5h11m-9-1h11m12 16h11m-10-4h11m-9-4h11m3-8h11m-11 14h11m-3-10h11m-2 21h11m-7-20h11m-2 10h11m-5 5h11m-2-13h11" stroke="#25c425" stroke-width="11" fill="none" transform="scale(.1)"/>
<path d="M5182 197h10m1-11h10m-9 2h10m-15 60h10m-2 26h10m-947 35h10m12-16h10m9 13h10m869 4h10m0-15h10m-986 31h10m15 14h10m-1-3h10m3 12h10m8-27h10m1-2h10m18 36h10m16-8h10m-6-9h10m-5 17h10m765 3h10m17-30h10m-1 4h10m-10 0h10m2 11h10m-982 27h10m6-8h10m-1 30h10m-8-21h10m15-12h10m-1 35h10m-8-25h10m-5-3h10m6 18h10m-6-16h10m-6 20h10m-7 1h10m8 2h10m133-2h10m635 4h10m-4-9h10m12-20h10m-894 58h10m16-19h10m18 4h10m14 16h10m36-21h10m88 22h10m579-12h10m2 0h10m5-13h10m-594 58h10m-1 3h10m499 17h10m20-13h10m-9-10h10m-6 9h10m98-10h10m-599 49h10m2-1h10m377-3h10m31 7h10m52 0h10m-551 38h10m72-22h10m46 0h10m311 25h10m-8 4h10m-4 7h10m2-12h10m-443 28h10m-6 15h10m-3 4h10m394-20h10m-5-2h10m-419 66h10m8-22h10m-1 1h10m11 18h10m-6-1h10m40 3h10m259-12h10m-4 13h10m79-29h10m82 8h10m-494 58h10m296-28h10m76 17h10m-881 18h10m-1 8h10m494-2h10m14 5h10m2 15h10m-7 8h10m217-7h10m-4-23h10m-254 40h10m-1 0h10m4 10h10m17 1h10m-3 15h10m164-11h10m-8-11h10m-9-5h10m-7 34h10m-655 8h10m480 11h10m6 13h10m16 9h10m94-37h10m-636 51h10m6 17h10m22-28h10m474 17h10m15 6h10m61 3h10m24 0h10m40-1h10m48-20h10m156 9h10m-5 3h10m29 19h10m6-27h10m6 20h10m55-9h10m75 3h10m8 11h10m-925 30h10m-5-10h10m-4-3h10m16-12h10m302 9h10m0 25h10m1-18h10m8 21h10m-5-32h10m270 12h10m95-11h10m47 16h10m26 4h10m6 10h10m-1-36h10m55-1h10m-1240 57h10m250 8h10m410 5h10m4-21h10m171 28h10m134-11h10m41 10h10m43-15h10m247 6h10m25 12h10m-1205 34h10m14-13h10m18 16h10m450-5h10m-8 8h10m235-39h10m24 17h10m31-10h10m197 26h10m107-29h10m0 23h10m-7 6h10m1-3h10m1-2h10m0 4h10m10-23h10m2 11h10m35 14h10m-3 4h10m-1374 3h10m16 14h10m-7 6h10m14 15h10m-4-15h10m-2-1h10m0 18h10m-2-19h10m-9-15h10m-9 21h10m-8-5h10m-7-9h10m-3 15h10m-4-17h10m-8 23h10m447 1h10m112-30h10m55 21h10m133-3h10m70 10h10m43-4h10m9 5h10m16-1h10m14 3h10m48-3h10m-4-16h10m41 23h10m25-25h10m0 13h10m-1-14h10m-9 1h10m-8 8h10m-8 17h10m-9-3h10m-3-11h10m-6-17h10m-10 17h10m1 5h10m6-13h10m-4 4h10m2 9h10m-10-7h10m18-13h10m-1361 48h10m-9 15h10m-3-15h10m19-4h10m38-11h10m2 23h10m8-9h10m-2 8h10m-7 5h10m-7 1h10m-8 2h10m14-24h10m-8-5h10m-7 10h10m71 9h10m36 4h10m209-25h10m2 21h10m0 7h10m-5-18h10m5-4h10m64 18h10m3-15h10m7-8h10m226 20h10m18 6h10m117 6h10m79-32h10m16 31h10m14-18h10m16 19h10m-1-8h10m0 3h10m-5-3h10m-4-3h10m-8-20h10m-9 29h10m-10-29h10m-1 17h10m-8 19h10m10-16h10m-9-10h10m4 5h10m-6-6h10m5-6h10m4 33h10m-8-24h10m1-15h10m-9 30h10m23-28h10m0 5h10m-2 25h10m-1620 45h10m258-22h10m8-7h10m23-5h10m-9 19h10m-5-9h10m-9 20h10m-3-5h10m6-13h10m17-9h10m-1 29h10m36-32h10m49 5h10m300 26h10m92-25h10m200 25h10m19-22h10m88 2h10m21 22h10m4-13h10m55 3h10m32-6h10m8 15h10m56-13h10m41 17h10m0-16h10m0-13h10m38 16h10m-9 0h10m7-20h10m-1323 50h10m-1 15h10m-6-6h10m-6 10h10m10-21h10m-5-6h10m7 6h10m1-8h10m43 13h10m450-11h10m54 1h10m53 13h10m8-1h10m10 2h10m13 16h10m36-35h10m87 12h10m69-4h10m-6 22h10m-9-27h10m20-3h10m-5 33h10m42 0h10m1-4h10m61-13h10m3 10h10m8-1h10m-6-11h10m-3 19h10m1-28h10m-5-1h10m37 21h10m9-21h10m-6 26h10m-1313 11h10m39 24h10m538-29h10m109 3h10m46 29h10m13-17h10m84-7h10m-7 3h10m-2 1h10m97 15h10m-3 7h10m-3-23h10m0 17h10m5-1h10m-9 5h10m-2-25h10m2 23h10m6-1h10m38-23h10m2 14h10m19-1h10m67 16h10m7-35h10m9 3h10m-3 2h10m17 34h10m6-38h10m-9 20h10m-1258 41h10m21-22h10m559 35h10m-6-21h10m-8-2h10m1 25h10m43-2h10m-2-29h10m-3 11h10m2 18h10m23-35h10m83 5h10m85 12h10m22-5h10m37 7h10m37-18h10m-6 27h10m-5-27h10m-9 27h10m-8-16h10m7 5h10m23 9h10m31-9h10m65 17h10m-2-9h10m-2 1h10m-7-26h10m12 24h10m-9-19h10m-3 11h10m-3-2h10m-733 50h10m2-20h10m-4 27h10m7 0h10m17-12h10m7 10h10m2 9h10m7-11h10m-7 3h10m-2 4h10m92 5h10m0 0h10m18-8h10m61-24h10m2 17h10m-5 10h10m96 1h10m-1-2h10m5-21h10m7-11h10m15 22h10m-6 10h10m79-28h10m-1 24h10m-8-19h10m-9-9h10m-8-1h10m3 1h10m18 30h10m8-2h10m14-20h10m10 10h10m-779 44h10m12 10h10m16-32h10m6 37h10m20-21h10m-6 13h10m-1-29h10m55 36h10m12-23h10m13-13h10m-2 12h10m11 0h10m-7 25h10m75-31h10m-9 7h10m-10 25h10m8-2h10m51-15h10m101-9h10m-5 2h10m6-15h10m42 12h10m-5-4h10m7 24h10m-4-19h10m36-8h10m65 10h10m-7-11h10m-2 29h10m34-33h10m3 34h10m-848 18h10m33 12h10m8 5h10m5-3h10m-8-25h10m-1 29h10m13-15h10m0 17h10m19 5h10m47-11h10m-1-13h10m47 24h10m11-15h10m-3 16h10m97-28h10m-2 12h10m2 1h10m33 11h10m106-14h10m14 6h10m-1-1h10m19-11h10m40-8h10m9 29h10m-4-32h10m41 8h10m20 0h10m-6 3h10m22 0h10m7 13h10m11 3h10m-898 14h10m34 18h10m8-6h10m18-14h10m-1-2h10m25 34h10m-6-24h10m-4 5h10m0 20h10m-5-29h10m32 22h10m-9 0h10m14 0h10m20-6h10m-8 8h10m0-9h10m48-4h10m56 16h10m6 6h10m25-10h10m-8-18h10m-4 28h10m8-12h10m-9-12h10m-8 0h10m4 0h10m-4 19h10m27-9h10m6-5h10m-5-20h10m31 0h10m47 24h10m-10-7h10m-2-10h10m13 19h10m8 9h10m24 4h10m14-32h10m8 32h10m11-19h10m29 8h10m1-11h10m15 16h10m-9-13h10m-7-14h10m-899 63h10m-2 8h10m17-26h10m8 28h10m10-25h10m14 19h10m1-26h10m-9 20h10m19-25h10m0 31h10m1-26h10m-4 25h10m18-13h10m-9 18h10m-2-25h10m-1 14h10m-9-9h10m5 21h10m-10-28h10m-8 20h10m9-20h10m-7 13h10m55-7h10m3-3h10m43 17h10m30-13h10m-4-16h10m-7 5h10m-1-1h10m-5 5h10m12-4h10m-6 8h10m-6-13h10m-3 8h10m5 20h10m-7-3h10m1-21h10m0-4h10m1 28h10m2-17h10m39 24h10m26-21h10m28-8h10m12 4h10m-2 21h10m4 1h10m-8-29h10m15 12h10m-10 14h10m14-16h10m-1-8h10m-6 21h10m-8-4h10m29 13h10m15-34h10m-6 6h10m0 18h10m29-12h10m-10 4h10m-9-18h10m38 2h10m-1637 70h10m-5 6h10m-5-8h10m-8 3h10m738-22h10m-6 24h10m-7-35h10m29 36h10m10-35h10m8 12h10m-3 22h10m28-17h10m-1 12h10m10-21h10m1 6h10m61 23h10m6-15h10m8 9h10m4-13h10m5-15h10m8 8h10m17 18h10m7-26h10m-1 2h10m14 26h10m33-10h10m-4 16h10m-6-23h10m-2-11h10m9 5h10m1-5h10m7 32h10m-7 0h10m25-32h10m0 0h10m1 19h10m-5 2h10m4-12h10m11-3h10m-1-10h10m-6 36h10m7-22h10m37 12h10m1-1h10m34-22h10m8 20h10m0-6h10m-7 2h10m-5-13h10m0 30h10m-8 2h10m-3-36h10m0 27h10m10 6h10m-8-24h10m24 12h10m-1606 26h10m49 16h10m659-5h10m-7-3h10m5 3h10m17 16h10m3-33h10m24 6h10m-3-5h10m4 6h10m-8-3h10m13 29h10m-9-15h10m-5-18h10m10 19h10m17 12h10m11-15h10m-2-8h10m-5 28h10m9-4h10m-5-11h10m6 11h10m42-30h10m17 34h10m17-24h10m9-15h10m6 0h10m-5 9h10m-4 3h10m32 22h10m-10-4h10m4-30h10m-1 9h10m-6 15h10m2 8h10m-1-18h10m-1-3h10m-5-11h10m-8 17h10m15-9h10m-1 15h10m-6-19h10m30 33h10m16-1h10m-6-21h10m87-2h10m7-1h10m31 16h10m5-14h10m2-1h10m2 3h10m1 7h10m-2-1h10m-5 2h10m0-15h10m0 29h10m6-28h10m-1559 39h10m194 13h10m3 8h10m-5 5h10m368-31h10m7 9h10m-5 5h10m-10 15h10m28-30h10m-4 11h10m0 13h10m-8-24h10m0-2h10m7 8h10m12 5h10m56 19h10m25-9h10m16 10h10m-8-25h10m0 12h10m-8-21h10m-9 3h10m34 28h10m11-22h10m1 25h10m-3-33h10m-1 0h10m49 23h10m-8-5h10m4 12h10m11-12h10m32-11h10m8-6h10m2 5h10m-10 24h10m96-9h10m-8 7h10m26-26h10m-3-2h10m-9 21h10m-5 7h10m-9-19h10m-8 14h10m-6 15h10m59-2h10m7-19h10m9-15h10m46 35h10m-1-22h10m6 16h10m-6-15h10m-7 9h10m-9 2h10m1-20h10m63 21h10m-1420 38h10m428 2h10m69-13h10m-4-11h10m2-1h10m12 14h10m-8-2h10m6 5h10m34 5h10m2-14h10m-4 0h10m-5 5h10m-9-3h10m22-11h10m12 6h10m28 2h10m-8-1h10m52 24h10m89 1h10m12-14h10m3-19h10m-9 35h10m-2-15h10m49-11h10m105-1h10m3 17h10m-9-26h10m49 19h10m-2-4h10m15 11h10m5-18h10m10-9h10m6 32h10m-3-25h10m-10 26h10m6-1h10m-2-14h10m-9 9h10m2 9h10m-8-9h10m-3 2h10m-6 8h10m-2-25h10m2 12h10m-4 4h10m15 0h10m-7-14h10m-1653 36h10m10 24h10m22-5h10m167-12h10m-2 13h10m-5 3h10m2-20h10m68 21h10m453-17h10m5 12h10m-6-3h10m-5 7h10m-9 4h10m8-35h10m47 8h10m-6 28h10m-6-11h10m20 4h10m-6-7h10m-10 9h10m-6-30h10m4 19h10m35-3h10m1 15h10m15-31h10m39 30h10m13-25h10m0 1h10m-6 9h10m36 4h10m-2 7h10m5-27h10m47 5h10m66 1h10m-10-4h10m17-2h10m11 12h10m9-9h10m11 15h10m-8 13h10m51-15h10m1 17h10m7-12h10m-6-18h10m-8-2h10m10 5h10m-1 10h10m-8 21h10m-3-32h10m-9 17h10m-3-8h10m-7 12h10m11 1h10m73 1h10m-1637 38h10m-1-28h10m17 10h10m149-10h10m80 2h10m80 27h10m329-2h10m20-3h10m10-23h10m37 30h10m53-28h10m-7 13h10m-3 16h10m-8-24h10m-9 3h10m7 24h10m-9 4h10m2-38h10m-4 20h10m-5 11h10m-9-24h10m5 5h10m-8 21h10m0-14h10m-3-5h10m-6-13h10m7 34h10m16 1h10m-2-1h10m54-9h10m-6-4h10m-8 5h10m16 10h10m-7-20h10m37 9h10m13 10h10m111-15h10m-1-1h10m10 11h10m22 1h10m-10-23h10m9 16h10m8-22h10m-9 29h10m3 2h10m28-3h10m-2-23h10m10 13h10m-10 15h10m-2-21h10m-2 10h10m22-18h10m43 15h10m-1668 39h10m-7 12h10m32-23h10m26 6h10m658 12h10m-4-20h10m-6 22h10m-4-22h10m54 12h10m1-6h10m-9-8h10m8 20h10m18-10h10m-8 0h10m-3 1h10m5-17h10m-9 22h10m-3-17h10m9 28h10m0-4h10m-7-16h10m-5 6h10m38 13h10m8-8h10m42-20h10m-1 25h10m-5-19h10m19 28h10m-5-3h10m19-11h10m5-17h10m-6 17h10m35-18h10m-3-2h10m-9 7h10m19 7h10m90 15h10m-2-8h10m12 5h10m66-30h10m-6 23h10m5-6h10m-6 14h10m-6-14h10m-3-3h10m-10-6h10m-4-3h10m17 14h10m13 9h10m-6-3h10m-7-16h10m-5 0h10m51-10h10m-7 16h10m-9-8h10m37 6h10m-1692 57h10m30-29h10m44 20h10m8 1h10m648-1h10m-1 6h10m31-1h10m61 3h10m-7-3h10m-10 11h10m-4-17h10m-6 17h10m4-34h10m4 33h10m5-34h10m-10 36h10m-1-25h10m8-8h10m12-3h10m-1-2h10m-1 14h10m-9 23h10m1-17h10m-2-2h10m-9-1h10m12-12h10m4 16h10m107-3h10m25 9h10m1 9h10m1-4h10m-9-22h10m-7 13h10m78-9h10m23 10h10m-8-9h10m38 22h10m-6-8h10m2-7h10m-1-16h10m-2 5h10m-4 13h10m3 4h10m2-19h10m13 27h10m-5-35h10m-7 17h10m-9-17h10m-5 12h10m-8 12h10m71-21h10m-8 23h10m-2-23h10m-8 25h10m8 5h10m-1632 17h10m-3 6h10m46 13h10m-3 8h10m-9-25h10m-6 2h10m634 19h10m89-16h10m4-12h10m30 10h10m-5 18h10m15-30h10m15 28h10m17-3h10m6-15h10m19-6h10m22 5h10m-4-9h10m8 15h10m15 9h10m85-25h10m13 3h10m-8 6h10m-9-6h10m6 19h10m-5-1h10m22-11h10m67-5h10m-9 16h10m20 6h10m13-27h10m-4 26h10m-5 5h10m19-17h10m-1-9h10m-6 22h10m-7-20h10m-4 22h10m-3-14h10m5 6h10m-10 14h10m4 0h10m-9-7h10m1-13h10m8 17h10m-8-21h10m-2 5h10m-1-20h10m-9 30h10m-6-18h10m-3 17h10m-7 2h10m12-16h10m0 3h10m-7 13h10m5 7h10m-1661 6h10m13 17h10m-1 6h10m10-27h10m7 26h10m35-25h10m14 8h10m649-7h10m9 30h10m33-13h10m0 11h10m-7-5h10m13 13h10m-9-8h10m84-4h10m-4-25h10m35 38h10m-9-16h10m114-20h10m9 4h10m24 31h10m1-17h10m7 11h10m0-2h10m40-15h10m1 19h10m1-32h10m-6 15h10m39 7h10m8 10h10m1 3h10m-3-2h10m-5-13h10m8 9h10m10-10h10m30-19h10m-3 2h10m-8 25h10m0 3h10m14-6h10m-5-15h10m-8 12h10m-1546 53h10m21-9h10m-9-19h10m-3 14h10m37 1h10m-1 7h10m628 0h10m9-9h10m50 11h10m30-5h10m32-25h10m40 23h10m-9 7h10m1-17h10m57 23h10m77-32h10m25 23h10m38 10h10m-7-32h10m12 15h10m48-11h10m107-9h10m46 2h10m-6 9h10m18-4h10m-4-9h10m21 21h10m32-18h10m-1539 69h10m9-31h10m6 12h10m28 14h10m495 9h10m134-26h10m83 16h10m5-22h10m14-2h10m-9 9h10m36 14h10m3 6h10m0-25h10m9 20h10m32-17h10m51-4h10m-10 31h10m16-16h10m-4 17h10m39-31h10m3 14h10m-1170 57h10m21 1h10m-10-34h10m18 22h10m49-5h10m50 8h10m263-5h10m37 12h10m-5-18h10m2 2h10m-3 6h10m51-19h10m-7-7h10m223 24h10m57 3h10m105-22h10m79-3h10m144-2h10m-1220 60h10m120-19h10m37 12h10m72-2h10m-3 1h10m9-7h10m23 8h10m6 2h10m-3-9h10m698 85h10" stroke="#000" stroke-width="10" fill="none" transform="scale(.1)"/>
</g>
<text x="637.3" y="100.3" font-size="11.2" text-anchor="start" fill="#111"><tspan font-style="italic">Dhps</tspan>-WT</text>
<text x="637.3" y="118.3" font-size="11.2" text-anchor="start" fill="#3cb371"><tspan font-style="italic">Dhps</tspan>-ΔM</text>
<text x="108.7" y="264.8" font-size="11.2" text-anchor="middle" fill="#111"><tspan font-style="italic">Ccr2</tspan></text>
<text x="233.3" y="264.8" font-size="11.2" text-anchor="middle" fill="#111"><tspan font-style="italic">Adgre1</tspan></text>
<text x="329.3" y="264.8" font-size="11.2" text-anchor="middle" fill="#111"><tspan font-style="italic">Timd4</tspan></text>
<text x="7.2" y="319.6" font-size="11.1" text-anchor="start" fill="#111"><tspan font-style="italic">Dhps</tspan>-WT</text>
<text x="3.6" y="418.8" font-size="11.1" text-anchor="start" fill="#111"><tspan font-style="italic">Dhps</tspan>-ΔM</text>
<path d="M1208 2749h8m-3-6h8m-13 32h8m-584 42h8m-8 12h8m17-9h8m-2 15h8m-2 3h8m-7-19h8m-6 19h8m-8-22h8m-7 12h8m-8 0h8m-4 5h8m-5-1h8m-3 1h8m-2-7h8m-6-10h8m-8 12h8m-6-11h8m-5 21h8m-6 0h8m-7-5h8m-7 0h8m-8 5h8m-7-11h8m-6 10h8m-6-12h8m-7 8h8m-7-3h8m-1-6h8m3 15h8m-6-23h8m-4 23h8m-5 0h8m2-10h8m14 8h8m417-14h8m0-14h8m-4 7h8m-565 24h8m-3 7h8m-7 7h8m-5 11h8m-7-2h8m-4-15h8m-5 1h8m-7 19h8m-5 5h8m-6-9h8m-5 9h8m-6-19h8m-7-9h8m-6 12h8m-8-12h8m-7 16h8m-8-7h8m-8-12h8m-7-1h8m-4 17h8m-8-9h8m-4-5h8m-6 16h8m-7-5h8m-7-6h8m-7 1h8m-6 10h8m-6 0h8m-8-17h8m-5 1h8m-6 7h8m-7 19h8m-8-15h8m-7 11h8m-7-20h8m-7 4h8m0 16h8m-5-21h8m-7 3h8m-6-8h8m-5 2h8m-7 21h8m-7-2h8m-8 5h8m-5-6h8m-5-13h8m-8 10h8m-7-12h8m-7 9h8m-5 17h8m-2-16h8m-4 24h8m-2-3h8m-7-15h8m2-3h8m-7 0h8m5-15h8m-3 17h8m-1-12h8m-8 1h8m1 7h8m-8-6h8m-7 16h8m-5 13h8m-4 0h8m5-15h8m281-12h8m-7 15h8m24 11h8m-8-10h8m5 6h8m-5-9h8m1-11h8m-6-2h8m8-5h8m-403 38h8m-5 16h8m-6-19h8m6 9h8m-7-10h8m-6 15h8m-1-5h8m-2-1h8m-4 11h8m-2 8h8m-7-8h8m4 8h8m-8 6h8m1-4h8m-6-4h8m7 10h8m228-3h8m-8-9h8m-4 6h8m1-10h8m-4-7h8m15 6h8m1 3h8m-336 33h8m-7-7h8m23 6h8m-4-7h8m-7-3h8m-4 5h8m8-1h8m-3 4h8m7-4h8m11 17h8m156-1h8m43-20h8m20 7h8m-282 59h8m179-13h8m-2 20h8m-2-32h8m-464 46h8m-2 5h8m-8-2h8m7 15h8m418 1h8m-7-10h8m-377 58h8m-6-8h8m-8 4h8m-4-4h8m-6-2h8m-5 6h8m-7-2h8m8-21h8m322 10h8m-2-14h8m-5-7h8m108 37h8m9-4h8m12-7h8m-5-2h8m-8 6h8m-6-9h8m9 7h8m53-1h8m17 9h8m19-5h8m-665 12h8m-4-3h8m-7 5h8m4-2h8m131 6h8m-7 28h8m-5-19h8m187 0h8m-2 4h8m-4-7h8m15 12h8m1 11h8m23-39h8m-7 26h8m-7-10h8m17 4h8m-8 15h8m-7-22h8m11 14h8m19-8h8m-6 8h8m0-25h8m-7 23h8m-7-17h8m-4-4h8m-1 6h8m-6 25h8m-7-26h8m-3 22h8m0-6h8m-6-3h8m-6 3h8m-5-25h8m-5 30h8m-3-20h8m-5 27h8m-6-35h8m7 7h8m-5 12h8m-7-13h8m-3 20h8m-7-14h8m6-5h8m-5 11h8m-2 1h8m-8-6h8m-7 14h8m1-20h8m-4 26h8m-7-13h8m-7 2h8m-2-11h8m-8 17h8m-3-29h8m-1 24h8m-6 3h8m-3-6h8m-8 6h8m-8 1h8m-2-20h8m-4 29h8m-7-7h8m-3-1h8m7-7h8m-6 16h8m-5-14h8m-2 12h8m1-5h8m-7 5h8m3-1h8m-2-10h8m2-9h8m-762 44h8m-2 0h8m-3 5h8m-6-4h8m-5 6h8m5-26h8m119 31h8m-1 6h8m-4-34h8m-6 26h8m0-10h8m-3-12h8m-8-4h8m-6 7h8m-2 12h8m0-7h8m175-12h8m-8 8h8m-5 2h8m14-4h8m-4 20h8m-2-4h8m7-10h8m-8 22h8m-5-28h8m8-8h8m-3 17h8m-2-12h8m-4 12h8m-6-6h8m-3 25h8m-4-15h8m-7 7h8m-5-23h8m-3 4h8m-3 25h8m8-23h8m0 24h8m-8-38h8m-2 36h8m-7-5h8m-3-16h8m6-5h8m11 4h8m-4 12h8m-4 1h8m-7-11h8m1 8h8m-3-1h8m4 4h8m-4-13h8m-6-4h8m2 5h8m1 3h8m-6-6h8m-1-11h8m-7 11h8m-1 10h8m-2 1h8m-1-20h8m5 11h8m-5-10h8m-6-2h8m-7 13h8m-3 15h8m-4-28h8m-4 13h8m-2-9h8m-2 32h8m2-27h8m-6 17h8m-6-20h8m-3 13h8m-8 18h8m-7-23h8m-4-7h8m9-7h8m-2 9h8m-3-6h8m3-3h8m46 32h8m2 2h8m18 1h8m9-6h8m-1 0h8m-1 5h8m-4-5h8m-747 48h8m-8-27h8m-5 24h8m-8-14h8m-6-20h8m-8 37h8m-1-29h8m-7 22h8m-6-31h8m-8 26h8m-7-13h8m-8 1h8m-7 22h8m-4-16h8m-8-18h8m-7 12h8m-6 11h8m-7-26h8m-4 26h8m-7 11h8m-5-19h8m-8-6h8m-4 6h8m-7-11h8m-6 23h8m-7 7h8m-7-17h8m-7 4h8m-8 9h8m-4-23h8m-7 4h8m-7-13h8m-4 20h8m0 7h8m-4-24h8m2 17h8m-4 11h8m-7 1h8m-3-24h8m28 24h8m-5 0h8m18 6h8m81-22h8m-2-9h8m-4 0h8m-1 24h8m-5-30h8m-6 4h8m4 20h8m2-12h8m3 11h8m-6 8h8m-6-2h8m-7-7h8m-1 1h8m-6-17h8m0 1h8m-4 15h8m-5-14h8m-4 6h8m3 1h8m7 13h8m0 0h8m5 3h8m-2 4h8m9-22h8m17 16h8m-7-14h8m-8-6h8m-2-5h8m2 16h8m4-9h8m0 3h8m-1 17h8m5-31h8m3 28h8m-3-22h8m-6 14h8m10-11h8m0 24h8m7-3h8m-4-10h8m35 17h8m2-7h8m4 3h8m-1-17h8m-7-6h8m3 2h8m-7 0h8m-7-2h8m-7 20h8m-7-16h8m-6 16h8m-8 3h8m-7-32h8m-6 32h8m-8-26h8m-7 6h8m-6-3h8m-8 2h8m-1-10h8m-8 18h8m-6-13h8m-4 17h8m-8-20h8m-6 19h8m-6-11h8m-6 17h8m-7-3h8m-4 11h8m-3-24h8m-6 7h8m-2 10h8m-7 5h8m-7-11h8m-8 7h8m-5-25h8m-7 8h8m-4-15h8m-7 31h8m-8-17h8m-6-6h8m-6 19h8m-8-8h8m-7 10h8m-6 2h8m-7 7h8m-8-16h8m-7-4h8m-8-16h8m-8 17h8m-7-2h8m-7-15h8m1 16h8m-6-16h8m-8 20h8m-7-23h8m-6 23h8m-8 0h8m-6 15h8m-7-26h8m-6 12h8m-8-1h8m-6-9h8m-7 10h8m-7 3h8m-7-7h8m-7-9h8m-8-1h8m-8 4h8m-4 19h8m-6-29h8m-7 34h8m-7-20h8m-8 18h8m-6-11h8m-7 2h8m-7 8h8m-1-27h8m-5 21h8m-5 1h8m-7-2h8m-907 42h8m-4-2h8m132 7h8m-7-5h8m-4-17h8m-3 9h8m-7 16h8m-6-25h8m-6-8h8m-6 16h8m-7 15h8m-8-11h8m-6 1h8m-6-3h8m-7 12h8m-8-25h8m-8-1h8m-8 9h8m-7 17h8m-6-2h8m-8-28h8m-5 10h8m-6 2h8m-8 15h8m-7-19h8m-8-7h8m-7 25h8m-5-24h8m-7 25h8m-7-12h8m-8-6h8m-6-12h8m-6 24h8m-8 10h8m-7-23h8m-7 5h8m-6 18h8m-8-18h8m-8 0h8m-7 5h8m-8-11h8m-6-8h8m-7-2h8m-7-2h8m-8 13h8m-7-3h8m-7-7h8m-6 7h8m-7 8h8m-6 5h8m-8-20h8m-8 2h8m-8 29h8m-5-2h8m-8 1h8m-8-30h8m-7 25h8m-6-4h8m-7-22h8m-8 3h8m-5-5h8m-6 19h8m-8 19h8m-7-20h8m0-18h8m-8 33h8m-7-5h8m-7 9h8m-7-8h8m-2-6h8m-6 8h8m-5 0h8m0-2h8m-4 7h8m-7-33h8m-7 5h8m-4 17h8m-6-12h8m1 19h8m-8-28h8m-7 10h8m7-11h8m13 5h8m10 1h8m71 14h8m-6-22h8m24 19h8m-1-11h8m19-2h8m-2 10h8m-3 12h8m-2 6h8m-8-4h8m2 4h8m-7-30h8m-3 4h8m-8 7h8m-3 20h8m-6-31h8m-2 22h8m-4-6h8m1 15h8m7-35h8m-7 20h8m11 16h8m-7-31h8m-1 28h8m-2-15h8m-6-7h8m1-3h8m4-4h8m-2 13h8m-1 1h8m7-10h8m16-1h8m-5-8h8m-7 15h8m11 0h8m0 0h8m-5 9h8m-2 9h8m2-10h8m0 11h8m-8 5h8m-6-8h8m2-19h8m-7 14h8m-6-8h8m-5 0h8m-7 12h8m-6 9h8m-6-25h8m-5 23h8m-7-6h8m-4-26h8m-7 5h8m-5-8h8m-5-1h8m-5 34h8m-2-29h8m-7 7h8m-6-3h8m-6 25h8m-4-8h8m-7-15h8m-6-1h8m-7-11h8m-8 23h8m-7 3h8m-6-4h8m-7 12h8m-6-7h8m-7-15h8m-3 25h8m-2-5h8m-7-21h8m-6 1h8m0-3h8m-7 9h8m-7 19h8m-6-24h8m-7 9h8m-2 12h8m-8-13h8m-7-15h8m-5-3h8m-8 7h8m-7 9h8m-6 9h8m-6-14h8m-8-7h8m-5-4h8m-7 27h8m-8-21h8m1-7h8m-7 23h8m-8-20h8m1 31h8m-6-14h8m-8-19h8m-7 24h8m-7 12h8m-7 0h8m-6-32h8m-1 9h8m-7-13h8m-7 17h8m-1-9h8m-7-3h8m-3-3h8m-6-3h8m-7 37h8m-5-7h8m-6-15h8m-1 12h8m2 0h8m-8-7h8m-7-19h8m-7 31h8m-6-17h8m-3 2h8m-4 20h8m-948 32h8m-6-4h8m3-5h8m71 2h8m19 12h8m57-29h8m-2 27h8m-5-19h8m-6 15h8m-5-20h8m-7 6h8m-3-6h8m-4-10h8m-5 7h8m-8 3h8m-6 17h8m-8-9h8m-5-12h8m-7-5h8m-3 26h8m-6-25h8m-1 2h8m-6 28h8m-8-30h8m-6 25h8m-1 1h8m-6-9h8m-6 5h8m-6-8h8m-7-12h8m15-3h8m228 24h8m2-13h8m-7-12h8m-3 2h8m-8 25h8m-2 6h8m8-6h8m0 11h8m1-33h8m-2 26h8m-5 8h8m-2-38h8m-3 28h8m-4-25h8m-3 32h8m-4-13h8m-6 6h8m-7-1h8m-7-7h8m-7-7h8m-1 15h8m-7-3h8m-6 1h8m-7 9h8m8-4h8m-8-7h8m-7 9h8m-8 0h8m-8-14h8m17 11h8m-8-1h8m-7 3h8m-7-10h8m-1 15h8m-8-7h8m-1 1h8m3-26h8m-4 21h8m-6-10h8m-7 18h8m10-2h8m-3 4h8m-7 2h8m-4-2h8m-1 1h8m11 1h8m-2-21h8m-4 2h8m-7-10h8m-5 15h8m-6-17h8m-8-5h8m-5 26h8m-6-12h8m-8 2h8m-2-2h8m-1-13h8m-4 33h8m-6-9h8m-8-20h8m-5-7h8m-5-1h8m-7 8h8m-4 6h8m-7 25h8m-8-6h8m-1 4h8m-6-29h8m-3 13h8m-5 12h8m-5-15h8m-7 5h8m-8 10h8m-6 5h8m-2-5h8m-8-32h8m-5 30h8m-8-19h8m-5 6h8m-6 20h8m-4-22h8m-7-13h8m2 28h8m-4-8h8m-7-10h8m-5 5h8m-7-8h8m-8 7h8m-6 2h8m-6-1h8m-8-17h8m-4 27h8m-6 4h8m-7-11h8m-6 4h8m-7-25h8m-5 7h8m-7 27h8m-8-6h8m-7 4h8m-8-6h8m-8 12h8m-8-24h8m-5 21h8m13-5h8m-1-19h8m-3 13h8m-6 8h8m-5-29h8m-5 30h8m1-28h8m-6 28h8m-8-8h8m-6-4h8m-8-2h8m-6 15h8m-3-18h8m-7 20h8m-8-3h8m-8-9h8m-6 7h8m-7-24h8m-8 18h8m-965 25h8m-4 4h8m-6-7h8m-4 0h8m-7-4h8m181 11h8m19-10h8m3 4h8m-5 0h8m-4-1h8m5-4h8m267 23h8m2 7h8m-1-13h8m-4 3h8m-1 11h8m-7-12h8m2-3h8m-1-1h8m-6-6h8m-6-1h8m-5 16h8m-3-24h8m-7 21h8m-7 3h8m-8 4h8m-6-21h8m-2 27h8m0-19h8m-6 7h8m-7 8h8m-5 4h8m-7-28h8m4 24h8m-8-12h8m-6-17h8m-8 2h8m-8 23h8m-4 3h8m-7-2h8m4-19h8m15-2h8m-8-2h8m-5 0h8m-7 3h8m-5-3h8m-2 2h8m-5 12h8m-7 9h8m-4-1h8m-7-3h8m-5-17h8m-6 30h8m-3-39h8m-7 19h8m-5 4h8m-8-3h8m-4-19h8m-6 31h8m-3-13h8m-7-12h8m-8 12h8m-8 2h8m-1-1h8m-6-11h8m-7 16h8m-5-14h8m-7 19h8m-3-29h8m-7-1h8m-6 34h8m-6 3h8m-5-7h8m-5 4h8m-4-16h8m-6 5h8m2 3h8m-4 9h8m-1 3h8m13-5h8m-2-14h8m1-3h8m-7-6h8m-1 5h8m-5 11h8m-7-5h8m3-16h8m-8 26h8m-4 0h8m8-6h8m-2 3h8m-8 8h8m-7 0h8m-5-18h8m-6-9h8m-7 3h8m-6 5h8m-8-17h8m-4 17h8m1-13h8m1 3h8m-3-4h8m0 33h8m-7-31h8m-6 3h8m-8 30h8m-7-9h8m-6-7h8m-4 4h8m1-1h8m-7 4h8m-8-21h8m1 19h8m-5-2h8m-7-24h8m-4 10h8m-7 8h8m2 16h8m-5-30h8m-5 27h8m-7 2h8m-8-27h8m-4 15h8m-7-18h8m-5 9h8m-8-1h8m-6 4h8m-7 4h8m-7-19h8m-2 31h8m10-2h8m-481 15h8m1 14h8m-6 8h8m-5 8h8m-8 1h8m-7-4h8m-6-16h8m-7-4h8m-4 5h8m-7 14h8m-7-4h8m-6-3h8m-6 2h8m-7-21h8m-6 5h8m-8 1h8m-7 7h8m-6 15h8m-2-23h8m-6 13h8m-7 14h8m-4-25h8m-7-12h8m-7 39h8m-8-32h8m-4 12h8m-7 8h8m-5-12h8m-7 7h8m-8-2h8m-6 5h8m-7-3h8m-6-20h8m-7 33h8m-4-25h8m-7 19h8m-6-14h8m-6 22h8m-8 2h8m-8-26h8m-7 4h8m-6 19h8m-6 1h8m-8-12h8m-8 13h8m-7-3h8m-7-26h8m-7 23h8m-8-13h8m-4-5h8m-4 25h8m-6 0h8m-7-17h8m-7 5h8m-6-15h8m-2-8h8m-5 7h8m-4-5h8m-7 19h8m-1-24h8m-6 27h8m-6-11h8m-5 13h8m-7-15h8m-7 19h8m-5-12h8m-7-17h8m-8 4h8m-7 6h8m-8-4h8m-4-9h8m-5 35h8m-4 0h8m-8-14h8m-8 12h8m-7-26h8m-8 23h8m-4-18h8m-5 0h8m-7-8h8m-5 8h8m-3 15h8m-8-6h8m-4-19h8m-6 11h8m-3-1h8m-6 14h8m-7-22h8m2 9h8m-7-15h8m0 26h8m-8-21h8m-6 10h8m-4 3h8m-7 4h8m-6 1h8m-7 16h8m-2-30h8m-8-6h8m-7 6h8m-3 9h8m-5-1h8m-5-16h8m-7 28h8m-3-25h8m-8 10h8m-7-7h8m-6 9h8m-8-13h8m-8 18h8m-7 6h8m-5-24h8m-7 3h8m-7-5h8m-7 22h8m-7-18h8m-8 11h8m-8-12h8m-7 4h8m-4 9h8m-8 0h8m-7-13h8m-6 20h8m-5-4h8m-6 11h8m-7 8h8m-6-16h8m-8-2h8m-4-16h8m-7 17h8m-7-10h8m-3-3h8m-4-4h8m-5 33h8m-8-7h8m2 2h8m-5-12h8m18 10h8m-4-30h8m-4 6h8m-4 7h8m-4-4h8m-8 14h8m-6-23h8m-8 35h8m-4-21h8m-3 14h8m-4-2h8m-8 8h8m-7-20h8m-4 0h8m-7 12h8m-8-4h8m-6 12h8m-7-10h8m-5-1h8m5-7h8m3-16h8m-5 14h8m-7 13h8m-8-6h8m-8 13h8m-7-35h8m-8 17h8m1 7h8m2-12h8m3-9h8m-8 10h8m-8-6h8m0 23h8m-7-23h8m-8 23h8m-6-24h8m-7 0h8m-4 21h8m-7 12h8m-7-4h8m-7-25h8m-7-9h8m-6 24h8m-8-9h8m-5-5h8m-3 23h8m-7-15h8m-6 6h8m-7 4h8m-8 6h8m0-11h8m-7 1h8m-7-22h8m3 36h8m-8-18h8m-8-18h8m-7 23h8m-7-20h8m1 7h8m-6 15h8m-6 4h8m-7-8h8m-4-11h8m-2 22h8m-5-2h8m0-10h8m-564 32h8m45 12h8m-4 0h8m-5-15h8m3 11h8m-3 6h8m-6 5h8m-6-14h8m-5-3h8m-8 8h8m-4-23h8m-6 12h8m-6 18h8m-8 7h8m-8-37h8m-7 22h8m-6-19h8m-7 9h8m-8 12h8m-7 1h8m-5-10h8m-7 9h8m-7-3h8m-8-23h8m-6 39h8m-6-28h8m-8 18h8m-8-20h8m-3 9h8m-8 18h8m-5-28h8m-7-4h8m-8 28h8m-8-24h8m-8 21h8m-6 0h8m-7-27h8m-7 17h8m-6-12h8m-8 31h8m-7-20h8m-5 12h8m-8-23h8m-4 18h8m-6-21h8m-6 13h8m-7 18h8m-8 1h8m-8-14h8m-6-17h8m-6-4h8m-6 23h8m-8 15h8m-8-21h8m-7 12h8m-8 9h8m-8-28h8m-5 6h8m-7 11h8m-6 8h8m-8-15h8m-7-19h8m-8 37h8m-8-24h8m-7-8h8m-7 19h8m-6-2h8m-7-12h8m-7 5h8m-7 15h8m-8-25h8m-8 8h8m-8 9h8m-5 10h8m-8 1h8m-4-22h8m-6 1h8m-3 9h8m-8-15h8m-7 6h8m-8-7h8m-7 29h8m-7-23h8m-7-2h8m-7 21h8m-7-4h8m-7-5h8m-3-2h8m-4-17h8m-5 20h8m-8 5h8m-7-6h8m-7-23h8m-6 27h8m-7 1h8m0-18h8m-7 24h8m-7-3h8m-8-11h8m-6 2h8m-2 6h8m-5-10h8m-7 9h8m-2-15h8m-6 7h8m-8-14h8m-7 1h8m-6 29h8m-7-29h8m-6 11h8m-3-9h8m-5 30h8m-8-30h8m-8 25h8m-4-28h8m-4 1h8m-4 7h8m-3 8h8m-6 17h8m-4-22h8m-7-10h8m-6 0h8m-3 12h8m-1-14h8m-8 16h8m-7 17h8m-8-23h8m-8 16h8m-5-20h8m-8-9h8m-7 5h8m-3 2h8m-6 31h8m-6-2h8m-4-24h8m-7 4h8m-7 4h8m-7-13h8m-7-7h8m-4 13h8m-8 2h8m-7 2h8m-5 5h8m-8 8h8m-8 1h8m-4-25h8m-6 29h8m-5-29h8m-7 11h8m-8-17h8m-7 8h8m-8-4h8m-8-2h8m-8 4h8m-6 15h8m-6-5h8m-7-15h8m-7-1h8m-8 33h8m-8-21h8m-7-10h8m-6 21h8m-8-3h8m-6-9h8m-8 13h8m-8-3h8m-6-13h8m-6 13h8m-7-18h8m-8 11h8m-7 2h8m-8-12h8m-8 34h8m-7-12h8m-6 0h8m-6 7h8m-7-8h8m-6-9h8m-6-10h8m-7 14h8m-7 17h8m-6-21h8m-5-15h8m-8 36h8m-7-4h8m-6-20h8m-7-12h8m-6 0h8m-7 25h8m-6 6h8m-8 5h8m-6-31h8m-6 1h8m-7 27h8m-4-14h8m-8-9h8m-2 5h8m-8-7h8m-1 4h8m-6 24h8m-5-12h8m-4 6h8m-8 4h8m-4 0h8m-1-14h8m-2-22h8m-7 15h8m3 15h8m-3-26h8m-5 0h8m-5 6h8m-7 23h8m-6-10h8m-8-9h8m-5-5h8m-5-3h8m-7 21h8m-5-18h8m1 4h8m-7 18h8m-5-17h8m-8-14h8m-8 1h8m-5 38h8m-3-36h8m-5 14h8m-7 11h8m3-28h8m-7 14h8m-7 13h8m-5-10h8m-7 2h8m-6-7h8m4 18h8m3-13h8m-6 18h8m-3-23h8m2 16h8m-7-20h8m-7 31h8m-5-16h8m-7 11h8m-8 2h8m-7-19h8m-7 19h8m-4-15h8m-8-11h8m-6 2h8m-8 16h8m-4 7h8m-8-2h8m-7 1h8m-8-20h8m-5 1h8m-6-8h8m-6 18h8m-5-9h8m-8 15h8m-7-26h8m-8 12h8m-7-3h8m-7 7h8m-5-18h8m-7 14h8m-7 15h8m-6-6h8m-7 13h8m-5-15h8m-4 3h8m-3-1h8m-921 24h8m-6 12h8m-8 12h8m-8-2h8m-7-16h8m-8 9h8m-7-11h8m-8 25h8m-6-27h8m-2 18h8m53-2h8m305 8h8m-5 2h8m-2-4h8m-2-32h8m-5 19h8m-8 2h8m-6-16h8m-6 1h8m-4 29h8m-6 0h8m-8-25h8m-7 12h8m-2-8h8m-6 13h8m-7-10h8m-8 15h8m-6-28h8m-7 11h8m-7 22h8m-8-19h8m-4-17h8m-8-2h8m-7 28h8m-8 3h8m-7-32h8m-6 1h8m-7 37h8m-7-13h8m-7 0h8m-6-4h8m-8 16h8m-6-3h8m-8 0h8m-5-30h8m-6 30h8m-5-8h8m-8 11h8m-7-27h8m-6 1h8m-8 16h8m-8-25h8m-2 25h8m-7-16h8m-7 10h8m-6-1h8m-6-11h8m-5 27h8m-7-35h8m-4 20h8m-6-11h8m-6-10h8m-5 11h8m-8 27h8m-7-2h8m-6 0h8m-7-25h8m-7-8h8m-6 19h8m-8-1h8m-8 5h8m-7-17h8m-7 20h8m-8-10h8m-6-8h8m-7-1h8m-3 14h8m-8 9h8m-6-1h8m-8-32h8m-7 37h8m-8 2h8m-8-24h8m-7 17h8m-8-8h8m-8 15h8m-7-30h8m-7 21h8m-8-11h8m-7 5h8m-7-9h8m-5 18h8m-8-6h8m-6-15h8m-5 19h8m-6-13h8m-6 15h8m-7-11h8m-7 16h8m-3-25h8m-7 10h8m-8 5h8m-7-4h8m-7-6h8m-6 15h8m-6 0h8m-7-3h8m-7-27h8m-8 22h8m-7-24h8m-3 36h8m-7-11h8m-6-22h8m-6 18h8m-3-5h8m-6 9h8m-6-24h8m-7 14h8m-7 9h8m-6-2h8m-5 5h8m-8-12h8m-5-5h8m-7 28h8m-6-38h8m-5 33h8m-3-9h8m-8-11h8m-8-2h8m4 0h8m-6-7h8m-7 15h8m-7-13h8m-8 27h8m0-3h8m-7 2h8m-8 3h8m-7-19h8m-6-7h8m-3-7h8m-8 23h8m-8 4h8m-7-18h8m-3 2h8m-7 15h8m-6-14h8m-7 10h8m-2-3h8m-2-8h8m-5 19h8m-4-4h8m-6-1h8m-7-15h8m-7 4h8m-8-6h8m-8 7h8m-7-2h8m-7 11h8m-7 1h8m-6 8h8m-7-30h8m-7 19h8m-8-13h8m-8-8h8m-7 27h8m-7-18h8m-6 20h8m-8-14h8m-4-12h8m-6 7h8m-7 4h8m-6 6h8m-7-6h8m-7-11h8m-7-5h8m-8 8h8m-8-4h8m-6 32h8m-8-32h8m-8 15h8m-7-10h8m-8 2h8m-6 16h8m-7 8h8m-6-14h8m-7-12h8m-6 13h8m-7 14h8m-5-36h8m-7 2h8m-8 6h8m-7 20h8m-8-16h8m-8-5h8m-7-7h8m-7 28h8m-8-11h8m-7 14h8m-8-26h8m-5 17h8m-7 2h8m-8-8h8m-8-18h8m-7 34h8m-6-25h8m-4 18h8m-7-13h8m-7-14h8m-8 13h8m-6 0h8m-7-9h8m-7-1h8m-7 2h8m-6 8h8m-6 1h8m-7 13h8m-3-23h8m-8 15h8m-5 7h8m-6-3h8m-5-11h8m-8 15h8m-5-25h8m-8 35h8m-5-26h8m-3 12h8m-7-19h8m-7 11h8m-2-4h8m-7 6h8m-7 20h8m-5-15h8m-7 16h8m-4-27h8m-8 1h8m-4 19h8m-1-25h8m-4 31h8m-5-24h8m-3 25h8m-7-15h8m-6 15h8m-2-33h8m-6 3h8m-8 27h8m-3-27h8m-3-7h8m-6 25h8m-3-16h8m-8-7h8m-5 6h8m-6 18h8m-7-21h8m-7 30h8m-7-3h8m-3-2h8m-4-2h8m-4 8h8m-7 1h8m-8-20h8m-3-1h8m8-15h8m-2 18h8m-6-7h8m-7 16h8m-4 6h8m-1-34h8m-3 22h8m-8-1h8m-5 17h8m-7-31h8m-8 19h8m-7-4h8m-6-14h8m-7 16h8m-5 5h8m-7-6h8m-6-12h8m-7 26h8m-7-8h8m-7 0h8m-8-16h8m-4 16h8m-8-5h8m-6 11h8m-7 2h8m-8-21h8m-5-3h8m-7-1h8m-4-1h8m-7 16h8m-3-19h8m-7 4h8m-5 13h8m-5 2h8m-7 11h8m-5-2h8m-6-13h8m-8-14h8m-3 29h8m-8-19h8m0 13h8m-8 3h8m-7-9h8m-938 14h8m34 31h8m97 7h8m6-5h8m-4-2h8m-5-1h8m-8 2h8m-6-20h8m-3 26h8m91-27h8m58 2h8m26-5h8m9 20h8m-5-21h8m-2 27h8m-2-26h8m-7 4h8m-8 18h8m2-19h8m-5-1h8m-7 26h8m-4 2h8m-8-6h8m-2-20h8m-8 24h8m-7 1h8m-6-34h8m-8 13h8m-8 20h8m-7-26h8m-8-11h8m-3 22h8m-7-15h8m-7 8h8m-7 16h8m-8 2h8m-7-17h8m-8 6h8m-7-16h8m-7 17h8m-6-10h8m-6-12h8m-4 32h8m-5-5h8m-6-10h8m-5 7h8m-7-24h8m-7 17h8m-8 18h8m-6-30h8m-7 2h8m-8 21h8m-8-9h8m-1-8h8m-7-3h8m-8 8h8m-7 18h8m-5-33h8m-8 32h8m-7-9h8m-6-4h8m-3-19h8m-6 6h8m-7 29h8m-8-5h8m-7-20h8m-7 24h8m-7-24h8m-7-1h8m-4-7h8m-7 29h8m-8 1h8m-5-22h8m-8 23h8m-6 2h8m-6-8h8m-7-4h8m-4 3h8m-5 0h8m-5 7h8m-6-25h8m-8 8h8m-6-2h8m-6 22h8m-7-6h8m-6-21h8m-8 23h8m-7-19h8m-7-4h8m-5 19h8m-8-25h8m-8 17h8m-6 16h8m-8-29h8m-8-3h8m-6 0h8m-8 3h8m-7 17h8m-8 8h8m-5-2h8m-6-6h8m-6-18h8m-6 7h8m-8-2h8m-6-1h8m-4-8h8m-8 28h8m-7-7h8m-5 5h8m-5-30h8m-8 27h8m-7-19h8m-4 21h8m-8 2h8m-2-22h8m-6 17h8m-4-26h8m-5 34h8m-7-18h8m-8-12h8m-8 13h8m-7 14h8m-4-27h8m-6 26h8m-7-29h8m-5 8h8m-6 26h8m-5-17h8m-1-18h8m-4 20h8m-7 11h8m4 0h8m-7-4h8m-8-4h8m-7 6h8m-5 5h8m-5-18h8m-8 18h8m-6-9h8m-5-12h8m-6 14h8m-7-8h8m-6 13h8m-3-31h8m-7 21h8m-8-12h8m-7 3h8m-8 18h8m-7-30h8m-7 15h8m-5 5h8m-7 1h8m-7-14h8m-7 0h8m-7-2h8m-5-2h8m-8 30h8m-6 3h8m-2-6h8m-8-13h8m-7 8h8m-4-3h8m-5 8h8m-6-19h8m-4 16h8m-5-20h8m-5 7h8m-8 1h8m-5-11h8m-8 10h8m-7 3h8m-8 14h8m-7-14h8m-5-16h8m0 4h8m-1 4h8m-3-5h8m-5 4h8m-7 11h8m-4-13h8m-7-6h8m-2 3h8m-4 2h8m-8 17h8m-6-15h8m1 12h8m-6 12h8m-5-8h8m-6 6h8m-3 2h8m-6-11h8m-8-10h8m-7 19h8m-6-20h8m-7 27h8m-8 2h8m-7-27h8m-8-4h8m-5 21h8m-8-18h8m-5-10h8m-6 30h8m-7 4h8m-5-2h8m-8-4h8m-7 0h8m-8-9h8m-8 5h8m-7 14h8m-1-16h8m-3-6h8m-8-7h8m-6 22h8m-6-26h8m-6 30h8m3-23h8m-6 11h8m-6 2h8m-5-19h8m-3 18h8m-2-20h8m-4-5h8m-3 7h8m-7 1h8m-6-8h8m-7 6h8m-7-6h8m-2 30h8m-5-20h8m-6 5h8m-7 6h8m-6-3h8m-6 16h8m-6-11h8m-8-6h8m-7-17h8m-8 36h8m-1-28h8m-6 1h8m-7 8h8m-6-3h8m-8 18h8m-6-15h8m-5 10h8m-7-13h8m-7-9h8m-6 31h8m-6-15h8m-5-11h8m-8-5h8m-1 33h8m-6-22h8m-7 7h8m-5-15h8m-6 26h8m-6-18h8m-8-14h8m-7 8h8m-7-5h8m-7 21h8m-8-9h8m-7-1h8m-8-2h8m-6 6h8m-4 16h8m-8-35h8m-1 24h8m-7-22h8m-6 5h8m-4 17h8m-8 4h8m-7 10h8m-2-34h8m-7 20h8m-958 46h8m-2 2h8m-6 2h8m-1-13h8m-3 3h8m-2 14h8m-7-2h8m-4-10h8m9 10h8m17-15h8m10 7h8m18 0h8m3 5h8m-3 4h8m-8-14h8m-6 0h8m-5-2h8m-8 8h8m-8 4h8m-1-5h8m-2-1h8m-7 4h8m-7-5h8m-7-16h8m-6 11h8m-7-16h8m-7 10h8m-7-9h8m-2-3h8m-7 5h8m-8 10h8m-7-1h8m-8-5h8m-6-6h8m-1 21h8m-7-16h8m-7-9h8m-7 32h8m-6 2h8m-5 0h8m-7-23h8m-3 25h8m-2-11h8m-5-1h8m-7-27h8m-6 24h8m-7 14h8m-7-15h8m4 10h8m103-3h8m-8-28h8m55 19h8m5-6h8m1 8h8m-5-12h8m-8-5h8m-7 19h8m-6-14h8m-4 4h8m-8 7h8m-5-16h8m-7 15h8m-2 1h8m-6-1h8m-8-7h8m-8-6h8m-5-5h8m-6 19h8m-4-15h8m-6 17h8m-7-4h8m-3-5h8m-3-11h8m-6 28h8m-8-10h8m-7 9h8m-2-11h8m-7 1h8m-7 15h8m-7-3h8m-6-29h8m-6 3h8m-8 4h8m-6-3h8m-3-6h8m-8 13h8m-6-11h8m-5 10h8m-8-6h8m-7 17h8m-6 4h8m-8-25h8m-8 9h8m-6-1h8m-8 2h8m-5-13h8m-6 11h8m-4 15h8m-7 5h8m-7-32h8m-6 38h8m-7-7h8m-8-4h8m-8 1h8m-6-26h8m-8 15h8m-7 4h8m-8-20h8m-6 34h8m-7-14h8m-7 4h8m-6 8h8m-7-6h8m-8-6h8m-5-11h8m-6 22h8m-6-15h8m-7 1h8m-7 11h8m-7-7h8m-7-22h8m-7 39h8m-7-13h8m-8-10h8m-7 5h8m-7-20h8m-7 4h8m-8 7h8m-8 0h8m-8-8h8m-8 23h8m-8-18h8m-7-2h8m-6 28h8m-7-12h8m-7-4h8m-4 13h8m-7-12h8m-8-10h8m-8 6h8m-4-2h8m-8 9h8m-8-12h8m-6 3h8m-8 7h8m-7 10h8m-7-12h8m-8 2h8m-8 14h8m-7-29h8m-6 9h8m-8 24h8m-8-27h8m-7 20h8m-5-26h8m-6 7h8m-5 20h8m-7-33h8m-8 4h8m-8 33h8m-6-20h8m-7 7h8m-8-15h8m-6 9h8m-8 14h8m-7-26h8m-7 25h8m-6-9h8m-8-20h8m-7 21h8m-7 2h8m-6-25h8m-5 22h8m-7-10h8m-8-4h8m-8-5h8m-7 28h8m-5 0h8m-8-31h8m-4 33h8m-3-23h8m-7 3h8m-6 11h8m-8-13h8m-4-9h8m-1 2h8m-7 18h8m-8-20h8m-7 13h8m-7 18h8m-8-9h8m-8 11h8m-7-2h8m-7-30h8m-4 23h8m-4-20h8m-5 11h8m-3 8h8m-7-9h8m-7-6h8m-6 16h8m-7 1h8m-8 8h8m-3-16h8m-7-14h8m-2 29h8m-8-5h8m-7 0h8m-4-20h8m-7 12h8m-7 2h8m-7 0h8m-7-15h8m-7-2h8m-8 18h8m-3 14h8m-7-18h8m-8-17h8m-7 2h8m-8 21h8m-8 6h8m-7 4h8m-7-32h8m-8 24h8m-6-22h8m-6 29h8m-8-7h8m-3-3h8m-7 4h8m-8 4h8m-6-22h8m-4 5h8m-3 9h8m-7-24h8m-7 3h8m-8 32h8m-6-34h8m-2 30h8m-5-22h8m-4-4h8m-1 15h8m-5 16h8m31-28h8m1-6h8m-4 33h8m5 1h8m-5-29h8m-7 15h8m-6-22h8m-6 28h8m-6-6h8m-7 4h8m-7 9h8m-7 3h8m-2-13h8m-7 9h8m-7-18h8m-2 8h8m-1 10h8m-4-23h8m-7 1h8m-5 21h8m-7-25h8m-6 26h8m-6-22h8m-7 4h8m-3-14h8m-8 5h8m-8 22h8m-5-8h8m-3-7h8m0 24h8m-7-24h8m-8 16h8m-7 5h8m-6-23h8m-8 24h8m-3-21h8m-7-10h8m-6 3h8m-8 20h8m-5-1h8m-8 2h8m-8-5h8m-6-17h8m-4 29h8m-6 1h8m-7-17h8m-3-5h8m-8 0h8m-3 12h8m-5 1h8m-7-12h8m-7-3h8m-7 6h8m-8-5h8m-7-4h8m-5 28h8m-8-38h8m-3 18h8m-8 14h8m-8-21h8m-8 3h8m-7 18h8m-7 6h8m-8-4h8m-5-13h8m-8-10h8m-7 10h8m-6-21h8m-7 19h8m-5 12h8m-8-29h8m-7 11h8m-7 13h8m-8-25h8m-8 17h8m-7-1h8m-8-17h8m-7 14h8m-6-15h8m-7 0h8m-2 34h8m-8-28h8m-7 12h8m-4 7h8m-8-12h8m-5-10h8m-5 30h8m-7-13h8m-4-1h8m-7 3h8m-7 8h8m-7-29h8m-8 26h8m-1 3h8m-8-18h8m-7-4h8m-6-5h8m-5 12h8m-978 64h8m-1-1h8m-4-10h8m-2-21h8m-8 4h8m-7 26h8m2-32h8m-7 24h8m-8 7h8m-4-27h8m6-8h8m-6 25h8m-6 0h8m-7-12h8m1-3h8m-8 14h8m-8-16h8m-8 21h8m-6 6h8m-8-22h8m-2-3h8m-8-11h8m3 19h8m-7-11h8m-1 21h8m-6-11h8m25-14h8m6 3h8m14-3h8m5-3h8m-5 2h8m-3 3h8m-3 1h8m1-7h8m49 10h8m16 11h8m85-2h8m11-3h8m5-13h8m-7 20h8m12 10h8m-8-24h8m-6 24h8m1 4h8m1-3h8m-2-30h8m-5-2h8m-6 12h8m-3 22h8m-6-7h8m-6-12h8m-3 18h8m-8-16h8m-5 18h8m-8-12h8m-8-10h8m-3-11h8m-4 14h8m-8-14h8m-7-1h8m-7 15h8m-7-10h8m-7-4h8m-7 11h8m-4 11h8m-8 12h8m-4-31h8m-7 9h8m-8-5h8m-7 18h8m-8-1h8m-7-1h8m-8 1h8m-4 8h8m-6-31h8m-6-3h8m-7 34h8m-7-34h8m-8 16h8m-6 16h8m-8-30h8m-5 10h8m-8 10h8m-7 0h8m-7 3h8m-6-12h8m-7-1h8m-8-6h8m-8-4h8m-8 0h8m-7 4h8m-6 26h8m-7-33h8m-8 30h8m-7-15h8m-8-11h8m-7 21h8m-8 12h8m-3-12h8m-8 4h8m-8-5h8m-6 4h8m-7-27h8m-8 16h8m-7 10h8m-8-20h8m-5-8h8m-6 15h8m-7 9h8m-4 3h8m-6-19h8m-8 24h8m-7-30h8m-8 0h8m-6 4h8m-4 16h8m-8-5h8m-6 1h8m-8-17h8m-7 10h8m-7-11h8m-7 0h8m-8 13h8m-8-1h8m-6 7h8m-8 3h8m-6-5h8m-8-5h8m-6 13h8m-3-20h8m-7 22h8m-7-14h8m-7 18h8m-8-22h8m-7 21h8m-8-28h8m-6 19h8m-7-7h8m-4 22h8m-8-2h8m-7 0h8m-8 4h8m-7-13h8m-8 11h8m-6-8h8m-6 11h8m-8-26h8m-6-2h8m-6 1h8m-6-6h8m-7 2h8m-8 17h8m-5-9h8m-7 17h8m-7 5h8m-8-31h8m-7 5h8m-7-11h8m-1 10h8m-6 9h8m-8-10h8m-4-10h8m-5 11h8m-7-6h8m-5 22h8m-7 8h8m-2-31h8m-8 19h8m-7-4h8m-7-18h8m-1 30h8m-6-5h8m-7-8h8m-6-4h8m-8-7h8m-1 32h8m-6-14h8m-7 11h8m-6-2h8m-5 3h8m-7-14h8m-6-14h8m-7 8h8m-7 4h8m-4-7h8m-7-12h8m-6 34h8m-7-1h8m-7-21h8m-6 20h8m-8-27h8m-6-3h8m-5 27h8m-7-7h8m-8 0h8m-6-23h8m-5 5h8m-7-1h8m-8 23h8m-7-5h8m-7 6h8m-8 6h8m-6-7h8m-6-16h8m-7 24h8m-7-19h8m-6-10h8m-8 4h8m-4 6h8m-6-17h8m-8 29h8m-6-25h8m-7 31h8m-5-8h8m-6-14h8m-6 18h8m-8-10h8m-4-21h8m-8 7h8m-8 15h8m-5 12h8m-7-18h8m-4-1h8m-4 13h8m-6 6h8m-8-3h8m-4-26h8m-7 2h8m-7 32h8m-1-6h8m-5-4h8m17 7h8m-7-26h8m-2 29h8m-7-3h8m-4-14h8m-4 13h8m-5-17h8m-7 19h8m-7-17h8m-1-3h8m-6-12h8m-6 27h8m-6-1h8m-7-8h8m-4-4h8m-8-17h8m1 27h8m-5 9h8m-8-18h8m-6-18h8m-8 22h8m-7-24h8m-5 3h8m-8 12h8m-5 16h8m-6-2h8m-6-26h8m-4 22h8m-5-14h8m-1 12h8m-8 13h8m-7-12h8m-7-8h8m-7 4h8m-7 10h8m-7-19h8m-8 16h8m-8-14h8m-7 7h8m-7 7h8m-6-19h8m-8 28h8m-7-32h8m-8 20h8m-4-2h8m-4 10h8m-7-7h8m-6-21h8m-8 8h8m-8-4h8m-7 4h8m-6-11h8m-8 21h8m-8 11h8m-7-22h8m-8 11h8m-7 10h8m-1-28h8m-7 20h8m-8-18h8m-8 11h8m-6 19h8m-7-29h8m-6 1h8m-7 3h8m-8 25h8m-6 1h8m-8-36h8m-7 4h8m-8 6h8m-6 1h8m-6-7h8m-8 7h8m-7-5h8m-8 24h8m-7-6h8m-7-5h8m-8 0h8m-7-12h8m-6 23h8m-8-9h8m-8 12h8m-6 3h8m-8-31h8m-7 30h8m-6-6h8m-7-24h8m-5 12h8m-6-5h8m-8-10h8m-4 18h8m-7-7h8m-6-7h8m-6 8h8m-7 10h8m-8-8h8m-7-14h8m-6 6h8m-6 0h8m-5 24h8m-6-15h8m-8 1h8m-6 16h8m-6-9h8m-7-6h8m-6 8h8m-8 9h8m-7-13h8m-5-6h8m-6 6h8m-7-8h8m-7-13h8m-8 34h8m-5-4h8m-7-29h8m-6 29h8m-6-9h8m-6-14h8m-7 1h8m4-1h8m-982 55h8m-7 13h8m6-14h8m-5 15h8m-7-13h8m-7 5h8m-4-13h8m-5 3h8m-3 15h8m-7-26h8m0 27h8m-8-4h8m-7-24h8m-7 19h8m-7-11h8m-6-12h8m-8 29h8m-7-17h8m-6-2h8m-6 4h8m-5 17h8m-5-1h8m-7-18h8m-7 7h8m-4-16h8m-8 31h8m-7-8h8m-6-20h8m-6 1h8m-8-10h8m1 6h8m-6 29h8m-8-16h8m-8 6h8m-7-13h8m-7-10h8m-7 28h8m-1-31h8m-7 19h8m268-4h8m24 21h8m31-30h8m-8-6h8m-3 1h8m-6 17h8m-6-12h8m-6 22h8m-7-4h8m-2-3h8m-5-13h8m-8-7h8m-8 14h8m-8-1h8m-5-2h8m-2 26h8m-7-9h8m-6-9h8m-7-15h8m-8-2h8m-3 26h8m-7 7h8m-8-34h8m-3 25h8m-7-20h8m-7 10h8m-8-2h8m-7 13h8m-8 7h8m-7-21h8m-7 12h8m-7-22h8m-7 34h8m-6-14h8m-5 11h8m-4-31h8m-7 27h8m-8-9h8m-6-7h8m-6-11h8m-6 5h8m-7 29h8m-8-14h8m-7-21h8m-6 25h8m-7-10h8m-5-16h8m-5 26h8m-8-20h8m-7 30h8m-5-3h8m-3-5h8m-8-31h8m-6 38h8m-8-29h8m-7 21h8m-6 3h8m-8-6h8m-7 11h8m-7-25h8m-3-11h8m-5-2h8m-5 31h8m-6-8h8m-8-1h8m-7-6h8m-5 9h8m-7-2h8m-4-9h8m-6-3h8m-7 22h8m-8 2h8m-7-23h8m-8 20h8m-7-14h8m-5 19h8m-7-8h8m-2 4h8m-3 3h8m-7-4h8m-6-15h8m-8 14h8m-6-12h8m-8-16h8m-8 3h8m-5 28h8m-7-19h8m-6 2h8m-8 13h8m-7-26h8m-5 31h8m-5-34h8m-6 1h8m-7 25h8m-7-20h8m-5 11h8m-5-6h8m-7-10h8m-8 12h8m-3 5h8m-5-2h8m-8 0h8m-6-13h8m-5 23h8m-8-18h8m-8 2h8m-6-7h8m-7 25h8m-8 7h8m-2-20h8m-1-15h8m1 37h8m-7-11h8m-7-2h8m-5 3h8m-7-20h8m-5-2h8m-7 29h8m-8-34h8m-4 10h8m-8 10h8m-7-17h8m-5 2h8m-7-1h8m-6 25h8m-5 5h8m-2-19h8m-7 22h8m-8-3h8m-7-1h8m-6 0h8m-7-6h8m-6-20h8m-8 4h8m-4-8h8m-7 12h8m-7 0h8m-7 1h8m-6 13h8m-7 9h8m-7-37h8m-7 14h8m-4-6h8m-7 21h8m-4-28h8m-8 32h8m-7-11h8m-8-11h8m-7 19h8m-6-20h8m-2-7h8m-7 4h8m-8 11h8m-7-11h8m-4 12h8m-1 16h8m-4-35h8m-6 15h8m-6 9h8m-6 13h8m-7-29h8m-7 22h8m-5-17h8m-8-2h8m-1-3h8m-6-3h8m-7 27h8m-8-9h8m-5-7h8m-5-3h8m-4-13h8m-2 19h8m-7-1h8m-4-14h8m-3 14h8m-5 5h8m-4-5h8m-4 12h8m-7-29h8m-7 17h8m-7 12h8m-4-11h8m-5-13h8m-5 31h8m-6-33h8m-8 9h8m-7 0h8m-8 13h8m-6-7h8m-7-12h8m-6 30h8m-7-16h8m-6 4h8m-6 10h8m-6-18h8m-8 19h8m-5-10h8m-7 3h8m-5-2h8m-7-4h8m-5 7h8m-8-1h8m-8-10h8m-7-12h8m-3 10h8m-7 3h8m-7-22h8m-4 25h8m-7 0h8m-5-15h8m-8 22h8m-4-9h8m-4-2h8m-6 9h8m-8-27h8m-6 11h8m-5 13h8m-8-4h8m-5-17h8m-8 2h8m-8 31h8m-8-20h8m-5 16h8m-8 2h8m-6-19h8m-7 5h8m-7 11h8m-7-11h8m-7-17h8m-8 11h8m-8-16h8m-6 26h8m-7-7h8m-7-9h8m-8 2h8m-6 25h8m-8-22h8m-7-12h8m-8-3h8m-6 8h8m-8 26h8m-8-18h8m-6 14h8m-8 8h8m-8-23h8m-4 3h8m-8-16h8m-8 5h8m-6 26h8m-7-26h8m-8 13h8m-5-18h8m-8 30h8m-7-25h8m-7 30h8m-7-10h8m-8-12h8m0 14h8m-7-4h8m-8 2h8m-7-3h8m-7-15h8m-8 11h8m-7-4h8m-6 12h8m-7-26h8m-5 22h8m-6-21h8m-7 20h8m-8-14h8m-7 27h8m-7-28h8m-6-4h8m-8 15h8m-6 4h8m-4-4h8m-7 10h8m-7-3h8m-5 7h8m-7 1h8m-4-21h8m-8 15h8m-7-18h8m-5 12h8m-8-14h8m-2-4h8m-7-4h8m-7 5h8m2 0h8m-966 72h8m-3-16h8m-3-8h8m-6 2h8m-3 16h8m-4-28h8m-6 0h8m-4 17h8m-6 10h8m-7 3h8m-3-11h8m-7-23h8m-4 38h8m-6-10h8m-8 10h8m-4-20h8m-7-11h8m-6 17h8m-3-5h8m-7 3h8m-6-10h8m-6 7h8m-8 13h8m-7-20h8m-7-9h8m-3 14h8m11-10h8m-8-2h8m-6 3h8m345-1h8m-5 21h8m-6 6h8m-8 1h8m-3-4h8m-5-21h8m-6 20h8m-8-14h8m-7 11h8m-5 3h8m-1 4h8m-2 3h8m-3-36h8m-8 2h8m-2-1h8m-8 35h8m-7-32h8m-5 6h8m-4 21h8m-7 1h8m-8-22h8m-7-2h8m-6 19h8m-6-18h8m-6 27h8m-7-37h8m-7 32h8m-5-19h8m-6 3h8m-7 1h8m-1 9h8m-7-15h8m-8-8h8m-7 10h8m-5-7h8m-6 33h8m-3-21h8m-3-9h8m-8 19h8m-7 8h8m-7-14h8m-6 13h8m-7-35h8m-7 24h8m-8-12h8m-5 7h8m-6-16h8m-7 5h8m-5 0h8m-6-8h8m-8 18h8m-7 6h8m-5-18h8m-7 29h8m-8-22h8m-7 16h8m-7-5h8m-7-16h8m-3 8h8m-6-8h8m-8 21h8m-8 2h8m-7-31h8m-7 22h8m-7-20h8m-5-1h8m-7 10h8m-7 22h8m-4 6h8m-8-39h8m-7 31h8m-7 6h8m-5-21h8m-8 8h8m-7 11h8m-7-11h8m-7 10h8m-7-14h8m-7-11h8m-1 7h8m-7 5h8m-4 14h8m-7-25h8m-7-6h8m1 33h8m-5 0h8m-6-10h8m-8 2h8m-5 4h8m1 3h8m-6-28h8m-7 28h8m-7-20h8m-8-3h8m-6-4h8m-8 25h8m-8-27h8m-8 14h8m-4 16h8m-8-34h8m-7 35h8m-3-13h8m-3-23h8m-6-1h8m-1 30h8m-7 6h8m-7-37h8m-7 6h8m-3 9h8m-8-6h8m-6 18h8m-4-13h8m-7 15h8m-4-14h8m-7 14h8m-5-5h8m-7-20h8m-7 11h8m-7 6h8m-8-19h8m-5 22h8m-7-6h8m-7-10h8m-8 24h8m-6-27h8m-7 15h8m-6 4h8m-6-18h8m-7 22h8m-2-8h8m-7-11h8m-7 15h8m-7-17h8m-7 6h8m-7-11h8m-7 19h8m-8-13h8m-6-2h8m-3-6h8m-7 18h8m-7 21h8m-7-1h8m-6-19h8m-8-11h8m-7 17h8m0-17h8m-7 5h8m-8-1h8m-7 2h8m-7 0h8m-2-13h8m0 13h8m-7 19h8m-3-13h8m-5-11h8m-6-7h8m-3 32h8m-7-13h8m-7-11h8m-5-4h8m-6 1h8m-4-7h8m-5 7h8m-7-5h8m-6 21h8m-7-6h8m-4 1h8m-7-2h8m-6-4h8m-7 8h8m-7 14h8m-7-28h8m-6-3h8m-8 2h8m-6 16h8m-6 18h8m-7-36h8m-8 19h8m-6 16h8m-8-17h8m-7 2h8m-6-23h8m-8 15h8m-7 16h8m-7-30h8m-7 13h8m-8 2h8m-8 0h8m-4-12h8m-8 10h8m-7 19h8m-5 6h8m-7-31h8m-7-1h8m-7 17h8m-7-13h8m-7 25h8m-7-20h8m-7 7h8m-8-15h8m-6 30h8m-7-16h8m-7-14h8m-7-7h8m-8 19h8m-7-6h8m-8 2h8m-7 1h8m-8-16h8m-7 2h8m-7 22h8m-7-3h8m-6 11h8m-7-3h8m-5-22h8m-4 17h8m-7 10h8m-5-35h8m-8 26h8m-8-8h8m-8 1h8m-7 12h8m-7-21h8m-7-6h8m-5-2h8m-8 17h8m-6 4h8m-8 10h8m-7-24h8m-5 8h8m-8-17h8m-7 13h8m-7 5h8m-8 3h8m-7 17h8m-5-21h8m-7 5h8m-6-3h8m-8 8h8m-7-23h8m-7 14h8m-7 8h8m-6 11h8m-7-30h8m-7 16h8m-8 6h8m-6-15h8m-6-13h8m-3 4h8m-6 13h8m-8-7h8m-7-9h8m-5 20h8m-8-3h8m-6-17h8m-4 8h8m-5 13h8m-5-9h8m-7-5h8m-8-8h8m-7 7h8m-6-4h8m-6-1h8m-7 2h8m-8 13h8m-6-11h8m-6 20h8m-1-22h8m-6 0h8m-4 14h8m-2-14h8m0-2h8m-943 73h8m-4-36h8m-5 0h8m-4 9h8m-7 26h8m-6-10h8m1-21h8m4 17h8m-4 13h8m-6 3h8m-2-14h8m4-6h8m-8 15h8m-5-9h8m-8-3h8m-3 3h8m2 14h8m-5-5h8m4 1h8m207 3h8m-3 3h8m17-5h8m-4-2h8m-5-10h8m3 7h8m-6-1h8m-6 3h8m-6 0h8m-7-10h8m5 4h8m5-2h8m-5 12h8m0-11h8m-7-6h8m1-11h8m-7 17h8m3-14h8m-2-1h8m-4-9h8m-6 12h8m-8 0h8m-3 12h8m-6-13h8m-4 7h8m0 5h8m0-10h8m-6 21h8m-5-34h8m-7 37h8m-3-33h8m-5 25h8m-7-3h8m-7-5h8m-2-12h8m-7 17h8m-7 2h8m-1-13h8m-7 1h8m-7-10h8m-5 30h8m-5 1h8m-7-35h8m-4 26h8m-7-24h8m-5 6h8m4-4h8m-8-6h8m-3 23h8m-7 8h8m-8 0h8m-7-8h8m-5 12h8m-6-2h8m-7-14h8m-7 17h8m3-13h8m-8-21h8m-7 24h8m-7 7h8m-5-7h8m-5 1h8m-8 8h8m-4-17h8m-5-9h8m-5 11h8m0 0h8m-6 6h8m-8-17h8m3 11h8m-8-1h8m-7 17h8m-6-13h8m-7-8h8m2 15h8m0 4h8m-5-1h8m-3-5h8m-7 2h8m-4-17h8m-8-3h8m-5 5h8m-8 1h8m5 13h8m-8 9h8m-7-28h8m-8 13h8m-3-13h8m-6 17h8m-8-16h8m-6 25h8m-5-11h8m-8-8h8m11-9h8m-4 2h8m-7 27h8m-4-25h8m-7-11h8m-7 7h8m3-6h8m-4 8h8m-8 4h8m13-12h8m20 29h8m15-26h8m20 1h8m-786 43h8m-1 13h8m1-16h8m0 4h8m-5-3h8m8-2h8m16-5h8m-5 4h8m1-3h8m-2-1h8m-2 6h8m-3-3h8m-7-3h8m-6 19h8m-3-7h8m-5 6h8m-7-7h8m-5 6h8m-4 0h8m-6 0h8m-7-4h8m-7-7h8m-6 8h8m-7 1h8m0 4h8m-5 3h8m-4-5h8m-8 0h8m9 11h8m-2-6h8m4-4h8m4 5h8m-6-7h8m-5 0h8m-5 7h8m-4-7h8m15-1h8m-4-1h8m-8 6h8m1-13h8m-6 2h8m-1 1h8m-6-4h8m-4 4h8m-7 10h8m5-15h8m-7 9h8m-7-10h8m-1 7h8m-4-9h8m17 1h8m-5-1h8m158 2h8m6 17h8m44-14h8m-8-2h8m-5 1h8m6-5h8m-4 23h8m0-20h8m-6 1h8m-7 6h8m0 4h8m0 9h8m7-2h8m3-9h8m6-12h8m-4 9h8" stroke="#d4d4d4" stroke-width="8" fill="none" transform="scale(.1)"/><path d="M1221 2782h8m-528 38h8m28 18h8m440-4h8m-461 8h8m-3 11h8m-3 12h8m25-11h8m380 12h8m0-13h8m-381 53h8m41-11h8m259 10h8m11-17h8m5 10h8m-300 55h8m232-1h8m3-6h8m-242 24h8m-3 3h8m-8 5h8m18 18h8m176-7h8m-5-16h8m-176 31h8m-7 0h8m-5 7h8m-1 6h8m-7-4h8m-7 5h8m-6 1h8m-6-6h8m-5 5h8m10 6h8m112 2h8m-3 10h8m-8-31h8m-358 70h8m-5-4h8m-6 5h8m231-25h8m21 22h8m2 0h8m60-12h8m-360 21h8m276 0h8m-3 3h8m-1-2h8m6 27h8m26-20h8m-2-10h8m-232 70h8m5-10h8m-32 53h8m9-4h8m6-3h8m-3-16h8m38 26h8m163 7h8m440 7h8m-704 36h8m1 8h8m2-12h8m375 0h8m139 146h8m-120 55h8m-349 47h8m250 0h8m-456 63h8m154-33h8m-194 58h8m35-11h8m463 15h8m363 15h8m5-5h8m-916 46h8m454-37h8m-440 51h8m68 45h8m82-4h8m17 4h8m82-16h8" stroke="#9999e0" stroke-width="8" fill="none" transform="scale(.1)"/><path d="M1206 2735h8m6 11h8m-26 15h8m-479 71h8m-2-14h8m439 4h8m-481 28h8m13 9h8m1 1h8m25 1h8m403-15h8m-431 50h8m24 1h8m-8-12h8m3 31h8m-1 2h8m-6-10h8m37-4h8m248 4h8m-307 19h8m84 5h8m174 24h8m1-8h8m-5-11h8m-244 27h8m6 9h8m-4-1h8m7 14h8m19 17h8m0 14h8m4 12h8m-5-1h8m-6 2h8m-7-4h8m124-9h8m-417 24h8m286 5h8m0-3h8m-7 3h8m-7 0h8m-8 13h8m-2 0h8m3 15h8m-2-8h8m-2 9h8m-6-6h8m-277 11h8m127 39h8m157-21h8m-1 0h8m18-2h8m-6-4h8m-277 60h8m18 3h8m-5-6h8m8 2h8m20 10h8m513 54h8m-225 30h8m392 137h8m-646 76h8m-161 55h8m538-17h8m-597 46h8m-3 6h8m-26 43h8m48 15h8m-51 84h8m218 4h8m34-13h8" stroke="#6060ed" stroke-width="8" fill="none" transform="scale(.1)"/><path d="M1208 2790h8m-2-12h8m-7-6h8m-5-10h8m-551 56h8m-3 17h8m509-9h8m-6-7h8m-7 4h8m-440 20h8m13 13h8m365-12h8m-5 15h8m-365 54h8m3-32h8m350 15h8m-320 55h8m224 0h8m-2-6h8m-2-12h8m11-9h8m20 23h8m-291 23h8m0 23h8m-7-28h8m-7 13h8m-8-9h8m-1 5h8m-7 8h8m-5 5h8m11 5h8m165-4h8m-7-22h8m-173 38h8m-1 21h8m-1-10h8m-7 15h8m-6-16h8m-4 3h8m-2 12h8m-4-6h8m-4 10h8m-6-2h8m110-13h8m-5 4h8m-161 27h8m34-9h8m-7 0h8m-6 14h8m-4-1h8m-7 0h8m-7-13h8m-7 9h8m-5-2h8m-7 11h8m-8 4h8m-7-11h8m-7 13h8m-8-6h8m0 5h8m14 7h8m57 5h8m-3-28h8m-74 39h8m9 14h8m0-3h8m-4-2h8m-220 43h8m24-17h8m-6 21h8m-5 4h8m-2-25h8m-33 56h8m11 10h8m249 7h8m-252 14h8m-23 33h8m0 10h8m325 327h8m-494 40h8m17 8h8" stroke="#1414ff" stroke-width="8" fill="none" transform="scale(.1)"/>
<path d="M1136 3796h8m-26 22h8m-4 17h8m6-20h8m-7 21h8m-7-19h8m-6 18h8m-6 0h8m-7-10h8m-6 5h8m0-4h8m28-8h8m-91 59h8m1-32h8m-5 29h8m-2-12h8m0 6h8m-3-23h8m-6 1h8m-1 15h8m-4 9h8m-8-13h8m-7-15h8m-5 20h8m-6-2h8m-8-5h8m-7 22h8m-8-4h8m-3-21h8m-8 20h8m-7-25h8m-8 27h8m-6-8h8m-8-22h8m-6-2h8m-7 5h8m-7 13h8m1 18h8m0-19h8m-3-15h8m1 11h8m-3 17h8m-576 31h8m4 7h8m6 9h8m-8-6h8m-3 4h8m-7 0h8m-5-3h8m-4-15h8m-7 13h8m-2 7h8m-8-8h8m-5-10h8m-6 10h8m-7-10h8m-7 15h8m-5-1h8m-8-11h8m-4-1h8m-8 11h8m-6-1h8m-1-7h8m-7 7h8m-5-1h8m-6-24h8m-4 13h8m-3 15h8m-4-3h8m-3 0h8m-3-7h8m-7 4h8m17 7h8m-7 1h8m336-2h8m-4-26h8m-2 18h8m-1-5h8m4-14h8m-8 18h8m5-22h8m-7 6h8m-5 16h8m-4-6h8m-5 0h8m-8-6h8m-4 23h8m-8-25h8m-7 5h8m-6 8h8m-8 9h8m-7-23h8m-8 18h8m-8-26h8m0 16h8m-7 8h8m-3 4h8m-6-13h8m-6 17h8m-7-36h8m-3 15h8m-5 11h8m7 5h8m0-7h8m-2 12h8m-594 33h8m-1-1h8m1-5h8m-6-2h8m-5-9h8m-7-2h8m-7-7h8m-6 5h8m-7-3h8m-5 16h8m-5-11h8m-8 13h8m-5-4h8m-7-7h8m-8-5h8m-8 9h8m-8-4h8m-7 10h8m-5-13h8m-6 16h8m-8-24h8m-7 10h8m-7 4h8m-6 2h8m-6-8h8m-8 2h8m-6 24h8m-7-35h8m-4 11h8m-6-6h8m-5 10h8m-8-7h8m-8 4h8m-6 16h8m-8-27h8m-5 13h8m-6 4h8m-8-10h8m-8-2h8m-6 16h8m-7-13h8m-8 8h8m-6-1h8m-7 19h8m-5-11h8m-6-15h8m-7 14h8m-4 5h8m-3 5h8m-5-28h8m-7-5h8m-5 27h8m-4-10h8m-8-10h8m4-7h8m-7 8h8m-1 30h8m-4-26h8m2 8h8m-7 0h8m-2-6h8m-7-10h8m-6 19h8m1 15h8m-3 0h8m1 1h8m9-3h8m278-25h8m13-1h8m5 0h8m-6 15h8m-2-23h8m6 14h8m7 6h8m-3-17h8m-6 13h8m-5-17h8m-7 27h8m6-19h8m-6 19h8m-3 3h8m-6-30h8m0 10h8m-5 2h8m-3 21h8m-4-32h8m-7 11h8m-6 3h8m8 8h8m-2-3h8m11 8h8m1-2h8m-514 15h8m4 33h8m1-26h8m-6 3h8m-8 3h8m-1-4h8m-5 16h8m-7 0h8m-6 6h8m10-4h8m243-28h8m4 13h8m19-5h8m-4 2h8m9 26h8m-6-13h8m-6-2h8m-4-21h8m-8 21h8m-7-16h8m-8 16h8m9 1h8m-5 0h8m-6-1h8m-4 0h8m1 3h8m1-23h8m-4 17h8m6 7h8m5-3h8m-7-7h8m-7-7h8m2 7h8m7-3h8m-471 29h8m17 14h8m3-5h8m-7-9h8m-4 9h8m-7 11h8m-7-19h8m-1 8h8m-4 0h8m7 14h8m-3 8h8m20 2h8m-6-12h8m-7-3h8m1 0h8m11 19h8m-3-21h8m123 17h8m-7-1h8m5-14h8m12 13h8m8 5h8m17-25h8m-3-11h8m-5 14h8m0 12h8m-7-18h8m4 14h8m-2 6h8m5 1h8m4-9h8m-6-20h8m2-2h8m-2 37h8m-5-24h8m-4 10h8m8-4h8m-7-9h8m5 25h8m6 4h8m-214 6h8m2 34h8m-7-30h8m6-3h8m17 31h8m-8-37h8m-1 17h8m1 19h8m-7-33h8m-3 5h8m-7 1h8m4 18h8m-6-18h8m-7 5h8m-6 0h8m-6 19h8m-8-7h8m-6-6h8m-5-6h8m-6 5h8m-3 6h8m-6-15h8m-5 26h8m-6-30h8m-7 30h8m-2-15h8m1-13h8m-5 0h8m14-1h8m-6 19h8m8-7h8m5-19h8m0 15h8m1 5h8m15 14h8m-635 41h8m-4-3h8m85 5h8m281-31h8m-1 14h8m3 3h8m6-10h8m-6-2h8m-7-8h8m0 17h8m-6 4h8m13-15h8m27 3h8m-4 19h8m4-19h8m-5-6h8m-3 29h8m7-22h8m15 6h8m2-16h8m1 23h8m14-17h8m-5 12h8m12-15h8m2 23h8m0-13h8m-7 18h8m-628 9h8m-7 4h8m1 2h8m44 20h8m15 6h8m215-23h8m12 17h8m66 4h8m16-26h8m-8 6h8m-3 0h8m6 8h8m17-7h8m0 17h8m-5 1h8m-1-24h8m-5-2h8m-7-3h8m15 19h8m1-9h8m-2-5h8m-7 11h8m3-9h8m-1 23h8m3-13h8m0 15h8m-5-4h8m-7 5h8m-1 3h8m3-39h8m-4 8h8m-5 16h8m1-15h8m-6 20h8m-2 4h8m2 2h8m24 2h8m-6-1h8m9-3h8m41 3h8m44 3h8m-745 12h8m1 13h8m-6-12h8m-3-4h8m-7-4h8m-6 9h8m-7-10h8m-6-3h8m0 14h8m-5-11h8m-3 7h8m-2-3h8m98 30h8m16-11h8m-6-13h8m-4 15h8m191 4h8m-6 6h8m2-10h8m-4 7h8m-2-5h8m-3-2h8m-1-12h8m-7 11h8m-8 2h8m-4-7h8m-3-4h8m-4-2h8m-4-15h8m-7 16h8m-4-6h8m-6 0h8m-7 9h8m-8 0h8m-7 2h8m-6 5h8m-1-13h8m-5 9h8m-1 11h8m-6-4h8m-8-15h8m-1-7h8m-4-2h8m-4 32h8m-4-12h8m-5-3h8m-5-22h8m-7 4h8m-4 5h8m-7-9h8m-7 23h8m-8-2h8m1 4h8m-7-13h8m-1-7h8m-4 30h8m-3-12h8m-3-7h8m-8 5h8m-2 9h8m-3 3h8m-3-3h8m-8-22h8m-4 23h8m-3-7h8m-5 9h8m-8-26h8m-3 7h8m-1-1h8m-5 22h8m-3-14h8m-8 0h8m-6-12h8m-8 11h8m-4 12h8m-5-19h8m-2-3h8m-1 4h8m-5 7h8m2-22h8m-7 19h8m-4-1h8m-6 18h8m-6-26h8m-8-10h8m-8 22h8m1-22h8m-2 16h8m-4-16h8m-6 9h8m-7 24h8m-8-2h8m-6-6h8m-8-1h8m-2 4h8m-7 6h8m-7-2h8m-5-9h8m-3 13h8m-7-22h8m4 12h8m-2-13h8m-7-8h8m-7 29h8m-8 0h8m-8-14h8m-3-6h8m-6 5h8m-7 16h8m-6-31h8m-4 12h8m-6 23h8m-6-8h8m-4-3h8m-8 1h8m-7-17h8m-7 11h8m-8 16h8m2-10h8m-8-9h8m-8-19h8m-1 30h8m-7 2h8m-2-12h8m-5 15h8m4-16h8m-5-7h8m-3 21h8m2 5h8m-782 25h8m-7 3h8m-2 3h8m14-7h8m115-4h8m-3 11h8m-4-10h8m-5 18h8m-4-34h8m-7 22h8m-4 8h8m-5-30h8m-7 6h8m-6-10h8m-7 20h8m-6 6h8m-5 7h8m-6-2h8m-7-14h8m-3-14h8m-7 13h8m-8-12h8m-7 33h8m-7-31h8m-6 2h8m-7 13h8m-5 18h8m164-34h8m-1 20h8m-7 13h8m-7-35h8m-6 20h8m-7-5h8m-5 2h8m-8-20h8m-6 16h8m-1-8h8m-7-2h8m-5 13h8m5 12h8m-5-20h8m-7 7h8m0 18h8m1-15h8m-7-19h8m-6 14h8m-7 17h8m-6 5h8m-7-12h8m-5-20h8m-6 28h8m-5 2h8m-7-22h8m4 3h8m-2-14h8m-2 35h8m3-19h8m-8 14h8m-7-26h8m-6 31h8m-6-23h8m-7 7h8m1 0h8m-8-10h8m-7 23h8m-6-25h8m-7 10h8m-3-17h8m-7 25h8m-4 2h8m-6-12h8m-8 1h8m-6-11h8m-4 9h8m-7-12h8m-8 3h8m-7 26h8m-6-10h8m2 6h8m-7-4h8m6-24h8m-4 32h8m1-17h8m-7 19h8m-6 2h8m-2 0h8m-7-12h8m-7 9h8m-8-19h8m-7 1h8m-6-4h8m-7 18h8m-7 7h8m-6-21h8m-5 14h8m1-30h8m0 8h8m-7 8h8m-6 10h8m-6-3h8m-7-4h8m-8-14h8m0 22h8m-4-17h8m-7-9h8m-3 19h8m-4-16h8m-6-1h8m-5 12h8m-6 6h8m-6 8h8m-2-9h8m-6-4h8m-5 7h8m-4-14h8m-7 27h8m-7-17h8m-7-19h8m-6 12h8m-5 8h8m-7 0h8m-8-13h8m1 2h8m-5 9h8m-5 18h8m-7-1h8m-4-20h8m-5-9h8m-8-4h8m-6 23h8m-7 8h8m-8-21h8m-7-9h8m-7 30h8m-7-2h8m-8 4h8m-5-33h8m-6 6h8m-3 4h8m-6 24h8m-5-5h8m-8-25h8m-6 19h8m-8-1h8m-8-11h8m-7 25h8m-4-17h8m-8 2h8m-6-10h8m-7-8h8m-5 17h8m-4 6h8m-4-19h8m-7-2h8m-3 17h8m-5-12h8m-7-13h8m-2 11h8m-6 23h8m1-18h8m22-2h8m28 23h8m1-4h8m0 5h8m31 0h8m-879 9h8m95 9h8m-6 16h8m-3-3h8m-2-27h8m-5 11h8m-2 4h8m-4 17h8m-7-10h8m-7 10h8m2-33h8m-7 21h8m-8-3h8m2 8h8m-8-17h8m-8 18h8m-7 6h8m-4-24h8m-7-10h8m-8 33h8m-5-7h8m-4-10h8m-8 16h8m-6-6h8m-6 4h8m-6-12h8m-7 7h8m-5 12h8m-6 1h8m-5-15h8m-6-18h8m-3 32h8m-8-1h8m-7-31h8m-6 34h8m-4-1h8m-8-16h8m8-17h8m-8 14h8m-1 5h8m51 7h8m96 1h8m-7-22h8m-8 3h8m-5-11h8m-8 26h8m-1 2h8m-7-19h8m-2-8h8m-6 33h8m-5-8h8m-6-27h8m-8 4h8m-7 2h8m-2 10h8m-2 11h8m-7-13h8m-8 4h8m-8-3h8m-8 9h8m-7-13h8m-7 16h8m-6-25h8m-8 25h8m-2-19h8m-7-1h8m-5 13h8m-6 11h8m-7-14h8m-7-8h8m-6 14h8m-7-24h8m-7 39h8m-5-22h8m-3-13h8m-8 1h8m-6 3h8m-6 19h8m-8-2h8m-7-10h8m-7-3h8m-7 9h8m-6 15h8m-8-29h8m-5 1h8m-5 7h8m-6-9h8m-5 0h8m-4 16h8m-7-3h8m-3-19h8m1 36h8m-6-27h8m-7 2h8m-2-1h8m-8 13h8m-8 4h8m-8-24h8m-4-2h8m-8 1h8m-7 24h8m-7 5h8m-3-20h8m-7 9h8m-8-20h8m-8 9h8m-7-9h8m-6 6h8m-7 33h8m-4-28h8m-8 17h8m-7-23h8m2 30h8m-8-31h8m-6 4h8m-4-7h8m-6 18h8m-4-3h8m-6-12h8m-7 18h8m-5 16h8m-6-12h8m-6 5h8m-6 3h8m-5-30h8m-4 16h8m-2 14h8m-7-29h8m-7-4h8m-8-1h8m-4 6h8m-5-4h8m-8 27h8m-5-13h8m-8 0h8m-3 15h8m-5 4h8m1 3h8m-5-28h8m-7 24h8m-6-10h8m-3-8h8m-7 15h8m-4-7h8m-7 11h8m-5-30h8m-7 11h8m-7-8h8m-4 29h8m-6-28h8m-7 18h8m0 11h8m-7-34h8m-7 32h8m-8-24h8m-6 11h8m-7 8h8m-4-30h8m-8 37h8m-5-9h8m-5-25h8m-6 13h8m12 1h8m-1 20h8m-8-6h8m-4-23h8m-7 12h8m-5-1h8m-8-20h8m-7 15h8m-8-8h8m-4 16h8m-5-18h8m13 1h8m-3 9h8m7-7h8m9 21h8m-2 9h8m0 0h8m-7-37h8m-3 9h8m-4 16h8m-4-23h8m-3 6h8m-4 21h8m0-3h8m-2 12h8m-8-6h8m-5-15h8m-1-4h8m-8 0h8m-7-7h8m-3 11h8m2 15h8m-5-33h8m-8 18h8m-7-18h8m-8 3h8m-5 7h8m-8 7h8m-6 10h8m-5-20h8m-7 32h8m-7-16h8m-7 11h8m-8-17h8m-6 14h8m-4-3h8m-2-7h8m-7 10h8m-7-25h8m-7 11h8m-2-9h8m-8 2h8m-4 10h8m-6-2h8m-5 5h8m-5-1h8m-8 1h8m-1 16h8m-902 34h8m118-14h8m-5-6h8m-5 3h8m-5-5h8m3 13h8m-6-6h8m-5 21h8m-7-5h8m-4 0h8m-8-18h8m-7-1h8m-5 16h8m-6-1h8m-8-30h8m-7 18h8m-7 19h8m-7-34h8m-5-1h8m-7 21h8m-8-22h8m-6 20h8m-6-6h8m-8-9h8m-8-4h8m-7 15h8m-2 15h8m-6-28h8m-7 20h8m-8-16h8m-7 28h8m-4 1h8m-7-7h8m-5-1h8m-7 9h8m-8-12h8m-7 8h8m-8-15h8m-8 5h8m-4-14h8m-8 0h8m-8 11h8m-7-19h8m-8 4h8m-7 11h8m-8-1h8m-6-2h8m-6-1h8m-7 23h8m-6-9h8m-6-16h8m-3-8h8m-6 17h8m-4 16h8m7-1h8m7-19h8m-8 15h8m-5-23h8m-5 1h8m1 20h8m7-14h8m7-3h8m21-8h8m43-3h8m23 4h8m-8 12h8m-7-9h8m-4-1h8m4 8h8m1 20h8m-6-15h8m-7 5h8m-7 3h8m-7-15h8m-5-10h8m-4 19h8m-5 5h8m-7-12h8m-6 7h8m-5-2h8m-8 14h8m-5-34h8m-8 17h8m-7-8h8m-6-2h8m-2 15h8m-4-11h8m-8-11h8m-7 29h8m-8 0h8m-7-26h8m-3 24h8m-2 7h8m-5-3h8m-8-22h8m-3 3h8m-7-12h8m-3 24h8m-6-6h8m2 3h8m-2-10h8m-8 23h8m0 2h8m-7-16h8m-7 0h8m-8 0h8m-8 18h8m-7-12h8m-6-23h8m-7 29h8m-3-1h8m-7-31h8m-3 21h8m-6 7h8m-7 2h8m-7-21h8m-8 13h8m-8 17h8m-5-11h8m-7-10h8m4 6h8m-7-21h8m-6 29h8m3 5h8m-7-10h8m-5 4h8m-6-21h8m-7 5h8m-8 10h8m-8 4h8m-6-13h8m0 8h8m-7 12h8m0-10h8m-8 3h8m8-8h8m-1 15h8m-3-31h8m-8 30h8m-8-29h8m-5 3h8m-5 11h8m-3 14h8m-7-30h8m-7 33h8m-7-28h8m-8 30h8m-8-37h8m-2 0h8m-6 24h8m-7-20h8m-4 20h8m-6 3h8m-3-9h8m-5 15h8m-4-25h8m-6 6h8m-4-1h8m-5-6h8m-2-2h8m0 2h8m-1 17h8m-4-7h8m33 11h8m-6-24h8m-5 15h8m15-18h8m-7 13h8m-6-5h8m-2 16h8m-7-10h8m-7 10h8m-8-25h8m-5 4h8m-6 15h8m4-18h8m-4 18h8m-5 16h8m-6-30h8m-8 13h8m-3 0h8m-5-17h8m-6 6h8m-3 12h8m-2-11h8m-8 19h8m2-27h8m-8 34h8m-8-25h8m-6 9h8m7-5h8m-5 3h8m12 3h8m-7-12h8m-5 29h8m-5-6h8m-6-9h8m-7-17h8m-3 10h8m-8 6h8m0 3h8m1 6h8m-7 0h8m-945 37h8m-6-7h8m0-8h8m-6-6h8m-3-5h8m20 4h8m51 33h8m77-25h8m-7-4h8m-5-5h8m-5 19h8m-8 2h8m-7 4h8m-6-17h8m-6 8h8m-8-3h8m-6-7h8m-6 6h8m-4 15h8m-7-28h8m-8 4h8m-5 23h8m-7-18h8m-6-8h8m-7-3h8m-7 26h8m-8 4h8m-7-29h8m-5 8h8m-7 11h8m-8-1h8m-7 10h8m9-30h8m-8 38h8m-5-26h8m-6-5h8m-4 17h8m-6-12h8m-7 5h8m10-16h8m150 20h8m9-5h8m13-16h8m2 14h8m-3-12h8m-3 24h8m-5-9h8m-8-16h8m-1 0h8m-7 6h8m-6 25h8m-6-28h8m-5 4h8m-6 6h8m-7 10h8m-8-10h8m-7 22h8m-3-9h8m-8 9h8m-5-26h8m-2 24h8m-7-30h8m-6 30h8m-8-19h8m-6 20h8m-1-33h8m-7 26h8m-8-16h8m-4 17h8m-8-1h8m-5-10h8m-3 3h8m-7-12h8m-6 5h8m2 21h8m-8-24h8m-4-11h8m-7 3h8m-6 32h8m-8-16h8m-8 6h8m-5-22h8m-3-3h8m-7 18h8m-5 3h8m-8 1h8m-6 12h8m-6 0h8m-4-34h8m-7 23h8m-5-3h8m-4 9h8m-5 0h8m-2 2h8m-4-23h8m-7 22h8m-8-13h8m-8 14h8m-8-21h8m-2 4h8m-7-6h8m-7 14h8m-5 9h8m-8-17h8m-7 9h8m-7-8h8m-6 15h8m-5-22h8m-4 14h8m-5-19h8m-6 34h8m-7-22h8m-5 17h8m-7-19h8m-6 23h8m-6-7h8m-7-12h8m-8 16h8m-7-27h8m-7 31h8m2-29h8m-3-4h8m1-3h8m-8 3h8m-2-3h8m-1 24h8m32-14h8m-1 5h8m-3-2h8m-3 12h8m-4-8h8m-3-7h8m-7 6h8m6 1h8m1 13h8m-3-21h8m-6 9h8m8-20h8m-8 21h8m-6-3h8m-3 17h8m2-16h8m2 17h8m7-26h8m-8 11h8m-7-14h8m-1 19h8m-3 2h8m-7-16h8m-8-3h8m-6 24h8m1-4h8m2 6h8m-2-33h8m-4 1h8m-7 34h8m-6-28h8m-6 15h8m-4-2h8m-8-6h8m-8 15h8m2 7h8m-8-2h8m-5-16h8m5-15h8m2 27h8m-3-5h8m2 0h8m-977 32h8m-4-5h8m7-8h8m203-3h8m-7 7h8m-6 9h8m-4 8h8m-6-12h8m-6-12h8m24 9h8m253-7h8m9 26h8m-5 8h8m1-25h8m-3-13h8m-6 29h8m-5 9h8m-5-20h8m-8-7h8m-7 14h8m-6 7h8m-5-6h8m-5 11h8m-8-13h8m-6 5h8m-3 7h8m-8-14h8m-6 13h8m-6-36h8m-8 11h8m-6 12h8m-6-1h8m-7 10h8m-1-22h8m-7-2h8m-3 22h8m-6-5h8m-6-9h8m-8-6h8m-4 23h8m-3-27h8m-8 7h8m-5 23h8m-3-21h8m-4-15h8m-1 12h8m-7-7h8m-2 23h8m-5-7h8m-4-1h8m-7-16h8m-7 10h8m-3-13h8m-8 31h8m-6-31h8m-7 5h8m-7 22h8m-8-6h8m-8 2h8m-7-4h8m-5-2h8m-7-13h8m-8 15h8m-7-16h8m7 7h8m-1-8h8m-6 24h8m-7-13h8m-7 9h8m-8 11h8m-4-16h8m-5 21h8m-8-3h8m-4-36h8m-7 21h8m-3 5h8m-5-17h8m-4 25h8m-8 0h8m-1-5h8m-2-3h8m-6 13h8m-7-4h8m-4-7h8m-4 3h8m1-3h8m1 2h8m-8-9h8m-1 12h8m5-24h8m-1 11h8m6-12h8m-7 1h8m-4 11h8m-1-16h8m-6 2h8m-5 21h8m3-6h8m-7-19h8m22 11h8m0 1h8m-7 3h8m4-6h8m0 17h8m-7-6h8m-7 9h8m-7-24h8m5 3h8m-7-6h8m-8 15h8m0 10h8m-3-5h8m13-5h8m-3 4h8m-6 9h8m-7-7h8m-5-22h8m-7 24h8m-3 8h8m-6-6h8m10 8h8m-7-4h8m-8-17h8m-471 39h8m-1 14h8m-8-24h8m1 29h8m-1-22h8m-8 12h8m-7 13h8m-6-8h8m-5-16h8m-7-5h8m-8 3h8m-6 26h8m-6-7h8m-8-21h8m-7 4h8m-8-8h8m-6 25h8m-4-10h8m-7-14h8m-7 21h8m-6-14h8m-7-7h8m-8 14h8m-7-9h8m-5 19h8m-7-28h8m-5 33h8m-6-30h8m-8 17h8m-7 10h8m-6-6h8m-8 5h8m-6-24h8m-7 9h8m-7 21h8m-8 2h8m-8 0h8m-4-30h8m-8-3h8m-7 13h8m-6 2h8m-4-14h8m-8 18h8m-5-6h8m-6-10h8m-5 8h8m-8-12h8m-6 28h8m-8-6h8m-7 6h8m-6-24h8m-1 25h8m-8-34h8m-8 16h8m-4 22h8m-7-5h8m-5 3h8m-2-23h8m-6 16h8m-6-4h8m-6 0h8m-8-13h8m-7 16h8m-6 7h8m-5-23h8m-7 15h8m-6-26h8m-7 21h8m-6 15h8m-4 2h8m-7-7h8m-6-15h8m-6 2h8m-4 19h8m-7-11h8m-1 8h8m-6-17h8m-1-5h8m-5 10h8m-2-1h8m-7-7h8m-7 8h8m4-3h8m-7-11h8m-8 14h8m4-22h8m-7 18h8m-2 18h8m-5-28h8m-8 7h8m4 15h8m-8-28h8m-7 19h8m-7 5h8m-5-17h8m2 28h8m-7 1h8m-6-30h8m-7 15h8m-8-16h8m4 26h8m-6-26h8m-7 17h8m-7-17h8m-3 19h8m-6 1h8m-7-3h8m-6-7h8m-6 16h8m-4 1h8m-6 0h8m-4-19h8m-5 11h8m-7 9h8m-1-6h8m-7 1h8m-8-13h8m-8 11h8m-2-10h8m-7 13h8m9-21h8m6-5h8m-8-2h8m-6 4h8m-1-2h8m-5 13h8m-6 2h8m-5 9h8m-6-5h8m-6 4h8m-8 4h8m-4-27h8m0-5h8m4 23h8m2-4h8m11-4h8m-6 11h8m-3-7h8m-5 15h8m-7-33h8m-5 17h8m-6-18h8m-6 0h8m-4 21h8m-5-2h8m6 13h8m4-9h8m-3 11h8m-5-17h8m-6 20h8m-4-7h8m0-11h8m-4-13h8m-6 25h8m-1 4h8m3-25h8m-7 18h8m-504 20h8m-4 26h8m-7-28h8m-8 27h8m-4 3h8m-6-15h8m-6 10h8m-8-18h8m-7-11h8m-6 33h8m-6-32h8m-6 10h8m-7 4h8m-1 2h8m-4 16h8m-8 0h8m-6-30h8m-6 19h8m-4-15h8m-4 5h8m-6-6h8m-8 17h8m-7-15h8m-8-6h8m-7 22h8m-8 11h8m-8-17h8m-7-13h8m-6 29h8m-6-11h8m-7-14h8m-7 6h8m-7-6h8m-8 9h8m-6 0h8m-6 15h8m-8-27h8m-7 8h8m-7 17h8m-7-30h8m-7-4h8m-7 15h8m-7 11h8m-5-1h8m-8-7h8m-4 5h8m-6-18h8m-7 27h8m-7-1h8m-7-22h8m-6 0h8m-7 5h8m-7 13h8m-6-12h8m-2 16h8m-4-1h8m-7-13h8m-5-16h8m-3 35h8m-8-34h8m-7 12h8m-8 11h8m-8-15h8m-6 12h8m-7-20h8m-1 31h8m-8-26h8m-5 20h8m-8-16h8m-4 11h8m-5-15h8m-8 28h8m-5-8h8m-5-20h8m-8 25h8m-8 4h8m-7-30h8m-8 11h8m-8 13h8m-2-5h8m-6-24h8m-7 8h8m-5 17h8m-7-10h8m-8-7h8m-8 6h8m-7 23h8m-7-21h8m-6 21h8m-8-10h8m-7 9h8m-8-7h8m4 1h8m-6 2h8m-6-2h8m-2-3h8m-5-28h8m-7 36h8m-7-1h8m-6-18h8m-8 3h8m5 16h8m-5-11h8m-5 0h8m-7-5h8m-5 1h8m-7 5h8m-5 6h8m-2-12h8m0 10h8m-6-22h8m-3 3h8m-8-10h8m-3 21h8m-8 4h8m-5-11h8m-6-3h8m-6-12h8m-5 14h8m-3-14h8m-7 9h8m-8 8h8m-8-13h8m-3 2h8m-7 24h8m-8-16h8m-4-3h8m-5-10h8m-4 22h8m-4-21h8m-7 15h8m-7-9h8m-7 6h8m2 19h8m-5-9h8m-6 3h8m-5-3h8m-5 0h8m-6-2h8m-4 7h8m-3 10h8m-6-12h8m1-5h8m1-4h8m-5-6h8m-5-4h8m-5-8h8m-7 2h8m-2 7h8m-5-2h8m-6 21h8m-5-7h8m-2-8h8m0 10h8m0-6h8m-1-7h8m-5 10h8m-5-4h8m-7 7h8m-8 13h8m-8-23h8m-8 22h8m-5 2h8m-1-5h8m1-20h8m-7-4h8m-6 11h8m-3-14h8m-1 16h8m-5 6h8m-7-19h8m-3 24h8m-8-32h8m14 23h8m-7-7h8m-6 11h8m4 8h8m-6-6h8m-4 0h8m-3-10h8m-1 19h8m0-7h8m-3-17h8m-3-7h8m-7-4h8m-8 25h8m-5-6h8m-6 17h8m-8-34h8m-7 21h8m-7 12h8m-8-6h8m-7 7h8m-8-13h8m-4-4h8m-1 3h8m-6-5h8m-3 19h8m-923 24h8m-6 15h8m-7-13h8m-7-1h8m-6 10h8m-8-6h8m-7 10h8m-5-4h8m-7 0h8m368-11h8m-2-8h8m-7-6h8m-5-6h8m-4 12h8m-5 10h8m-5 5h8m-5-11h8m-7-7h8m-3 11h8m-8 9h8m-8-23h8m-8 22h8m-3-2h8m-7 5h8m-7-24h8m-7-3h8m-7 0h8m-7 4h8m-3-8h8m-6 30h8m-8-29h8m-8-1h8m-7 15h8m0-13h8m-4 30h8m-8-28h8m-8-3h8m-7-2h8m-8 28h8m-7 2h8m-6 3h8m-7 0h8m-8-14h8m-6 17h8m-8-38h8m-6 1h8m-7 3h8m-7 28h8m-6-10h8m-7 4h8m-8-20h8m-6 19h8m-5-24h8m-7 30h8m-6-18h8m-8 10h8m-5 7h8m-8-11h8m-6 3h8m-6-18h8m-8 2h8m-7 16h8m-6-6h8m-8-6h8m-6 3h8m-6-2h8m-8 21h8m-1-26h8m-7 15h8m-7 10h8m-6-25h8m-7 15h8m-8-7h8m-7-6h8m-8 19h8m-7-17h8m-7 8h8m-7-5h8m-7 3h8m-8 1h8m-7 6h8m-4 2h8m-7 10h8m-7-29h8m-8-2h8m-7 13h8m-7-10h8m-8 19h8m-8-1h8m-4 14h8m-6-11h8m-8-17h8m-8 11h8m-6 17h8m-8-4h8m-8-34h8m-5 21h8m-5-20h8m-8 8h8m-7 15h8m-6-3h8m-5-10h8m-6-1h8m-2 3h8m-7-3h8m-7 28h8m-5 0h8m-2-3h8m-6-12h8m-8-2h8m-7-3h8m-7 9h8m-7-21h8m-8 26h8m-7 0h8m-6-8h8m-8-23h8m-6-2h8m-2 27h8m-7 6h8m-8 3h8m-7-24h8m-8-10h8m-5 19h8m-7 10h8m-4-28h8m-7 26h8m-5 1h8m-5-3h8m-7 11h8m-6-31h8m-8 27h8m-6-23h8m3 9h8m-4-17h8m-6 1h8m-6 30h8m-6-10h8m-6-20h8m-5 12h8m-4 9h8m-6 9h8m-7-3h8m-8-15h8m-7 5h8m-8 15h8m-7 1h8m-5-32h8m-7 20h8m-1-7h8m-7 13h8m-6-19h8m-8 1h8m-2-3h8m-6-1h8m-6 17h8m-7 7h8m-6-29h8m-8 5h8m-7 7h8m1 7h8m-3-14h8m-8-3h8m-8 2h8m-6 11h8m-6 6h8m-6-8h8m-4 19h8m-5-19h8m3 1h8m-7-13h8m-6 14h8m-4-7h8m4-11h8m-3 24h8m33 6h8m21-29h8m58 3h8m-4 14h8m-5 8h8m-8-7h8m-8 17h8m-7-31h8m-7 23h8m-7-19h8m-7 3h8m9-10h8m-6 15h8m-7-11h8m-5 21h8m-8-1h8m-7-12h8m-6 23h8m-8-2h8m-4-10h8m-5 4h8m-7 7h8m-2-4h8m-7-12h8m-8 3h8m-8-7h8m-8 12h8m-7-29h8m-5 25h8m-7-4h8m-7-17h8m-8 3h8m-5 25h8m-7-3h8m-7 5h8m-6 1h8m-8-23h8m-8-5h8m-8 24h8m-4-18h8m-6 19h8m-8-28h8m-7 13h8m0 19h8m5-17h8m-946 30h8m-5-3h8m18 6h8m-2 17h8m118 6h8m-4-6h8m-7 0h8m-5 2h8m-1-5h8m-4 12h8m138 1h8m12-13h8m7-22h8m9 19h8m-5-8h8m0 20h8m8-9h8m-5-16h8m-6 25h8m-6-19h8m-7-3h8m-7-9h8m-3 30h8m-6-31h8m-7 17h8m-6-8h8m-7 25h8m-7-4h8m-6-2h8m-8 7h8m-7-21h8m-7-3h8m-6 1h8m-6 9h8m-7-9h8m-6 7h8m-8-15h8m-7 15h8m-6-19h8m-4-3h8m-8 8h8m-4 4h8m-6 9h8m-6-1h8m-8 5h8m-8-1h8m-5 7h8m-6-8h8m-7 8h8m-7-29h8m-6-1h8m-7 2h8m-6 15h8m-8-9h8m-4 21h8m-8 6h8m-6-11h8m-7 12h8m-6-17h8m-5-13h8m-7 8h8m-7-7h8m-8 7h8m-7 11h8m-8-21h8m-2 14h8m-8 15h8m-7-16h8m-7 13h8m-7-16h8m-4-13h8m-7 32h8m-6-13h8m-5 8h8m-7-20h8m-8-2h8m-8 19h8m-6 1h8m-8 9h8m-6-2h8m-6-18h8m-8 19h8m-7-8h8m-8-15h8m-5 18h8m-7-9h8m-6 10h8m-7-5h8m-8 6h8m-6-29h8m-7 14h8m-7 12h8m-7 5h8m-8-26h8m-7-3h8m-4 16h8m-6-16h8m-6 1h8m-5 8h8m-8 6h8m-7-7h8m-8-8h8m-6 8h8m-8 7h8m-4-13h8m-8 26h8m-7-11h8m-4-1h8m-8 12h8m-3 5h8m-5-37h8m-7 18h8m-8 7h8m2 2h8m-5-16h8m-6-4h8m-4 4h8m-7 3h8m-4 0h8m-8-1h8m-7 11h8m-5 2h8m-8 8h8m-8-31h8m-6-3h8m-6 18h8m-7 9h8m-8-4h8m-5-19h8m-2 34h8m-8-3h8m-7-11h8m-7-14h8m-5-11h8m-6 3h8m-7 30h8m-8-21h8m-1 3h8m-4 2h8m-7-14h8m-8 2h8m-4-5h8m-6 34h8m-7-4h8m-7-17h8m-4 15h8m-7 9h8m-7-26h8m-7-5h8m-7 19h8m-8-17h8m-4 23h8m-3-10h8m-8-11h8m-6 9h8m-8 0h8m-7-4h8m-6 8h8m-4 9h8m-5-6h8m42-17h8m-3 3h8m4 2h8m2-10h8m-6 4h8m-7 5h8m2 9h8m-6 2h8m-2-23h8m1 3h8m1 18h8m-5 7h8m-7-26h8m-5 10h8m60 4h8m-6-12h8m2 29h8m-1-34h8m-7 16h8m-7-5h8m-5 13h8m-5-12h8m-6-5h8m-6 17h8m0 9h8m-7 0h8m-3-7h8m-4 6h8m-8-19h8m-6-3h8m-7 21h8m-4-31h8m-7 39h8m-3-3h8m-7-4h8m-2-19h8m-6-9h8m-8 4h8m-3 3h8m-8 16h8m-8-2h8m-6-25h8m-6 34h8m-8-22h8m-6 4h8m-7-10h8m-7-4h8m-947 77h8m0-6h8m2 2h8m-7-5h8m-8-15h8m-4 24h8m-5-9h8m-3 9h8m-6-10h8m-2 4h8m0 6h8m28-33h8m18 33h8m5-2h8m-5-2h8m-3-10h8m-4-2h8m-2 12h8m-7-2h8m-7-3h8m-6-3h8m0-21h8m-4 20h8m-8 13h8m-6-5h8m-3-14h8m-7 7h8m-7-5h8m-8-2h8m0 3h8m-8-20h8m-2 12h8m-8 20h8m-7-33h8m-8 27h8m-7-6h8m-6-5h8m-7-15h8m-7 31h8m-6-4h8m-5 4h8m-4-10h8m-5-8h8m-8 17h8m-5-10h8m-6-14h8m-7 25h8m-7-16h8m171-6h8m6-6h8m-6 23h8m4 6h8m-5-29h8m-5 25h8m-8-16h8m-7 13h8m-7 10h8m-8-8h8m-6-30h8m-6 30h8m-6 0h8m-8 7h8m-1-10h8m-6-23h8m-3 5h8m-7 1h8m-5 28h8m-7-22h8m-7 18h8m-2 2h8m-7-7h8m-4-14h8m-6-10h8m-6 22h8m-7-5h8m-7-10h8m-2 3h8m-7 17h8m-8-19h8m-6 24h8m-6-22h8m-7 13h8m-6-6h8m-7 7h8m-7-27h8m-7 1h8m-8 17h8m-8-4h8m-8-3h8m-7 1h8m-8 24h8m-7-14h8m-8 2h8m-8-10h8m-7 0h8m-5-3h8m-7 6h8m-6 10h8m-7-23h8m-6 3h8m-7 25h8m-7-32h8m-8 27h8m-7-25h8m-8 30h8m-7-31h8m-8-2h8m-6 37h8m-8-25h8m-8 7h8m-6 11h8m-7-5h8m-7-17h8m-8 30h8m-7-21h8m-7 14h8m-7-29h8m-8 27h8m-7-11h8m-6 7h8m-8-5h8m-8-1h8m-6-14h8m-6 15h8m-7 11h8m-7 5h8m-7 1h8m-7-24h8m-6-5h8m-7 20h8m-8-23h8m-7 1h8m-1 21h8m-8 2h8m-7-20h8m-6 29h8m-8-14h8m-8 1h8m-6 12h8m-8-23h8m-7-5h8m-6-1h8m-6 14h8m-7-22h8m-8 24h8m-8-25h8m-8 14h8m-6 25h8m-8-17h8m-7-18h8m1 1h8m-4 1h8m-7 5h8m-5 3h8m-8-2h8m-8 11h8m-8 15h8m-8-11h8m-7 7h8m-8-7h8m-8-4h8m-7-6h8m-8-12h8m-7 32h8m-7-31h8m-5 14h8m-8 12h8m-7-25h8m-8 16h8m-5 5h8m-7-15h8m-7 24h8m-8-9h8m-7-18h8m-6 13h8m-7 16h8m-8 0h8m-7-19h8m-8 15h8m-4 3h8m-7-3h8m-7-15h8m-8 9h8m-3-23h8m-6 29h8m-7-11h8m-6 1h8m-7 1h8m-7-1h8m-7-25h8m-4 16h8m-8-1h8m-8 1h8m-7 10h8m-3 2h8m-6 8h8m-7-31h8m-4-1h8m-5 10h8m-8-3h8m-6 22h8m-4-4h8m-8 10h8m-7-19h8m-8-10h8m-6 29h8m-5-21h8m-8 16h8m-6-29h8m-7 33h8m-6-6h8m-5-2h8m-6-28h8m-5 25h8m-8 4h8m-7 3h8m-6 2h8m-8-31h8m-3 24h8m-4-20h8m-7 17h8m-4-11h8m1 3h8m-4-16h8m-7 35h8m-7-25h8m-6-3h8m-4 14h8m88-4h8m-4 3h8m-5-11h8m36-5h8m18 29h8m-1-10h8m-7 14h8m-4-10h8m-6-24h8m-8 23h8m-6-22h8m-7 3h8m-8 19h8m-3-27h8m-6 0h8m1 4h8m-3 14h8m-7-16h8m-3 12h8m-7 13h8m-8-15h8m-8-2h8m-7 25h8m-6-24h8m-7-9h8m-8 10h8m-4 4h8m-7-3h8m-6 21h8m-5-26h8m-6 24h8m-7-6h8m-4-12h8m-4 7h8m-1-14h8m4 1h8m-7-6h8m-7 17h8m-966 59h8m-1-7h8m-8 5h8m-7-11h8m-8-7h8m-6 12h8m-7-5h8m-7-15h8m-4 25h8m-7 0h8m-8-6h8m-7-30h8m-7 8h8m-5 22h8m-7-13h8m-7 1h8m-5-11h8m0 7h8m-4 9h8m-7-7h8m-4-15h8m-8 23h8m-6 2h8m-7 8h8m0-17h8m-3 2h8m-7-15h8m-8-4h8m0 10h8m-3 0h8m-7 4h8m4 12h8m-3 2h8m11-27h8m-6 6h8m21-4h8m2-1h8m-6 4h8m0-2h8m-8-3h8m5 2h8m2 11h8m-4-6h8m-7-1h8m0 1h8m8-5h8m14 7h8m0 6h8m155 13h8m-8-20h8m4 25h8m-7-34h8m-6 31h8m-2-14h8m-4-14h8m-7 23h8m-7-14h8m0 26h8m-5-32h8m-5-3h8m1 22h8m-7-1h8m-7-20h8m-8 34h8m-7-37h8m-5 26h8m-6-5h8m-7 5h8m-7-5h8m-8-19h8m-5 5h8m-6 10h8m-8 5h8m-7 12h8m-5-9h8m-7-10h8m-6 8h8m-7 3h8m-8 8h8m-7-10h8m-7-23h8m-8 13h8m-6 24h8m-8-21h8m-3-18h8m-5 8h8m-7 10h8m-8-12h8m-7 0h8m-8 12h8m-6-1h8m-8 19h8m-7-4h8m-8-23h8m-6 30h8m-8-11h8m-7-18h8m-5 14h8m-8-13h8m-7 28h8m-7-27h8m-7-7h8m-8 28h8m-7-11h8m-8-5h8m-7-7h8m-7 8h8m-7-8h8m-7-8h8m-7 0h8m-7-1h8m-8 24h8m-6-7h8m-6-12h8m-7 26h8m-7-18h8m-5-13h8m-7 33h8m-6-29h8m-8 23h8m-7 3h8m-8-1h8m-6-13h8m-5 7h8m-7-15h8m-8 11h8m-7 8h8m-6-12h8m-8-11h8m-8 16h8m-7 2h8m-7 16h8m-7-24h8m-6 21h8m-6-7h8m-7-22h8m-8 25h8m-2-19h8m-7-9h8m-8 26h8m-8 9h8m-8-28h8m-6 16h8m-8-6h8m-6-7h8m-8 10h8m-7 0h8m-8-14h8m-7 11h8m-7-20h8m-8 33h8m-3-10h8m-6 10h8m-7-5h8m-7-26h8m-6 16h8m-7-7h8m-7-10h8m-8 12h8m-5 3h8m-7 0h8m-8-15h8m-8 16h8m-7 15h8m-7-19h8m-8 14h8m-8-23h8m-7 13h8m-8-17h8m-5 34h8m-4-2h8m-7-13h8m-4-8h8m-6 10h8m-7-8h8m-7 20h8m-7-24h8m-7 13h8m-4-8h8m-5-1h8m-7 18h8m-4-6h8m-7-25h8m-5 20h8m-7-15h8m-5 9h8m-7 5h8m-6 10h8m-7-7h8m-5 9h8m-7-5h8m-7-20h8m-8 25h8m-7-28h8m-7 2h8m-6 30h8m-7-2h8m-7-11h8m-6 3h8m-7 4h8m-3-3h8m-7-17h8m-6-1h8m-6 11h8m-6-18h8m-8 1h8m-8 3h8m-8 13h8m-6 7h8m-5-2h8m-6-17h8m-7 5h8m-5-3h8m-5 14h8m-1-2h8m-7-16h8m1 14h8m-5-16h8m-3-3h8m12 16h8m-7 20h8m26-3h8m8-2h8m10 4h8m0-11h8m-1-18h8m-8-3h8m8 19h8m11 8h8m-2 0h8m-3-9h8m15 1h8m-7 4h8m-4 3h8m-8-1h8m-2 0h8m-8 0h8m-6-23h8m-6 12h8m-3 5h8m-5-21h8m-5 13h8m-7 16h8m2-5h8m-1-13h8m0 20h8m-4 7h8m-7-29h8m-7 1h8m-8-10h8m-3 10h8m1 11h8m-6-4h8m-7 1h8m-8 14h8m-2 5h8m-5-1h8m-6-16h8m-4 13h8m-7-20h8m-971 37h8m2 23h8m-2-28h8m-8 15h8m-6 15h8m-7-6h8m-7-24h8m-8 0h8m-6 23h8m-4 7h8m-4-36h8m-6 19h8m-7-1h8m-8 17h8m-1-34h8m0 14h8m-7 1h8m-7 6h8m-6-5h8m0 19h8m-8-7h8m-7-7h8m-6 9h8m-6 0h8m-6-10h8m5 12h8m-1-4h8m-8 9h8m-4-34h8m-5-1h8m309 10h8m6 12h8m0-21h8m-8 11h8m-6-5h8m-3 10h8m-8 3h8m-8-7h8m-7 9h8m-6-14h8m-5 20h8m-7-8h8m-7-18h8m-8 19h8m-6 14h8m-7-1h8m-3-30h8m-3-5h8m-7 28h8m-6-21h8m-5 23h8m-6-14h8m-8-11h8m-7 1h8m-5 8h8m-3-13h8m-2 7h8m-5 10h8m-5-2h8m-7-11h8m-6 25h8m-8-20h8m-8 26h8m-2-22h8m-6 19h8m3-33h8m-6 25h8m-7-18h8m-7 30h8m-8-21h8m-4 10h8m-7-14h8m-8 10h8m-7 11h8m-7-28h8m-8 10h8m-7 7h8m-3 8h8m-8-24h8m-7 12h8m-8-15h8m-5 23h8m-7-8h8m-7 17h8m-7 1h8m-7-28h8m-8 16h8m-8-9h8m-6-1h8m-7 3h8m-8 13h8m-5-8h8m-8 10h8m-7-24h8m-5-4h8m-7 33h8m-8-24h8m-7-1h8m-6-8h8m-7 1h8m-5 22h8m-7-4h8m-7-9h8m-8-13h8m-5 24h8m-7-22h8m-8 22h8m-5-12h8m-7 13h8m-5-26h8m-6 17h8m-7-6h8m-7 12h8m-6-16h8m-7 13h8m-6-14h8m-7-5h8m-3 20h8m0-18h8m-8 34h8m-5-4h8m-3 4h8m-5-22h8m-6-16h8m-7 19h8m-7-7h8m-7 9h8m-7-22h8m-6 34h8m2-2h8m-6-16h8m-6 2h8m-6-4h8m-7 11h8m-5-15h8m-8 11h8m-7 0h8m-7 2h8m-6-14h8m-8-2h8m-6 16h8m-8 0h8m-1-4h8m-7 16h8m-7-11h8m-7 12h8m-6-31h8m-7 23h8m-5-4h8m-7-20h8m-2 8h8m-1 11h8m-6-14h8m-8 10h8m-7 14h8m-7-29h8m-8 32h8m-6-1h8m-8-26h8m-6 26h8m-5-26h8m-4-4h8m-7 18h8m-8-9h8m-6-11h8m-5 8h8m-7 0h8m-2 21h8m-7-26h8m-5 19h8m11-18h8m-5 22h8m14-14h8m-5 1h8m-4 15h8m4 1h8m-6-19h8m15 5h8m3 20h8m-3-1h8m-7 1h8m-4-4h8m7-12h8m-4-15h8m-6 3h8m-7 22h8m-5-28h8m-8 14h8m-5 18h8m-7-11h8m-5 4h8m-7 5h8m-6-21h8m-4 20h8m-7-31h8m-8 8h8m-8 6h8m-7-13h8m-5 1h8m-6 26h8m-5 0h8m-7-1h8m-5-11h8m-2-1h8m-7 5h8m-7 16h8m-5-20h8m-6-4h8m-2 25h8m-4-16h8m-7-20h8m-6 23h8m-6-10h8m-6 1h8m-7 16h8m-5 5h8m-8-25h8m2 4h8m-4 9h8m-8-7h8m-5 5h8m-5-10h8m-4 3h8m-8-4h8m0 14h8m-8-9h8m-7-5h8m-8 20h8m-7-5h8m-4-7h8m-6 18h8m-6-6h8m10-30h8m-7-3h8m-956 40h8m-7 23h8m0-17h8m-7 14h8m-5-7h8m-2 6h8m-7-6h8m-1 18h8m-8-13h8m-7 3h8m-8 5h8m-5-20h8m-7 19h8m-7-15h8m-7 16h8m-5-16h8m-8 26h8m-7-32h8m-8 13h8m-1-10h8m-8 15h8m-7 16h8m-6 0h8m-8-18h8m-5-11h8m-8 5h8m-3-5h8m-7 24h8m-7-13h8m-6 11h8m304-19h8m11 1h8m11 16h8m0-28h8m-6 5h8m-4 25h8m-4 7h8m-8-31h8m-8 29h8m-4-11h8m-5-18h8m-8 30h8m-3-17h8m-5-3h8m-6-11h8m-6 15h8m-7-11h8m-8 6h8m-7 20h8m-7-18h8m-7-17h8m-7 22h8m-8-6h8m-4 21h8m-4-20h8m-6 15h8m-6-21h8m-8-2h8m1 24h8m-6-27h8m0 28h8m-6-11h8m-7-11h8m-6 17h8m-8-10h8m-2-15h8m-8 27h8m-7-3h8m-7-16h8m-3-5h8m-7 15h8m-8-1h8m-6 7h8m-4-1h8m-5-19h8m-8-1h8m-6-6h8m-7 31h8m-3 6h8m4-32h8m-1-6h8m-1 31h8m-4-31h8m-2 31h8m-6-25h8m-8 12h8m-7-1h8m-2 1h8m-4-12h8m-2 18h8m-4-18h8m-8 10h8m-2 2h8m-6-16h8m-7 1h8m-7-4h8m-7 16h8m-7 13h8m-5 0h8m-5-26h8m-5 19h8m-8-3h8m-3-11h8m-8 15h8m-6 7h8m-8-1h8m-5 7h8m-7-19h8m-8 21h8m-7-6h8m-7-28h8m-8 5h8m-8 25h8m-8-28h8m-6-4h8m-8 29h8m-7 6h8m-5-26h8m-6 19h8m-7-23h8m-8 30h8m-6-35h8m-2 5h8m-7 22h8m-8 8h8m-8-10h8m-5 2h8m-8-9h8m-5-5h8m-5-10h8m-6-2h8m2 13h8m-7 16h8m-8-3h8m-5-26h8m-3 16h8m-6 11h8m-7-16h8m-7 5h8m-4-4h8m-6-9h8m-8 29h8m-5-21h8m-7 10h8m-5 10h8m-6-12h8m-8-4h8m-1-16h8m-3 31h8m-1-24h8m4-5h8m13 20h8m-7 0h8m1-22h8m-6 17h8m-8 7h8m-5 1h8m-5-1h8m2-22h8m0 32h8m-6-19h8m-3-12h8m-7 18h8m-5-20h8m-7 12h8m-8 12h8m-6-7h8m-4-5h8m-7 22h8m-6-36h8m-7 11h8m-3 19h8m-7-22h8m4 9h8m-7 17h8m-7-20h8m-8-2h8m-3 5h8m-6-11h8m-5 3h8m-7 1h8m-8-1h8m-7 19h8m-4-13h8m-6 5h8m-2 17h8m-7-27h8m-6-3h8m-7 26h8m-6 5h8m-4-22h8m-7-11h8m-7 14h8m-7 13h8m-7-22h8m-8-4h8m-8-3h8m-7 21h8m-7-11h8m-7 12h8m-5-20h8m-7 18h8m-6-12h8m-5 5h8m-8 5h8m-7 16h8m-7-27h8m-6 15h8m-6-2h8m-2-19h8m-7-2h8m-4 24h8m-6-20h8m-7 11h8m-6-3h8m-2 0h8m-7-12h8m-3 10h8m2-11h8m0-2h8m-936 71h8m-3 4h8m-7 0h8m-1-22h8m-3 8h8m-7 6h8m-3 2h8m-3-2h8m0-24h8m-2 16h8m-7-18h8m0 1h8m11 28h8m-6-29h8m-7 30h8m-8-29h8m-6 2h8m-3 35h8m-4-4h8m-6 3h8m209 1h8m1-2h8m8 2h8m17-6h8m-1-6h8m-2 7h8m-7 0h8m2-1h8m-3-7h8m-2-1h8m4-6h8m4 7h8m-2-5h8m1-17h8m-6 2h8m-6 11h8m-2 5h8m-6-19h8m-8 26h8m-2-14h8m-1-4h8m5 5h8m2 0h8m-8 14h8m-5-24h8m-7 4h8m-7-1h8m-4 6h8m-6-6h8m-8-9h8m-3 21h8m-1-6h8m-3 3h8m-7 1h8m-1-18h8m-8 4h8m-2 3h8m-6 24h8m-8-23h8m-7 21h8m-8-30h8m-8 16h8m-7-13h8m-4 17h8m-2 11h8m-6-30h8m-7 0h8m-7 14h8m-5-13h8m-5 24h8m-7 9h8m-6 3h8m-5-38h8m-6 37h8m-4-30h8m-7 25h8m-7-1h8m-8 6h8m-5-36h8m-3 21h8m-3-1h8m-6 9h8m-7-25h8m-3 34h8m-8-19h8m-1-8h8m-5 17h8m-8-27h8m-8 37h8m0-11h8m-6-3h8m-8-17h8m-7 11h8m-8 9h8m-7-2h8m-6 5h8m-5-20h8m-5-10h8m-5 31h8m-3-21h8m-6 21h8m-1-18h8m-6-7h8m-8 26h8m-2-31h8m-7 33h8m-1-27h8m-3 2h8m-8 16h8m-4 0h8m-4-10h8m-8 3h8m-8 12h8m-7-29h8m3 12h8m-8-3h8m-6-4h8m-6 26h8m-8-33h8m1 3h8m0-3h8m8 19h8m0-18h8m-2 2h8m2 9h8m105-7h8m-827 52h8m-1 0h8m5-6h8m1 4h8m-4-10h8m16-3h8m-6 7h8m1-4h8m-6 0h8m-7 5h8m-6-6h8m-8 1h8m-1 12h8m-8 3h8m-5-5h8m-5-3h8m0 3h8m-2-13h8m0 18h8m2 0h8m-5-3h8m9 3h8m2 6h8m-7-7h8m-7 3h8m-3 3h8m-2 3h8m-7-9h8m-2 4h8m-5-3h8m-3-1h8m-1 6h8m0-1h8m1-7h8m-6 2h8m-7 8h8m-7-9h8m-7 2h8m-3 4h8m1 1h8m-6-1h8m-3-6h8m-6-1h8m17 6h8m-4-11h8m-8 2h8m-6 2h8m-6-2h8m-4 5h8m-2-10h8m-8 3h8m11 0h8m-2 1h8m-5-11h8m12 4h8m2-5h8m-5 1h8m147-2h8m-6 15h8m-7-8h8m-5-6h8m8 37h8m11-28h8m-4-1h8m0-9h8m2 6h8m-2 15h8m-4-7h8m6-2h8m-5 4h8m10-11h8m-5-2h8m-3 3h8m-4 6h8m0 4h8m-6-16h8m-146 40h8m-4 34h8" stroke="#d4d4d4" stroke-width="8" fill="none" transform="scale(.1)"/><path d="M1125 3804h8m42 29h8m16-4h8m-62 14h8m-7 18h8m-7 17h8m2-26h8m15 8h8m-1-19h8m-2 20h8m0 12h8m25-7h8m-570 47h8m3-2h8m430-26h8m-8 34h8m-2-2h8m-4-4h8m-3-7h8m-3 8h8m-2-18h8m-8 14h8m0-8h8m-3-9h8m-4-8h8m24 2h8m-2 16h8m-498 37h8m31-11h8m8 8h8m22 9h8m318-22h8m9 33h8m10-4h8m-3-30h8m70 15h8m10 2h8m-8 18h8m-481 28h8m2-20h8m8 2h8m251 25h8m14-21h8m-4 21h8m-3-4h8m0-2h8m-8-16h8m0 11h8m-1 3h8m2-9h8m-5 20h8m15-14h8m-6 11h8m-326 9h8m0 13h8m204 19h8m5-29h8m11-4h8m5 17h8m14 12h8m-8-10h8m-4 4h8m-273 27h8m10 15h8m-7-1h8m17 12h8m124 2h8m-7-4h8m1-10h8m-4 4h8m-6-22h8m-1 22h8m5-19h8m9 14h8m6 14h8m-2-26h8m16 4h8m-3-6h8m2-10h8m8 18h8m80-7h8m-354 38h8m0 7h8m-4 11h8m6 1h8m3 7h8m90 4h8m-4-15h8m-3 9h8m3-16h8m7 4h8m1-7h8m-7 21h8m-8-32h8m-7 26h8m-8 0h8m7-4h8m-7-5h8m-7 11h8m18-26h8m-8 4h8m36-9h8m93 25h8m-2-10h8m-335 31h8m-3 4h8m-4 7h8m4 1h8m-4 6h8m-3-6h8m11 18h8m18-36h8m8 0h8m13 15h8m-2-1h8m-5 8h8m17 13h8m-7-3h8m-4-1h8m-8-6h8m-8-21h8m5 12h8m118-10h8m-530 36h8m135 35h8m211-28h8m12-7h8m-3 4h8m15-5h8m84 13h8m-552 58h8m191-7h8m-51 19h8m40 18h8m194 10h8m13-10h8m-4-16h8m7 24h8m11-11h8m2 12h8m156-11h8m65-14h8m-572 37h8m9 16h8m-4 4h8m-5-14h8m10 20h8m-8-21h8m-7 18h8m-6-21h8m-4 13h8m214-8h8m131 20h8m-409 36h8m9-9h8m287 14h8m-531 32h8m820-4h8m-155 103h8m-572 148h8m27-25h8m431 17h8m-490 38h8m6-14h8m-26 55h8m3-9h8m-43 34h8m12 1h8m495 12h8m-363 47h8m60 3h8" stroke="#9999e0" stroke-width="8" fill="none" transform="scale(.1)"/><path d="M1101 3814h8m56 13h8m-75 25h8m-4 20h8m-5-2h8m11 4h8m-1-25h8m-2 3h8m13-5h8m-3 8h8m-6 13h8m5-18h8m24 18h8m-6 2h8m0-6h8m-2-7h8m-497 56h8m18-2h8m374-26h8m15 0h8m3-1h8m9-1h8m-7 32h8m-442 11h8m20 22h8m4 1h8m-1 6h8m288-16h8m24 19h8m33-8h8m-5-22h8m48 9h8m15 4h8m7 14h8m-459 44h8m-8-11h8m-5-1h8m5-6h8m-6 9h8m-2-6h8m4 15h8m199-10h8m15-1h8m11-27h8m-1 5h8m3 12h8m-1 15h8m16-24h8m5 27h8m33-26h8m20 20h8m-443 16h8m28-2h8m-3 20h8m-4-22h8m189 29h8m4-24h8m16 30h8m-1-18h8m-7 8h8m21-6h8m-3 10h8m35-26h8m22 20h8m-2 2h8m-358 16h8m5 6h8m-3 8h8m0-11h8m4 27h8m165 0h8m-8 4h8m-4-11h8m-6 2h8m-1-2h8m-4-25h8m-6 36h8m0-36h8m-6 13h8m-5-2h8m-2 13h8m-4 7h8m-6-17h8m-1 24h8m-6-35h8m21-2h8m-1 0h8m79 9h8m-334 29h8m-7 17h8m-4-8h8m12 14h8m-6-5h8m101-17h8m-3 23h8m-5 14h8m4-7h8m-8-24h8m4 2h8m0 6h8m-4 23h8m-7-13h8m-7-20h8m-4 24h8m-8 1h8m-5-26h8m-6-2h8m11 37h8m-4-6h8m-2-2h8m83-21h8m-5 16h8m-308 23h8m-7-1h8m30 4h8m5 2h8m-7 16h8m1-14h8m4 10h8m47 4h8m0-18h8m0 5h8m7 21h8m-6-36h8m-7 19h8m5-1h8m0-3h8m-7-13h8m-7-1h8m4 32h8m-5-25h8m-8 7h8m-3 13h8m7-29h8m26 16h8m16-15h8m14 26h8m9-2h8m4 6h8m-529 28h8m268-18h8m-2 4h8m-2 1h8m18 17h8m2-14h8m51-10h8m-267 75h8m250-27h8m-248 43h8m200 1h8m-238 54h8m34-20h8m10 33h8m209-34h8m-321 38h8m40 7h8m647-3h8m-659 49h8m324 115h8m20 61h8m-60 33h8m-379 27h8m-79 60h8m-12 77h8" stroke="#6060ed" stroke-width="8" fill="none" transform="scale(.1)"/><path d="M1171 3851h8m-6 17h8m-8-5h8m-7 16h8m-6-14h8m-5 2h8m-7-24h8m-7 29h8m-4-1h8m-1 8h8m-2-36h8m-3 5h8m-1 23h8m-5 4h8m-8-16h8m1-14h8m-59 60h8m-1-19h8m-5 22h8m-6-23h8m19 3h8m2 20h8m5-14h8m-7-12h8m-471 74h8m388 0h8m51-25h8m-153 50h8m1-1h8m-8 18h8m9-20h8m-4 15h8m-7 6h8m-7-24h8m-2 22h8m-7-16h8m3 5h8m-4-20h8m55 16h8m-341 55h8m176-15h8m-3-9h8m8-5h8m-4 6h8m-6-3h8m-5 26h8m-2-8h8m-7 10h8m-6-23h8m-8 0h8m-8 17h8m-7-15h8m-4 3h8m-6-10h8m-4 17h8m-7-8h8m-8-17h8m-2 32h8m-6-29h8m-5 10h8m0-7h8m8-2h8m-7 8h8m-8 24h8m-7-15h8m44 2h8m-342 18h8m-6-2h8m2 2h8m188 27h8m-5-26h8m-7 20h8m-7-24h8m-1 7h8m-7 5h8m3-7h8m-8 9h8m-3 4h8m-7-2h8m-8-12h8m-5 4h8m1 23h8m-1 4h8m-5 2h8m-2-23h8m-3-12h8m-7 0h8m-5 8h8m-3 21h8m-7 1h8m-8-29h8m-8 13h8m-5-12h8m-6 29h8m-5-10h8m-245 18h8m-7-1h8m-3 2h8m-6-2h8m-1 15h8m-3 7h8m-5-1h8m-7-2h8m0 12h8m-7-3h8m-7-8h8m-2 8h8m-7-1h8m-4-8h8m4 18h8m72-17h8m1 2h8m-6-3h8m6-17h8m-7 27h8m-6-7h8m3 0h8m0-22h8m24 23h8m-5-20h8m1 14h8m-7-16h8m-7 25h8m-1 1h8m14-18h8m-211 42h8m-4-3h8m1 2h8m-8 6h8m-4-1h8m-5-9h8m12 26h8m-7-2h8m2 8h8m28-3h8m5-18h8m7 2h8m1-12h8m-8 16h8m-4-19h8m-4 5h8m0 14h8m-2-7h8m-4-13h8m0 33h8m-6-7h8m75-2h8m17-24h8m-1-1h8m-349 75h8m115-34h8m-4 13h8m-7-6h8m42 1h8m56 44h8m-80 24h8m-220 72h8m63-28h8m423 8h8m-3 1h8m-413 261h8m-172 52h8m-7 8h8m122 170h8" stroke="#1414ff" stroke-width="8" fill="none" transform="scale(.1)"/>
<path d="M2382 2739h8m-6 14h8m-19 20h8m-6-6h8m-7-3h8m-2 16h8m-6-20h8m-7 1h8m-6 23h8m7-12h8m-606 64h8m5-2h8m4 4h8m-8-1h8m-4-2h8m-1-20h8m-5 2h8m-6 7h8m-3-2h8m-6 15h8m-7 1h8m-8-28h8m-7 18h8m-7-13h8m-6 19h8m-3-1h8m-5 5h8m-7-2h8m-8-8h8m-6-3h8m-8-17h8m-8 24h8m-6 6h8m-6 1h8m-5-21h8m-6-2h8m-6 13h8m-2 8h8m-7-10h8m-7 6h8m-5-6h8m-7 3h8m-8-18h8m-6 22h8m-8 0h8m-7-19h8m-7 9h8m-8-21h8m-2 31h8m1-7h8m-1-3h8m-3 4h8m-8 3h8m-6 8h8m-6-4h8m0 1h8m-8-6h8m4 7h8m-4-3h8m354 5h8m31-1h8m-3 1h8m-5-6h8m0-23h8m-7 12h8m-1-15h8m-570 39h8m4-2h8m-7 12h8m-2-11h8m-7 0h8m-3 14h8m-8 4h8m-4-23h8m-6 30h8m-4-19h8m-5-1h8m-7 0h8m-6-7h8m-1 23h8m-8-7h8m-8-17h8m-5 16h8m-7 6h8m-7-19h8m-4 2h8m-5 20h8m-8-21h8m-6-4h8m-8 4h8m-6 1h8m-6 18h8m-7-22h8m-7 28h8m-7-5h8m-8-12h8m-6 0h8m-8-11h8m-7 12h8m-7-4h8m-8-6h8m-7-3h8m-6 23h8m-6-25h8m-6 22h8m-6 4h8m-7-26h8m-7 32h8m-5-25h8m-7-6h8m-6 11h8m-7-9h8m-7-2h8m-2 5h8m-7 21h8m-8-13h8m-5-7h8m-2 5h8m-7-11h8m-7 0h8m-4 33h8m-2-28h8m-2-2h8m-7 7h8m-2 11h8m2-21h8m-8 25h8m-5-19h8m-7 17h8m-1 2h8m-5-7h8m-2 9h8m-3-12h8m-7 1h8m250-8h8m49 29h8m-1-5h8m4 3h8m-7-3h8m-6 3h8m-7-5h8m-6-6h8m6-18h8m-5 17h8m0-15h8m-3 0h8m-436 34h8m4 7h8m-3 0h8m-6-8h8m1 14h8m-5 1h8m-3 2h8m-8 3h8m-3 4h8m-7 6h8m-3-26h8m-3 7h8m-4 7h8m-5-4h8m-4-16h8m-4 31h8m-3 7h8m-8-16h8m-8-7h8m-7 8h8m-6 3h8m-2 13h8m-3-6h8m-5 2h8m2 4h8m251-14h8m-7 1h8m-4 7h8m-6-8h8m-3-11h8m-7 24h8m-8-18h8m-7 2h8m-5-16h8m-8 22h8m-6 9h8m-2-30h8m-5-7h8m-4 38h8m-6-37h8m10 32h8m39 1h8m-385 13h8m-2 5h8m-1 9h8m2-19h8m-2 28h8m-6-24h8m-1 10h8m-6 19h8m-6-23h8m-2-1h8m-6-1h8m-8 29h8m-3-23h8m1-8h8m-7 8h8m0-3h8m184 20h8m-1-4h8m-7-5h8m-6-19h8m-7 0h8m-8 16h8m-7-6h8m-7 1h8m-7-2h8m77-1h8m-343 35h8m5 10h8m6 2h8m-3 17h8m-7-31h8m-5 21h8m-7-6h8m-8-2h8m-8 2h8m5 10h8m-7-3h8m-8 2h8m-5 4h8m-5 2h8m160 1h8m-7-30h8m-7 24h8m-8 1h8m-6-5h8m-8-14h8m-5 16h8m-8-20h8m-6 13h8m-7-16h8m68 2h8m-527 48h8m-4 5h8m-3 7h8m-2 5h8m238-33h8m-4 4h8m-7-4h8m-5 5h8m-6 10h8m-7-14h8m-8 8h8m-8 6h8m-7-11h8m9 13h8m-8 10h8m-6-9h8m-8 13h8m-6 1h8m-6-1h8m-8-3h8m-4 7h8m-1-3h8m-3-1h8m-8 6h8m-4-3h8m105-9h8m-6 11h8m-8 1h8m-5-32h8m-8 33h8m-6-21h8m-428 23h8m39 36h8m-4-5h8m-8 1h8m-8 2h8m-2-2h8m-8-8h8m0 11h8m5-33h8m-3 33h8m178-34h8m2 31h8m-2-31h8m7 13h8m-6-11h8m-7 4h8m-6 1h8m-6 0h8m-6-1h8m-8-3h8m-6 10h8m-6 3h8m-8-2h8m-7 2h8m-8-7h8m-6 16h8m-7-16h8m-6 12h8m-8-8h8m-8 6h8m-7-8h8m-8-8h8m-6 7h8m-4 13h8m-6-11h8m-7 7h8m-6 4h8m-5 2h8m-5 8h8m-3-11h8m-8 8h8m-6 2h8m-8 5h8m-6-5h8m-6 4h8m-7-3h8m-5 0h8m47-1h8m-4-26h8m-5 13h8m-8-18h8m-7 27h8m-6-28h8m67 38h8m12-3h8m-8 0h8m14-12h8m24 6h8m18 4h8m47 0h8m0-3h8m3-7h8m8 12h8m55 1h8m-706 5h8m-1 5h8m-4 10h8m-7-4h8m-5-6h8m-7 5h8m-3 0h8m4 12h8m107 9h8m-6-17h8m-6 2h8m-6 4h8m-7 16h8m146-26h8m-1 1h8m-7 6h8m-7-11h8m-7 1h8m-3 11h8m-6-5h8m-5 5h8m-7 5h8m-7-5h8m19-6h8m-7 4h8m-6-1h8m-8 0h8m-6-15h8m-6 26h8m-7-23h8m-7 7h8m-5 23h8m-4 0h8m1-18h8m-2 22h8m-6-17h8m14 17h8m-2-19h8m-7-3h8m14-7h8m-7 12h8m-4 9h8m-1-30h8m-6 32h8m-6-9h8m-7-13h8m-1 17h8m-4-3h8m-2 1h8m-3-24h8m-3 23h8m17 9h8m4-29h8m-5 1h8m-6 9h8m2 2h8m-7-3h8m1 24h8m2-4h8m17 3h8m-4-15h8m-6 5h8m-6-5h8m17-4h8m-8-9h8m2 27h8m0-14h8m1-9h8m-2 19h8m-7-25h8m-8 16h8m4 8h8m-2 0h8m-3-1h8m-6-22h8m-6 28h8m-6-4h8m-3-18h8m-7 6h8m-7 11h8m-5 4h8m-5-9h8m-6 6h8m-3 3h8m2 0h8m0-16h8m-742 54h8m-5-15h8m-5-7h8m-2 9h8m-6-7h8m-6 13h8m129-11h8m0 20h8m-6 2h8m-8-30h8m-7 17h8m-2-10h8m-2-5h8m-8-3h8m-5 8h8m-7-3h8m-8 14h8m-4 10h8m-8-27h8m-7 11h8m-7 2h8m-4 6h8m-1-25h8m-6 18h8m-4 6h8m170-20h8m-4 8h8m-5 20h8m-7-7h8m-6-15h8m-6 17h8m-7 0h8m-5 9h8m-5-11h8m4 5h8m4-29h8m-6 34h8m2-31h8m-7 22h8m-4-15h8m0-6h8m0 20h8m-7-12h8m19 1h8m-6-16h8m16 11h8m-5 3h8m-3 18h8m9-20h8m-4 17h8m7-12h8m-7-6h8m-1 20h8m-6-5h8m-4-11h8m-5 17h8m17-12h8m-7 8h8m-6-21h8m1 29h8m-6-36h8m7 15h8m-7 6h8m-2-8h8m-6 26h8m2-39h8m-7 12h8m8 12h8m3 3h8m-8-14h8m-7 6h8m-3-11h8m-2 4h8m-2-7h8m-6 9h8m-5-13h8m18 22h8m-4-18h8m3 3h8m-1-4h8m-3 17h8m16 11h8m30 3h8m3-2h8m-6 3h8m-4 3h8m31-17h8m-777 52h8m-3 2h8m10-21h8m-5-15h8m-3 36h8m-7-18h8m-8 16h8m-5-27h8m-8 11h8m-7 19h8m-5-4h8m-4-30h8m-8 25h8m-7-6h8m-7 15h8m-6-25h8m-4-10h8m-5 34h8m-6-25h8m-8-9h8m-4 31h8m-6-6h8m-6-10h8m-7-15h8m-7-1h8m-7 7h8m-7 13h8m-7 8h8m-7-9h8m-8 3h8m-7 12h8m-7-5h8m-8-4h8m-8 5h8m-6-4h8m-7 7h8m-7-12h8m-8 9h8m-5-4h8m-6 8h8m-8-13h8m-6-16h8m-8-2h8m-5-3h8m-7 28h8m-7-25h8m-4 18h8m-2-7h8m-6 2h8m-5 21h8m-5 1h8m-4-23h8m-6-11h8m-6-1h8m-6 22h8m2 8h8m-7 4h8m-6-6h8m24 5h8m9 0h8m-7-5h8m113-29h8m-5 10h8m-8 14h8m-5-24h8m4 36h8m-7-12h8m-2 6h8m-5-16h8m-7 16h8m-7-21h8m6-11h8m-7 21h8m10-22h8m10 13h8m-6-1h8m-5 25h8m-7-35h8m0 24h8m-7-26h8m10 9h8m-7 7h8m-2 10h8m10 8h8m7-13h8m0-19h8m-3 33h8m-6-12h8m-3 1h8m-5 7h8m2-22h8m4 21h8m-7-17h8m-8-7h8m-5 11h8m-7 14h8m10-5h8m-1-11h8m-7-9h8m-6 31h8m-3-4h8m-3-20h8m-6 8h8m-7 15h8m-2-21h8m-2 11h8m0-13h8m15-11h8m-2 5h8m17 30h8m-5-2h8m5-15h8m6 16h8m21-20h8m-6 19h8m-5-3h8m-6-10h8m-1-17h8m-1 13h8m-5-13h8m-5 4h8m-8-4h8m-5 34h8m-8-31h8m-5 10h8m-5 2h8m-7-10h8m-8-2h8m-6 25h8m-5-12h8m-3-16h8m-6 24h8m-7 4h8m-7-23h8m-6 5h8m-6-12h8m-7 5h8m-6 23h8m-2-18h8m-7 7h8m-6-3h8m-4-6h8m-6-3h8m-7 4h8m2 12h8m-6 7h8m-2-23h8m-8 3h8m-6 3h8m-6-12h8m-898 73h8m-5-6h8m-7 2h8m-7-1h8m9 7h8m94-19h8m7-12h8m-5 1h8m-3 2h8m-7-7h8m-6 8h8m-7 22h8m-7-19h8m-8-3h8m-6 17h8m-7-18h8m-7 20h8m-7-9h8m-8-16h8m-6 2h8m-7 10h8m-7 16h8m-7-13h8m-8 9h8m-4-8h8m-8 12h8m-3-6h8m-4-16h8m-7-2h8m-7 15h8m-6 12h8m-7-28h8m-7 31h8m-4-31h8m-6 29h8m-7-27h8m-6 26h8m-8-31h8m-8 16h8m-8-2h8m-7 16h8m-8-20h8m-7 9h8m-8-13h8m-7 5h8m-8-12h8m-7 29h8m-5-7h8m-7-21h8m-8-3h8m-8 13h8m-6-5h8m-7 28h8m-8-26h8m-8 6h8m-7 2h8m-7-7h8m-7-10h8m-5 8h8m-6-6h8m-7-1h8m-6-2h8m-6 36h8m-7-19h8m-8-9h8m-4 0h8m-3 7h8m-5-13h8m3 34h8m-7-11h8m-8-11h8m-5-14h8m-7 29h8m1 1h8m-4-4h8m-8-10h8m38-14h8m-8 6h8m111 9h8m-4-7h8m4-3h8m-8 5h8m-5-5h8m-4-2h8m-1 32h8m-1-22h8m4 17h8m-3-20h8m-4-11h8m-7 15h8m-8 11h8m0 0h8m-7-13h8m-8 15h8m2-26h8m12 6h8m8 25h8m-6-8h8m9 5h8m24-23h8m3 10h8m9 18h8m-1-28h8m-6-2h8m-5 3h8m16 20h8m-8 8h8m-7-25h8m53 14h8m1-23h8m-5 20h8m-5 10h8m6-21h8m-7 6h8m-5-18h8m-5 24h8m-6-7h8m-7 20h8m-7-32h8m-6 8h8m2 5h8m-6-7h8m-7 24h8m-8-26h8m-6-2h8m12 28h8m-1-31h8m-6 20h8m0-7h8m-6-14h8m-6 7h8m-1 23h8m-6-3h8m-6-20h8m-3-5h8m-4 15h8m-6-19h8m-6 20h8m-8 17h8m-7-34h8m-2 13h8m-4-18h8m-5 16h8m-2 4h8m-7-13h8m-5 10h8m-4-3h8m-7 3h8m-3-12h8m0 33h8m-3-4h8m2-29h8m-5 0h8m-8 5h8m-7-9h8m-7 13h8m-8-6h8m-7-5h8m2 15h8m-947 56h8m4-7h8m-7-6h8m65-8h8m78-11h8m17 2h8m-8 7h8m-7 17h8m-6-23h8m-7 11h8m-6 12h8m-6-11h8m-7-15h8m-8 5h8m-7 23h8m-8-15h8m-2-4h8m-8-8h8m-7-1h8m-7 3h8m-1 3h8m-6 0h8m-8-4h8m-3 1h8m-6 2h8m2 1h8m-5 2h8m-4 0h8m-3-4h8m0-1h8m-7 12h8m-5 8h8m-7 5h8m186-30h8m4 1h8m1 16h8m5-9h8m-7 6h8m2 6h8m0 3h8m2-20h8m-1 30h8m-5-1h8m-7 5h8m-6-37h8m10 16h8m-3-11h8m-6 19h8m9 0h8m2 11h8m4-33h8m-4 27h8m-4-21h8m-5 6h8m-3 12h8m7 3h8m-6 10h8m-8 0h8m-7-21h8m-4 8h8m-3 7h8m5 3h8m-7-11h8m-8 1h8m2 6h8m-6 7h8m-5-31h8m-6-2h8m-4 15h8m-6 1h8m-8 9h8m-1-4h8m-7-25h8m3 22h8m0-5h8m7-14h8m38 32h8m-8-36h8m-2 5h8m3-4h8m-4 15h8m-3 22h8m-6-11h8m-5-4h8m-7-7h8m12 1h8m-1 4h8m0 2h8m-7-16h8m-7 23h8m-5 6h8m4-29h8m-3 27h8m-3-8h8m5 2h8m-7-7h8m-4 14h8m-4-15h8m-7 11h8m-8-24h8m1 17h8m-1 1h8m-6 2h8m-6-2h8m-7-10h8m-7-16h8m-7 18h8m7-10h8m4 17h8m-7-14h8m-6-7h8m-7 29h8m-6 1h8m-5-8h8m-2 10h8m-969 19h8m1-13h8m209 6h8m15-3h8m-4 10h8m-7-7h8m-6-7h8m255 20h8m23 13h8m-8-2h8m-4-3h8m0-29h8m-4 10h8m-5 29h8m-6-22h8m-7 18h8m-5-26h8m-4 30h8m-6-29h8m-5-4h8m-3 9h8m-7-2h8m-4 14h8m-5 3h8m-6-3h8m-5-14h8m-8 20h8m-5-11h8m-6-8h8m-7-6h8m-8 19h8m0 6h8m-5-3h8m-5-20h8m-6 25h8m-5 2h8m-4-30h8m-7 8h8m-7 1h8m-6-12h8m-4 1h8m-7 7h8m-5 1h8m-4-9h8m-8 28h8m-5 1h8m-8-12h8m-6-1h8m-7 1h8m-6-21h8m-1 9h8m-7 16h8m-7 1h8m-3-3h8m-1-4h8m-3-13h8m-4 11h8m-2-4h8m0 14h8m-5-20h8m4-5h8m-3 14h8m-7 21h8m-3-7h8m-7 7h8m-8-16h8m-6 7h8m-5-19h8m-8 13h8m-7-12h8m-8 0h8m-5 26h8m-5-22h8m-8 2h8m-3 19h8m-6-20h8m-6-12h8m2-2h8m-2 5h8m-2 15h8m6-9h8m-1 13h8m-5-3h8m8-13h8m-6 17h8m-5-25h8m-6 3h8m-2 21h8m7-14h8m-8 23h8m3 3h8m-2-25h8m-4 25h8m8-19h8m-4 3h8m1 17h8m-7-25h8m1 18h8m-2-7h8m-1 9h8m1-12h8m-6-18h8m-6 0h8m-2 15h8m-1-6h8m5 21h8m-7-13h8m-7-4h8m7-9h8m-5 26h8m1-24h8m-484 45h8m9 11h8m1 4h8m-7 10h8m-1-17h8m-5-8h8m-8 10h8m-7 3h8m-7 6h8m-4 4h8m-6-34h8m-7 30h8m-7 2h8m-7-25h8m-6-2h8m-6 26h8m-4-3h8m-8 2h8m-1-16h8m-8 9h8m-8-9h8m-6-13h8m-6 21h8m-3-2h8m-8 12h8m-6-27h8m-6 22h8m-4-11h8m-8-11h8m-7 23h8m-4 6h8m-7-4h8m-8-18h8m-6 14h8m-6-3h8m-7-21h8m-6 11h8m-8 12h8m-6 9h8m-6-29h8m-8 26h8m-5 1h8m-5-9h8m-3-8h8m-7 4h8m-8-1h8m-6 12h8m-8 6h8m-7-13h8m-8-3h8m-3 0h8m-7-8h8m-7 18h8m-5-5h8m-7-8h8m-2-7h8m-5-2h8m2 20h8m-6-29h8m-6 8h8m-7 19h8m-7 8h8m-2-5h8m-7-6h8m0-24h8m-7 32h8m-5-15h8m-6 16h8m-5-20h8m-5-14h8m-8 14h8m-6-8h8m-2 22h8m-6-3h8m-6-22h8m-3 14h8m-7 9h8m-7-23h8m-4 18h8m-6-9h8m-3-4h8m-4 10h8m-8 15h8m-7-29h8m-6 0h8m-8 7h8m-5 11h8m-7-11h8m-8-10h8m-7 2h8m-8-4h8m-4 7h8m-4-6h8m-7 15h8m-7 7h8m-7-19h8m-6 10h8m-8 6h8m-7-13h8m4-4h8m-8 33h8m-5-12h8m-6 7h8m-7-25h8m-8 17h8m0-11h8m-7-4h8m-7 28h8m-6-25h8m-6 11h8m-8-7h8m-7-1h8m-7-5h8m-5 26h8m-7-11h8m-7 13h8m-5-13h8m-6 11h8m-5-11h8m-7-3h8m-3 4h8m-4 13h8m-7 0h8m-4-29h8m-2 19h8m-8 0h8m-8 2h8m-5-1h8m-7-4h8m-1-6h8m-5 4h8m-5 0h8m-7-21h8m10 2h8m6 15h8m-4 19h8m-4-12h8m-3-5h8m6 5h8m-7-19h8m-6 1h8m-6 16h8m0-24h8m-6 18h8m-3-4h8m-8 22h8m-7-23h8m-5 18h8m-3-10h8m-7-10h8m0-2h8m-6-9h8m-2 26h8m-6-2h8m-5 6h8m2-23h8m-7 0h8m-7 1h8m-6 4h8m-5-9h8m-5-2h8m-7 14h8m-3-8h8m-6 17h8m-8-6h8m2-4h8m-6-3h8m-6 17h8m-7-22h8m-4 8h8m-4-7h8m-3 17h8m6-19h8m-2 22h8m1-3h8m12 13h8m-512 42h8m-7-31h8m-2 15h8m-5-15h8m-4 8h8m0 13h8m-7-28h8m-5 32h8m-5-8h8m-6-25h8m-8 2h8m-4 30h8m-7-4h8m-7-15h8m-8 4h8m-8 8h8m-6-8h8m-7 7h8m-7 1h8m-8-6h8m-7-19h8m-7 34h8m-8-8h8m-6-4h8m-6 2h8m-7 3h8m-7-20h8m-6 31h8m-5-23h8m-6 20h8m-7-35h8m-6 6h8m-7 16h8m-7-18h8m-8 31h8m-7-2h8m-7-11h8m-8-13h8m-7 12h8m-7-15h8m-5-6h8m-5 26h8m-8 11h8m-6-19h8m-7-17h8m-6 12h8m-5 8h8m-8-15h8m-6 22h8m-7-1h8m-8 0h8m-8-8h8m-8 5h8m-7-22h8m-2 24h8m-6-21h8m-7 12h8m-6 21h8m-5-38h8m-6 19h8m-8-17h8m-7-1h8m-5 1h8m-5 9h8m-4-4h8m-6 32h8m-2-1h8m-2-19h8m-5 4h8m-2-17h8m-7 2h8m-5 24h8m-5-3h8m-8 5h8m-7-16h8m-4 19h8m-8-30h8m-7 0h8m-7 26h8m-7-23h8m-2 16h8m-7-24h8m-7 0h8m-6 18h8m-5 11h8m-7-28h8m-3-1h8m-4-1h8m-5 34h8m-4-23h8m-7 1h8m-7 16h8m-5 10h8m-8-18h8m-4-12h8m-5 26h8m1-9h8m-7-6h8m-8 3h8m-7-11h8m-5 8h8m-7 14h8m-7-15h8m-8-11h8m-8 11h8m-7-6h8m-8 8h8m-5-11h8m-3 25h8m-7 0h8m-6-33h8m-8 1h8m-7 27h8m-8-14h8m-7-12h8m-5 7h8m-8 22h8m-7-21h8m-8 11h8m-5-6h8m-5 1h8m-7 20h8m-7-1h8m-2-16h8m-8 3h8m-8-7h8m-8-1h8m-6-15h8m-5 32h8m-6-10h8m-7-12h8m-2 18h8m-7-13h8m-4 17h8m-6-30h8m-4-1h8m-7 20h8m-5 11h8m-4-11h8m-8 7h8m-8-2h8m-7 10h8m-8-22h8m-7 23h8m-8-15h8m0 5h8m-7 10h8m-6-14h8m-5-19h8m-6 18h8m-3-3h8m-7 15h8m-8-30h8m-6 18h8m-8 2h8m-6-15h8m-4 12h8m-3 16h8m-8-28h8m-6 28h8m0-21h8m-6-11h8m-2 20h8m1 1h8m-5 5h8m-2 5h8m-6-29h8m0 10h8m-7 6h8m-3-18h8m-7 2h8m-4 2h8m-7 13h8m-5-10h8m-3 3h8m-6 7h8m-5 3h8m-8-13h8m-6 24h8m-5-26h8m-1 21h8m3-14h8m-6-2h8m-4 0h8m-8 5h8m-7-12h8m-6-6h8m-6 4h8m-5-5h8m5 15h8m-7 8h8m-1-7h8m-4-1h8m3 20h8m0-5h8m-6-5h8m-7-25h8m-7 6h8m-6 10h8m-6 11h8m-6-21h8m-6 1h8m-7 7h8m-3 9h8m1-18h8m-1 24h8m-5-6h8m-8-14h8m-8-11h8m-6 14h8m-7 3h8m1 8h8m-2 10h8m-5-10h8m-935 34h8m-7 1h8m1 0h8m-4 0h8m-6 1h8m-6 15h8m-7-5h8m-6-5h8m-7-1h8m-7-4h8m297-9h8m50 2h8m-4-13h8m-6 36h8m5-16h8m-2-19h8m-4 17h8m-2 6h8m-3-5h8m-5-10h8m-6 1h8m-4 8h8m-7-18h8m-7 15h8m-4 0h8m-7 7h8m-8 15h8m-7-37h8m-7 36h8m-8-24h8m-7 15h8m-3-24h8m-8 23h8m-7-14h8m-7-12h8m-7 4h8m-6-1h8m-8 25h8m-6-13h8m-8 23h8m-7-33h8m-7 8h8m-7 3h8m-5 2h8m-7-8h8m-6-6h8m-7 20h8m-6-5h8m-7-15h8m-8 6h8m-6 7h8m-7 18h8m-6 1h8m-7-1h8m-7-1h8m-8-2h8m-4-30h8m-6 36h8m-8-17h8m-7 9h8m-6-10h8m-7-7h8m-6-10h8m-6 24h8m-8-27h8m-5 0h8m-3 2h8m-7-2h8m-6 26h8m-8 10h8m-6-24h8m-6 20h8m-5-1h8m-7-16h8m-7 6h8m-7-16h8m-8 14h8m-6-12h8m-5 27h8m-7-6h8m-6-16h8m-3 10h8m-8-2h8m-5 11h8m-8-27h8m-6 10h8m-7 21h8m-7-31h8m-8 6h8m-2 23h8m-7-34h8m-7 7h8m-8 17h8m-3 2h8m-4 3h8m-6-17h8m-6 12h8m-3 11h8m-6-12h8m-8 2h8m-7-4h8m-2-1h8m-5-4h8m-6 10h8m-7-21h8m-8 24h8m-7-12h8m-6-14h8m-8 2h8m-8 23h8m-7-2h8m-2-25h8m-8 23h8m-6-1h8m-7 16h8m-4-35h8m-6 7h8m-8-8h8m-6-1h8m-8 25h8m-7 5h8m-3-5h8m-6 0h8m-4 9h8m-7-34h8m-6 34h8m-5-24h8m0 11h8m-6 9h8m-5 4h8m-4-23h8m-8-2h8m-2 4h8m-4 8h8m-8-7h8m-7 15h8m-5 3h8m-8-2h8m2-28h8m-7 19h8m-7 9h8m-5 6h8m-4-29h8m-5 27h8m-8-33h8m0 23h8m-6-19h8m-5 10h8m-6 13h8m-6 8h8m-7-32h8m-6 32h8m-7-3h8m-8-30h8m-7 15h8m-7 2h8m-3 14h8m-7-32h8m-8 3h8m-7 8h8m-8 15h8m0-15h8m-6 0h8m-5 20h8m-7-16h8m-8 18h8m-7-21h8m-7 13h8m-6-17h8m-5 26h8m-8-36h8m-4 8h8m-7-2h8m-1 8h8m-8 14h8m-5-9h8m5 9h8m-7-9h8m-4-11h8m-7-7h8m-5 29h8m-8-23h8m-8 28h8m-1-27h8m-1 27h8m-8-2h8m-1-26h8m-7 12h8m-2-6h8m-5 11h8m0 1h8m0-7h8m-7 9h8m-5 4h8m-3-6h8m-7-6h8m-4-5h8m-6-8h8m-2-6h8m-6 6h8m-2 0h8m4 11h8m6-11h8m-1 7h8m-5 24h8m-7-24h8m-7 1h8m-6 1h8m-7 3h8m-8-18h8m-6 32h8m1-26h8m-8 12h8m-7 8h8m-6-7h8m-7-7h8m0-8h8m-6 7h8m-6-9h8m-7-4h8m-7 20h8m-6 19h8m-7-30h8m-6 5h8m-5-8h8m-5 1h8m0 7h8m-8 4h8m-1-7h8m-6 18h8m-8 3h8m-4-8h8m-6 0h8m-6 14h8m-914 2h8m139 26h8m-4 3h8m-7 1h8m-5-7h8m-8 12h8m-7-11h8m-8 11h8m-2 3h8m2 1h8m-8-3h8m178-4h8m4-20h8m-7 0h8m2 23h8m-4-22h8m-6 11h8m-7-7h8m-7 3h8m-8 3h8m-7-9h8m-5-2h8m-7-1h8m-8-10h8m-5-1h8m-5 10h8m-5 16h8m-8-12h8m-8 0h8m-5 21h8m-7-21h8m-7 6h8m-6 18h8m-6-2h8m-7-18h8m-8 8h8m-5-2h8m-4-20h8m-5 7h8m-6 28h8m-8-36h8m-6 19h8m-8-6h8m-8 2h8m-7 18h8m-6-3h8m-6-26h8m-8 24h8m-3 6h8m-7-18h8m-7 1h8m-8 4h8m-7 14h8m-8-28h8m-7-1h8m-8 6h8m-7-7h8m-7 17h8m-6 13h8m-7-24h8m-7-10h8m-7 0h8m-5 10h8m-7 25h8m-2-5h8m-7-18h8m-8 14h8m-7-28h8m-8 35h8m-6-27h8m-8 23h8m-8 3h8m-6-28h8m-4 14h8m-7-2h8m-7 12h8m-7-23h8m-8 3h8m-8 8h8m-7-4h8m-8 9h8m-7 2h8m-7-15h8m-7 8h8m-8 18h8m-6-16h8m-7 14h8m-7-5h8m-7-24h8m-8 4h8m-6-8h8m-8 34h8m-7-22h8m-8 14h8m-8-19h8m-6 27h8m-8-8h8m-7-1h8m-6-20h8m-8 30h8m-7-19h8m-7 3h8m-7 1h8m-8-4h8m-4 14h8m-6-19h8m-3-8h8m-2 24h8m-5-6h8m-6-5h8m-8-14h8m-8 6h8m-7 21h8m-7-11h8m-7-10h8m-6 9h8m-4 12h8m-7 4h8m-7-24h8m-8 7h8m-7-18h8m-7 13h8m-7-7h8m-6 13h8m-8-19h8m-8 24h8m-7 4h8m-6 3h8m-5-32h8m-4 1h8m-6 9h8m-7 3h8m-1 14h8m-6 10h8m-3-6h8m-8-24h8m-6-7h8m-8 35h8m-5-8h8m-7 3h8m2-11h8m-7 5h8m-6-12h8m-6 23h8m-8-28h8m-7 31h8m-7-17h8m-6-19h8m-7 17h8m-3 9h8m-7-5h8m-5-22h8m-7 0h8m-4 17h8m-6 14h8m-7-16h8m-8 19h8m-2-19h8m-2-8h8m-6 5h8m-5-12h8m-7 4h8m-6 33h8m-5-26h8m-7 10h8m-7 2h8m1-17h8m-7 10h8m-7-3h8m-8 24h8m-4-6h8m-7-20h8m-4 13h8m-3-12h8m-7 2h8m-6-13h8m-7 18h8m-8 16h8m-8-17h8m-5-11h8m-6 31h8m-7-30h8m-8 20h8m-7-19h8m3 5h8m-8 6h8m-8-20h8m-8 0h8m-7 17h8m-5-6h8m-7-10h8m8 0h8m-5 2h8m-5 1h8m-6 3h8m8 10h8m-5-16h8m-1 22h8m-5-20h8m-6 10h8m-8 4h8m-7 16h8m-6-8h8m-4 6h8m-7-15h8m-7-13h8m-6 17h8m-4 9h8m-5-8h8m-6-20h8m-8 4h8m-5 9h8m-3 20h8m-7 4h8m15-19h8m-5-5h8m-8 21h8m-6-17h8m-7 0h8m-5 18h8m-3-1h8m-5-18h8m-8-7h8m-6 10h8m-6-13h8m-3 26h8m0 3h8m1-10h8m-8-20h8m-7 31h8m-1-20h8m-7 9h8m-7 7h8m-6-31h8m-7 11h8m0-8h8m-8 3h8m-7-6h8m-1 21h8m-6-18h8m-6 2h8m-8 28h8m-7 0h8m-8-32h8m-7-1h8m-8-2h8m-8 36h8m-6-22h8m-7-1h8m-7 4h8m-6 10h8m-7-7h8m-5-20h8m-5 10h8m-4 1h8m-7 25h8m-8-8h8m1-3h8m-7 13h8m-8-6h8m-7-32h8m-6 5h8m-4 21h8m-7 2h8m-8 10h8m-7-15h8m-7 0h8m4-20h8m-8 6h8m0 4h8m-969 60h8m1 4h8m0-7h8m-3 8h8m-3-19h8m-8-5h8m-3 18h8m-8-7h8m-5 8h8m-5-5h8m-8 4h8m-8-2h8m-5 2h8m3 0h8m-1-20h8m-7-13h8m-7 9h8m11 17h8m35 12h8m-4-7h8m-1 4h8m-1-2h8m-7-1h8m2-15h8m-7 15h8m-4 2h8m-7-8h8m-6-6h8m-7 8h8m-6 2h8m-8-20h8m-8 22h8m-1-2h8m-5-29h8m-6 26h8m-7-14h8m-7 23h8m-5-33h8m-8 32h8m-7-1h8m2-23h8m-6 25h8m-3-28h8m-7 26h8m-1-14h8m-7-20h8m-8 14h8m-7 4h8m-6 15h8m-7-11h8m-6 10h8m-6-25h8m9 32h8m119-31h8m46 6h8m-3 5h8m-7 9h8m-3 1h8m-1 6h8m-8-27h8m-2 9h8m-1 20h8m-8-35h8m-7 4h8m-7 32h8m-8-38h8m-7 17h8m-7 2h8m-6-15h8m-6 12h8m-6 8h8m-7-8h8m-6 11h8m-8-14h8m-3 3h8m-7 3h8m-5-19h8m-8 26h8m-6-11h8m-7 12h8m-4-22h8m-5 27h8m-7-32h8m-7 33h8m-6-16h8m-8 11h8m-6 3h8m-7-31h8m-6 34h8m-7 4h8m-6-27h8m-5 22h8m-6-2h8m-8 7h8m-5-6h8m-8-5h8m-5-23h8m-7 24h8m-8-13h8m-7 22h8m-8-12h8m-8-16h8m-6 0h8m-7 30h8m-8-3h8m-7-2h8m-8 5h8m-6 0h8m-7-12h8m-8-20h8m-8-4h8m-8 1h8m-5 26h8m-8-26h8m-8 24h8m-6-20h8m-8 29h8m-7-23h8m-6-3h8m-6 1h8m-7 11h8m-6 3h8m-7 7h8m-7-1h8m-8-16h8m-8 18h8m-7-7h8m-6 12h8m-6-24h8m-8-7h8m-8 28h8m-7-4h8m-7 7h8m-8-24h8m-6-6h8m-4-6h8m-7 29h8m-8-11h8m-8 7h8m-5-19h8m-7-3h8m-8 26h8m-7-19h8m-8 0h8m-7-10h8m-8 22h8m-8 6h8m-7-12h8m-6-19h8m-8 8h8m-8 30h8m1-27h8m-8 19h8m-7 7h8m-8-30h8m-8 14h8m-5 13h8m-8-20h8m-5 21h8m-7-15h8m-6-4h8m-7 22h8m-6-24h8m-8 23h8m-7-24h8m-7-12h8m-6 6h8m-4 15h8m-5-21h8m-7 1h8m-8 22h8m-4-3h8m-7 0h8m-8-5h8m-6 9h8m-5-8h8m-6 1h8m-7 6h8m-8 6h8m-7-26h8m-6 28h8m-4-15h8m-5 15h8m-7-31h8m-1 32h8m-3 1h8m-2-22h8m-6-3h8m-7 9h8m-6 14h8m-6 4h8m1-36h8m-4 7h8m-5 24h8m-7-15h8m-8-10h8m-4 24h8m-6 4h8m-8-5h8m-8-18h8m-1-4h8m-3 24h8m-7-23h8m4-7h8m-7 5h8m-6 31h8m-8-27h8m-7 29h8m-5-5h8m-7-31h8m-3 8h8m-7 23h8m-7-27h8m-7 22h8m9-6h8m24-9h8m-5-9h8m8 26h8m13-7h8m3 4h8m-7-19h8m-1-7h8m-6 19h8m4-9h8m-3 4h8m-4 14h8m-8-4h8m-2-3h8m-6-14h8m-2 11h8m-7-6h8m1-9h8m-1 2h8m-1 22h8m-6-13h8m-6 1h8m-7 6h8m-6-15h8m-8 8h8m-7 1h8m-6 2h8m-4 18h8m-3-7h8m-8-3h8m-8 6h8m-6-5h8m-3 6h8m-7-9h8m-6-8h8m-6 15h8m-3-17h8m-5-13h8m-4 9h8m-8 13h8m-7-1h8m-6 9h8m-8-9h8m-7-4h8m-4-11h8m-6 11h8m-7-15h8m-6-3h8m-8 27h8m-5 6h8m-7 2h8m-2-17h8m-5-18h8m-7 36h8m-6 1h8m-8-29h8m-4 6h8m-961 63h8m-4 1h8m2-35h8m-7 11h8m-2 4h8m-7-7h8m-5 15h8m-6-16h8m-4 0h8m-6 24h8m-5-10h8m-4-1h8m-6-3h8m-7 16h8m-4-2h8m0-16h8m-7-13h8m-5 19h8m-4 12h8m-7-13h8m-7-3h8m-8 16h8m-4-8h8m-4-19h8m-5 23h8m-8-26h8m-7 3h8m-5-7h8m-5 4h8m-5 4h8m-8 22h8m42-28h8m-7-2h8m1-1h8m2 0h8m1 1h8m-6 5h8m-2-3h8m4-3h8m-3-1h8m0 2h8m-8 1h8m12-4h8m17 5h8m175 23h8m-2-2h8m-5 7h8m-8-24h8m-8 5h8m-8-9h8m-3 24h8m-5-23h8m-7 16h8m-6-12h8m-7 12h8m-8 2h8m-6-22h8m-7 30h8m0-8h8m-4-18h8m-7 18h8m-7-6h8m-7-4h8m-7-10h8m-4 22h8m-6-8h8m-8 20h8m-5 0h8m-6-26h8m-6 14h8m-8 13h8m-5-9h8m-7-20h8m-8-9h8m-6 27h8m-8-25h8m-4 11h8m-8-2h8m-6-6h8m-6 11h8m-5-1h8m-6 11h8m-8-5h8m-8-9h8m-6 22h8m-8-11h8m-8-18h8m-7-4h8m-7 7h8m-6-3h8m-6 5h8m-8-10h8m-7 8h8m-5 17h8m-7 3h8m-6-6h8m-8 0h8m-7 14h8m-8-19h8m-8 1h8m-6 5h8m-7-15h8m-7 9h8m-6-16h8m-7 18h8m-6-17h8m-5-2h8m-7 5h8m-3 24h8m-7-23h8m-7 30h8m-4-35h8m-7 32h8m-6 1h8m-6-32h8m-8 11h8m-7 22h8m-7-19h8m-8 3h8m-6-17h8m-6 34h8m-7-12h8m-7-11h8m-5-2h8m-8 5h8m-7-5h8m-6 6h8m-7 6h8m-8-3h8m-7-10h8m-7 9h8m-5 15h8m-6 3h8m-5-17h8m-6 7h8m-7-24h8m-5 29h8m-8-8h8m-7-9h8m-8-8h8m-4 28h8m-6 2h8m-7-36h8m-8 17h8m-3 10h8m-7-8h8m-8 17h8m-6-4h8m-8 4h8m-8-2h8m-8-17h8m-7 2h8m-8 13h8m-6-25h8m-6 17h8m-7-7h8m-7-2h8m-7-7h8m-4 5h8m-7 7h8m-6-6h8m-7 1h8m-8 8h8m-6-13h8m-4-7h8m-7-4h8m-6 1h8m-8 37h8m-2-10h8m-8-9h8m-8 19h8m-5-28h8m-4 24h8m-3-9h8m-5 13h8m-7-17h8m-3-11h8m-5 25h8m-4-25h8m-3 8h8m-6 4h8m-5 4h8m-8-16h8m-3 9h8m-5 4h8m-7-17h8m-7 22h8m-6 6h8m-5-20h8m-6 23h8m-5-15h8m-8-14h8m-6 4h8m-8-2h8m-7-10h8m-5 26h8m-6-24h8m-6 18h8m-4 7h8m-7-17h8m-7-5h8m-6 2h8m-1 17h8m-8 11h8m-6-28h8m-2 16h8m-2 6h8m2 3h8m-1-1h8m12-24h8m28 14h8m-4 6h8m-8-2h8m-8 5h8m3-31h8m-6 7h8m-1 4h8m-4 7h8m-8 5h8m-3-1h8m-7-9h8m-8-6h8m-5-5h8m-7 35h8m0-9h8m-7-7h8m-4 10h8m-5-14h8m4 9h8m-6-15h8m-6 10h8m-6 13h8m-6-11h8m-7 6h8m-7-16h8m-7 12h8m-6-3h8m-8 1h8m-5-19h8m-7 28h8m-7-4h8m-8-12h8m-5 5h8m1-15h8m-2 2h8m-7 28h8m-8-19h8m-7 6h8m-3-23h8m-2 32h8m-5-15h8m-8 13h8m0-21h8m-7 4h8m-6-9h8m-4 15h8m-7 8h8m-3 6h8m-5-17h8m-8-13h8m-8 24h8m0-11h8m-3-6h8m-6 28h8m-8-1h8m-6-27h8m-5 15h8m-977 31h8m5-14h8m-4 22h8m-8-3h8m-5-8h8m-6-8h8m0 2h8m-7 32h8m-3-12h8m-7-8h8m-7 3h8m-6 2h8m-5-13h8m-8 26h8m-5-33h8m-7 25h8m-7-5h8m-8 2h8m-7 3h8m-4 9h8m-2-6h8m-7-17h8m-4 0h8m-8 22h8m-7-18h8m-7 20h8m-5-9h8m-6-12h8m-5-10h8m-5-6h8m-5 3h8m3 3h8m-6 11h8m-7-4h8m-2 10h8m-6 0h8m317 5h8m0-16h8m-6-3h8m1-11h8m-6 19h8m0 1h8m-6-20h8m-7 26h8m-1-1h8m-8-16h8m-4 30h8m-6-33h8m1 18h8m-7 9h8m-3-27h8m-7 16h8m-1 12h8m-7 2h8m-5-24h8m-8 5h8m-5 15h8m-7 5h8m-7-27h8m-6 17h8m-7 6h8m-7-25h8m-8 18h8m-6-4h8m-8-13h8m-4 8h8m-7-1h8m-7-1h8m-7 0h8m-5 12h8m-4-20h8m-6 16h8m-7-2h8m-6 4h8m-8-1h8m-6-4h8m-7-7h8m-7 8h8m-3 3h8m-4 5h8m-8-25h8m-6-3h8m-7 34h8m-6-25h8m-7-8h8m-5 23h8m-5 9h8m-6 1h8m-8-29h8m-7 3h8m-6 4h8m-8 17h8m-6-19h8m-5-2h8m-6 20h8m-5 7h8m-8 0h8m-7 2h8m-7-30h8m-4 18h8m-5 6h8m-8-5h8m-7-23h8m-7 20h8m-7-12h8m-7 27h8m-7-7h8m-8-3h8m-7 8h8m-7-29h8m-7 19h8m-7-19h8m-6 15h8m-5 2h8m-6-18h8m-6 22h8m-3-13h8m-2-4h8m-5 12h8m-5 7h8m-7-1h8m-8-27h8m-7 7h8m-6 26h8m-7-9h8m-8-14h8m-8 5h8m-4-17h8m-4 25h8m-6-3h8m-4-9h8m-6 9h8m-7-7h8m-7-13h8m-1 34h8m0-1h8m-7-16h8m-6-9h8m-6 18h8m-6-4h8m-7-17h8m-6 12h8m-8 11h8m-6-6h8m-6-15h8m-8 2h8m-8-8h8m-7 32h8m-7-5h8m-3 1h8m-8-32h8m-7 5h8m-6 12h8m-7-10h8m-3 27h8m-8-17h8m-6 11h8m-7-23h8m-7 32h8m-7-23h8m-7-5h8m-6 26h8m-7-30h8m-7 23h8m-6-21h8m-7-4h8m-4 28h8m-7-7h8m-3-3h8m-6-19h8m-6 28h8m-5-14h8m-7-2h8m-6 18h8m-3-25h8m-8 10h8m-4 11h8m0-28h8m-8 16h8m-7-6h8m-7-6h8m-6 33h8m-8-18h8m-8 11h8m-3 9h8m-7-39h8m11 11h8m-6-6h8m-4-1h8m-4 27h8m-1-3h8m-5-10h8m-3-4h8m-3 16h8m-8-22h8m-7 28h8m-6-16h8m-7-19h8m-8 32h8m-6-17h8m-8-16h8m-2 37h8m-7-30h8m-8 27h8m-5-32h8m-8 33h8m-3-3h8m-7-25h8m-7 15h8m-7-17h8m-7-2h8m-8 35h8m-8-19h8m-5 18h8m-8-19h8m-5-2h8m-8 23h8m7-17h8m1 5h8m-7 11h8m-7-14h8m-7-15h8m-6 0h8m-6 15h8m-6-2h8m-7-8h8m-5 9h8m-5-19h8m-7 11h8m-4 3h8m-8-17h8m-7 37h8m-6-27h8m-3-7h8m-6 34h8m-7-28h8m-4 27h8m-6-36h8m-3 32h8m-6-30h8m-7 12h8m-7 14h8m-4-18h8m0-3h8m-2 17h8m-7-12h8m-4-8h8m-4-3h8m-7 30h8m-2-1h8m-3-24h8m-1 0h8m-6 5h8m-4-10h8m-5-1h8m-955 55h8m-4 20h8m-6-9h8m-6-15h8m1 7h8m-8-13h8m-7 11h8m-8-14h8m-7 10h8m-6 3h8m1-14h8m-6 36h8m-8-14h8m-5-11h8m-5 19h8m-8-15h8m-7 7h8m-1 4h8m-8-6h8m-6-2h8m-7 15h8m-5-7h8m-4 10h8m-2-8h8m-7-16h8m-8 8h8m-6 13h8m2-13h8m-7-9h8m-7-13h8m-8 10h8m-6-4h8m-8-3h8m-2 4h8m296 3h8m33 5h8m-3 22h8m-2-16h8m-8-5h8m-2 12h8m-7-5h8m-6 6h8m0-4h8m-7 1h8m-6-13h8m-7 3h8m-7 13h8m-7-12h8m-6 17h8m-8 2h8m-7-5h8m-8-16h8m-8-13h8m-5 6h8m-1 15h8m-7-1h8m2 9h8m-5-4h8m1 2h8m-8-19h8m-6-7h8m-8 34h8m-4-35h8m-4 19h8m-7 13h8m3-22h8m-6 13h8m-8-22h8m-4 6h8m-7 4h8m-7 1h8m-2 2h8m-6 9h8m-4 10h8m-7-27h8m-6 31h8m-8-39h8m-7 12h8m-6 8h8m-5 5h8m-6 1h8m-7 13h8m-7-2h8m-8-35h8m-7 37h8m-5-24h8m-6-2h8m0-6h8m-6 13h8m-5 1h8m-3-14h8m-4-5h8m-3 21h8m-6 4h8m-6-3h8m-8 13h8m-4-28h8m-6-8h8m1 7h8m-7 19h8m-4-23h8m-4-2h8m-3 35h8m-5-19h8m-7 13h8m-4-30h8m-8 1h8m-7 32h8m-8-11h8m-7-17h8m-4 27h8m-7-24h8m-5 6h8m-4 0h8m3-5h8m-4 7h8m-3-17h8m0 8h8m-6 17h8m-6-20h8m-7 13h8m-6-6h8m-2 0h8m-6 23h8m-6-21h8m-8 3h8m-5 11h8m-8 2h8m-7-13h8m-3-15h8m-8 10h8m-7 7h8m-3 2h8m-6-12h8m-5 6h8m-4-9h8m-5 23h8m-7-11h8m-8-7h8m-6-10h8m-6 32h8m-3-7h8m-5-20h8m5 23h8m4-19h8m-2 6h8m-1 15h8m-3-14h8m-1-7h8m-5-2h8m-6 0h8m-4 9h8m1 13h8m2-30h8m-7 1h8m-7 3h8m-6 20h8m-7-1h8m-6 11h8m-8 2h8m-8-16h8m-7-8h8m-7-1h8m-8-11h8m-6 17h8m-7 20h8m-3-27h8m-7-10h8m-7 7h8m-8 8h8m-7 6h8m-5 4h8m-8 2h8m-6-22h8m-6 27h8m-6-18h8m3 2h8m-7 22h8m-8-6h8m-6-23h8m-7 0h8m-8 25h8m-7 4h8m-2-22h8m-8-15h8m-7 25h8m-7-18h8m-4-3h8m-8 13h8m1 9h8m-6 12h8m-6-20h8m-3-3h8m-1 7h8m-3-18h8m-6-2h8m-3-2h8m-6 15h8m-3-15h8m-7-1h8m-1 3h8m-913 53h8m-5-1h8m-4-10h8m-3-1h8m-1-4h8m0 21h8m-7 2h8m-5 8h8m-4-29h8m0 33h8m8 3h8m-8-29h8m-5 27h8m-6 2h8m-8-5h8m0 1h8m-8 4h8m5 0h8m230-3h8m1 0h8m-7-4h8m3-1h8m0-10h8m-7-4h8m5 3h8m-8 5h8m6-10h8m-1 14h8m-3-6h8m0-12h8m-6 16h8m-2-14h8m-3-1h8m-3-1h8m5 23h8m-5-27h8m-1 6h8m-5 3h8m-7 10h8m-8-19h8m-5-3h8m-4 32h8m-8-20h8m-1-11h8m-7-2h8m-8 11h8m19 20h8m-8 2h8m-8-11h8m0 2h8m-7-15h8m-6-4h8m-4-3h8m-7 16h8m-7-20h8m-6 9h8m1 27h8m-8-3h8m-8 5h8m-5-35h8m-8 34h8m-1-34h8m-3 33h8m-5-21h8m-8 16h8m-7-27h8m4 9h8m-7 21h8m6-24h8m-8 11h8m-6 13h8m-7-30h8m-8 16h8m-5 0h8m-7 9h8m-8-23h8m0-3h8m-6 20h8m-7-3h8m-8 15h8m-2-4h8m-7-14h8m-7-13h8m-7 11h8m-1-2h8m-7-8h8m-4 25h8m-7-2h8m-7-19h8m-6 26h8m-1-30h8m-4 25h8m-6-2h8m-6-7h8m-7-2h8m-5 5h8m-2 2h8m-3-25h8m-1 2h8m-5 2h8m2-2h8m-3-2h8m-8 15h8m0 4h8m0-1h8m18-16h8m74 0h8m-2-1h8m-5-2h8m36 2h8m7 0h8m-857 44h8m-7 7h8m0-8h8m11 12h8m-5-10h8m5-1h8m-6-6h8m23 1h8m-5 0h8m-7 3h8m-1 15h8m-3-14h8m-7 1h8m-8 9h8m-2 5h8m-2-3h8m-7-7h8m4 7h8m-7 3h8m-8-5h8m-7 4h8m3-4h8m-7 1h8m-8-3h8m-7 5h8m5-3h8m-8 3h8m-6-1h8m-5-2h8m-4 3h8m0-1h8m17 10h8m-7-3h8m-7-7h8m1 8h8m-1-9h8m-5 0h8m-8 1h8m-5-3h8m-4 0h8m-8 5h8m-7-1h8m-7 3h8m0-2h8m-1-9h8m19 6h8m-5-3h8m-8 4h8m-5-14h8m-7 7h8m-6-3h8m-6-3h8m-5 1h8m-4 0h8m2 1h8m-4-6h8m-6 3h8m-6 3h8m17-5h8m146 3h8m3 0h8m1 2h8m21-6h8m16 21h8m-3-2h8m2-14h8m25 2h8m5 8h8m32 6h8m-158 22h8" stroke="#d4d4d4" stroke-width="8" fill="none" transform="scale(.1)"/><path d="M2578 3111h8m11-21h8m-601 67h8m228-14h8m7-23h8m314 10h8m61 9h8m33 2h8m13 16h8m-739 36h8m49 4h8m653-20h8m-4-15h8m-4 20h8m-7 10h8m-5-13h8m1-18h8m10 19h8m-8-7h8m-7 7h8m1 0h8m-196 49h8m1 8h8m-7-23h8m7 21h8m12-18h8m-7 16h8m8 5h8m48-26h8m0-8h8m-6 5h8m4 25h8m-7 4h8m-6-31h8m0-6h8m-8 18h8m-5 18h8m1-12h8m-7-3h8m-3-11h8m8 16h8m-921 44h8m655-6h8m5 9h8m20 4h8m-3-1h8m-4-11h8m21-20h8m0 10h8m71-1h8m20 17h8m-1-8h8m6-24h8m-4 33h8m3 2h8m-7-4h8m-7 2h8m16-15h8m3 12h8m-317 36h8m11-24h8m-7 27h8m29-18h8m4 24h8m15-11h8m2-14h8m22 28h8m50-18h8m3-5h8m5 13h8m-6-13h8m1 23h8m2-5h8m-3-19h8m-8-12h8m15 5h8m3 11h8m6 15h8m-7-20h8m15 17h8m-255 16h8m6 8h8m52 9h8m21 12h8m34 3h8m-3-12h8m28-24h8m1 15h8m54-16h8m-7 21h8m34-18h8m-316 56h8m2 2h8m41-16h8m-6 22h8m-7 7h8m1-34h8m13 35h8m-2-34h8m52 0h8m-6 32h8m22-14h8m4 12h8m43 2h8m38 5h8m-7-19h8m-6 15h8m4-12h8m-7-19h8m-3 28h8m9-23h8m-5 18h8m-7-7h8m-2 10h8m-551 48h8m65-17h8m10-1h8m9-5h8m38 24h8m-7-7h8m29 6h8m1-10h8m-6-4h8m42-19h8m11 20h8m11-4h8m19-3h8m-5 18h8m-7-23h8m-2 20h8m0 1h8m0-25h8m-4 0h8m1 14h8m7-20h8m10 13h8m2-9h8m52 11h8m18 17h8m10-25h8m-8-5h8m-5 4h8m4-6h8m-4 10h8m6 16h8m-5-21h8m-3 18h8m-3-13h8m-7 16h8m4-11h8m-511 48h8m81 5h8m43-24h8m4 14h8m56-17h8m-6 2h8m-4-1h8m-6-2h8m12-1h8m-5 23h8m42-13h8m17 2h8m-4 14h8m-8-28h8m10 21h8m-1-6h8m-4 4h8m8-6h8m-7 2h8m-1 23h8m2-4h8m-4-28h8m-7-5h8m4 20h8m-5-6h8m16 21h8m4-2h8m-4-4h8m9-8h8m-4-5h8m10-7h8m-479 68h8m-4-8h8m-7-1h8m56-9h8m-1 14h8m-4-29h8m5-1h8m-2 20h8m15-2h8m0-4h8m18-2h8m36-1h8m24 20h8m79-17h8m-5 4h8m24 9h8m20-3h8m13 1h8m-6-21h8m-8-4h8m-7 11h8m1 22h8m12-25h8m-3 16h8m-8-2h8m5-22h8m-5-2h8m-4 6h8m1 23h8m-4 7h8m-5-8h8m-492 49h8m62-9h8m10-9h8m-3-13h8m-6 16h8m14-18h8m-8 10h8m-4 19h8m-3 2h8m-1-13h8m10-2h8m-7 6h8m7-9h8m8 2h8m-6 5h8m-7-21h8m7 13h8m-3 15h8m5-5h8m0-21h8m-7 19h8m90-4h8m4-7h8m-4-4h8m-4 14h8m-5-18h8m-4 2h8m-5 2h8m12 16h8m-7 12h8m-7-2h8m-7-1h8m-6 2h8m6-15h8m-4 0h8m2 9h8m-4-14h8m8 10h8m17-27h8m-7 10h8m-6 10h8m-7-18h8m5 27h8m-5-2h8m-965 50h8m31-10h8m33 2h8m418-21h8m59 17h8m7 10h8m-4-12h8m6 4h8m56 3h8m-1-29h8m10 20h8m9-10h8m4 11h8m-2 2h8m-5 6h8m32 7h8m22-1h8m-7-30h8m11 28h8m4 0h8m8-22h8m-1-3h8m0 26h8m0-5h8m1 6h8m-7-16h8m-7-2h8m0 2h8m-7-20h8m18 34h8m-7-34h8m-5 31h8m-4-22h8m7-5h8m-5 1h8m-930 38h8m496 24h8m21-9h8m-4 2h8m12-9h8m18-8h8m41 2h8m3-6h8m22 25h8m3-9h8m-4-8h8m0-7h8m2 15h8m-8 11h8m58 6h8m1-11h8m-3 11h8m16-8h8m-2 10h8m18-5h8m-3-13h8m2-10h8m-3-5h8m23 0h8m-8 12h8m-487 40h8m108 9h8m46-21h8m-8 11h8m9-11h8m20 9h8m42 7h8m-176 26h8m38 19h8m-6-22h8" stroke="#9999e0" stroke-width="8" fill="none" transform="scale(.1)"/><path d="M2589 3157h8m79 9h8m5 11h8m-5-7h8m-2 27h8m-6-36h8m1 16h8m-5-7h8m-2-3h8m-2-6h8m4 31h8m-2-23h8m-187 54h8m15-1h8m13 10h8m-5-27h8m15 27h8m21-24h8m8 12h8m26 14h8m-3-13h8m0-6h8m5 11h8m-3-26h8m-5 22h8m-8-2h8m-159 59h8m10-34h8m30 7h8m33 22h8m-6-1h8m48-20h8m-6 23h8m-3-18h8m-287 42h8m27-15h8m90 2h8m18 25h8m-5 1h8m23-25h8m-6-2h8m88 15h8m-2 18h8m-4-13h8m-436 40h8m22 1h8m49-15h8m40-2h8m86 22h8m11-8h8m17 9h8m19-8h8m13-11h8m7 19h8m17-32h8m7 37h8m-4-25h8m-4 22h8m-1-31h8m16 6h8m32 24h8m9-2h8m-256 39h8m10-26h8m-2 33h8m-5-20h8m-8 1h8m2 13h8m25-20h8m-1 16h8m46-3h8m-8-24h8m43 35h8m29-29h8m1 13h8m-7 19h8m5-15h8m24 3h8m3 3h8m-405 34h8m27 0h8m15-9h8m28 19h8m28 2h8m-3 0h8m-3-25h8m2 28h8m-6-36h8m-3 30h8m-8-3h8m17-25h8m-3 6h8m-2 6h8m73 12h8m22 3h8m33-26h8m0-6h8m-2 25h8m0-5h8m-6 5h8m-8-24h8m1 4h8m4 14h8m-2-12h8m-8-1h8m-2 33h8m-8-9h8m-6-2h8m-1 0h8m-492 46h8m76-11h8m46 3h8m32-25h8m10 9h8m21 23h8m-3-13h8m47-18h8m2 8h8m15 16h8m-1 7h8m14-29h8m35-4h8m24 35h8m27-13h8m-7-20h8m12 4h8m-492 63h8m113-2h8m18-11h8m12 12h8m33-16h8m15 14h8m97-25h8m3 30h8m27-1h8m6-16h8m2 8h8m2-11h8m4-2h8m-8 11h8m1 6h8m-7-11h8m-2 4h8m1-16h8m15 30h8m-380 38h8m38-14h8m40 22h8m1-34h8m0 30h8m-1-9h8m-4-9h8m11 17h8m44 5h8m-1-11h8m38-26h8m3 28h8m13 3h8m-2-22h8m-7 7h8m-5 0h8m-4 0h8m19-14h8m-7 28h8m-5 6h8m-7-8h8m-7-10h8m-4-16h8m23 6h8m-7-10h8m-6 7h8m-1 27h8m-4-29h8m-7 13h8m-396 22h8m99 26h8m-5-22h8m11-3h8m-3 38h8m-6-7h8m-8-19h8m-4 2h8m2-2h8m34 17h8m-4-26h8m0 20h8m68-15h8m-5 17h8m1 7h8m-5-24h8m-4-6h8m0 14h8m-2-6h8m5 27h8m-5-21h8m2 18h8m-7-30h8m-6 21h8m-1-8h8m-2-6h8m14 0h8m-4-12h8m-491 65h8m93-17h8m57 19h8m10-20h8m31-2h8m-8 31h8m10-29h8m6 0h8m24 2h8m-2-9h8m33 25h8m-5-25h8m-4 24h8m-4-6h8m8 16h8m-2-23h8m-4 23h8m5-21h8m-7-4h8m-5 20h8m-3-13h8m-5-13h8m-8 4h8m15-4h8m15-3h8m-263 77h8m-83 4h8" stroke="#6060ed" stroke-width="8" fill="none" transform="scale(.1)"/><path d="M2543 3102h8m104 48h8m-3 10h8m8 22h8m-2-15h8m16 21h8m31 2h8m-2-10h8m-187 49h8m40 6h8m13-29h8m6 30h8m30-31h8m51 29h8m-153 15h8m45 30h8m-4-2h8m16-29h8m-1 28h8m18 1h8m50-26h8m2 19h8m-82 26h8m4-14h8m-8 25h8m-255 39h8m78 3h8m13-19h8m10 9h8m74-14h8m4 25h8m33-26h8m22 8h8m-300 64h8m121-4h8m-2-15h8m-8 8h8m38 2h8m31-3h8m-5-1h8m8-20h8m11 30h8m2-31h8m15 30h8m-2 4h8m15-7h8m-3 5h8m14-16h8m19 18h8m-353 15h8m56-8h8m3 13h8m15 7h8m1 8h8m-3-13h8m107 17h8m22-30h8m44 26h8m-6 8h8m43-18h8m-516 42h8m258 1h8m33-24h8m-4 10h8m56 20h8m36-2h8m4 2h8m8-22h8m2-3h8m-6 20h8m-5-19h8m-8 23h8m7 8h8m23-1h8m-376 27h8m74-15h8m-5 19h8m3-23h8m188 17h8m-1 10h8m21-24h8m-142 67h8m11-14h8m14-10h8m5 7h8m3-2h8m-5 19h8m-8-12h8m8-14h8m2 2h8m60 7h8m-338 38h8m59-3h8m13-5h8m-3-4h8m47 13h8m29 4h8m3 15h8m-7 0h8m72-18h8m5-11h8m0-1h8m-309 52h8m1-14h8m52 34h8m-5-25h8m4-9h8m90 4h8m-7 25h8m4 2h8m-4-2h8m-2-31h8m-6 32h8m18-15h8m-8-17h8" stroke="#1414ff" stroke-width="8" fill="none" transform="scale(.1)"/>
<path d="M2347 3798h8m-71 19h8m-3 9h8m-8 8h8m-7-7h8m-5 11h8m-8-14h8m-3 10h8m-5 2h8m-8-5h8m1 3h8m0-5h8m-6-5h8m-1 12h8m4-34h8m-7 0h8m-6 11h8m-5-8h8m-5-1h8m-7 35h8m-6-11h8m-2-15h8m-7 13h8m-5 9h8m9-34h8m-7 38h8m0-7h8m-147 30h8m25 0h8m-2 8h8m-3-6h8m-3-20h8m-8 6h8m-6 24h8m-4-26h8m-8-2h8m-7-1h8m-6 2h8m-6 25h8m-3-17h8m-4 4h8m-7 18h8m-8-32h8m-7 2h8m-8 28h8m-8-4h8m-4-20h8m-7 15h8m-7-15h8m-6 1h8m-3-4h8m-7 3h8m-6 4h8m-6 13h8m-7-2h8m-8-1h8m-7 5h8m-3 5h8m-4-2h8m-8-22h8m-7-6h8m-4 30h8m-8-27h8m-7 30h8m-4-17h8m-3-14h8m-8 10h8m-6-9h8m-7 19h8m-6-18h8m-7 8h8m-8-13h8m-2 27h8m-8-15h8m-7-15h8m-2 18h8m-7 5h8m-8 0h8m-3 5h8m-7 7h8m-7-2h8m-8-30h8m-2 23h8m2-1h8m-600 33h8m9 13h8m-7 1h8m9-3h8m-7-9h8m-5 3h8m-6 8h8m-5-18h8m-3 21h8m-8 4h8m-6-4h8m-8-1h8m-7-1h8m-8-16h8m-7 21h8m-8-10h8m-7 6h8m-6-13h8m-8 12h8m-1-17h8m-5 3h8m-8 19h8m-6 0h8m-8-3h8m-7 0h8m-5-1h8m-4-12h8m-6 9h8m-4-13h8m-6 12h8m-7 7h8m-8-7h8m2-2h8m0 0h8m14 5h8m336-18h8m-2 3h8m-7 11h8m-6-9h8m-5-4h8m-6 6h8m-1 7h8m-6-20h8m-6-5h8m-7 4h8m2-8h8m-8 14h8m-8 19h8m-7-18h8m-5 17h8m-8 2h8m-7-8h8m-8-24h8m-8-1h8m-6 14h8m-5 15h8m-7-8h8m-6-19h8m-8 25h8m-6-1h8m-7-20h8m-6 6h8m-7-1h8m-8-4h8m-7 4h8m-6 15h8m-7 4h8m-7-26h8m-6 13h8m-8 19h8m-7-13h8m-4-3h8m-2-9h8m-3 25h8m3-17h8m-5 9h8m0-3h8m-5-7h8m-2-5h8m-8 20h8m0-13h8m-7 5h8m-7-5h8m-596 27h8m-3 6h8m-7-7h8m-5 23h8m-5-24h8m-7 2h8m-7 20h8m-8-16h8m-5 6h8m-6 0h8m-5 6h8m-7-15h8m-5-3h8m-5 7h8m0 11h8m-8-14h8m-7-5h8m-5 4h8m-8-7h8m-6 4h8m-7 33h8m-6-13h8m-8-15h8m-7-7h8m-6 5h8m-6-8h8m-7 7h8m-7 12h8m-8 9h8m-6-21h8m-5 1h8m-8 3h8m-8 14h8m-4-15h8m-7-4h8m-8-4h8m-8 2h8m-6 10h8m-7-15h8m-8 6h8m-7 15h8m-3 4h8m-7 10h8m-8-7h8m-7-16h8m-8 17h8m-6-2h8m-8 3h8m-1-23h8m-1-6h8m-5 4h8m-7 8h8m-7-13h8m-6 11h8m-8 21h8m-2-14h8m-7-6h8m-7 3h8m-3 23h8m-2-28h8m-7 20h8m0-25h8m-6 15h8m-8-20h8m-3 2h8m-5 26h8m0 10h8m-6-26h8m-5 19h8m-7-18h8m3 16h8m-6-8h8m-3 16h8m-7-21h8m4 22h8m276-5h8m-4-5h8m-5-18h8m-2 21h8m-6-10h8m6-15h8m-3 3h8m-5 19h8m-8-16h8m-5 14h8m-5-17h8m-6-2h8m5-4h8m-5 13h8m-4 12h8m-3-20h8m-8-3h8m-3 17h8m-4-15h8m-2-7h8m-5 16h8m-6 13h8m-8 2h8m-5-16h8m-5 21h8m-2-33h8m-4 19h8m-8-3h8m-1 19h8m-2-28h8m-6 28h8m1-18h8m-4-17h8m-7 33h8m-8-16h8m-6 8h8m-7-15h8m-8 5h8m-7-2h8m-4-3h8m-7 4h8m-1 0h8m-6 0h8m-7 8h8m-7 0h8m-7 2h8m2 0h8m7 9h8m-533 18h8m-5 4h8m-1-5h8m0 1h8m-4-8h8m-5-2h8m-4 28h8m-4-18h8m-6 7h8m-7 1h8m-4 5h8m-7-5h8m-6-20h8m-7-2h8m-7 20h8m-5-2h8m-8-17h8m-1 19h8m-7 9h8m-8-15h8m-8-4h8m-1 21h8m-4-10h8m-1-2h8m6 3h8m-5 10h8m-2 2h8m200 3h8m-7-8h8m-2 8h8m-1-23h8m-7 22h8m-7-20h8m-7 4h8m-6-4h8m-6 5h8m-7 5h8m-8-3h8m-7 13h8m-8-7h8m-3-15h8m-5 13h8m-8-11h8m-5 10h8m-7-18h8m-7-3h8m-4 14h8m-5-8h8m-8 5h8m-7 14h8m-6 1h8m-5 3h8m-6-7h8m-7-9h8m-5-4h8m-5 14h8m-7-14h8m-7-4h8m-7 12h8m-8-15h8m-5 25h8m-7-30h8m-7 10h8m-7 7h8m-6 6h8m-2 13h8m-7-1h8m-7-10h8m-8 9h8m-5-24h8m-7-2h8m-8 14h8m-3-6h8m-5 17h8m-4 4h8m0-5h8m-6-18h8m-3-13h8m1 24h8m-8-17h8m-6-6h8m-8 27h8m-6-25h8m-1 14h8m-6-15h8m-4 17h8m-5-5h8m-2-12h8m2-3h8m-2 19h8m-8-13h8m3 6h8m-425 33h8m9 6h8m-7 0h8m-7-1h8m-7 21h8m-7-22h8m-5-9h8m14 24h8m-3-18h8m-6 13h8m-5-6h8m-7 14h8m-6-8h8m4-4h8m-8 7h8m22 4h8m5 5h8m-2-9h8m103 2h8m2 3h8m-2 4h8m-7-13h8m-8-20h8m-8 29h8m-7-21h8m-1 15h8m-7-18h8m-8 0h8m-7 11h8m-6 6h8m-7-11h8m-8-8h8m-6 14h8m-6 11h8m-7-28h8m-4 33h8m-8 6h8m-8-25h8m-7-3h8m-3 18h8m-8-7h8m-8-14h8m-1-5h8m-5 9h8m-7-4h8m-2 17h8m-8-21h8m-5 17h8m-2-8h8m-8 0h8m-7-4h8m-6 15h8m-5-15h8m-7 23h8m4-4h8m-5 10h8m-4-35h8m-6 34h8m-2-9h8m-4-13h8m-8-10h8m-6-4h8m-7 22h8m1-3h8m-5-3h8m2-8h8m-4 25h8m-8-11h8m-7-10h8m7-8h8m-6 34h8m-4-8h8m-5 7h8m-3-14h8m-6-14h8m-7-9h8m-7 14h8m-4-14h8m-363 49h8m-8-3h8m-4 9h8m-7-9h8m-4 8h8m-7 10h8m-7-7h8m-7-6h8m-7 10h8m-3-2h8m-7 2h8m-5 0h8m10 12h8m-7 2h8m121-2h8m-2-5h8m-8-10h8m3-13h8m-8 15h8m-5-9h8m-7 13h8m-8 6h8m-7-16h8m-6 12h8m-6-20h8m-8 28h8m-7-2h8m-8-19h8m-8 2h8m-6 8h8m-7-7h8m-3-15h8m-8 0h8m-5 4h8m-7 6h8m-7-7h8m-4 24h8m-8-17h8m-7 17h8m-4 5h8m-8-34h8m-8 4h8m-7 12h8m-7 21h8m-7-24h8m-7-9h8m-6 14h8m-7 1h8m-4 17h8m-5-2h8m-4-15h8m-5-4h8m-8 3h8m-7-15h8m-6 31h8m-7-1h8m-5-17h8m-7 9h8m-7-10h8m-8-12h8m-7 10h8m-7 16h8m-6-24h8m-3 24h8m-7-16h8m-7 25h8m-6-17h8m-4-12h8m-7 15h8m-7-17h8m-4-7h8m-5 11h8m-6 12h8m-5-1h8m-7-1h8m1-5h8m-2 12h8m-7-28h8m0 12h8m-5-7h8m-6 14h8m-6-15h8m13 19h8m-5 2h8m0-13h8m-3-12h8m-6 28h8m3 10h8m-8-22h8m-6-4h8m0-2h8m-7 23h8m-7-17h8m-7 23h8m-8-9h8m1-12h8m-7 8h8m-7-23h8m-6 22h8m-6-22h8m-8-3h8m-5 14h8m-8-3h8m-7 12h8m-3 0h8m-4-2h8m-635 45h8m-7-4h8m-1 8h8m206-29h8m17 1h8m17 6h8m-5 3h8m1 1h8m-8 15h8m-6-11h8m-7 8h8m-8 4h8m-7-3h8m-6-5h8m-7 1h8m-8-6h8m-7 10h8m-7-6h8m-7 13h8m-7-8h8m-8 6h8m-5-16h8m-8 19h8m-7 5h8m-7-8h8m-7-4h8m-5 7h8m1 0h8m-5 3h8m-3-3h8m57-9h8m-4-14h8m-6 3h8m-2 0h8m-8 11h8m-7-14h8m-8-1h8m-1-5h8m-8-2h8m-2 14h8m-6-11h8m-8 11h8m-5-7h8m-8 6h8m-4 0h8m-7-14h8m-8 30h8m-7-28h8m-7 33h8m-8-29h8m-6 9h8m-7 4h8m-8 18h8m-4-37h8m-7 16h8m-4-11h8m-6-3h8m4 16h8m-4 14h8m-3 0h8m-6 1h8m-8-12h8m-7 13h8m-8-25h8m-7 10h8m-6 11h8m-8-29h8m-7 34h8m-6-36h8m2 15h8m-1 17h8m-8-18h8m-8 6h8m-4 19h8m-7-28h8m-8 2h8m-7 8h8m-7 3h8m-3-17h8m-8 32h8m-6-36h8m-3 20h8m8 15h8m-8-11h8m-3-24h8m-5 7h8m-5 16h8m-2-7h8m-7-4h8m-1 24h8m-1-18h8m-5 11h8m-5-12h8m2-1h8m23 9h8m-4 6h8m-6-1h8m-7-28h8m3 32h8m2-28h8m-6 11h8m2 16h8m-623 6h8m1 8h8m30 11h8m4 9h8m-6-3h8m-4 9h8m-6-6h8m1-3h8m-6-23h8m196-4h8m6 14h8m-5-7h8m-7 1h8m-6 9h8m-5 2h8m-7-13h8m-8 6h8m-4 2h8m-6 3h8m-6 4h8m-7 3h8m-6-3h8m-4 2h8m-5 0h8m-4 9h8m-3 5h8m-2-5h8m25-27h8m0 12h8m-6-9h8m-7 14h8m-5-18h8m-6-3h8m-8 4h8m-5 25h8m-6 6h8m-2-8h8m-2 3h8m-8-28h8m-8 13h8m-8 15h8m-7-9h8m-7-11h8m-6 0h8m-6-11h8m-8 17h8m-7 4h8m-7 3h8m-7 8h8m-4-7h8m-8-11h8m-8-3h8m-8-4h8m-7 7h8m-7 21h8m-7-10h8m-5-19h8m-3-4h8m-8 11h8m-6 2h8m-7 4h8m-4-2h8m-7 4h8m-7 5h8m-8 3h8m-7-19h8m-6 10h8m-6 16h8m-1-16h8m-7-9h8m-5 25h8m-6-25h8m-7 7h8m-1-18h8m-6 13h8m-2-12h8m-5 27h8m-7 4h8m-3-4h8m2-12h8m-7 14h8m-6-14h8m8 13h8m1 7h8m-5-22h8m-3 21h8m-7-2h8m-6-27h8m-7 20h8m-6-21h8m-4 26h8m-7-22h8m-2-5h8m-6-3h8m-2 34h8m-6-6h8m6 5h8m-1-7h8m-8 1h8m-7 6h8m-4-25h8m-6 10h8m-8 20h8m-4-7h8m-4 5h8m-3-28h8m-8 8h8m-3-6h8m-7 19h8m-7-13h8m8 15h8m-4 2h8m5 3h8m95-9h8m-701 31h8m-5-7h8m1 2h8m-6-12h8m-8 11h8m-3 0h8m-5 5h8m-5-15h8m-4 7h8m-8 3h8m106 15h8m8-7h8m3 18h8m114-39h8m-6 1h8m7 12h8m-3 7h8m-2-2h8m-6 4h8m-2-5h8m-6 6h8m-8 1h8m-3 6h8m-1-26h8m-8 27h8m-7-21h8m7 12h8m-8 2h8m-6-13h8m-2 0h8m-4 21h8m3-19h8m4 3h8m-8-5h8m-8 20h8m-4 8h8m-5-37h8m-3 36h8m3-21h8m-7 17h8m-5-15h8m-8 2h8m-4 16h8m-7 1h8m-5-5h8m-6-27h8m-1 27h8m-6-15h8m-8-12h8m-7 32h8m-2-8h8m-8 3h8m-5-13h8m-3 13h8m-8-30h8m-7 7h8m-7-6h8m-7-1h8m-8 34h8m-5-14h8m-6-23h8m-8 0h8m-6 26h8m-6-21h8m-6-2h8m0 20h8m-6 12h8m-7 2h8m-3-25h8m-5 5h8m-6-15h8m-3 36h8m0-14h8m-6-10h8m-5 22h8m-6-33h8m-7 34h8m-8 0h8m-2-32h8m-8 19h8m-6 15h8m-4-1h8m-8-25h8m-7 19h8m-1 1h8m-8 0h8m-8-11h8m-7 1h8m-7-4h8m-7-17h8m-7 30h8m-4-7h8m-7-4h8m-7 10h8m-6 6h8m-7-27h8m-5 19h8m-8-28h8m-8 14h8m-3-9h8m-5 28h8m-1 4h8m-6-10h8m0-28h8m-7 2h8m-8 13h8m-5 14h8m-2-10h8m-2-7h8m-6 21h8m-5-14h8m7-12h8m-2-1h8m-8 15h8m-7-8h8m-7 19h8m-5 4h8m1-27h8m-7 9h8m-7 15h8m-6-25h8m-7 17h8m-7-1h8m-6 7h8m-7 3h8m-6-1h8m-7 4h8m-7-23h8m-7 14h8m-6 8h8m-8-7h8m-5-25h8m-5 26h8m-8-7h8m-8-6h8m-7 6h8m-7 12h8m-5-16h8m-8 10h8m-8-19h8m-7 28h8m-6-13h8m-7 14h8m-3-2h8m-5 0h8m-6-2h8m-8-21h8m-6 18h8m-5-1h8m-8 4h8m-7-14h8m-7 5h8m-7 3h8m-8-12h8m-4 9h8m-6 13h8m-6-11h8m-7-2h8m-2-19h8m-6 24h8m-8-20h8m-7 27h8m-8-18h8m-7-2h8m-1 20h8m-8-28h8m-4 20h8m-6-10h8m-4 11h8m-7-4h8m-4 1h8m-6-6h8m-6 6h8m-761 48h8m8-10h8m-6 10h8m-8-11h8m15-4h8m123-7h8m-4 24h8m-3-23h8m0 13h8m-5-19h8m4 0h8m-6 27h8m-3-11h8m2 6h8m153 8h8m2-9h8m-2 6h8m-6 0h8m-7-33h8m-3 34h8m-6-2h8m-5-23h8m-6 12h8m-6-10h8m-7 14h8m-3-23h8m-8 23h8m-6-6h8m-7 0h8m-6-10h8m-8 9h8m-6 0h8m-6-16h8m-4 13h8m-5-4h8m-7-10h8m-8 6h8m-4-2h8m-6 11h8m-4-13h8m-8 19h8m0-8h8m-7 13h8m-5-24h8m-6 6h8m-6 2h8m-8-2h8m-5-4h8m-4 23h8m-8-14h8m-5 7h8m-6-4h8m-8-9h8m-7 21h8m-8 7h8m-3-32h8m-5 21h8m-7-12h8m-7-11h8m-8 17h8m-6-18h8m0-2h8m-7 13h8m-5 22h8m-4-9h8m-4 4h8m5-31h8m-6 2h8m-8 20h8m-6-19h8m-6 14h8m14-14h8m-8 11h8m-6 15h8m-2-9h8m-5-16h8m-3 24h8m-7-1h8m-2-28h8m-7 38h8m-7-21h8m-8-4h8m-7-8h8m-8-2h8m-6 36h8m1-8h8m-1-5h8m-8-4h8m-5-11h8m-2 4h8m-8 0h8m-7-2h8m-5-11h8m-7 5h8m-1 25h8m-6 6h8m-7-34h8m-3 2h8m-2 25h8m-5-12h8m-1 0h8m-8-12h8m-5 0h8m-8 8h8m-3-1h8m-8-7h8m-4 32h8m1-22h8m2-12h8m-6-1h8m-8 8h8m-3 20h8m-5-8h8m-3-3h8m-4-14h8m-7 6h8m-6-12h8m-7 31h8m-7-20h8m-7 25h8m-8-18h8m-5-2h8m-6-1h8m-7-5h8m-6-4h8m-6-7h8m-7 28h8m-7-26h8m-7 22h8m-8-6h8m-5 9h8m-8 11h8m-8-34h8m-7 13h8m-7-2h8m-8-15h8m-7 0h8m-8 25h8m-5-19h8m0-6h8m-8 4h8m-7 18h8m-3 13h8m-8-25h8m-6 7h8m-5-12h8m-6-4h8m1 5h8m-6 13h8m-6 10h8m-5-11h8m-5-14h8m-4 6h8m-5 6h8m61 20h8m0 0h8m-1 0h8m-3-2h8m-2-2h8m-5-3h8m-859 13h8m109 32h8m-4-32h8m9 16h8m-6 15h8m-7-23h8m-4 13h8m-4 15h8m0 1h8m-7-26h8m-6-6h8m-8 5h8m-6 12h8m-7-2h8m-7 12h8m-8-17h8m-4 22h8m-8-29h8m-1 2h8m-8 22h8m-5-18h8m-8 3h8m-5-7h8m-8 3h8m-5-10h8m-6 22h8m-6-9h8m-4 16h8m-3 4h8m-7-4h8m-8-4h8m-5-3h8m-8-18h8m-7 6h8m-8-4h8m5 8h8m0 11h8m6 5h8m-7-4h8m22 8h8m119-34h8m-3 13h8m-7-1h8m-8-7h8m-7 9h8m-8 12h8m-7-26h8m-7 7h8m-8 9h8m-3-15h8m-7 1h8m-7 7h8m-6 16h8m-4-24h8m-2 10h8m-7-7h8m-6 27h8m-8 2h8m-2-13h8m-7-25h8m-7 31h8m-6-21h8m-8 18h8m-6-25h8m-3 9h8m-7-4h8m-8-1h8m-7 2h8m-7-2h8m-7 15h8m-7-8h8m-2-1h8m-6-12h8m-7 1h8m-4 35h8m-5-17h8m-8-19h8m-5 25h8m-5-5h8m-1-4h8m-1 4h8m-7 0h8m-6-11h8m-3 12h8m-6 14h8m-1-19h8m-7 3h8m-7 16h8m-8-10h8m-2-4h8m-8-21h8m-7 11h8m-4 10h8m-2 1h8m-1 6h8m-5-27h8m-1 9h8m-8-10h8m-4 18h8m1 0h8m-3-7h8m-8 12h8m-3-22h8m-6 19h8m41-8h8m6 17h8m-2-11h8m1-7h8m-7-8h8m-6 0h8m10 27h8m3-17h8m-6-5h8m-5 11h8m-2-3h8m-7-14h8m9 34h8m-6-29h8m-4 16h8m-3-12h8m1 0h8m5-3h8m-5 27h8m-7 2h8m19-10h8m21 0h8m-3-26h8m-6 37h8m-7-15h8m-5-2h8m-7 3h8m-7-6h8m-7-7h8m-6 11h8m-4-6h8m-4 9h8m-6-17h8m-6-5h8m-6 11h8m-8 0h8m-8 14h8m-7 1h8m-5 1h8m-4-2h8m-4 0h8m-4-3h8m-7 13h8m-3-27h8m-6-4h8m-7 25h8m1-30h8m-6 28h8m-2-2h8m-1-1h8m-4-28h8m-2 14h8m-909 65h8m117-37h8m-1 2h8m-6 15h8m3-10h8m-5 10h8m-2-10h8m-5 15h8m-6-4h8m-8-19h8m-7 9h8m-6 28h8m-7-17h8m-5 10h8m-8-5h8m-6-2h8m-8-11h8m-6-3h8m-4 15h8m-7 13h8m-8-2h8m-8-23h8m-7-12h8m-8-1h8m-6 9h8m-8 12h8m-6 10h8m-7-23h8m-7 8h8m-8-8h8m-5-7h8m-8 33h8m-7-23h8m-8 22h8m-7-30h8m-8 34h8m-7-35h8m-8 26h8m-6-22h8m-8 10h8m-7-16h8m-8 39h8m-7-39h8m-7 0h8m-7 28h8m-7-14h8m-6-6h8m-7-8h8m-8 27h8m-6 8h8m-8-6h8m-8 9h8m-7-12h8m-5-18h8m-7 14h8m-5-5h8m-6 2h8m-7-7h8m-8 15h8m-7-24h8m-6 16h8m-3-10h8m-8 1h8m-6-2h8m-7 16h8m-6 4h8m-8-5h8m-6 13h8m-4-7h8m-4-6h8m-6-23h8m-5 25h8m4-23h8m5 16h8m-2-7h8m1 19h8m-4-7h8m-3-12h8m-2 5h8m11-5h8m-5 7h8m0-1h8m-4-10h8m8 6h8m51 18h8m2-14h8m-6-6h8m2 8h8m-1-13h8m-5 7h8m-6-3h8m1-4h8m-8 32h8m-8-25h8m-4-1h8m-6 5h8m-7 8h8m7-19h8m-8 30h8m-5-7h8m-5-11h8m-8 21h8m-8-26h8m-4 12h8m-6-25h8m2 0h8m-8 24h8m-6 11h8m-4-21h8m-7 11h8m-5 3h8m-3 8h8m-8-27h8m-6 10h8m-2 15h8m-3-24h8m-4 17h8m-6 2h8m-8-6h8m-5-1h8m-7-21h8m-7 14h8m-6 21h8m-2-3h8m-7 0h8m-5 4h8m-6-25h8m-6 3h8m-7 3h8m-8-6h8m-1 21h8m-7-30h8m0 16h8m-6-5h8m-7-13h8m-3 16h8m-6-12h8m-5 18h8m-3-2h8m-4 8h8m-7-20h8m-7-2h8m-6 12h8m-1-6h8m-8 23h8m-2-1h8m-1-34h8m-2 21h8m-6-1h8m-3 18h8m-8-29h8m-7 4h8m-6 22h8m1-11h8m3-22h8m0 17h8m-5 8h8m-5 5h8m-5-23h8m9-4h8m-7 10h8m-1 11h8m34 7h8m-7-29h8m-8 31h8m-5-9h8m21-13h8m-4 21h8m2-33h8m-3-1h8m-4 37h8m-8-23h8m7 23h8m5-5h8m1-30h8m-2 10h8m-2 8h8m-1-14h8m-4 10h8m-1 13h8m-3 1h8m-8 5h8m-3-19h8m-3-13h8m0 8h8m-1-10h8m-7 19h8m-8-21h8m11 11h8m-6 27h8m8-9h8m-939 28h8m-5 6h8m-3-18h8m-5-1h8m-7 1h8m51 19h8m71-21h8m13 19h8m-2-20h8m-3 6h8m-7 28h8m-6-27h8m-6-4h8m-3 10h8m-6 15h8m-7-19h8m-7 8h8m-8-2h8m-6-16h8m-6 6h8m-6-1h8m-4 10h8m-5-16h8m-8 23h8m-6-10h8m-7-6h8m-5 20h8m3 11h8m-8-2h8m-1-31h8m-6 23h8m-6 7h8m-7-11h8m-5 10h8m-8-25h8m188-9h8m20 4h8m2 19h8m17-2h8m-8-21h8m-7 2h8m-6 31h8m-7-29h8m-8 16h8m2-14h8m-5 11h8m-6-11h8m3 31h8m-7-31h8m-7 0h8m-6 31h8m-4-13h8m-6 6h8m-1-26h8m-1 27h8m-7 6h8m-6-13h8m-7-21h8m-7 34h8m-4-12h8m-3-15h8m-8 25h8m2-16h8m-4-1h8m-3-11h8m-6 3h8m-3 22h8m-6-1h8m-7-4h8m-7-8h8m-7 14h8m-7-15h8m-8-11h8m7-2h8m-5 2h8m-7 31h8m-7 0h8m-7-10h8m-8-17h8m-8 15h8m2 2h8m-6-20h8m-6 3h8m-7 18h8m-6-26h8m-7 36h8m-8-11h8m-3 8h8m-7 0h8m-8-6h8m-7-5h8m-6-25h8m-6 22h8m-5-14h8m-7 14h8m-5 17h8m-3-5h8m1-1h8m-3 4h8m2-30h8m6 22h8m1 8h8m15-28h8m9-7h8m-7 23h8m-7-17h8m0 16h8m-8 6h8m-7 1h8m-7-2h8m-7-26h8m-1 15h8m-6 1h8m-8 9h8m-6-20h8m-2 26h8m11-13h8m-6-18h8m2 3h8m-7 7h8m-8 15h8m5-19h8m-2 12h8m-4-14h8m9 1h8m3 24h8m16-1h8m8-13h8m-3 13h8m-4 8h8m2-26h8m-8-11h8m-3 6h8m-4 21h8m-4-2h8m-967 33h8m-8-3h8m-7-5h8m4-12h8m103 2h8m100 20h8m-6-14h8m-7 0h8m-3 1h8m21-7h8m261 36h8m-7-20h8m-2-17h8m-2 34h8m-6 0h8m-2 1h8m-5-13h8m-8 6h8m-8-9h8m11-6h8m-7 4h8m-6 12h8m-8 9h8m-3-11h8m-5-1h8m-5 10h8m0-7h8m3-5h8m-6 0h8m-2-12h8m-4 16h8m-5 3h8m-6 2h8m-3-29h8m-8 11h8m-7 1h8m-6-1h8m-6-16h8m-4 36h8m-5-22h8m-2 12h8m-7-16h8m-2-9h8m-2 11h8m-5-7h8m-6 21h8m-7 13h8m-2-14h8m-6-11h8m-4 9h8m-6-5h8m-6 17h8m1-28h8m-2 12h8m-8 17h8m-6 0h8m-2-13h8m-4-3h8m-2-5h8m-5-9h8m-1 14h8m-2-9h8m-7 11h8m-4 6h8m0 11h8m-3-7h8m-7-31h8m24 0h8m14 22h8m14-7h8m6-3h8m1-7h8m-6 2h8m-3 8h8m2 0h8m-2-10h8m-1 3h8m2 12h8m10-7h8m-3 4h8m-3-12h8m13 9h8m-1 6h8m-5-5h8m-8 14h8m2-10h8m3-5h8m-5 21h8m-470 14h8m-5 5h8m-2 12h8m4 8h8m-6-2h8m-8-5h8m-5 2h8m-5-20h8m-7 1h8m-8 16h8m-3-14h8m-6 18h8m-7-18h8m-5 15h8m-8-14h8m-8 20h8m-6-21h8m-7 24h8m-6-6h8m-6-16h8m-7 16h8m-6-15h8m-8-2h8m-5 8h8m-8-19h8m-6 10h8m-8 12h8m-6 0h8m-7 2h8m-8-26h8m-4 26h8m-7-5h8m-7 3h8m-6 11h8m-7-7h8m-6-20h8m-7 30h8m-8-10h8m-3-11h8m-5-7h8m-8 3h8m-6-3h8m-8 23h8m-7-20h8m-7 1h8m-7 16h8m-8-22h8m-6-2h8m-7 32h8m-3-36h8m-7 33h8m0-20h8m-7 17h8m3 6h8m-4-3h8m-2-29h8m-3 12h8m-1-6h8m-8 5h8m-4-18h8m-4 12h8m-4 5h8m2 22h8m-7-19h8m-2-17h8m-7 4h8m-8 4h8m4 15h8m-5 4h8m-3-29h8m-6 29h8m-1-1h8m-8-5h8m0-10h8m-4-3h8m-7-9h8m-4 34h8m-6-18h8m-7 21h8m4-32h8m-4 9h8m-6-10h8m-3-3h8m-6 12h8m-6-4h8m-6 24h8m-5-29h8m-4-4h8m-6 23h8m-5 10h8m3 0h8m-7-31h8m-1 16h8m1 5h8m3-23h8m12 24h8m-8-5h8m-5-17h8m24 16h8m-7-1h8m5 10h8m3-22h8m5 25h8m-5 4h8m7-2h8m8-9h8m-4-10h8m3-6h8m-5 1h8m2 1h8m35 27h8m1 1h8m-511 39h8m-7-19h8m-3-5h8m-5-2h8m-5 18h8m-7-13h8m-6 8h8m-2-25h8m-4 11h8m-8 11h8m-8 4h8m-5-21h8m-5 20h8m-7-20h8m-5 5h8m-6 13h8m-7 4h8m-8-19h8m-3 2h8m-8 18h8m-4 4h8m-7-13h8m-6-6h8m-4 5h8m-6 11h8m-8-22h8m-8 20h8m-5-14h8m-8 14h8m-7-2h8m-7 14h8m-8-19h8m-7 15h8m-7-2h8m-5-26h8m-8 22h8m-7-23h8m-6 9h8m-8-3h8m-6 2h8m-7-12h8m-8 25h8m-8-3h8m-3 5h8m-8 9h8m-8-34h8m-7 17h8m-7 13h8m-7 5h8m-7-38h8m-7 26h8m-8-19h8m-4 17h8m-6-8h8m-8-14h8m-3 16h8m-7-1h8m-7 20h8m-7-29h8m-8 5h8m-7 15h8m-7-5h8m-8 15h8m-6-32h8m-7 1h8m-6 3h8m-4 5h8m-4 13h8m-7-1h8m-3-22h8m-6 12h8m-5 1h8m-7-13h8m-7 6h8m-5 2h8m-8 6h8m-8 17h8m-8-31h8m-7 30h8m-8-26h8m-7-8h8m-7 35h8m-6 0h8m-4-12h8m-2-13h8m-7-9h8m-5 16h8m3-6h8m4 14h8m1-5h8m-4-17h8m0 25h8m7-18h8m-5 19h8m-8-19h8m-8 12h8m-4 12h8m-5-23h8m-8-12h8m-4 21h8m-5 9h8m-1 2h8m-4-17h8m-7 19h8m-4-33h8m-6 19h8m-6-12h8m-5 18h8m-5-8h8m-5 15h8m-7-30h8m-6 24h8m-7-17h8m-2 20h8m-7-15h8m-7 19h8m-2-11h8m-5-5h8m-6 14h8m-7 4h8m1-31h8m-6 7h8m-2 4h8m-8 16h8m-6-8h8m-7 4h8m-6-26h8m-7 34h8m0-27h8m-6 9h8m-5-17h8m16 5h8m-6 24h8m-8-30h8m-2 14h8m-2 8h8m8 16h8m1-27h8m-2 4h8m4-12h8m-6-4h8m14 25h8m19-1h8m-4-11h8m8 8h8m-7 14h8m4-25h8m-7-4h8m-4 11h8m4 19h8m-3-35h8m8 29h8m-8-1h8m-2-9h8m-916 48h8m-4-5h8m-3 4h8m-6 1h8m-8 8h8m-7-12h8m-6 7h8m345 7h8m7-14h8m4-1h8m-4-17h8m-7 11h8m-8 8h8m-6-5h8m-2 2h8m-7-16h8m-5-1h8m-6 32h8m-5-20h8m-7-8h8m-7 28h8m-6-10h8m-4-12h8m-8 10h8m-4-13h8m-7-5h8m-7 12h8m-5-11h8m-8-3h8m-5 23h8m-5-15h8m-5 3h8m-6-9h8m-8-2h8m-5 14h8m-7-10h8m-7 11h8m-8 0h8m-7 1h8m-2-10h8m-7-11h8m-6 22h8m-8-9h8m-8 14h8m-8-27h8m-5 25h8m-7 2h8m-7-22h8m-7 0h8m-5 26h8m-8 3h8m-8-7h8m-6-9h8m-7 14h8m-7 7h8m-8-38h8m-5 6h8m-7 11h8m-7 14h8m-3 1h8m-4-5h8m-5 0h8m-7-27h8m-4 9h8m-7-4h8m-8 33h8m-5-37h8m-7 0h8m-7 35h8m-8-34h8m-1 24h8m-8 0h8m-7 7h8m-2-11h8m-7 6h8m-7-11h8m-8-18h8m-7 37h8m-8-4h8m-8-21h8m-7-12h8m-5 38h8m-6-10h8m-7-25h8m-7 23h8m-6-10h8m-7-12h8m-7 15h8m-6-5h8m-7 16h8m-8-30h8m-7 4h8m-6 9h8m-8 11h8m-8-24h8m3 3h8m-6-1h8m5 12h8m-6 20h8m2-9h8m-5-15h8m-3-9h8m-6 29h8m-7-22h8m-7-2h8m-5 18h8m-7 11h8m-7-14h8m-1-1h8m0 6h8m-4 0h8m-7-1h8m-2-6h8m-5-17h8m-4 29h8m-8-10h8m-7 17h8m-8-14h8m0 9h8m-7 3h8m-6-36h8m-7 30h8m3-12h8m-2 3h8m-6 12h8m-8 2h8m-6-4h8m1-7h8m-5-17h8m-6 12h8m-8-11h8m-5 8h8m-8 6h8m0 1h8m-7 6h8m8-15h8m2-4h8m-4 7h8m12-13h8m16-4h8m50 0h8m15 18h8m3-1h8m-4 16h8m-7-20h8m6 7h8m-5-20h8m-1 25h8m-8-4h8m-6-12h8m1 5h8m-5 20h8m-4 3h8m-5-35h8m-5 31h8m-7-26h8m-6 19h8m2-10h8m-4-7h8m-3 28h8m-6-36h8m-6 33h8m-925 8h8m-8-2h8m-6 0h8m34 32h8m94 7h8m8-6h8m-4-13h8m-5 9h8m-3-10h8m-7 19h8m135-4h8m40-33h8m-3 11h8m-2 19h8m-7-27h8m-4 19h8m-7-11h8m-8 0h8m-7 24h8m-8-27h8m-3 9h8m-5-2h8m-7-16h8m-6 25h8m-2 8h8m-7-27h8m-7 5h8m-6-7h8m-8 35h8m-7-20h8m-4-10h8m-7-2h8m-7 7h8m-8-5h8m-6 14h8m-7-1h8m-6 5h8m-7-26h8m-7 24h8m-7-6h8m-6-9h8m-7 24h8m-8 5h8m-6-2h8m-7-22h8m-7 23h8m-6-14h8m-7 3h8m-5-12h8m-8 17h8m-8-1h8m-7-15h8m-4 15h8m-6-9h8m-8 2h8m-8-5h8m-7-1h8m-7 5h8m-7-12h8m-7 24h8m-6-34h8m-8 35h8m-8-18h8m-8-2h8m-8-2h8m-7-4h8m-7 24h8m-7-1h8m-7-5h8m-7-6h8m-6-4h8m-8 1h8m-7 0h8m-8-15h8m-8 28h8m-5-21h8m-7-2h8m-6 24h8m-8-24h8m-7 17h8m-5 4h8m-7-3h8m-5-23h8m-4 23h8m-8 0h8m-7-9h8m-7 15h8m-8 4h8m-5-24h8m-6 3h8m-8 11h8m-6-10h8m-7-2h8m-7-9h8m-6 27h8m-5 1h8m-1 1h8m-8-4h8m-8-23h8m-7 30h8m-8-24h8m-7-3h8m-8 23h8m-7-14h8m-7-20h8m-8 32h8m-5-11h8m-7 7h8m-8 5h8m-4-19h8m-8-9h8m-5 28h8m-7-1h8m-6-27h8m-7 21h8m-8-16h8m-6 8h8m-5-10h8m-8-4h8m-6 22h8m-8-12h8m-7-3h8m-4-6h8m-6 3h8m-4 17h8m-7-5h8m-6-5h8m-7 24h8m-5-24h8m-4 10h8m-6-25h8m-5 8h8m-1 3h8m-7 8h8m-5 13h8m-6 4h8m-7-19h8m-4 14h8m-8-11h8m-2 4h8m-8-4h8m-8 8h8m-7 1h8m-7-14h8m2 22h8m-5-15h8m-6 10h8m-5 0h8m-8-11h8m-4 14h8m9-19h8m-4 18h8m-5-28h8m3 31h8m-8-29h8m-8 22h8m-8-12h8m-4 15h8m-4-21h8m20-4h8m-5-2h8m-7 6h8m-2-10h8m30 3h8m-3 19h8m1-14h8m-1-10h8m-3 8h8m-8-6h8m2 2h8m-3-3h8m13 15h8m44-2h8m10-2h8m-5 8h8m-6 18h8m-7-4h8m-2-20h8m9-6h8m-6-5h8m-6 31h8m-7-4h8m-6-1h8m-4 4h8m-5-9h8m-7-20h8m-8 20h8m-6 6h8m-7-2h8m-2 7h8m-5-34h8m-1 22h8m-4-16h8m-5 5h8m-942 53h8m-6-4h8m-8 17h8m-5-17h8m-6 17h8m1-20h8m35-15h8m4 1h8m14 1h8m-1 33h8m8-4h8m-4-4h8m-5-3h8m-7 4h8m1-6h8m-5 0h8m-3 11h8m-2-23h8m-7 22h8m-7-9h8m-5-8h8m-8 16h8m-4 5h8m-7-24h8m-4-14h8m-5 4h8m-4 30h8m-6-28h8m-4 21h8m-8 1h8m-7-10h8m-8 12h8m-4 2h8m-3-10h8m-6-15h8m-7 5h8m-2 12h8m-8-9h8m-8 12h8m-6-11h8m-6 13h8m0 6h8m138-6h8m2-11h8m12-10h8m3 0h8m-2 12h8m-8-17h8m2 5h8m-6 17h8m-8-26h8m-7 27h8m-7 2h8m-7-24h8m-6 13h8m-6 13h8m0-1h8m-5-29h8m-7 2h8m-7 8h8m-7 13h8m-6-17h8m-7-6h8m-2 13h8m-8-1h8m-5 14h8m-6 7h8m-8-28h8m-7 29h8m-7-28h8m-8 16h8m-4 1h8m-2 4h8m-7-5h8m-8-2h8m-4-9h8m-8 17h8m-8 0h8m-7-25h8m-7 12h8m-6 12h8m-8-26h8m-7 25h8m-7-19h8m-8 14h8m-5 2h8m-7 15h8m-8-5h8m-1-6h8m-8 8h8m-6-30h8m-7 23h8m-7 9h8m-5-17h8m-7 10h8m-8-24h8m-5 31h8m-6-3h8m-3-9h8m-8-20h8m-7 15h8m-4 5h8m-8-12h8m-7 14h8m-6-22h8m-5 31h8m-6-20h8m-7 11h8m-8-23h8m-7 27h8m-8 7h8m-7-28h8m-8 19h8m-8-28h8m-5 3h8m-7-3h8m-5 33h8m-8-16h8m-6-9h8m-8 24h8m-8-18h8m-7 22h8m-7-23h8m-8-3h8m-7-4h8m-6 25h8m-5-24h8m-4-8h8m-7 8h8m-5 9h8m-6 21h8m-7-22h8m-6 3h8m-7 2h8m-8-19h8m-6-3h8m-6 15h8m-8 12h8m-7-4h8m-6-17h8m-6 23h8m-7-13h8m-3 23h8m-7-6h8m-7-21h8m-6-9h8m-5 14h8m1-8h8m1 16h8m-5-23h8m-5-2h8m-2 31h8m-5 8h8m-7-17h8m-6-8h8m-7 1h8m-6-4h8m-7 25h8m4-2h8m-7-20h8m-6-10h8m-7 35h8m-4-33h8m-8 14h8m-7 15h8m-6-35h8m-7 37h8m-7-1h8m-5-17h8m-6 6h8m4-11h8m-6-7h8m-6 24h8m-7-2h8m-3-20h8m13 6h8m65 5h8m12 2h8m63-16h8m9 31h8m-1-8h8m2-12h8m-1-14h8m-1 28h8m-6-9h8m-3-8h8m-4 2h8m-6 3h8m-6 7h8m-8-13h8m-7 16h8m-6 5h8m-2-15h8m0 7h8m14-3h8m-985 52h8m4-13h8m-7 14h8m-8 0h8m1-12h8m-7 7h8m-6-16h8m-5-12h8m-7 27h8m-4 8h8m-5-33h8m-6 28h8m-5-26h8m-5 18h8m-4 2h8m-7-2h8m-8 11h8m-5 2h8m-7-33h8m-8 13h8m-3-9h8m-7-8h8m1 10h8m-5-11h8m-6 18h8m-6 6h8m-8 15h8m-7-1h8m-6-16h8m-4 10h8m-7-22h8m-5 26h8m-6 3h8m-3-7h8m-7 0h8m-7-10h8m-6 8h8m20-28h8m-2 2h8m-6 6h8m-5 1h8m2-9h8m-2 1h8m-4-3h8m12 9h8m-7-8h8m-6 5h8m-8 7h8m-1-10h8m-7 6h8m-4-5h8m10 4h8m48 19h8m-2-3h8m148 12h8m-1-1h8m-3-29h8m-8 2h8m-5 7h8m-7 10h8m-8-12h8m-6 2h8m-6 17h8m-8-18h8m-6 8h8m-6 4h8m-6 5h8m-7-21h8m-8 2h8m-7 19h8m-5-23h8m-7 30h8m-5-27h8m-8-2h8m-4 11h8m-6 13h8m-7-32h8m-7 27h8m-7-7h8m-6-10h8m-5 27h8m-8-11h8m-8-9h8m-8-1h8m-7 16h8m-8-31h8m-7 30h8m-6-25h8m-7-2h8m-8 14h8m-8 0h8m-3 16h8m-6-16h8m-6 10h8m-7-7h8m-6-13h8m-6 20h8m-6 0h8m-8 3h8m-7-26h8m-7 24h8m-7-27h8m-4 14h8m-7 14h8m-7-14h8m-6 1h8m-7 9h8m-6 9h8m-8-15h8m-8 12h8m-7-31h8m-7 31h8m-8-20h8m-8 6h8m-7 8h8m-1 12h8m-6-7h8m-8-21h8m-6 18h8m-7-19h8m-6 17h8m-6 2h8m-7-15h8m-8 10h8m-8-11h8m-8 9h8m-8-19h8m-7 2h8m-6 10h8m-6 9h8m-8-10h8m-6-10h8m-6-2h8m-8 10h8m-7 2h8m-5 19h8m-7-6h8m-4-27h8m-5 37h8m-8-6h8m-7-26h8m-4 14h8m-7-12h8m-8 28h8m-7 4h8m-2-29h8m-8-5h8m-7 22h8m-7-2h8m-6-6h8m-8 7h8m-7-15h8m-8 6h8m-8-5h8m-6 1h8m-7-3h8m-6 23h8m-7-6h8m-4 6h8m-3-27h8m-4 24h8m-5 3h8m-3-21h8m-7 22h8m-7 1h8m-7-32h8m1 7h8m-7-6h8m-2 27h8m-8 3h8m-3-13h8m-3 15h8m-5-10h8m-8 7h8m-2-20h8m-5-7h8m-4 12h8m-5 10h8m-6-28h8m-6 3h8m-6 26h8m-8-1h8m-7-23h8m-8 1h8m-3 32h8m-7-35h8m-5-2h8m2 29h8m-5-18h8m-6 25h8m-1-4h8m-1-11h8m1-3h8m-8-6h8m11-1h8m78 18h8m-3-29h8m1 0h8m6 11h8m12 17h8m-5 7h8m-1-18h8m-3-6h8m-6 21h8m12 5h8m-2-33h8m-5 20h8m-6 12h8m-7-3h8m-6-31h8m-7 32h8m19-30h8m-3 4h8m-1 6h8m0 15h8m-7-23h8m-7 14h8m-5-18h8m-8 8h8m-7 4h8m-7 13h8m-5 6h8m-6-20h8m-973 28h8m-4 29h8m-8-11h8m-6 4h8m-6 5h8m-5-19h8m-4 19h8m-7 9h8m-8-24h8m-2-1h8m-5 6h8m-8 11h8m-7-30h8m-6 3h8m-7 21h8m-4 11h8m-7-4h8m-4 5h8m-5-33h8m-7 3h8m-6 2h8m-6-2h8m-8 14h8m-5 11h8m-7-17h8m-2 16h8m-7-18h8m-7 3h8m-7-5h8m-7 14h8m-5-6h8m-6-7h8m-4 19h8m-7-17h8m-6-10h8m-6 27h8m-3-26h8m-4-4h8m1 19h8m-7-5h8m300 17h8m12-12h8m2 15h8m-3 3h8m0-5h8m-7-20h8m-6 24h8m-7-32h8m-5 20h8m-6-23h8m-7 23h8m-5 3h8m-6-11h8m-3 16h8m-6-8h8m-8-8h8m-8-14h8m-6 8h8m-7 29h8m0-12h8m-8-12h8m-5 3h8m-8 4h8m-8-19h8m-6 36h8m-6-32h8m-5 6h8m-7-8h8m-4 29h8m-8-34h8m-7 31h8m-3-8h8m-7 8h8m-7-25h8m-8 8h8m-5 22h8m-3-32h8m-7 25h8m-5 6h8m-8-32h8m-6 10h8m-8-5h8m-8-4h8m-8 33h8m-7-11h8m-8-23h8m-7 7h8m-8-2h8m-6 15h8m-6 5h8m-7-9h8m-3-5h8m-5-13h8m-8 18h8m-7-5h8m-6-9h8m-6 0h8m-8 27h8m-7-13h8m-7-14h8m-7 21h8m-6-21h8m-7 2h8m-6 16h8m-8 0h8m-7 9h8m-7-32h8m-7 25h8m-8-20h8m-7 16h8m-5 18h8m-7-7h8m-8-20h8m-2 27h8m-8-37h8m-2 15h8m-8-3h8m-5 21h8m-5-6h8m-5-24h8m-2 28h8m-7-25h8m-8 10h8m-6 8h8m-5-1h8m-8 2h8m-5 12h8m-4-19h8m-7 16h8m-5-14h8m-8-9h8m-6-8h8m-5-5h8m-6 27h8m-7 3h8m-5-26h8m0 25h8m-6-4h8m-3 10h8m-5-34h8m-5 28h8m-7-22h8m-8 29h8m-4-14h8m-4-18h8m-5 27h8m-8-7h8m-4-7h8m-5-10h8m-4 22h8m-7-12h8m-3 6h8m-4-22h8m-3 6h8m-6 25h8m-7-15h8m-8 1h8m-4 16h8m-8-23h8m-6 16h8m-4-24h8m-4 4h8m-6-4h8m-6 10h8m1 14h8m18 6h8m0-26h8m-3 0h8m1-6h8m4 15h8m34 22h8m-3-12h8m6 9h8m1-15h8m-3-17h8m-2 14h8m1 13h8m-2-6h8m-7-19h8m-5 29h8m-2 0h8m1-4h8m-6-14h8m-6 7h8m-7-10h8m-6 23h8m-4 3h8m-6-1h8m-6-31h8m-4 28h8m-2-27h8m0 3h8m0 17h8m-7-11h8m-8 0h8m-8-9h8m2 11h8m-6-11h8m-1 16h8m-3-9h8m-3-2h8m-5-5h8m-1 6h8m-960 35h8m-5 23h8m-8-16h8m-7 8h8m-8-19h8m-7 4h8m-7 28h8m-7-17h8m-5 7h8m-7 7h8m-1-28h8m-4 26h8m6 4h8m-3-16h8m-5-14h8m-6 27h8m-7-30h8m-8 18h8m-2 14h8m-3-4h8m-5-4h8m-6-17h8m-3 7h8m-2-2h8m327 17h8m0 3h8m6-29h8m-5 13h8m-1 6h8m-8-13h8m-3 23h8m-6 2h8m-5-23h8m-7 2h8m-3 13h8m-5-4h8m-7-1h8m-4-2h8m-7-5h8m-8 18h8m-6-34h8m-5 23h8m-8-23h8m-6 15h8m-8-2h8m-8 3h8m-4 22h8m-8-2h8m-7-29h8m-8 22h8m-5-7h8m-7 6h8m-8 6h8m-7 1h8m-4-24h8m-3 7h8m0-5h8m-7 5h8m-8-6h8m0 2h8m-5-3h8m0-12h8m-7 4h8m-3 15h8m-2-16h8m-7 26h8m-5-29h8m-5 33h8m-8-29h8m-7 35h8m-8-8h8m-7-29h8m-6 32h8m-6-2h8m-7-5h8m-6-2h8m-8-5h8m-7 15h8m-6-23h8m-8 20h8m-3-30h8m-8 17h8m-6-18h8m-5-1h8m-1 6h8m-8 31h8m-4-9h8m-7-2h8m-7 12h8m-3-32h8m0 14h8m-6 14h8m-4-17h8m-7-4h8m-7 7h8m-5 16h8m-2-26h8m-6 14h8m11 9h8m-8-10h8m-6 3h8m20 3h8m4 6h8m-8-9h8m-6-20h8m9 29h8m1-34h8m12 11h8m18 22h8m25-10h8m-6-9h8m-3 8h8m-8-15h8m-4-4h8m-8 18h8m-1-18h8m-3-2h8m-3 8h8m-8 3h8m-7 8h8m-7 11h8m-8 5h8m-7-30h8m-8 13h8m-7 19h8m6-27h8m-4 9h8m-1 0h8m-4-19h8m-4 32h8m0 5h8m-6-7h8m-6-21h8m1-11h8m-3 8h8m-1 12h8m-6 10h8m-6-10h8m-4-9h8m-5-8h8m-2 6h8m2-1h8m-5 10h8m-4-10h8m-6 9h8m-2-13h8m-925 64h8m-8-10h8m-6-17h8m-6 29h8m-8-16h8m2 1h8m-8 22h8m-3-7h8m-4 9h8m4-14h8m0-25h8m0 1h8m-3 30h8m-2 7h8m-7-27h8m-8-6h8m24 32h8m230-2h8m-5-8h8m-4 11h8m0-1h8m10-5h8m5-4h8m3-3h8m-8 5h8m-6-8h8m0-2h8m-4 2h8m-6 4h8m-6-7h8m-7 3h8m8-22h8m-6 7h8m-4 7h8m-5-8h8m-5 12h8m-3-6h8m-2-2h8m-7-3h8m-4 14h8m-8 2h8m-6-9h8m-1 0h8m-5-13h8m-7 4h8m-8 18h8m-1-23h8m3 2h8m-5 31h8m-7 0h8m0-17h8m-7 12h8m-1-6h8m-7 4h8m-7-21h8m-8 30h8m-6-34h8m-7 14h8m-7-2h8m-6-6h8m-7 10h8m-6 3h8m-6 11h8m-6 7h8m1-14h8m-3 2h8m-8 3h8m-5-13h8m-7-1h8m-7 2h8m-3 2h8m-2-16h8m-7 9h8m-3 1h8m-6 23h8m-8-2h8m-4-14h8m8-10h8m-5 0h8m0 2h8m-2 3h8m-2-12h8m-2 34h8m-3-30h8m-5 26h8m-8-33h8m1 39h8m-4-31h8m-7 31h8m-4-21h8m-3 14h8m-3-4h8m-5-28h8m6 18h8m-4 15h8m-4 1h8m-3-31h8m-6 5h8m-5-3h8m20 3h8m36-8h8m83 3h8m-836 47h8m4 5h8m0-12h8m-7 4h8m-5 16h8m-3-13h8m7-8h8m-1-2h8m-6 1h8m-4 3h8m-8-4h8m-1 1h8m2 4h8m-8-3h8m-7 4h8m-6-1h8m-3 3h8m-8 9h8m-5-7h8m-2-5h8m-8 3h8m-2 6h8m-5 10h8m-3-2h8m-7-3h8m-4-9h8m-5 3h8m-8 10h8m1-7h8m-3 3h8m-6 2h8m-3-5h8m-2-6h8m-2 10h8m-2-2h8m-8 7h8m-7-4h8m-8-7h8m-4 6h8m0 10h8m-8-10h8m29 5h8m-7-4h8m-5 0h8m-7-2h8m-8-2h8m1 6h8m-5 6h8m-4-15h8m4 3h8m-6 3h8m-6-6h8m-6 7h8m-1-8h8m-4 4h8m1 2h8m-3-6h8m-5-5h8m0 5h8m-5-1h8m-4 3h8m-7-4h8m-7-4h8m-6 3h8m-2-9h8m3 7h8m0-7h8m33-1h8m99 2h8m9 18h8m0-11h8m-2 10h8m11-9h8m-6 1h8m-2-2h8m10 0h8m2 6h8m-6-5h8m-4 5h8m8 13h8m-8-25h8m-1 6h8m19 13h8" stroke="#d4d4d4" stroke-width="8" fill="none" transform="scale(.1)"/><path d="M2292 4134h8m87 21h8m-103 32h8m75-3h8m20 2h8m25-1h8m63-4h8m81 18h8m1-37h8m-570 43h8m4 1h8m203-6h8m18 11h8m22-6h8m5 20h8m76-2h8m112 7h8m21-5h8m17 6h8m-578 39h8m27-9h8m276-6h8m73-15h8m-4 0h8m56 28h8m-5-20h8m28 20h8m19-18h8m0 3h8m59 18h8m34-20h8m26 0h8m-737 40h8m-2-9h8m43 26h8m27-6h8m5-13h8m345 7h8m17 19h8m-6-20h8m39-3h8m190-11h8m-692 45h8m2 21h8m4-14h8m43-8h8m287 8h8m12 14h8m10-19h8m13 15h8m30 6h8m1-12h8m0-11h8m7 5h8m1 23h8m31-11h8m6-20h8m23 24h8m25-22h8m47-4h8m73 26h8m-756 22h8m27 1h8m243 27h8m84-14h8m0-11h8m0 8h8m13-17h8m2 4h8m34 17h8m5-5h8m107 8h8m-4-27h8m-7 38h8m5-9h8m-4 9h8m-4-27h8m27 2h8m-4 3h8m19-5h8m3-3h8m8 29h8m13-32h8m-8 22h8m-383 40h8m75-8h8m4 11h8m15-7h8m11 3h8m4 5h8m2-30h8m-7 9h8m-2 13h8m101 7h8m8-25h8m56 33h8m4-18h8m-5 14h8m-2-24h8m24-2h8m-1 25h8m-341 36h8m10-1h8m36-27h8m47 8h8m-5 19h8m-6-11h8m57 10h8m4-21h8m0 3h8m29-6h8m19-2h8m39 38h8m-3-10h8m44 6h8m6 3h8m-471 26h8m3-11h8m16 23h8m9-22h8m21 24h8m9-20h8m72 15h8m13-6h8m-4-11h8m2 13h8m6-28h8m20 17h8m14-12h8m134 7h8m-379 63h8m16-17h8m9-14h8m-8 32h8m31-21h8m13 9h8m19-6h8m-1-7h8m25-3h8m31-4h8m2 12h8m120-5h8m7-5h8m18 0h8m4 29h8m0-35h8m-507 75h8m64-26h8m-7 26h8m26-9h8m-6 11h8m1-34h8m-1 20h8m-2 10h8m-7-26h8m-7-5h8m-1 8h8m4 28h8m6-17h8m33-13h8m-5 18h8m1-21h8m194 31h8m80-29h8m-513 40h8m4 6h8m40 6h8m10-10h8m10 0h8m44-9h8m23 26h8m-5-18h8m214 23h8m-7 0h8m-7 1h8m-7-19h8m7 6h8m-5-10h8m32-5h8m-3 15h8m-3 6h8m0-8h8m-2 9h8m-8 9h8m-467 28h8m14 2h8m8-17h8m3 19h8m7-3h8m3 5h8m-7-5h8m3-6h8m25 8h8m-2 11h8m2-13h8m9 4h8m-4-26h8m-3 0h8m5 28h8m8-22h8m57 21h8m33-23h8m12 25h8m8-1h8m-6-10h8m-6 14h8m10 4h8m-8-37h8m6 7h8m-4 19h8m11-8h8m21-9h8m7 9h8m-6-18h8m4 1h8m-395 52h8m-8 2h8m-7-9h8m22 28h8m0-21h8m-4 7h8m11-19h8m1 21h8m2 0h8m46-24h8m14 14h8m-5 16h8m24 8h8m45-14h8m28 11h8m1-28h8m1 30h8m6 1h8m-7-35h8m-4 27h8m9-12h8m-874 47h8m446-20h8m41-2h8m47 14h8m-2 11h8m-5 5h8m-8-19h8m4-8h8m6 5h8m1 2h8m-610 43h8m-7-3h8m107 2h8m412-11h8m40 7h8" stroke="#9999e0" stroke-width="8" fill="none" transform="scale(.1)"/><path d="M2255 4031h8m-207 150h8m511-4h8m-532 52h8m215 10h8m184-35h8m13 30h8m28-7h8m-5 10h8m-5-12h8m18 14h8m184-10h8m-743 19h8m399 15h8m13-17h8m4 22h8m1 9h8m7 0h8m-2-25h8m2 14h8m18 2h8m-6-10h8m2-10h8m-6-2h8m34 13h8m86 10h8m16-12h8m8 7h8m-8 14h8m8-16h8m-1-13h8m2 7h8m-737 61h8m428-4h8m-1-31h8m25 20h8m20-4h8m61 6h8m17-1h8m18 7h8m-4-24h8m-1 14h8m8-18h8m4 21h8m10-16h8m-4 19h8m13-25h8m-362 70h8m47-12h8m-3-3h8m28 20h8m-2-2h8m1-14h8m7 0h8m162-16h8m30 24h8m-659 16h8m381 25h8m31-4h8m-7 4h8m37 3h8m16-14h8m8-11h8m74 5h8m-4 9h8m4 0h8m46-4h8m21 5h8m16-13h8m-293 50h8m8-17h8m60 6h8m2-3h8m79-2h8m54 3h8m21 16h8m-297 45h8m-5 2h8m30-12h8m13 17h8m29-21h8m16 11h8m8-17h8m4 9h8m166 11h8m12 12h8m9-28h8m5 24h8m-2-7h8m-903 42h8m409-26h8m93 22h8m-6-25h8m14 17h8m14 20h8m63-34h8m-4 13h8m-7 4h8m63 14h8m-5-25h8m23 3h8m41-10h8m59 15h8m-3-16h8m-3-1h8m-7 8h8m-5 10h8m-4 19h8m-1-17h8m17-17h8m2 23h8m-453 17h8m42 17h8m-6-10h8m1 10h8m1 17h8m7-22h8m5 4h8m9-2h8m-6 15h8m17-10h8m-1 12h8m18-16h8m77-6h8m6 11h8m84 5h8m3-7h8m0-2h8m-4-9h8m6 22h8m8-20h8m18-5h8m-788 52h8m374 13h8m-4 6h8m-5-5h8m0-13h8m-7 5h8m-5-21h8m-6 22h8m33-16h8m13 20h8m123-25h8m104-1h8m1 11h8m17 10h8m-5-9h8m3-2h8m9 11h8m-779 27h8m282 26h8m23-27h8m44 0h8m2-3h8m-4 20h8m-2-25h8m-5 0h8m61 5h8m222 6h8m-4-10h8m11-5h8m-7 36h8m-1-25h8m11 7h8m18-1h8m-472 32h8m-3-8h8m0 0h8m30 25h8m1-19h8m2 21h8m-6-5h8m3 13h8m3-22h8m-1 23h8m-3-3h8m12-26h8m-6 3h8m5 6h8m-6 8h8m60 7h8m3-24h8m40 8h8m-8 18h8m40-5h8m17-9h8m-3 16h8m4-22h8m-5 8h8m-6 5h8m26-25h8m2 1h8m10 7h8m-4 23h8m-918 19h8m431-12h8m-2 9h8m76 12h8m-7 12h8m-4-27h8m20 28h8m37 4h8m16-14h8m-6-23h8m18 21h8m10-10h8m3 23h8m2-2h8m62-30h8m1 10h8m-7 16h8m-2 8h8m75-18h8m-6-6h8m-8 18h8m5-14h8m12-6h8m-418 52h8m23 8h8m7-3h8m-3-2h8m11 2h8m12-22h8m-6 12h8m-1 12h8m22-9h8m-4-8h8m2 26h8m181-37h8m-285 45h8m-3-3h8" stroke="#6060ed" stroke-width="8" fill="none" transform="scale(.1)"/><path d="M2304 3889h8m169 304h8m4-18h8m-484 35h8m462 28h8m-463 24h8m25-6h8m7 1h8m373 22h8m41-10h8m25-22h8m161 5h8m7 13h8m-694 46h8m228-9h8m56-15h8m-2-3h8m76-2h8m4 0h8m54 18h8m132-7h8m-647 38h8m458 20h8m178-16h8m7 5h8m48-5h8m-667 25h8m430 24h8m6 3h8m17 8h8m73-20h8m42 7h8m104-5h8m-309 46h8m35-7h8m81 22h8m185-19h8m-351 25h8m17 20h8m50 13h8m209-27h8m46 1h8m1 9h8m-340 46h8m-7 7h8m34-27h8m41 23h8m13-8h8m30 18h8m16-2h8m98-36h8m23 21h8m31 0h8m-380 34h8m15 17h8m16 3h8m34-27h8m2 17h8m227-23h8m11 10h8m-5 8h8m21 12h8m-441 38h8m1-7h8m42-3h8m5 18h8m25-20h8m45-15h8m211 18h8m-5-5h8m-362 30h8m21 0h8m-4 9h8m75-14h8m222 23h8m16-1h8m-906 18h8m38 13h8m380 0h8m39 3h8m32 19h8m-5-22h8m68-3h8m199 0h8m25 26h8m-7-5h8m-302 39h8m26 1h8m-6 4h8m19-36h8m4 24h8m17-5h8m11-10h8m8 12h8m61-6h8m35 12h8m2-27h8m24 37h8m21-12h8m14-20h8m-545 41h8m154 24h8m-4-20h8m-1-6h8m34 8h8m15-3h8m212 3h8" stroke="#1414ff" stroke-width="8" fill="none" transform="scale(.1)"/>
<path d="M3538 2743h8m3 9h8m6-5h8m-102 46h8m71 6h8m-1-15h8m-7-5h8m-6-8h8m-7 0h8m-8 10h8m-7 1h8m-5-10h8m-7 16h8m-571 37h8m1 8h8m-5 1h8m-7-10h8m-4-1h8m-7 13h8m-6-12h8m-6-6h8m-7 16h8m-8-3h8m-2-12h8m-8 15h8m-6-1h8m-6-4h8m-8 2h8m-6 2h8m-7 5h8m-7-25h8m-8 14h8m-7-1h8m-5 6h8m-5 0h8m-7 2h8m-8-20h8m-4 16h8m-7 5h8m-7-7h8m-8 5h8m-6 5h8m-6-8h8m-8-1h8m-7 4h8m-4-6h8m-5 11h8m-7-20h8m-8 15h8m-5 5h8m-7-2h8m-6 3h8m-4-11h8m-7-13h8m-7 9h8m-6 13h8m-5-11h8m-7 4h8m-5 1h8m-7-8h8m-7 8h8m-1 4h8m13 2h8m-7-2h8m364-24h8m-6-4h8m25 31h8m-1-10h8m-8 4h8m-6 3h8m-7-1h8m-8-10h8m3-3h8m-6 0h8m-6-4h8m-8 5h8m-558 42h8m-8-7h8m-6-1h8m-7-13h8m-3 1h8m-7-1h8m-7 22h8m-6-17h8m-7-6h8m-3 1h8m-8 20h8m-7-15h8m-7 8h8m-5 8h8m-5-10h8m-8-6h8m-4 11h8m-6-10h8m-6-8h8m-8 3h8m-7-1h8m-8 5h8m-8 15h8m-3-15h8m-7-1h8m-8 14h8m-4-21h8m-5 28h8m-6-11h8m-8-17h8m-7 18h8m-7 5h8m-8-22h8m-5 5h8m-8 5h8m-8 17h8m-6-9h8m-6-6h8m-6-5h8m-6 17h8m-6-5h8m-8-10h8m-6-6h8m-8 0h8m-5 4h8m-7-8h8m-8 29h8m-4-22h8m-3 13h8m-7-14h8m-6 19h8m-7-23h8m-5 7h8m-5 7h8m-1 14h8m-5-17h8m-7 16h8m-7 8h8m-8-11h8m-6 13h8m-1-11h8m-1 5h8m-3-31h8m-7-2h8m-3 19h8m-7 2h8m-5-11h8m17 26h8m-6-6h8m319 1h8m-3 2h8m-3-5h8m-2-4h8m0-2h8m-3-20h8m1 13h8m-7-15h8m-4 5h8m-412 47h8m15 5h8m-4-11h8m-7 12h8m-6 1h8m-7 2h8m-6-2h8m7 15h8m0-19h8m-3-14h8m-3 10h8m0 10h8m5 9h8m8 8h8m223-9h8m-4-8h8m-7-3h8m-5 21h8m-8-34h8m-7 19h8m0-15h8m-6-5h8m-8 10h8m-5 0h8m13-11h8m-351 40h8m-6 0h8m2 2h8m-2-3h8m12 3h8m-3-3h8m-5 15h8m-7 22h8m-4-9h8m-7-19h8m-8 26h8m-7 2h8m-7-29h8m0 14h8m-8-2h8m-4 4h8m-3-6h8m-6-5h8m-8-4h8m4 17h8m0-19h8m22 8h8m-7 16h8m155-12h8m-5 9h8m-8-11h8m-7 1h8m-3 4h8m-6-20h8m-3 0h8m0 5h8m17-5h8m-286 39h8m-5 6h8m-6 3h8m-1-6h8m-6 4h8m-7 4h8m-6-1h8m-3 6h8m-8-5h8m-7 5h8m-6 1h8m-4 12h8m-4 3h8m-6-3h8m-7-4h8m-4 4h8m-6 1h8m-6-3h8m-7 9h8m-7-2h8m-8 1h8m-2-35h8m-4 34h8m128-6h8m16-13h8m-7 17h8m-5-10h8m-8-4h8m-8-14h8m-6 12h8m-8-15h8m-7 11h8m-5-13h8m-4 0h8m95 30h8m-569 21h8m-6 1h8m17 21h8m-5-1h8m-7 2h8m234-35h8m-2 9h8m-6-6h8m-6 4h8m-1-3h8m-7 8h8m-8 12h8m-7-11h8m-7 1h8m-5 0h8m-8 2h8m-7-5h8m-8-4h8m-5-1h8m-8 13h8m-7-9h8m-4 5h8m-1 14h8m-8-13h8m-8 6h8m-7 5h8m-6 2h8m-8 8h8m-6 0h8m-7-4h8m-5-5h8m-7 0h8m-5 9h8m-7-4h8m20 5h8m75-15h8m-7 2h8m-5 1h8m-5 3h8m-8 5h8m-4-7h8m-382 34h8m-2 10h8m-3 3h8m2 4h8m-8-10h8m-5-1h8m-7 9h8m-3-27h8m-7 22h8m203-31h8m-2 14h8m-7-13h8m-6 8h8m-8 14h8m-7-18h8m-2-3h8m-3 6h8m-5 6h8m-4-11h8m-7 8h8m-7-3h8m-7 8h8m-4-4h8m-7 14h8m-8-5h8m-7-10h8m-5 6h8m-5 1h8m5 16h8m54-11h8m-7 8h8m-8 0h8m-7-12h8m-6 3h8m-7 11h8m-8-5h8m-6-22h8m90 14h8m21 18h8m20 0h8m12-2h8m11-11h8m22 12h8m-4-4h8m6 3h8m-619 6h8m0-2h8m0 3h8m-7 9h8m-5-11h8m-2 16h8m-7-17h8m16 17h8m85 21h8m3-10h8m-7-6h8m-3 3h8m-4 8h8m-7 3h8m-5-5h8m0-21h8m126-9h8m-7 3h8m-6 4h8m-7-8h8m1 5h8m-7 17h8m0 4h8m-7-4h8m-7-2h8m-1 9h8m11-20h8m-8 11h8m-7-12h8m-8 2h8m-5 8h8m-8-13h8m46 6h8m0 12h8m-5-14h8m-2 5h8m3 13h8m5-10h8m-6 5h8m-5 2h8m-8-19h8m2 33h8m-7 0h8m-6-8h8m3-12h8m12 6h8m-4-9h8m-7-6h8m0 10h8m22 8h8m4-1h8m-5-11h8m-2 21h8m-6-3h8m-1-14h8m-4-5h8m-8-10h8m-6 21h8m-6-2h8m-2 14h8m-6-9h8m-5-1h8m-3-10h8m-4-13h8m-7 25h8m-2 9h8m10-1h8m-2-32h8m-6 8h8m-2-4h8m10-5h8m-2 0h8m-5 11h8m-8 0h8m-1 17h8m-5-6h8m-6-1h8m-7 13h8m-3-15h8m-8 3h8m-6 12h8m0-12h8m-2-2h8m-2 13h8m-5-14h8m2-17h8m-2 17h8m-6-5h8m8-17h8m-777 61h8m-7 11h8m-6-13h8m-3 3h8m-6 10h8m-5-23h8m107 24h8m4-24h8m10 19h8m-8 5h8m-4-28h8m-3 9h8m11-10h8m-6 22h8m-5-24h8m-6 29h8m-5-2h8m4 5h8m-6-7h8m140 5h8m4-22h8m-7-12h8m-2 1h8m-7 28h8m2 8h8m-3-32h8m-7-1h8m-4 33h8m-6-3h8m-1-23h8m6 21h8m1-7h8m-3-17h8m12 2h8m1 7h8m14 16h8m-1-19h8m-6-5h8m-6-4h8m-5 27h8m-8-2h8m1-6h8m-7-18h8m8 4h8m-6 23h8m0 5h8m9-30h8m-1-5h8m-3-2h8m-4 17h8m-3-15h8m-1 29h8m-6-3h8m2-23h8m3 3h8m-5 18h8m-2 8h8m-7-13h8m-7 12h8m-6-11h8m-2 9h8m-4 6h8m-6-38h8m12 0h8m4 9h8m-2 18h8m-7-7h8m0-18h8m-4 0h8m-4 0h8m-8 26h8m-2-19h8m-7-4h8m-8 12h8m15-3h8m-5-4h8m-6 20h8m1-2h8m4-3h8m9-20h8m-6 8h8m8 1h8m15 23h8m23-19h8m-3 8h8m-7-1h8m-5 13h8m-8-11h8m1 1h8m-2 9h8m4 1h8m9-1h8m-794 38h8m-5-4h8m0-23h8m2 19h8m-2-7h8m-8 1h8m-6-4h8m-6 2h8m-1-12h8m-6 32h8m-7-12h8m-5-14h8m-6 9h8m-8-1h8m-8 12h8m-2-21h8m-7 12h8m-8-20h8m-2 30h8m-7-8h8m-7 5h8m-8-25h8m-7-1h8m-8-4h8m-8 21h8m-5 1h8m-7 9h8m-8-1h8m-7-8h8m-8-19h8m-7 15h8m-7 7h8m-6 6h8m-8-6h8m-8 5h8m-7-9h8m-8 9h8m-6-3h8m-6 6h8m-7-4h8m-7 1h8m-7-15h8m-8 12h8m-7 0h8m-7 10h8m-8-25h8m-8 19h8m-5-8h8m-5 2h8m-8 5h8m-5-6h8m-8-23h8m-7 35h8m-8-22h8m-5 10h8m-3-18h8m-6 30h8m-8 2h8m-7-1h8m-7-8h8m-4-10h8m-7-17h8m-5 34h8m-2-2h8m5-6h8m9 3h8m-3-6h8m15 4h8m113-30h8m0 12h8m-1 18h8m-6-9h8m-7-7h8m-8 0h8m4 10h8m-3-6h8m0 18h8m-3 1h8m-4-37h8m-6 21h8m-5 4h8m-4-19h8m-7 31h8m-5-1h8m-6-9h8m-6-10h8m-6-14h8m-4 29h8m10-27h8m-5 14h8m-6-1h8m18 10h8m-3 11h8m12-9h8m2 1h8m-6-7h8m-1 6h8m-2-1h8m-6 8h8m30-5h8m-4-7h8m21-2h8m-7-6h8m-2-8h8m-2 24h8m-7-8h8m28-21h8m-8 32h8m-2-8h8m-7-25h8m0 36h8m1-1h8m-7-30h8m-5-5h8m2 30h8m3-7h8m-8 9h8m-7-13h8m1 15h8m5 1h8m-1-18h8m-6-2h8m-4-5h8m-8 5h8m0-10h8m-4 19h8m-2-15h8m-6 19h8m-8-6h8m-6 12h8m-7-18h8m-7-6h8m-8-11h8m-7 9h8m-6 15h8m-8-23h8m-2 31h8m-8 1h8m-4-19h8m-7-13h8m-8 15h8m-8 6h8m-7-15h8m-8 1h8m-5 9h8m-8-4h8m-7 9h8m-1-3h8m-5 14h8m0-10h8m-4 1h8m-7-8h8m-5-9h8m-7 29h8m-8-24h8m-8 12h8m-7-24h8m-8 18h8m-6-18h8m-8 6h8m-4 1h8m-8 15h8m-6-13h8m-6 16h8m-1-27h8m-5 3h8m-6 29h8m-5-27h8m-6 1h8m-8 4h8m-8-9h8m-6 24h8m-8-21h8m0 33h8m9-20h8m-924 54h8m-7 7h8m-8-5h8m2-9h8m-1 10h8m100-27h8m-2-2h8m1-2h8m-7 14h8m-7-5h8m3 18h8m-6-19h8m-6 22h8m-6-5h8m-8 9h8m-6-7h8m-5-6h8m-7 3h8m-8 8h8m-7-8h8m-6-11h8m-8 0h8m-6-3h8m-8 25h8m-7-36h8m-7 31h8m-8-19h8m-5 3h8m-7-3h8m-8 19h8m-8-11h8m-6 16h8m-8-11h8m-6-8h8m-8-6h8m-7 10h8m-7 4h8m-7-22h8m-8 5h8m-7 28h8m-7-4h8m-4-13h8m-7-1h8m-6-3h8m-5-5h8m-8 23h8m-8-26h8m-7 1h8m-7 2h8m-8 9h8m-7-20h8m-6 27h8m-7-24h8m-8 12h8m-8 7h8m-7-13h8m-8 3h8m-7 0h8m-8 24h8m-6 0h8m-6-36h8m-6 17h8m1-17h8m-5 7h8m-3-5h8m-6 36h8m-7-2h8m-8-7h8m-6-15h8m-5 7h8m-7 9h8m-7-5h8m-2 3h8m-3 6h8m-1-32h8m-1 17h8m5-4h8m27-1h8m-6 1h8m8-3h8m99 2h8m-6-15h8m-6 23h8m-6-20h8m3 32h8m-4-3h8m-3-5h8m2-13h8m-5 1h8m-3 9h8m-2 14h8m-4-15h8m-7-20h8m-4 12h8m-2-8h8m11-2h8m1-1h8m8 22h8m5-9h8m-1 10h8m6-27h8m-7 27h8m3-3h8m3 4h8m15-25h8m-8 2h8m-5 21h8m-6 4h8m18-26h8m-4 25h8m-8 7h8m-7-10h8m18-14h8m10-4h8m-6 16h8m-2 8h8m-7-11h8m-4 7h8m-7-21h8m2 14h8m-4 4h8m-6-12h8m-5 2h8m-7-9h8m-5 26h8m3 4h8m0-25h8m-4-4h8m-7 22h8m-7-10h8m-7-5h8m-2-7h8m-1 10h8m-5 14h8m-7-21h8m-8 13h8m-5 10h8m-2-27h8m-5 30h8m-8-16h8m-3-20h8m-3 22h8m-3 11h8m-7-9h8m-8-14h8m-6 19h8m-7 4h8m-7-31h8m-6 6h8m-1 13h8m-8 2h8m-4 15h8m-5-10h8m-5 9h8m-2-3h8m-7-28h8m-8 19h8m-3-7h8m7 0h8m-8-16h8m-3-1h8m-2 34h8m-7-14h8m-8 10h8m-4-26h8m-4 29h8m1-31h8m-4 5h8m-5 27h8m-4-17h8m-8-12h8m-1 10h8m-4 7h8m-6-21h8m-956 77h8m20-34h8m80 30h8m65-12h8m2-14h8m-4-1h8m-7 8h8m-6-11h8m-6-3h8m-7 12h8m-8-6h8m-5 17h8m-6 9h8m-5-9h8m-5-23h8m-7 8h8m-5 3h8m-5 7h8m-4-16h8m-7 22h8m1-25h8m-6 5h8m-7 23h8m-6 1h8m-8-17h8m-6 26h8m5-18h8m-4-15h8m4 32h8m161-35h8m32 24h8m1-22h8m-4-2h8m-7-2h8m23 18h8m-7-19h8m-6 3h8m26 24h8m-6 0h8m-6-25h8m-8 27h8m-6-12h8m-7-3h8m-1 13h8m0-1h8m-7 8h8m-4-6h8m0 6h8m-7-16h8m-3 10h8m-6 2h8m-3-21h8m-7 28h8m-6 1h8m-6 1h8m4-35h8m-7 7h8m-8 12h8m-7 5h8m-4 6h8m-8 1h8m3-8h8m4-6h8m-5-9h8m-7 17h8m-5-15h8m-8-13h8m-7 24h8m-1-2h8m0-5h8m-8 14h8m-3 7h8m-3-34h8m-7 14h8m-7 11h8m-8-9h8m6-7h8m1-2h8m2 26h8m-6 0h8m0-26h8m0-12h8m-7 2h8m2 28h8m-2-17h8m-3-2h8m-3-7h8m-5 17h8m-7-15h8m-8 11h8m-3 20h8m-2-27h8m-2-1h8m-7 20h8m-7-24h8m-3 25h8m-4-23h8m-5 14h8m2 15h8m-7-14h8m-3-1h8m-8-12h8m-6-8h8m-8 26h8m-5-8h8m-5 10h8m-4-20h8m-6 30h8m-2-19h8m-4-8h8m-6 13h8m-3 0h8m-3-7h8m-8 2h8m3 9h8m0-26h8m-7 35h8m8-34h8m-6 7h8m-7 17h8m-6-27h8m-4 2h8m-5 20h8m9-7h8m-3 1h8m-7-3h8m-6 24h8m-5-20h8m-6 11h8m-2-9h8m-4 11h8m-967 24h8m-7-3h8m-7 1h8m4-11h8m214 14h8m-6-3h8m6-5h8m290 19h8m-4 6h8m-5 6h8m-2-15h8m-7-18h8m-5 27h8m-6-9h8m-8 11h8m-6-10h8m-8 2h8m-7 6h8m-6-1h8m-5 0h8m-6-6h8m-7-4h8m-4 1h8m-6 11h8m-8-30h8m-7 11h8m-4 3h8m-6-15h8m-6 2h8m-7 30h8m-7-15h8m-7-3h8m-3 17h8m-7-4h8m-7-15h8m-5 12h8m-8 1h8m-4-25h8m-8 34h8m-6-26h8m-3 18h8m-5 5h8m-4-26h8m-6 26h8m-1-4h8m-5 9h8m-2-15h8m-5-23h8m-5 16h8m3 5h8m-8-20h8m-5 19h8m-3-14h8m-7-2h8m-6 32h8m-7-11h8m-8-23h8m-3 19h8m-7-2h8m-8-14h8m-7 18h8m-8-9h8m-6-7h8m1 14h8m-2-19h8m-7 34h8m-5-3h8m-8-4h8m-5-20h8m-7 13h8m-5 13h8m-5-13h8m-8 5h8m-5-13h8m-4 23h8m0-8h8m-5-10h8m-7-18h8m-7 19h8m-5-10h8m-6 11h8m-7 4h8m-6 3h8m-8 5h8m4 4h8m-5-15h8m-1 5h8m24-18h8m-7 2h8m16 11h8m0 1h8m-3-23h8m-7 33h8m-6-20h8m-6 6h8m-7 15h8m2-14h8m-6 12h8m-7-5h8m-4-10h8m-3 11h8m-6-12h8m-4-14h8m0-2h8m1 9h8m-7 1h8m-6-6h8m-5 27h8m-3-4h8m-8-22h8m-2 15h8m-5 11h8m-8-12h8m-6-3h8m3 21h8m-1-3h8m1-15h8m-7 10h8m9-1h8m-6-6h8m-5-15h8m-2 29h8m-7-4h8m-6-4h8m-5-21h8m-6 26h8m-4-5h8m-476 30h8m-1-17h8m-1 3h8m-7 21h8m-1-11h8m-2-8h8m-1 29h8m-5-29h8m-4 21h8m-5 11h8m-4-2h8m-7 2h8m-6-38h8m-8 4h8m-6 27h8m-8-6h8m-7-2h8m-7-8h8m-8 4h8m-7-6h8m-7 22h8m-7-32h8m-6 12h8m-7 16h8m-3-21h8m-8-4h8m-3 29h8m-5-35h8m-8 11h8m-8-9h8m-7 14h8m-7 17h8m-8-8h8m-7 9h8m-8-16h8m-8-14h8m-7-3h8m-8 4h8m-7 18h8m-7-8h8m-8-8h8m-7 27h8m-8-7h8m-7 0h8m-8-17h8m-7 13h8m-7-12h8m-6 1h8m-6 25h8m-6-20h8m-6 11h8m-8-23h8m-7-1h8m-6 9h8m-3 12h8m-7-5h8m-8 2h8m-4 10h8m-8-15h8m-7 4h8m-5-11h8m-8 20h8m-6-3h8m-8-14h8m-6 18h8m-1 2h8m-3-34h8m-8 18h8m-7 9h8m-7-21h8m-8 29h8m-6-11h8m-8-10h8m-8-6h8m-2 1h8m-7-2h8m-8 25h8m-2-10h8m-7 12h8m-1-5h8m-5 9h8m-8-13h8m-7-5h8m-2 19h8m-6-20h8m-8 1h8m-7-5h8m-8-11h8m-7 28h8m-5-17h8m-6-2h8m-6 8h8m1 6h8m0-17h8m-8 1h8m-6 17h8m-8-23h8m-6 29h8m1-4h8m-6 8h8m1-30h8m-7 2h8m11 6h8m-7 23h8m-5-23h8m-8 8h8m-7 13h8m-7-27h8m-4 3h8m-7 19h8m-7-18h8m-7 16h8m-7-2h8m-6-6h8m-7 12h8m-6-31h8m-5 9h8m-6 12h8m-6 15h8m-6-20h8m-7 17h8m-7-33h8m-7 25h8m-7-26h8m-8 9h8m0 27h8m-6-31h8m-6 24h8m-7-10h8m-6-9h8m0 7h8m-2 2h8m-4 14h8m5-19h8m-3 4h8m-4 8h8m-3-19h8m-2 29h8m-4-38h8m-6 30h8m1-15h8m-6-4h8m-7-10h8m-7 35h8m-7-16h8m-8 18h8m-4-38h8m-4 33h8m-5-8h8m-7 8h8m-8-33h8m-2 6h8m-7 33h8m-6-35h8m-6-1h8m-8 17h8m-4-2h8m-8 19h8m-4-36h8m-8 31h8m4-18h8m-3 6h8m-7 15h8m-7-4h8m-6-24h8m-7 15h8m-6 16h8m-8-30h8m-7 1h8m-5 3h8m-7 24h8m-8-36h8m-4 22h8m-1-18h8m3-1h8m-5 20h8m-3 5h8m-3-10h8m-1 17h8m-5-10h8m-5 14h8m-3-3h8m-7-14h8m-8 4h8m-5-11h8m-7-5h8m-8 4h8m-7 16h8m-1-29h8m-8 21h8m-3-13h8m-6 1h8m-8 16h8m2 9h8m-7-27h8m-8 31h8m-1-32h8m-4 5h8m-8 11h8m-5 5h8m-7-12h8m6-7h8m-3 30h8m-527 25h8m3-15h8m-2 15h8m-6 4h8m-2-21h8m-6 10h8m-8-1h8m-6 6h8m-7 13h8m-7-11h8m-7-20h8m-8 22h8m-5 13h8m-7-19h8m-8-19h8m-4 14h8m-6 18h8m-8-1h8m-6-29h8m-5 9h8m-2 10h8m-5 7h8m-6-16h8m-8-4h8m-7 21h8m-7-27h8m-7 9h8m-7 26h8m-7-37h8m-8 33h8m-7-5h8m-5-20h8m-5 22h8m-4-28h8m-7 36h8m-4-1h8m-8-33h8m-4 8h8m-7 23h8m-7-27h8m-7 19h8m-3-6h8m-7-14h8m-8 20h8m-8-22h8m-7-6h8m-6 1h8m-7 19h8m-8 8h8m-7-1h8m-7 1h8m-8 2h8m-8-9h8m-7-13h8m-7 20h8m-7-16h8m-7 23h8m-7 2h8m-8-15h8m-7-4h8m-7 19h8m-8-23h8m-6-10h8m-6 29h8m-8-1h8m-8-12h8m-6-3h8m-7-6h8m-5 28h8m-3-23h8m-4 23h8m-7-20h8m-4 16h8m-7-15h8m-7 13h8m-5 4h8m-6-11h8m-7 13h8m-7-12h8m-7-11h8m-4 9h8m-8-9h8m-6 22h8m-3-10h8m-6-8h8m-8 6h8m-7-4h8m-7 1h8m-5-12h8m-3 9h8m-8 11h8m-7 4h8m-4-10h8m-4 8h8m-7 2h8m3-11h8m-7 4h8m-8-12h8m-6-11h8m-6 25h8m-1-10h8m-5 15h8m-8-11h8m-8 9h8m-7-25h8m-7 6h8m2-7h8m2-6h8m-6 29h8m-3-23h8m1 30h8m-6-32h8m-7 19h8m-7 9h8m-7-23h8m-8-2h8m-7 8h8m-4 7h8m-7-22h8m-7 22h8m-8-4h8m-8 16h8m-6-14h8m-8 17h8m-7-9h8m-6-21h8m-7-4h8m-7 22h8m-7-22h8m-7 4h8m-5 31h8m-5-37h8m-6 32h8m-7-4h8m-8-19h8m-7 10h8m-5-17h8m-8 16h8m-7 12h8m-7-20h8m-6 7h8m-7-10h8m-7 28h8m-7-35h8m-7 12h8m-5 1h8m-7-6h8m-8 30h8m-8-25h8m-7-12h8m-5 12h8m-7 1h8m-7-6h8m-6-9h8m-6 27h8m-8-3h8m-4-24h8m-3 32h8m-4-6h8m-7-26h8m-8 14h8m-6 15h8m-8-27h8m0 16h8m-7 6h8m-6-8h8m-3 19h8m-7-18h8m-7 16h8m-6 2h8m-6 0h8m-7-10h8m-6-19h8m4 8h8m-6-13h8m-1 16h8m-8 22h8m-5-37h8m-7 7h8m-2 21h8m13-23h8m-1 10h8m-2-13h8m-4 5h8m9 22h8m-3-13h8m-6-13h8m-4 29h8m8-13h8m-1 15h8m-3-28h8m-7 6h8m1 4h8m-8-1h8m-7 1h8m-4-5h8m1-10h8m-5 6h8m-7 17h8m-5-12h8m-3-9h8m-2-3h8m-7 17h8m-6 6h8m-7-19h8m-8 25h8m-8-18h8m-3 1h8m-8 2h8m-7 11h8m-7 3h8m-4-13h8m0-4h8m-1-2h8m-920 42h8m-7 1h8m-8 11h8m-7 10h8m-8-11h8m-6-6h8m-8 11h8m-5-13h8m-4 1h8m-1 9h8m-7 7h8m337-16h8m3-9h8m-5-6h8m-5 3h8m-3 0h8m-2 16h8m-5-15h8m-1 3h8m-6 11h8m-8-5h8m-7 2h8m-5 19h8m-6-12h8m-7-14h8m-4-3h8m-1 9h8m-6 14h8m-5-4h8m-4-8h8m-5 7h8m-8-16h8m-3 2h8m-8 18h8m-8-12h8m-7-1h8m-6-1h8m-6 14h8m-6 10h8m-4-14h8m-7-7h8m-7 2h8m-7 13h8m-5-19h8m-5-6h8m-7-6h8m-6 16h8m-7 21h8m-7-23h8m-7-7h8m-7 18h8m-8-1h8m-8 8h8m-7-6h8m-8-14h8m-7 12h8m-8 10h8m-8-26h8m-4-10h8m-8 33h8m-6-9h8m-7 7h8m-8-22h8m-7 4h8m-8 23h8m-5-6h8m-7 8h8m-5-38h8m-8 3h8m-7 33h8m-6-32h8m-7 27h8m-8-27h8m-7 29h8m-8-3h8m-4-27h8m-8 23h8m-7 1h8m-7-21h8m-5 24h8m-8-16h8m-7 18h8m-8 3h8m-8-14h8m-3-20h8m-8 4h8m-7 31h8m-3-5h8m-8-26h8m-6 18h8m-7-8h8m-5-11h8m-8 27h8m-7-28h8m-6-3h8m-7 27h8m-7-4h8m-7 6h8m0-1h8m-8-21h8m-6 32h8m-2-31h8m-4 16h8m-6-17h8m-8 22h8m-2-19h8m-7 18h8m-6-23h8m-8 6h8m-5 21h8m-7-11h8m-8 4h8m-4-24h8m-7 36h8m-5-26h8m-5-7h8m-4 33h8m-6-32h8m-6 17h8m-7-18h8m-5 13h8m-7 20h8m-3 1h8m-6-17h8m-7 13h8m-5-2h8m-8 6h8m-5-29h8m-5 1h8m-8 29h8m-7-31h8m-6 8h8m-2 9h8m-6-20h8m-8 13h8m-4-7h8m-7 20h8m-8-19h8m-7 9h8m-6-16h8m-8 29h8m-7-7h8m-6-2h8m-7 5h8m-7-25h8m-7 26h8m-6-3h8m-4-3h8m-5-10h8m-7 5h8m-7 1h8m-5 2h8m-7-12h8m-4 10h8m-8 5h8m-3 4h8m-7 1h8m-7 6h8m-6-19h8m-4-7h8m-6-3h8m-5 30h8m-6-12h8m-5-15h8m-8-7h8m-6 14h8m-8-3h8m-7 2h8m-7 2h8m-7-3h8m-8 9h8m-8-23h8m-8 3h8m-6 22h8m-8-10h8m-6 8h8m-8-16h8m-4 3h8m-8 4h8m-6 14h8m-8-16h8m-7-6h8m-5-2h8m-8 8h8m-8-7h8m-7 27h8m-4-31h8m-7-2h8m-8 3h8m-8 24h8m-8-26h8m-7 26h8m-3-9h8m-6-5h8m-8 22h8m-7-14h8m-8-8h8m-7 25h8m-7-21h8m-7-17h8m-8 34h8m-7-31h8m-5 25h8m-8-21h8m-6 0h8m-4 23h8m-7-10h8m-7 14h8m-6-3h8m-7-5h8m-6-21h8m-3 8h8m-8 1h8m-6-6h8m-6 17h8m-6-19h8m-7 19h8m-8-26h8m-8 33h8m-7-16h8m-7 22h8m-6-22h8m-2 8h8m-7-6h8m-7-6h8m-7 0h8m-6 21h8m-8-13h8m-7-7h8m-7-5h8m-7 28h8m-8-14h8m-8 16h8m-5-9h8m-6-14h8m-7-3h8m-4 12h8m-6 11h8m-7-2h8m-7 3h8m-4 0h8m-8-24h8m-7 9h8m-5 4h8m-4-19h8m-7 26h8m-4-32h8m7-1h8m-7 37h8m-3-4h8m-7 5h8m-2 1h8m-1-13h8m-6-4h8m-7-5h8m-8 8h8m-7-21h8m-5 28h8m-4-20h8m2 12h8m-6 6h8m-8 4h8m-4-4h8m-5-1h8m-8-2h8m-4-25h8m-7 25h8m-6-26h8m3 9h8m-5 2h8m-8 5h8m-7 16h8m-7-32h8m-7 0h8m-5 21h8m-5-16h8m-2 25h8m-7-9h8m-2 4h8m-8-10h8m-8 4h8m-7 12h8m-4 5h8m-7-23h8m7 18h8m-7-13h8m-1-18h8m-6 22h8m-8 6h8m-5-5h8m-3-7h8m-933 24h8m26 28h8m-1 6h8m-7-20h8m102 19h8m6 5h8m-8-11h8m0-7h8m-6-8h8m190 24h8m-5-19h8m-6 15h8m2-14h8m-4 8h8m-7-6h8m-7 17h8m-8-30h8m-2 30h8m-1-35h8m-7 27h8m-8 6h8m-8-18h8m-8 1h8m-7-13h8m-5 19h8m-7-15h8m-8-3h8m-8-3h8m-5 26h8m-7-19h8m-5 12h8m1 7h8m-5-19h8m-8 0h8m-6-8h8m-8 26h8m-7-25h8m-4 1h8m-7-4h8m-4 32h8m-5 0h8m-5-32h8m-7 4h8m-8 11h8m-7-2h8m-6 3h8m-8-4h8m-7 2h8m-8-2h8m-3 5h8m-7 5h8m-6-6h8m-8-5h8m-7 8h8m-8 9h8m-7-24h8m-7 21h8m-8-13h8m-7 25h8m-5-1h8m-5-9h8m-5-12h8m-7 11h8m-7 0h8m-5 4h8m-7-12h8m-6 4h8m-7-18h8m-6 9h8m-7-6h8m-5 24h8m-8-24h8m-8 1h8m-6 2h8m-7 8h8m-5-17h8m-8 6h8m-7 8h8m-7 11h8m-8 8h8m-7-29h8m-8 28h8m-5 5h8m-4-3h8m-8 1h8m-6-8h8m-8-24h8m-7 26h8m-7-27h8m-8 24h8m-1-23h8m-6 12h8m-8-11h8m-5 10h8m-7-13h8m-8 36h8m-7-29h8m-8-4h8m-7 21h8m-7 3h8m-7-9h8m-8-1h8m-7 2h8m-3 11h8m-8-3h8m-3-4h8m-8-19h8m3 1h8m-6-7h8m-8 2h8m-3 2h8m-5-5h8m-7 38h8m-6-17h8m-6 14h8m-5-13h8m-7-15h8m-6 31h8m-7-12h8m-4-26h8m-3 27h8m-5-26h8m-1 25h8m-7-11h8m-7 12h8m-8-7h8m-3 3h8m-6-13h8m-6-2h8m-4 2h8m-7-1h8m-5 2h8m-3 26h8m-4 0h8m-6-3h8m-6-14h8m-6 9h8m-8-28h8m-7-1h8m-6 35h8m-8 0h8m-7-28h8m-7 23h8m-7-16h8m-7 20h8m-7-25h8m-7 19h8m-7-24h8m-7 15h8m-6 4h8m-6 15h8m-8-7h8m-7-31h8m-7 35h8m-6-23h8m-7-3h8m-8 11h8m-4-8h8m-8 21h8m-7 2h8m-8-10h8m-7-22h8m-8-1h8m-7 7h8m-8 9h8m-8 9h8m-8 3h8m-5-2h8m-6-11h8m-7 20h8m-8-4h8m-3-3h8m-6-11h8m-7-11h8m-7 23h8m-8 0h8m-6-31h8m-8 8h8m-6 30h8m-8-28h8m-5 28h8m-5-35h8m-3 6h8m-7-8h8m1 17h8m-6 12h8m0-27h8m-3 16h8m-8-19h8m-1 21h8m-4-18h8m-3 6h8m-4-1h8m-8 12h8m-6-18h8m-7 15h8m-5-7h8m-4 11h8m-7-12h8m-5-3h8m-6 9h8m-8-1h8m-7 11h8m-8-22h8m-7 22h8m-4-5h8m-3-15h8m-4 6h8m-2 24h8m-8-8h8m-7-5h8m-3-14h8m-8-1h8m-6-7h8m-2 5h8m-3 23h8m-4-20h8m-7 30h8m-7-10h8m-7-19h8m-5 17h8m-5-24h8m-6 30h8m-7-4h8m-3-1h8m-6 11h8m-6-36h8m-2 22h8m-5-3h8m-6-8h8m-4 15h8m-7-17h8m-5 23h8m-3-2h8m-4-26h8m-1 30h8m-7-9h8m-6 0h8m-7-27h8m-7 3h8m1 27h8m-6-15h8m-7 7h8m-8-5h8m-7-7h8m0 9h8m-5-14h8m-5 7h8m-5 9h8m-6-17h8m-5 22h8m-3 4h8m3-6h8m-2-23h8m-4 0h8m-8 28h8m-4 5h8m-7-10h8m-8 15h8m-4-10h8m-3-19h8m-956 68h8m-3-6h8m9-6h8m-4-3h8m-8 11h8m4-13h8m-8 15h8m-4-9h8m0 2h8m-7 6h8m-8 1h8m-4-2h8m63-1h8m-4-6h8m-6 6h8m-5 0h8m5 6h8m-4-8h8m-6 4h8m-6-15h8m-7 8h8m-4-25h8m-3 30h8m-5-25h8m-7 11h8m-4-16h8m0 9h8m-7 20h8m-4-4h8m-5-13h8m-6 11h8m-8 12h8m-6-18h8m-5-3h8m-8-1h8m-7 0h8m-7 16h8m-7-30h8m-8 31h8m-7-14h8m-8-6h8m-7 18h8m-8-27h8m-7 21h8m-7-24h8m-7 21h8m-6-12h8m-8 1h8m-6 2h8m-8 0h8m-7-1h8m-5 1h8m-4-5h8m167 3h8m9-10h8m-7 19h8m-6 4h8m1-13h8m-8 28h8m-7-36h8m-2 22h8m-7-17h8m-7 20h8m-4-4h8m-4 3h8m-6-22h8m-8-5h8m-7 1h8m-7 24h8m-7 13h8m-7-25h8m-2 23h8m-8-5h8m-7-5h8m-8-22h8m-6 2h8m-6 28h8m-5-9h8m-8 7h8m-7-23h8m-8-2h8m-6 8h8m-3-2h8m-8-4h8m-7 24h8m-6-16h8m-7 19h8m-8-16h8m-6 14h8m-8-16h8m-7-3h8m-6-1h8m-7 8h8m-8 14h8m-7-22h8m-5 16h8m-6-3h8m-7 7h8m-4-9h8m-5-18h8m-7 3h8m-7 13h8m-8-20h8m-8 18h8m-8 6h8m-5 2h8m-6 4h8m-7-27h8m-7-5h8m-8 34h8m-6-15h8m-8 10h8m-5 4h8m-8-16h8m-8 2h8m-8 6h8m-3 11h8m-5-5h8m-7-17h8m-8 8h8m-7 5h8m-5 1h8m-7 10h8m-7-24h8m-6-3h8m-8-10h8m-6 14h8m-8 7h8m-7 6h8m-7-1h8m-6 3h8m-7-13h8m-5 9h8m-7-5h8m-7-5h8m-5 14h8m-7-13h8m-6-8h8m-8 0h8m-7 21h8m-8 2h8m-7-10h8m-8-5h8m-7 1h8m-7 12h8m-7-7h8m-6-19h8m-5 21h8m-4-17h8m-6-2h8m-7 27h8m-7-11h8m-7-6h8m-4-9h8m-8 24h8m-7-26h8m-7 31h8m-8-26h8m-5-1h8m-3-5h8m-6 6h8m-7-5h8m-6 8h8m-7 1h8m-6 13h8m-8 9h8m-6-22h8m-8-3h8m-8-12h8m-8 31h8m-7-12h8m-8-12h8m-6 4h8m-6 23h8m-5 5h8m-7-29h8m-8 7h8m-7 4h8m-8-2h8m-7-14h8m-7 7h8m-7 1h8m-6-2h8m-8-1h8m-5 24h8m-6-20h8m-7 23h8m-8-2h8m-5-24h8m-4 19h8m-8-20h8m-2 10h8m-7 10h8m-8 5h8m-8-24h8m-6 15h8m-5-13h8m-6 3h8m-7 0h8m-4 1h8m-5 13h8m3-22h8m-1 28h8m-6-10h8m-8-20h8m-8-1h8m-6 25h8m-5-5h8m-8 2h8m-7 3h8m-6-22h8m-6-8h8m-6 2h8m0 26h8m-5 0h8m-1 5h8m-8-15h8m-5-13h8m11-1h8m-7 4h8m-8 31h8m-8-21h8m12 17h8m-6-31h8m-3-4h8m-2 20h8m22-19h8m-7 21h8m-6-21h8m-3 12h8m1 13h8m-8 7h8m-7-16h8m-4 6h8m-6 14h8m-7-12h8m-8-3h8m-6 0h8m-8 15h8m-8-19h8m-5 18h8m-7-33h8m-7 22h8m-1-9h8m-7 13h8m-8-3h8m-7-16h8m-7-2h8m0 11h8m-5-15h8m-6 26h8m-6-22h8m-3-6h8m-6 0h8m-1 31h8m-7-29h8m-5 26h8m-6-4h8m-5-24h8m-6 4h8m-7 26h8m-8-27h8m-5-3h8m-2 31h8m-6-5h8m-6-17h8m-7 22h8m-7-17h8m-5 15h8m-8-11h8m-8 15h8m-6-30h8m-8 0h8m-8 7h8m-7-9h8m8 1h8m-7 0h8m1 1h8m-5 24h8m-5-20h8m-6-3h8m4 2h8m-3 3h8m-5 3h8m-7 4h8m-8 0h8m-1 13h8m-5 0h8m-6 8h8m-4-13h8m-8-16h8m-7 4h8m-8 4h8m-3 9h8m-8 9h8m-6 0h8m-979 37h8m-5-9h8m-3 6h8m-3-3h8m-4 10h8m-4-18h8m-2 4h8m-6 15h8m0-7h8m-7 5h8m-4-26h8m-8 9h8m-4-17h8m-7 15h8m-6-4h8m-8-12h8m-7 38h8m-7-27h8m-7 12h8m-5-4h8m-8-9h8m11 5h8m-2 1h8m-7 10h8m-4-10h8m-6-4h8m-7 23h8m-7-30h8m-7-2h8m-6 0h8m-8 21h8m-6-2h8m28-18h8m-3-2h8m24-2h8m10 0h8m0-1h8m-2 2h8m-7-2h8m-5 1h8m-3 3h8m11 1h8m19 5h8m0 3h8m161-4h8m-6 27h8m-7-27h8m-7-8h8m-5 37h8m-8-25h8m-7 8h8m-6-4h8m-6-9h8m-7 11h8m-8-7h8m-5 2h8m-5-14h8m-4 7h8m-7-6h8m-6 18h8m-1-7h8m-8 4h8m-8 18h8m-7-5h8m-8-4h8m-7-19h8m-7 17h8m-2-13h8m-8 8h8m-7 4h8m-5 3h8m-6-11h8m-6 14h8m-6 11h8m-7-25h8m-8 13h8m-8-8h8m-6-11h8m-8-7h8m-8 15h8m-6-14h8m-7 1h8m-7-2h8m-5 12h8m-8-12h8m-6 14h8m-7-15h8m-8 4h8m-7 4h8m-8 2h8m-6-10h8m-8 23h8m-7-9h8m-8 22h8m-6-27h8m-8 30h8m-6-9h8m-8-25h8m-6 8h8m-8-11h8m-6 1h8m-6 18h8m-8-17h8m-7-4h8m-6 27h8m-8-9h8m-7-17h8m-7-1h8m-8 1h8m-7 15h8m-7 4h8m-8-12h8m-7 7h8m-7-1h8m-8 0h8m-7-6h8m-8-2h8m-7 19h8m-6-1h8m-8-14h8m-7 27h8m-8-22h8m-7 10h8m-8-21h8m-6 33h8m-7-32h8m-7 20h8m-7-22h8m-4-2h8m-6 27h8m-8-25h8m-6 18h8m-6-3h8m-6-3h8m-7-6h8m-8 6h8m-8-1h8m-5-10h8m-8-2h8m-6 37h8m-7-22h8m-6 5h8m-8-10h8m-4 7h8m-7 20h8m-7-10h8m-8-4h8m-8-19h8m-8-4h8m-7 23h8m-4-12h8m-7 13h8m-6 1h8m-6-22h8m-4 0h8m-8 2h8m-8 16h8m-7 4h8m-8-27h8m-8 8h8m-3 21h8m-6-25h8m-6 27h8m-6-11h8m-8-9h8m-7 7h8m-2 11h8m-7-9h8m-8-17h8m-5 23h8m-8 11h8m-7-35h8m-2 9h8m-7 2h8m-7 3h8m-6-14h8m-8 13h8m-7 6h8m-7-3h8m-8 10h8m-8-16h8m-7-6h8m-8-4h8m-4 3h8m-4 25h8m-5 4h8m-7-15h8m-6 3h8m-8-2h8m-1-20h8m-7 29h8m-7-1h8m-7-1h8m-7 0h8m7-15h8m-5 10h8m-6 2h8m-8-1h8m-7 2h8m-8 7h8m-6-21h8m-7 9h8m-8-5h8m-7 9h8m-7 11h8m-7-9h8m-8-20h8m-3 21h8m-8-19h8m-6 22h8m-8-7h8m-8-12h8m-7-10h8m-8 36h8m-7-28h8m-7-9h8m-7 23h8m-8 8h8m-7-16h8m-8 24h8m-7-15h8m0-8h8m-7 21h8m-1-22h8m-4 24h8m-5-9h8m-4 1h8m-5-28h8m-7 3h8m-5 8h8m-7-14h8m-7 36h8m-4-36h8m-7 1h8m0 8h8m-8 25h8m-8-20h8m-7-2h8m-4 1h8m-4 26h8m9-10h8m7 0h8m6 10h8m3-5h8m-2-5h8m-7-5h8m-7 2h8m-7 9h8m-6-29h8m-5 31h8m-7 2h8m-8-29h8m-4 21h8m-3-24h8m-6 14h8m-8-4h8m-2-1h8m-7 12h8m-5-13h8m-7 14h8m-5-8h8m-1 15h8m-3 1h8m-4-3h8m4-1h8m-4-4h8m-6 8h8m-7-24h8m-7 11h8m-7 13h8m-6 0h8m1-22h8m-6 13h8m-7-12h8m-8 7h8m-6-16h8m-5 28h8m-6-30h8m-3 19h8m-2 9h8m-7-31h8m-7 25h8m-3 3h8m-5-12h8m-6 14h8m-7-19h8m-8 12h8m-7 8h8m-7-12h8m-6 8h8m-5-14h8m-5-5h8m-6 3h8m-4-8h8m-8 12h8m-6 5h8m-5-1h8m-6-7h8m-7 1h8m-7 10h8m0-16h8m-2-8h8m-3 4h8m-4 7h8m-963 37h8m-7 15h8m-7 5h8m-8-8h8m-7-10h8m-6-8h8m-3 8h8m-7-3h8m-6 30h8m1-17h8m3 2h8m-6-10h8m-4 17h8m-7 3h8m-2-23h8m-5 23h8m-5-1h8m-6-32h8m-7 18h8m-7-12h8m-7 1h8m-6 29h8m-3-25h8m-8 20h8m-7-14h8m-8 3h8m-3-3h8m-7 13h8m-5-18h8m-8 21h8m-4-22h8m328-4h8m19 1h8m-4 4h8m-7-11h8m-4 1h8m-4 18h8m-7-7h8m-6 13h8m-5 13h8m-8-6h8m-7-25h8m-8-7h8m-1 20h8m-8-12h8m-6-5h8m-7 19h8m-5 15h8m-5-14h8m-7 1h8m-7-1h8m-7-11h8m-8 6h8m-6 7h8m-6-19h8m-7 17h8m-4 11h8m-5-1h8m-5-16h8m-7 3h8m-7-7h8m-4 22h8m-8 1h8m-7-14h8m-8-13h8m-7-6h8m-8 29h8m-7-9h8m-7 2h8m-8-19h8m-8 0h8m-4 1h8m-7 18h8m-8-10h8m-7 2h8m-7 20h8m-6-21h8m-8-8h8m-4 13h8m-7-14h8m-7 3h8m-6-3h8m-7-7h8m-7 25h8m-7-22h8m-8-2h8m-6 2h8m-6-4h8m-6 16h8m-7-1h8m-8 12h8m-6-1h8m-7-16h8m-5-9h8m-7 36h8m-6-6h8m-7-4h8m-8-4h8m-8 10h8m0-16h8m-7-8h8m-7 21h8m-5-20h8m-8-3h8m-7 14h8m-8-7h8m-7-7h8m-6 28h8m-8-11h8m-8 8h8m-7-28h8m-7 13h8m-6-17h8m-8 26h8m-7 7h8m-8-11h8m-7-13h8m-6 26h8m-8 2h8m-5-14h8m-8-14h8m-5-2h8m-8-7h8m-6 28h8m-5-20h8m-7 17h8m-7 2h8m-6-22h8m-5 17h8m-7 11h8m-7-11h8m-5-7h8m-2 21h8m-6-22h8m-6-10h8m-7 20h8m-7 14h8m-4 1h8m-6-2h8m-7-8h8m-7 9h8m-8-29h8m-7 7h8m-8-1h8m-7 13h8m-8-15h8m-3-4h8m-5 20h8m-6 2h8m-7 6h8m-7-19h8m0 16h8m-7-29h8m-8 10h8m-4-3h8m-8 3h8m-6 0h8m-7-8h8m-1 6h8m-8 22h8m-6-31h8m-7 22h8m-5 10h8m-8-5h8m-8-26h8m-8 32h8m-6-13h8m-5-10h8m-7-5h8m-3 22h8m-8-10h8m-7 13h8m-5-30h8m-7 1h8m-7 11h8m-8-7h8m-6 29h8m-8-20h8m-2 15h8m-8-17h8m-7-4h8m-8 16h8m-6-2h8m-7-21h8m-5 29h8m-7-31h8m-7 15h8m-6 0h8m-8 2h8m-7-9h8m-5-8h8m-8 31h8m-3 3h8m-7-24h8m-6 17h8m-7-11h8m-7-17h8m-5 34h8m-7-22h8m4-6h8m-8 14h8m-5 2h8m-4-18h8m-8 6h8m-6-7h8m-2-2h8m-3 11h8m-8 11h8m-6 13h8m-6-21h8m-8 16h8m0-23h8m-7-5h8m-4 17h8m-5-3h8m-3 14h8m-8-7h8m-7-22h8m-7 15h8m-6 1h8m-8-18h8m-6 33h8m-4-13h8m-4 10h8m-4-26h8m4 0h8m-7 31h8m-6-19h8m-6 10h8m-6 6h8m-5-1h8m-3-25h8m-7-1h8m-8 10h8m-7 15h8m-6-26h8m-8 25h8m-8-2h8m-8-12h8m-4 21h8m-4 0h8m-7-1h8m-5-8h8m-6-3h8m-4 1h8m-6 3h8m-8-21h8m-7 2h8m-7 16h8m-7-3h8m-7-22h8m-6 25h8m-6-19h8m-6 22h8m-6 2h8m-4-26h8m-8 9h8m-2 4h8m-8 16h8m-6-22h8m-3-13h8m-1 32h8m-7-29h8m-6 5h8m0 8h8m-6 5h8m-7-20h8m-6 2h8m-7 36h8m-7-31h8m-8 20h8m-2-19h8m-5 2h8m1-1h8m-4 11h8m-3-6h8m0 19h8m-7-25h8m-8 1h8m-1-1h8m-6-7h8m-3-1h8m-4 7h8m-1-8h8m-975 79h8m-4-20h8m-3 14h8m-8-18h8m-6 11h8m5 13h8m-5-19h8m-7-12h8m-6 9h8m-7 14h8m-2-28h8m0 28h8m-8-13h8m-4-13h8m-5 1h8m-7 21h8m-8-5h8m-3-18h8m-7 11h8m1 4h8m-3 10h8m-3-8h8m-4-7h8m-8-2h8m-1-4h8m338 6h8m-7-5h8m-6 7h8m-3-5h8m-3 7h8m-6 21h8m-3-12h8m-5-26h8m-6 27h8m-8-11h8m2-10h8m1 0h8m-7-1h8m-3 3h8m-5-3h8m-5 6h8m-7 25h8m-8-1h8m-8-5h8m-1-30h8m-6 0h8m-5 6h8m-5 19h8m-8-9h8m-7 20h8m-8-13h8m-6 12h8m-6-24h8m-7-1h8m-3 24h8m-6-16h8m-2-17h8m-7 17h8m-8-4h8m-5 1h8m-4 21h8m-7-21h8m-8-7h8m-8-4h8m-6 6h8m-8 4h8m-4-14h8m1 19h8m-6-11h8m-8 27h8m0-10h8m-4-19h8m-6 6h8m-8-13h8m-5 32h8m-8 2h8m-5 2h8m-8-27h8m-1 25h8m-7 0h8m-6-17h8m-7-16h8m-7 31h8m-5 3h8m-8-19h8m-7 10h8m-7-21h8m-8 9h8m-5 7h8m-8-2h8m-6-18h8m-7 10h8m-7-8h8m-4 18h8m1 5h8m-2-12h8m-6 25h8m-8-10h8m-6-14h8m-7-2h8m11 17h8m0-7h8m-2-13h8m-7-6h8m-7 32h8m-7-30h8m-2 33h8m1-11h8m-7 0h8m-3-28h8m-6 15h8m-7 7h8m-6 10h8m-7-15h8m-1 10h8m-6-23h8m-4-2h8m-7 8h8m-5 4h8m-7 21h8m-6-28h8m-7 7h8m-8-10h8m-7 1h8m-3-2h8m-7 10h8m-6-2h8m-7 11h8m-7-6h8m-8 11h8m-4-26h8m-8 10h8m-7 10h8m-7-6h8m-5 5h8m-8-15h8m-7 9h8m-6 7h8m-3-20h8m-8 10h8m-7-6h8m-7 3h8m-7 18h8m-1-2h8m-6 1h8m-7-4h8m-7-3h8m-8-9h8m-7-2h8m-6-4h8m-6 7h8m-5-7h8m3 10h8m-8-9h8m11 12h8m-7-15h8m-1-1h8m-6 12h8m-4-9h8m-6 0h8m-8 10h8m-5-3h8m4 0h8m-7 5h8m-7-13h8m-7 13h8m-2 3h8m-8 4h8m-7-9h8m-7-4h8m-8-4h8m-7 20h8m-6 0h8m-8 3h8m-8-7h8m-7-19h8m-7 12h8m-8 10h8m-7-23h8m-5 6h8m-7 25h8m-6-9h8m-7-23h8m-3 23h8m-5 11h8m-6-31h8m-8 1h8m-7 24h8m-6-5h8m-6-9h8m-4-6h8m-4 0h8m-5 4h8m-5 26h8m-7-34h8m-5 21h8m-4-9h8m-4 14h8m-3-18h8m-7 22h8m-7-6h8m-7 0h8m-6 5h8m-5-33h8m-7 9h8m-6 10h8m-7-11h8m-5 24h8m-5-27h8m-5 13h8m-8-5h8m-6-4h8m-7 7h8m-3-2h8m4-6h8m-925 51h8m-3 12h8m-8-11h8m-6 10h8m-6-24h8m-7 14h8m-6 18h8m-7-13h8m-3 12h8m-8 2h8m-8-29h8m-8 17h8m-8-16h8m-4 20h8m-7-29h8m1 22h8m-8-17h8m-7 16h8m-6 0h8m-1 7h8m-8 9h8m-7-25h8m-8 2h8m-7 16h8m33 5h8m-5 2h8m-6-2h8m7 2h8m180-2h8m11-3h8m-1 2h8m0-5h8m-1-3h8m-2 2h8m-7-1h8m-3 8h8m-4-6h8m8-6h8m4-5h8m-4 5h8m-3-2h8m-8-7h8m12-8h8m-7 4h8m-1-12h8m-8 13h8m-1 7h8m-7 2h8m4-14h8m-8 7h8m-7-6h8m-8-8h8m-6 18h8m-4-8h8m-4-8h8m-7 4h8m0 7h8m-8 12h8m-7-24h8m-8-2h8m-2 10h8m-7 7h8m5 1h8m-4 15h8m-8-14h8m-2 14h8m-7 6h8m-6-37h8m-5 30h8m-6-19h8m-5-3h8m-4-1h8m-5 7h8m-7-3h8m-5 22h8m-7-2h8m-5-2h8m-3-9h8m-1-12h8m-8 21h8m-2-27h8m-7 18h8m-4 8h8m-4-4h8m-5 6h8m-8 3h8m-7 2h8m-7-12h8m-2-10h8m-6 10h8m-8-12h8m-6 17h8m-7-12h8m-6 7h8m-2 13h8m-8-16h8m-8-16h8m-5 27h8m-7-23h8m-7 24h8m-5-14h8m-5 7h8m-8 11h8m-4-28h8m1 28h8m-6-30h8m-4 6h8m-7 25h8m-7-21h8m0 18h8m-7-33h8m-3-3h8m-7 12h8m-4 23h8m-6-4h8m2-15h8m-8 20h8m-7-32h8m-2 8h8m-5 4h8m-5-7h8m-7-2h8m-1 1h8m-3 19h8m-4-19h8m-5 19h8m-7-10h8m3-5h8m-6 22h8m-6-18h8m-4-5h8m-2-4h8m5 2h8m150-4h8m-8-2h8m-834 54h8m-4-10h8m-8-6h8m-6 8h8m-3-6h8m6-1h8m1 5h8m15-4h8m-8 6h8m-5-1h8m-4 0h8m-2-5h8m-5 4h8m-6 11h8m-5-9h8m-1-1h8m-4-2h8m-6 9h8m-7-9h8m-7 3h8m-6 8h8m0-10h8m-6 9h8m-7-4h8m0-6h8m-5 2h8m-4 4h8m-6 10h8m-2-7h8m-4 3h8m-8-8h8m-1 10h8m-6-2h8m10-4h8m-5 10h8m-6 1h8m14-10h8m4 4h8m-3 2h8m1-9h8m-4 10h8m-3-10h8m-6-4h8m-8 5h8m-8-5h8m2 10h8m-5-3h8m-5 0h8m-7-7h8m1-7h8m-3 2h8m-7 8h8m0-5h8m-3-4h8m-7 9h8m-7-4h8m6-3h8m107 6h8m2 0h8m-5 2h8m86 8h8m-4-11h8m10-7h8m-7-1h8m0-1h8m-5 8h8m-8-5h8m-6 4h8m-6 12h8m15-18h8m-7 16h8m-6-6h8m0-2h8m1 11h8m-3-6h8m-3-12h8m1 10h8m-2-9h8m-5 1h8" stroke="#d4d4d4" stroke-width="8" fill="none" transform="scale(.1)"/><path d="M3182 2901h8m258 246h8m403 11h8m16-1h8m28-7h8m-140 31h8m43 10h8m22 6h8m31-4h8m-7-29h8m-684 54h8m528-7h8m7-7h8m45 13h8m11-13h8m-3 8h8m16-11h8m0 3h8m-3 34h8m17-14h8m1-11h8m0 23h8m-324 22h8m180 0h8m16-10h8m-6 2h8m-3 25h8m-2-25h8m-6 20h8m-7-17h8m-5-11h8m38 13h8m-5 23h8m-6-13h8m-2-15h8m-4 0h8m37 29h8m-167 14h8m-7-13h8m13 20h8m11 8h8m5-8h8m41 9h8m15-2h8m-169 35h8m83 11h8m31-12h8m86-16h8m-229 36h8m2 16h8m-5 12h8m-1-21h8m-4 28h8m-7-3h8m-4 3h8m0-3h8m41-23h8m22 18h8m2-7h8m54 9h8m16-11h8m-5-6h8m0-13h8m-4 38h8m-6-32h8m2 13h8m25 17h8m-490 29h8m47 0h8m165-25h8m17 28h8m11-19h8m-6-2h8m0 20h8m-5 9h8m-7 2h8m-7-5h8m0-18h8m21 1h8m9 0h8m88-1h8m-6-4h8m-8-5h8m1 6h8m-5-7h8m0 16h8m9-14h8m-480 35h8m237 2h8m67 14h8m-5 2h8m36 13h8m11 5h8m12-24h8m15-2h8m0-3h8m4 11h8m-5 14h8m-3-23h8m-6 16h8m-3-23h8m-3 34h8m-3-37h8m-1 35h8m-6-15h8m-449 23h8m68 7h8m72-10h8m180 30h8m20-18h8m-2 4h8m-6 20h8m-7-36h8m6 12h8m12 12h8m-7-8h8m11 6h8m0-13h8m-888 46h8m343 0h8m281 20h8m105 3h8m9-1h8m-1-32h8m13 24h8m-4-19h8m18 11h8m6 7h8m0-23h8m-949 35h8m15 3h8m33 10h8m611-14h8m-5 7h8m-6-3h8m20-3h8m23 5h8m0 8h8m22 3h8m-4-3h8m23-8h8m-7 32h8m1-26h8m4 23h8m-8-13h8m-7-3h8m-5-2h8m-3-6h8m-6 22h8m4-1h8m-2-2h8m14-3h8m-4-10h8m-1 14h8m-8 6h8m-1-34h8m-419 64h8m245-25h8m35-2h8m19 2h8m19 18h8m3 0h8m34-12h8m-868 52h8m631-4h8m-664 24h8m118 16h8m395 1h8" stroke="#9999e0" stroke-width="8" fill="none" transform="scale(.1)"/><path d="M3891 3148h8m-72 24h8m0-9h8m20 35h8m35-15h8m-140 17h8m85 34h8m31-32h8m-155 44h8m36-3h8m105 17h8m-272 45h8m246-6h8m3 20h8m-46 28h8m66-4h8m-204 23h8m126 6h8m41 12h8m1-7h8m20 1h8m4-10h8m8 8h8m-7 14h8m-7-11h8m-1 6h8m7-1h8m-235 44h8m46-12h8m40 13h8m48-29h8m11 36h8m-6-30h8m-6 24h8m-3-11h8m47 14h8m-5-1h8m-500 16h8m21 26h8m251-3h8m-3-31h8m118 12h8m6 1h8m-7 16h8m1-10h8m-4-17h8m-7 19h8m7 3h8m-8-24h8m-6 27h8m-4-23h8m-5 8h8m-6 14h8m2 9h8m-5-28h8m-7 17h8m-279 34h8m-1-8h8m173-7h8m-7 18h8m0 1h8m24-5h8m-7-6h8m-5 25h8m-1-21h8m-8 17h8m-3-28h8m1 17h8m-3 2h8m0 0h8m-191 49h8m98-23h8m24 27h8m18-33h8m-104 52h8m-4 17h8m0 2h8m6-33h8m19 13h8m-8 13h8m-6-22h8m-1 20h8m-6 1h8m-7-9h8m-7 20h8m-7-8h8m2-18h8m-8 9h8m-160 22h8m-4 3h8m6 19h8m45 14h8m-6-23h8m9 20h8m2-26h8m9-1h8m8-8h8m-320 46h8" stroke="#6060ed" stroke-width="8" fill="none" transform="scale(.1)"/><path d="M3827 3184h8m37 15h8m9-20h8m14 5h8m-4-7h8m-719 30h8m541 28h8m3-3h8m79 3h8m-102 6h8m89 5h8m88-4h8m-101 58h8m27 2h8m-43 24h8m45-3h8m16 15h8m25 12h8m-146 46h8m8-33h8m21 24h8m-8-23h8m9 7h8m73 27h8m-7-26h8m-5 25h8m-7-3h8m-7-13h8m-5-19h8m-5 20h8m-8-12h8m0 23h8m-4-28h8m0-2h8m-7 33h8m-3-3h8m-3-26h8m-2 22h8m-1 9h8m-486 20h8m232 1h8m-2-3h8m48 1h8m28 20h8m75-29h8m-5 22h8m-2-4h8m-4-21h8m-2 0h8m-3 1h8m-8 28h8m-8-11h8m-1-9h8m-5-11h8m-2 32h8m-3-22h8m-7 9h8m-1 9h8m-1-29h8m-4 24h8m-6-15h8m-1 3h8m-546 26h8m31 34h8m212-28h8m-6-6h8m70 36h8m30-9h8m66 0h8m4 8h8m4-35h8m-6 3h8m11 22h8m3 5h8m-8-12h8m0 1h8m-7 2h8m-4 13h8m-2-17h8m1-7h8m5 14h8m-448 25h8m5 5h8m298 2h8m54 20h8m-3-9h8m-3-15h8m-6 0h8m-2-8h8m6 23h8m1-18h8m-135 49h8m34 10h8m9 10h8m9-11h8m-5 9h8m6 3h8m-4-19h8m-5 14h8m-1-23h8m-8 20h8m15-27h8m-257 72h8m20 2h8m15-2h8m26-13h8m26 1h8m-4-6h8m40 18h8m1-19h8m-5-10h8m-2-3h8m-7 31h8m1 1h8m-4-15h8m-7 16h8m-1-22h8m-139 42h8m65-16h8m18 1h8m-6 15h8m-7-13h8m-5 0h8m7-3h8m-915 50h8" stroke="#1414ff" stroke-width="8" fill="none" transform="scale(.1)"/>
<path d="M3516 3782h8m-8 4h8m-78 26h8m-2 7h8m6-6h8m-7-6h8m1 11h8m-3 2h8m1-7h8m-3 8h8m-7 8h8m-8-9h8m-6-13h8m-7 20h8m-7 10h8m-1 2h8m-3-29h8m-3 26h8m1-10h8m-4-4h8m-6 2h8m7 11h8m-7-10h8m-115 26h8m2 14h8m-5 10h8m-6 3h8m-3-37h8m-1 0h8m-4 17h8m-3-4h8m-8 20h8m-5-14h8m-6 14h8m-6-5h8m-4-6h8m-6 10h8m-7-14h8m-4-3h8m-3-8h8m-1-1h8m-8 12h8m-7-9h8m-7 12h8m-5-19h8m-8 15h8m-7-3h8m-4 6h8m-8 5h8m-8 9h8m-4-28h8m-5 11h8m-7-1h8m-7 16h8m-8-7h8m-7 7h8m-5 6h8m-6-25h8m-5-2h8m-7-3h8m-4 24h8m-5-11h8m-6 1h8m-5-4h8m-8 6h8m-7-24h8m-6 3h8m-8 22h8m4 13h8m-3-8h8m-1-5h8m7-1h8m2-8h8m-626 39h8m-3 9h8m8 4h8m-7 3h8m-3-1h8m-7-5h8m-3 2h8m-8-4h8m-1 10h8m-7-14h8m1 12h8m-8-3h8m-7-5h8m-4 6h8m-4-17h8m-6 23h8m-6-2h8m-7-6h8m-3-15h8m-7 23h8m1-18h8m-6 16h8m-6-13h8m-8 2h8m-7-8h8m-7 8h8m-7 9h8m3 5h8m22 1h8m328-16h8m-3-10h8m-1 7h8m0 19h8m-7-38h8m-7 8h8m-7 3h8m-4 0h8m-7-10h8m-6 10h8m-7-2h8m-1 22h8m-7-31h8m-7 16h8m-8 2h8m-7-14h8m-7 35h8m-8-30h8m-8 4h8m-7 13h8m-6 1h8m-7-10h8m-7 16h8m-7-19h8m-8 12h8m-7-2h8m-5-11h8m-7 23h8m-4-18h8m-7-3h8m-7 13h8m-8 11h8m-7-23h8m-6-1h8m-7-1h8m-7 16h8m-7-12h8m-8-7h8m-8 19h8m-6 3h8m-8-27h8m-6 2h8m-7-8h8m-7 5h8m-7 19h8m-8-4h8m-7-3h8m-6 0h8m-7-5h8m-7-1h8m-5-3h8m-6-7h8m-8 26h8m-6-25h8m-8 8h8m-8 1h8m-7-5h8m-5 20h8m-7 0h8m-7-9h8m-8-6h8m-4 25h8m-7-12h8m-6 7h8m-2-15h8m-3-3h8m-7 26h8m-3-37h8m-4-1h8m-7 2h8m1 29h8m3-17h8m-1 20h8m-7-27h8m-602 44h8m-4 1h8m-4 3h8m-8 7h8m-4-20h8m-5 13h8m-7 7h8m-8-16h8m-6 14h8m-8-4h8m-7 15h8m-8-30h8m-6 18h8m-8-20h8m-7 3h8m-6 26h8m-4-10h8m-8-10h8m-6-4h8m-7 0h8m-5 9h8m-8-1h8m-6-6h8m-7-6h8m-6 23h8m-6-1h8m-7-20h8m-7 4h8m-8 21h8m-7-20h8m-7 14h8m-7 12h8m-7 2h8m-6-7h8m-3-8h8m-6 9h8m-8-6h8m-7-20h8m-8 5h8m-7 25h8m-8-27h8m-7 8h8m-7-2h8m-8 4h8m-6-10h8m-8-2h8m-7-4h8m-6 18h8m-7 4h8m-5-17h8m-8 20h8m-7 9h8m-7-11h8m-7-13h8m-7 18h8m-8-24h8m-7 5h8m-6 24h8m-6-28h8m-5 11h8m-7 0h8m-8-11h8m-7 31h8m-7-25h8m-7 16h8m-7-9h8m-4-17h8m-4 36h8m-7-38h8m-5 29h8m-8 5h8m-5 4h8m-8-25h8m-8-13h8m-3 37h8m-4 1h8m-2-16h8m-5 0h8m-3 13h8m-5-15h8m-4 8h8m0-3h8m-3 3h8m-5-16h8m2 24h8m-1-7h8m-6 10h8m266-3h8m-7-8h8m11 6h8m-7 4h8m2-14h8m-2-5h8m-6-4h8m-5 8h8m-6 9h8m-5-23h8m0-6h8m-1 23h8m-8-25h8m-6 1h8m-7 33h8m-7-12h8m-3-15h8m2 18h8m-4-17h8m-6-9h8m-8 9h8m-5 17h8m-8-10h8m-5 16h8m-4-22h8m-7 14h8m-7-10h8m-7-3h8m-6 17h8m0 10h8m-3-13h8m-4-16h8m-7 18h8m-3 5h8m-4-27h8m3 19h8m2 13h8m-5-15h8m-6-10h8m-6 17h8m-7-1h8m-6-6h8m-8-1h8m-7-6h8m-1 0h8m-8 13h8m-7-1h8m-3-4h8m-6 7h8m-7-2h8m-573 12h8m12 0h8m33 17h8m9-2h8m-7-8h8m-7 6h8m-5 23h8m-5-30h8m-2 16h8m-3-4h8m-8 18h8m-6-24h8m1 12h8m5-8h8m-2 4h8m-7-5h8m-3 16h8m-1-16h8m-1-2h8m-7 26h8m9 0h8m-7-1h8m193-1h8m-4-21h8m-7-8h8m-7 24h8m-6-29h8m-5 23h8m-7 0h8m-7-7h8m-2 13h8m-7-23h8m-6 21h8m-8 9h8m-6-38h8m-6 26h8m-7-20h8m-8 19h8m-7-13h8m-4-9h8m-8 6h8m-3 13h8m-8-13h8m1 13h8m-7 6h8m-5-9h8m-5-5h8m-5-8h8m-8 2h8m-6 2h8m-8 28h8m-5-6h8m-7-27h8m-8 20h8m-2 1h8m-6 8h8m-8-25h8m-4 25h8m-8-18h8m-4 17h8m-5-1h8m-3-15h8m-5-9h8m-1 5h8m-2-9h8m-5 20h8m-6 9h8m-1-8h8m-1 12h8m-4-35h8m0 9h8m-5 20h8m5 3h8m-7-16h8m-3-4h8m-6 4h8m-7 15h8m9-2h8m-4-1h8m-7-27h8m-437 47h8m1 3h8m3 12h8m-6-21h8m-3 15h8m3-4h8m-7-14h8m-7 10h8m-8 27h8m4-26h8m-2 13h8m-4-23h8m-1 28h8m-5-11h8m5 15h8m-2-21h8m6 0h8m123 12h8m-6 9h8m-8 3h8m-8-9h8m-8-4h8m-6 0h8m-7-19h8m-7 21h8m-7-12h8m-6 17h8m-8-26h8m-6 12h8m-4-6h8m-2 17h8m-6-7h8m-8-19h8m-8 6h8m-6 11h8m-5-4h8m-6-8h8m-7-1h8m-7 0h8m-7 19h8m-7-18h8m-6 9h8m-5 8h8m-7-4h8m-6 16h8m-6-28h8m-3 14h8m-8 14h8m-6-30h8m-4 13h8m-6-8h8m-2 21h8m-8-22h8m-3 1h8m-8 22h8m-6-17h8m-7-3h8m-8 8h8m-7 2h8m-8 2h8m-5-13h8m-6 21h8m-7 2h8m-7 3h8m-6-30h8m-5 11h8m-1 0h8m-7-6h8m-7 3h8m-1 10h8m-5-18h8m11 30h8m-4-33h8m-5 18h8m-8 4h8m21-28h8m14 7h8m0 17h8m-6-11h8m-3 7h8m-4 5h8m-407 23h8m-7 4h8m6-6h8m-5 1h8m-7 1h8m5 11h8m-8 12h8m-8-4h8m-5 7h8m-7-8h8m-4 7h8m-5-1h8m-4 2h8m0 1h8m-6-8h8m-8 12h8m123-6h8m3-4h8m-4-2h8m-7-18h8m-7 18h8m-8-15h8m-6-3h8m-7 20h8m-8-28h8m-4 3h8m-8 18h8m-7 11h8m1-4h8m-3-4h8m-6-14h8m-6 13h8m-4 9h8m-6-30h8m-5 13h8m-7-12h8m-7 17h8m-7-13h8m-8-1h8m-3 13h8m-6-2h8m-7-4h8m-7 15h8m-7-26h8m-4 3h8m-8 22h8m-7-21h8m-7 17h8m-7-14h8m-6-2h8m-7-4h8m-8 14h8m-6 1h8m-8-12h8m-7 16h8m-4-11h8m-7 24h8m-4-30h8m-7 0h8m-7 13h8m-5-15h8m-5 35h8m-6-30h8m-7 2h8m-6 0h8m-8 18h8m-7 8h8m-6-1h8m-6-34h8m-7-2h8m-2 22h8m-6 16h8m-5-7h8m-8-7h8m-5-18h8m-7 5h8m-1-6h8m-6 28h8m-6 3h8m-2-26h8m-5-2h8m-2 8h8m-3 2h8m-7-2h8m5-4h8m-7 8h8m-3 4h8m-3-11h8m-6 14h8m-7-23h8m-7 25h8m-8 10h8m-7-29h8m-7 20h8m-6-25h8m-8 29h8m-7-20h8m1 4h8m-6-7h8m-5 16h8m8-24h8m3 32h8m-630 23h8m-1 12h8m-7-1h8m-3 3h8m205-26h8m29 0h8m-6-5h8m-6-1h8m-7 10h8m-4 2h8m-7 5h8m-7-1h8m-5-12h8m-7 15h8m-6 11h8m-7-13h8m-5 3h8m-5 3h8m-7 2h8m-6 2h8m-6-5h8m-4 12h8m-6-5h8m-8 1h8m-5-2h8m-1-2h8m-5 13h8m62-36h8m-5 13h8m-6 9h8m0-16h8m-4-5h8m-5 24h8m-4 3h8m-8-19h8m-8 9h8m-2 9h8m-7-19h8m-4 8h8m-5-11h8m-7 0h8m-4 12h8m-7 16h8m-5-29h8m-5 18h8m-7-5h8m-8 1h8m-7-1h8m-8-9h8m-7 21h8m-5-6h8m-6 7h8m-8-5h8m-6-10h8m-5-14h8m-7 33h8m-8-29h8m-8 18h8m-7 8h8m-7 5h8m-4-4h8m-5-19h8m-7-7h8m-7 7h8m-7 12h8m-7 3h8m-8-17h8m-4 20h8m-7-30h8m-7-3h8m-7 27h8m-8-27h8m-6 35h8m-5-26h8m-7-3h8m-6 11h8m-5 9h8m-3-20h8m-7-5h8m-7 20h8m-8-20h8m-8 17h8m-5-1h8m-7-14h8m-7 35h8m-4-21h8m-6 17h8m-7-1h8m-6 4h8m-6-13h8m-6-25h8m-6 2h8m1 31h8m-6-21h8m-8-9h8m-3 0h8m-7 6h8m-5 3h8m-7 0h8m14 0h8m-7 15h8m-1 0h8m-8-17h8m-5-5h8m1 24h8m-4-25h8m8 20h8m4-13h8m-7 4h8m-3-2h8m-6 22h8m-3-14h8m-4 13h8m-6-34h8m-7 13h8m-2 13h8m10-10h8m-629 29h8m31 25h8m-1 7h8m4 2h8m-7 0h8m-7-5h8m-4 4h8m0-9h8m-6-13h8m189 1h8m8-13h8m-1 6h8m-7 3h8m-7-6h8m-5 1h8m-8-8h8m-5 15h8m-6-15h8m-6 9h8m-1 7h8m-6 0h8m-8-9h8m2 16h8m-7 3h8m-6 6h8m-8 3h8m-8-9h8m-3 8h8m37-13h8m-5-1h8m-4-16h8m-7 15h8m-7 16h8m-2-1h8m-3-15h8m-6-6h8m-8-5h8m-6 4h8m-2 3h8m-4 19h8m-7-13h8m-8 7h8m-8-8h8m-7-18h8m-4 10h8m-7-6h8m-6 0h8m-3 1h8m-7-3h8m-5 29h8m-7 3h8m-7-2h8m-2-4h8m-4-2h8m-2-19h8m-4 8h8m-5 19h8m-2-25h8m-3 19h8m-4-10h8m4 3h8m-6-18h8m-2 31h8m11-7h8m-1 4h8m-4 4h8m-7-25h8m9 19h8m2-17h8m-3 11h8m-5-2h8m2-20h8m0 27h8m2-8h8m-6-3h8m-7 2h8m0 15h8m-5-7h8m-5-24h8m-8 29h8m-3-1h8m-6-27h8m19 32h8m22-5h8m-632 8h8m-7 14h8m2-7h8m2 4h8m-6 0h8m-7-10h8m-2 1h8m-7 14h8m-4-3h8m113 18h8m-5 4h8m-6 1h8m-4-6h8m-3 2h8m-8 0h8m125-30h8m4 21h8m-5-7h8m-5-7h8m-3 3h8m-8 3h8m-7 0h8m-6 6h8m-8 1h8m6 4h8m3 5h8m-2-32h8m-7 11h8m-6 10h8m-4-21h8m-4 26h8m-2 12h8m-4-24h8m-8-6h8m-8 11h8m-5-18h8m-8 22h8m-2-3h8m-7 10h8m-5-13h8m-3 2h8m-7 3h8m-3-20h8m-5 21h8m-3 3h8m-5 4h8m-6 5h8m2-23h8m0-6h8m-8 6h8m-7 8h8m-8 19h8m-7-28h8m-5-10h8m-5-1h8m-6 24h8m0-10h8m-7 14h8m-7-21h8m-7 31h8m-6 0h8m-8-6h8m-3 4h8m0-12h8m-4-22h8m-7 9h8m-6-8h8m-8 28h8m-8-8h8m-6 10h8m-8-29h8m-7 33h8m-7-19h8m-6 17h8m-5-11h8m-8-7h8m-7-11h8m-8 13h8m-7 15h8m0-8h8m-7-6h8m-6 0h8m-2 13h8m-8-9h8m1-15h8m-8-4h8m1 15h8m-7 0h8m-5 9h8m-7-10h8m-7 13h8m-8-31h8m-4 3h8m-7 15h8m-4 8h8m5-13h8m2 19h8m-8-30h8m-6 3h8m-8 22h8m-8 2h8m-6-3h8m-4 5h8m2-19h8m-6 5h8m-8-13h8m-7 7h8m-3 18h8m-4-10h8m-4-14h8m-7 23h8m-7-18h8m-1 17h8m-6 4h8m-6 2h8m-6 4h8m-7-13h8m-1-18h8m-7 6h8m-5-10h8m-3 10h8m-7 21h8m-7-16h8m-4 5h8m-5 9h8m-5-15h8m-8 5h8m-8-11h8m-5 5h8m-4 13h8m-7-12h8m-6 21h8m-8-7h8m-7-11h8m-7 19h8m-7-14h8m-7 2h8m-8 2h8m-8 2h8m-6-30h8m-6 34h8m-6-24h8m-7 21h8m-8-22h8m-7 28h8m-3-10h8m-7 3h8m-7-17h8m-7 22h8m-7 0h8m-7-1h8m-8 4h8m-5-19h8m-4-4h8m-6-2h8m-7 22h8m-3-6h8m-8-27h8m-8 26h8m-5 2h8m-7-13h8m-4 1h8m-7 0h8m-5-6h8m-7 19h8m-8 2h8m7 3h8m-7-3h8m-7-22h8m6 17h8m38-20h8m-804 62h8m-6-3h8m-4-8h8m-6 13h8m3-7h8m-4-5h8m119 18h8m-8-4h8m-5-21h8m-2 10h8m-6-5h8m-6 16h8m-2-24h8m-5 28h8m-3-36h8m-6 24h8m-4-24h8m-2 6h8m-4 17h8m-6-24h8m-8 3h8m-7-3h8m-1 23h8m-7-17h8m162-4h8m-6 22h8m-5-12h8m-6 8h8m-3 1h8m-3-17h8m-8 30h8m-7-24h8m-8-10h8m-7 9h8m-7-11h8m3 33h8m-8-15h8m-6 17h8m-1-30h8m-6 26h8m-6 3h8m-5-19h8m-8 18h8m-6 5h8m-8-27h8m-3 28h8m-6-11h8m-6-22h8m-8 16h8m-7-16h8m2 29h8m-8-9h8m-4-22h8m-6 5h8m-7-1h8m-5 1h8m1 4h8m-8 18h8m-3-6h8m-5 4h8m-7 4h8m-4-32h8m-5 21h8m-5 3h8m-7-23h8m2 23h8m-5-17h8m-8 17h8m-4 13h8m-8-32h8m-5 18h8m-7-17h8m-5 19h8m-6-1h8m-8 10h8m-7-6h8m-8-11h8m0 16h8m-1-20h8m-1-7h8m-3 6h8m-7 21h8m-8-22h8m-6 20h8m-4-25h8m-6 27h8m-5-33h8m-5 13h8m-8 2h8m-3 12h8m-7-1h8m-6-3h8m-2-16h8m-3 24h8m-5-27h8m-6 9h8m-7 10h8m-6-3h8m-3-16h8m-6 6h8m-7 14h8m-6-9h8m-7-11h8m-7 30h8m-6-17h8m-7 0h8m0-10h8m-5 31h8m-6-33h8m-8 5h8m-6-9h8m-8 28h8m2-15h8m-7 19h8m-6 2h8m-5-23h8m-8 1h8m-8 6h8m-1-8h8m-6 23h8m-6-15h8m-7-10h8m-6 6h8m-5-10h8m-3-6h8m-8 27h8m-7-6h8m-7-8h8m-5 20h8m-7 0h8m-5-15h8m-6 7h8m-3-9h8m-6 12h8m-7 0h8m-6-6h8m-7 2h8m-7-16h8m-7 18h8m-7-26h8m-6 18h8m-6-8h8m-8-1h8m0-9h8m-8 26h8m-8 13h8m-7-29h8m-7 9h8m-5-9h8m-8-5h8m-7 18h8m1-19h8m-7-2h8m-5 4h8m-7 8h8m-6 24h8m-5-36h8m-4-2h8m-7 3h8m-7 8h8m-7-8h8m-6 5h8m-7 4h8m-6 2h8m-7-13h8m-8 3h8m2 25h8m-2 0h8m-6-24h8m-3 18h8m-3-6h8m0-13h8m-3 1h8m54 29h8m26 2h8m-1 1h8m12-2h8m1-14h8m-791 56h8m-1-35h8m3 24h8m-4-17h8m-6 20h8m-4-15h8m-6 22h8m4 0h8m-6-3h8m-7 0h8m-8 5h8m-1-14h8m2 9h8m-7-13h8m-5-4h8m-2 20h8m-8-6h8m-7 0h8m-6-13h8m-8 17h8m-7-21h8m-7-10h8m-7 33h8m-8-29h8m-6 12h8m-6-5h8m-4 2h8m-5-14h8m-1 35h8m-7-30h8m-2 6h8m-7 19h8m-3-20h8m-7 5h8m-4 20h8m-5-17h8m-5 3h8m2 8h8m136-16h8m4-9h8m-5-5h8m-8 19h8m-7 19h8m-7-31h8m-7 14h8m-5-19h8m-7 6h8m-5 16h8m-3-25h8m-6 31h8m-4-2h8m-8-19h8m-5 1h8m-7 17h8m-8 6h8m-6-16h8m-7 21h8m-7-22h8m-8-6h8m-7-5h8m-8 30h8m-5-4h8m-4 2h8m-7 0h8m-8-15h8m-4 5h8m-8-11h8m-8 22h8m-7-1h8m-7-14h8m-7-9h8m-7-6h8m-5 12h8m-6 8h8m-7 5h8m-8-25h8m-8 29h8m-6-24h8m-7-4h8m-7 2h8m-6 13h8m-6-20h8m-6 13h8m-8-2h8m-5 25h8m-5-6h8m-5-18h8m-8 10h8m-4-7h8m-5-14h8m-7 26h8m-6-17h8m-6 2h8m-6-8h8m-4 9h8m0-4h8m-2-5h8m-4 29h8m-5-14h8m-3-11h8m-6 18h8m10-18h8m-8 22h8m2 8h8m-6-23h8m-7 6h8m-4-13h8m2 0h8m-4 7h8m-1 10h8m-6 1h8m-4-2h8m-2-18h8m-6 9h8m3 13h8m3-15h8m-8-14h8m-3 21h8m-3 0h8m-4 10h8m-1-20h8m-7 21h8m-1-26h8m-6 30h8m-8-3h8m-5-33h8m-6 12h8m-1 10h8m-2-17h8m-5 7h8m-7-4h8m-7 24h8m-6 2h8m-5-27h8m-6 19h8m-7-16h8m-1 14h8m-5-7h8m-3 12h8m-6-14h8m-7 4h8m7-14h8m4 13h8m-7 0h8m-3 1h8m-7 12h8m-4-8h8m-4-13h8m-2-5h8m-2-2h8m-7-3h8m22 26h8m1-5h8m-8 3h8m-6 0h8m-8 15h8m6-34h8m-4 34h8m-7-10h8m-7-21h8m-8 1h8m-2 19h8m-7-18h8m-8 21h8m1-17h8m-1-8h8m-2 9h8m-5-10h8m-5-2h8m-7 15h8m-7 17h8m-7-18h8m-7 11h8m-8-27h8m-7 22h8m-7 12h8m-2-18h8m2-16h8m-3 34h8m-6-17h8m-8-1h8m-7 8h8m-5-16h8m-5-1h8m-1 29h8m-6-8h8m-5-20h8m16 8h8m-924 53h8m-7-1h8m-8-1h8m106-28h8m-6 3h8m-4 21h8m10-10h8m-8 9h8m-7-7h8m-8 11h8m-4-8h8m-6-2h8m-4-10h8m-5 24h8m-7-11h8m-6 5h8m-6 1h8m-8-6h8m-5-19h8m-8 19h8m-7-12h8m-6-8h8m-8 3h8m-6 36h8m-7-21h8m-7-10h8m-7-5h8m-7 3h8m-8 22h8m-5-9h8m-7 8h8m-6-20h8m-7 0h8m-7 9h8m-8 16h8m-7-21h8m-7 4h8m-7-10h8m-7 9h8m-7 7h8m-6 8h8m-8-17h8m-6 8h8m-7 13h8m-6-18h8m-6 19h8m-7-17h8m-7-5h8m-7 18h8m-7 7h8m-7-19h8m-3-17h8m-7 33h8m-5-7h8m-5-3h8m-5 1h8m1-13h8m-5 21h8m-4-30h8m2 36h8m1-37h8m-5 2h8m-6 5h8m-8-1h8m0-1h8m-7-7h8m-7 14h8m-7 11h8m-7-2h8m1-16h8m-3 10h8m-6 5h8m6-20h8m-7 23h8m0 7h8m1-18h8m9-8h8m74 22h8m-4 1h8m-3-9h8m-7 14h8m-2-1h8m-4-33h8m-8 33h8m-5-23h8m-7 9h8m-5-5h8m-7 15h8m-3 0h8m-7 7h8m-6-26h8m-7 25h8m-8-17h8m-7-14h8m-5 20h8m-8-20h8m-7-2h8m-8 1h8m-7 30h8m-6 2h8m-7-23h8m-7 13h8m-5 6h8m-5-25h8m-4 15h8m-2-21h8m-7 8h8m-2 12h8m-8 17h8m-7-25h8m-4 21h8m-7 4h8m-3-7h8m8-17h8m1 16h8m-3-22h8m-6 16h8m-7-23h8m-6 19h8m-8 14h8m-6 5h8m-4-22h8m-7 19h8m-1 0h8m-7-32h8m-2 26h8m-7-29h8m-3 5h8m-1 27h8m-6-12h8m3 6h8m-5 6h8m-7-14h8m-6-13h8m-6 27h8m-5-3h8m-2-6h8m-2 5h8m3-9h8m2-13h8m-8 33h8m-5-36h8m-2 23h8m-5-9h8m-5-8h8m2 23h8m-5-21h8m-5 24h8m-2-24h8m-6 17h8m-7-9h8m-2-13h8m-1 5h8m5-5h8m1 19h8m0 1h8m-4 10h8m-6-7h8m-2-5h8m-4 12h8m-6-7h8m-4 9h8m-5-26h8m3 5h8m-6 4h8m-2-13h8m2 30h8m-2-32h8m5 1h8m2 9h8m-3 18h8m-1-26h8m-6 4h8m12-1h8m-3 12h8m-1-8h8m-5-15h8m-7 2h8m-5 15h8m-6 12h8m-8-23h8m-6 1h8m-2 0h8m-6 18h8m-5-2h8m-7 16h8m-6-37h8m-7 24h8m-7-9h8m1-15h8m-2 10h8m6 16h8m-6-12h8m-7 17h8m6-16h8m-8 6h8m-937 42h8m0-6h8m-3-14h8m-6-4h8m36 12h8m27 23h8m43-8h8m27-27h8m-5 12h8m-4 8h8m-6-7h8m-5 13h8m-7-24h8m-6 21h8m-5-20h8m-8 15h8m-7-19h8m-5 14h8m-4-11h8m-6 23h8m-4-26h8m-6 5h8m-8 13h8m-4 21h8m-7-21h8m1 1h8m-2-19h8m-3 23h8m-7-15h8m-2 24h8m-7-27h8m-8 30h8m-2-10h8m195-21h8m-5 19h8m3-11h8m0-7h8m-3-2h8m-5 20h8m-1-16h8m1 29h8m-4-21h8m-7-4h8m-8-8h8m-4 14h8m-6 9h8m-8 8h8m-2-26h8m-4 5h8m-6 12h8m-4-1h8m-7-19h8m-7 4h8m-4 12h8m-8-21h8m-7 35h8m-8-9h8m-8-21h8m-7 17h8m-5-8h8m-7 25h8m-5-30h8m-8-2h8m-6 11h8m-3-17h8m-5 36h8m-7 2h8m-6-27h8m-6 13h8m-3 4h8m-7 7h8m-3-10h8m-5-22h8m1 18h8m-6-2h8m-7-12h8m-8 11h8m-3 17h8m-8-17h8m-2-2h8m-7 19h8m-6-10h8m-3 2h8m-8-21h8m-7 13h8m-7 0h8m-6 4h8m-5-12h8m-4 24h8m-5-14h8m-4 13h8m-4-5h8m-4 6h8m-6-7h8m-7-9h8m-7 16h8m-6-27h8m-6 28h8m-6-23h8m-3-12h8m-4 8h8m-8 13h8m-7 12h8m-6-1h8m-8-24h8m-6 7h8m-6-11h8m-3 14h8m-6 6h8m-6-23h8m-6 36h8m1 0h8m-7-15h8m5 4h8m6 10h8m36-31h8m7 5h8m3 12h8m6 12h8m-7-9h8m0-14h8m-4 22h8m-7-28h8m-4 6h8m-4 24h8m-7-9h8m1-13h8m3 19h8m9-25h8m-2 25h8m-5-7h8m-7-17h8m2 29h8m25-26h8m-2-11h8m-6 24h8m-2 11h8m-6-34h8m-7 8h8m4 3h8m-3 23h8m-2-2h8m-974 28h8m-6-9h8m-7 3h8m189 8h8m-7 10h8m30-10h8m314 3h8m-4-6h8m-5 11h8m-7-5h8m-2-13h8m1-10h8m-7 21h8m-6 5h8m-7 7h8m-7-21h8m-2-4h8m13-9h8m-8 33h8m-8-33h8m-5 8h8m-7 17h8m-5 5h8m-5 1h8m-7-25h8m-7 12h8m-6 6h8m-8-11h8m4-12h8m-7 27h8m-5-27h8m0 9h8m-8 6h8m-8-6h8m-8-10h8m-7 30h8m-7-14h8m-6-17h8m-6 15h8m-6 18h8m-6-14h8m-4 7h8m-4 4h8m-6-17h8m-3 13h8m-7-28h8m-7 18h8m0 4h8m-6 14h8m-6-26h8m-7 5h8m-5 1h8m-6 4h8m-2 15h8m0-32h8m-7-1h8m-8 25h8m-8-13h8m-6-10h8m4 14h8m-5-11h8m-6 6h8m-7 24h8m-6-14h8m3-1h8m1 5h8m15 5h8m5-11h8m-6-14h8m-7 14h8m-8 12h8m8-24h8m-4 12h8m-3 0h8m-3 0h8m-1-5h8m-7 11h8m-7-13h8m5 9h8m3 14h8m-3-22h8m-4 4h8m11 10h8m-3-10h8m-3-13h8m-5 13h8m-2 8h8m-8-25h8m3 20h8m-5 9h8m-2-3h8m11-25h8m-8 33h8m4-32h8m-8 26h8m-8-29h8m-7 4h8m-2 32h8m-5-20h8m-454 54h8m0-12h8m2-10h8m-6 1h8m-6 11h8m-7 13h8m-7-6h8m-3-21h8m-6 31h8m-8-9h8m-6 7h8m-8-8h8m-5 5h8m1 0h8m-8 0h8m-7-2h8m-7-22h8m-7 26h8m-7-20h8m-7 18h8m-8-12h8m-8 6h8m-7-18h8m-7 16h8m-6-3h8m-6 12h8m-5 1h8m-8 3h8m-8-25h8m-6-7h8m-8-6h8m-7 11h8m-7 23h8m-3-33h8m-7 24h8m-6 11h8m-7-11h8m-8 13h8m-7-33h8m-8 16h8m-5 16h8m-7-16h8m-6-16h8m-5 32h8m-8-2h8m-6-10h8m-6 4h8m-7-12h8m-7-17h8m-8 8h8m-7 29h8m-6-22h8m-7 18h8m-4-25h8m-7 30h8m-2-35h8m-4-2h8m-6 26h8m-7 9h8m-7-4h8m-6-23h8m-5 19h8m-6-24h8m-1 0h8m-3 11h8m-8 5h8m-6-18h8m-4 24h8m-7 9h8m-4-13h8m-5-21h8m-2 9h8m-8 27h8m-3-21h8m-7-8h8m-7 9h8m-6-8h8m-3 10h8m-2-2h8m-8-2h8m-7-9h8m-5 21h8m-7-11h8m-8 3h8m-2-1h8m-4-8h8m-7 5h8m-1 7h8m-6-4h8m-4 14h8m-3-30h8m-5-3h8m-7 24h8m-4-11h8m-4 22h8m-7-32h8m-4 3h8m-6 30h8m-6-5h8m-8-8h8m-5 10h8m-5-12h8m-8-2h8m-8 6h8m-7 5h8m-8-13h8m-7 16h8m-7-22h8m-7 27h8m-8-24h8m-4-13h8m-5 14h8m-6 13h8m-5 5h8m-6-4h8m-8-18h8m-2 1h8m-8 24h8m-2-1h8m-4-20h8m28 8h8m8-18h8m-7-2h8m20 17h8m-5-11h8m-7-6h8m1 1h8m-6 31h8m-4-33h8m1 10h8m-4 25h8m7-1h8m12-24h8m-7 13h8m2-18h8m-2 7h8m-7 12h8m2-26h8m-7 31h8m-5-15h8m10 22h8m-1 1h8m-3-27h8m14 26h8m-498 21h8m-6-3h8m-5-8h8m-8 13h8m-6-1h8m-7-14h8m-8 5h8m-7 18h8m-5-12h8m-5-11h8m-8 24h8m-6 7h8m-7-32h8m-5 24h8m-5-18h8m-7 22h8m-7 4h8m-8-20h8m-8 1h8m-7-6h8m-2 13h8m-7 6h8m-6-31h8m-8 4h8m-5 9h8m-6-2h8m-4-9h8m-8 2h8m-6 30h8m-3-27h8m-8 4h8m-8 10h8m-7 0h8m-8-7h8m-5-11h8m-5 2h8m-8-5h8m-6 26h8m-6-10h8m-8 6h8m-4 15h8m-7-12h8m-8 8h8m-7 6h8m-8-20h8m-7 5h8m-7-16h8m-8 2h8m-8 27h8m-5-28h8m-7-7h8m-7 24h8m-5 10h8m-8 3h8m-4-13h8m-7 3h8m-8-20h8m-8 1h8m-7 15h8m-8-18h8m-7 24h8m-8-3h8m-7 5h8m-7-20h8m-7 26h8m-6-7h8m-7-7h8m-6-16h8m-7 22h8m-3-12h8m-6-19h8m-7 39h8m-7-3h8m-2-19h8m-6 12h8m-8-19h8m2-4h8m-5 8h8m-7-9h8m-6 1h8m-3 25h8m-6-17h8m-7 17h8m-7-9h8m-8-7h8m-7 5h8m-1 16h8m-6-6h8m-5-17h8m-5 17h8m-3-29h8m-6 30h8m-8-25h8m-4 2h8m-7 18h8m-7 6h8m-6-23h8m-8 18h8m-5-2h8m-7 9h8m-7-6h8m-7 5h8m-5-22h8m-5 24h8m-7-14h8m-6-9h8m-8 23h8m-7-2h8m-2-1h8m-5-9h8m-7-6h8m-4-16h8m-3 17h8m-8 2h8m-7 7h8m-8-9h8m-5 2h8m-4 12h8m-6-28h8m-7 3h8m-7 20h8m-7-2h8m-7 12h8m-6-19h8m-8-4h8m-6 2h8m-6 4h8m2 10h8m-8 9h8m-7-21h8m-8 6h8m-3-23h8m-8 6h8m-5 21h8m-4-13h8m-4-13h8m-7 15h8m-7 22h8m1-13h8m-7-8h8m-8 18h8m1-15h8m-7 12h8m-4-6h8m-8-5h8m13-15h8m0 9h8m-6 6h8m-2 10h8m-5-10h8m-3-6h8m-7 9h8m-4 12h8m0-18h8m-4 18h8m-7-3h8m-6-8h8m-6-17h8m-3 22h8m-5-24h8m3 28h8m-7 4h8m-7-12h8m1-4h8m-2-4h8m9-1h8m-8-11h8m-3 23h8m11-30h8m6 33h8m9-20h8m5 3h8m-2 5h8m4 8h8m-8-26h8m-3 12h8m-5 20h8m16 1h8m-919 40h8m-5-1h8m-6-13h8m-7 1h8m-8 15h8m-4-10h8m-5 1h8m-8-11h8m-8 5h8m319 16h8m24-23h8m16-14h8m-7 14h8m-6 16h8m-5 1h8m-8-25h8m2-3h8m-8 12h8m-7 2h8m-7 0h8m-6 4h8m-8 1h8m-5 5h8m-8-27h8m-7 24h8m-7 11h8m-8-33h8m-7 33h8m-8-12h8m-7 9h8m-3-20h8m-7-9h8m-5 10h8m-7-7h8m-4-4h8m-8 27h8m-8-22h8m-6-8h8m-5 24h8m-8-23h8m-6 20h8m-8-15h8m-5 10h8m-6-5h8m-8 12h8m-5 2h8m-5-2h8m-8 4h8m-2-18h8m-7-5h8m-7 0h8m-5-2h8m-2-2h8m-6 31h8m-8-18h8m-6 25h8m-6-38h8m-7 32h8m-8-19h8m-6 19h8m-8-24h8m-7 7h8m-6 8h8m-7 2h8m-8 0h8m-7-19h8m-8 29h8m-7-28h8m-8-2h8m-7 29h8m-7-7h8m-5-20h8m-5 9h8m-8-15h8m-7 16h8m-5 0h8m-7-1h8m-2 0h8m-7 21h8m-8-25h8m-7-13h8m-8 16h8m-3-14h8m-5 18h8m-7 15h8m-8-19h8m-5 15h8m-5-12h8m-8 16h8m-7-25h8m-8 20h8m-7-4h8m-6 9h8m-7-26h8m-6 28h8m-7-17h8m-8 16h8m-8-34h8m-8 34h8m-7-2h8m-7-33h8m-8 4h8m-7 24h8m-8-17h8m-3 7h8m-8 16h8m-5-19h8m-8 23h8m-6-20h8m-5 4h8m-6 16h8m-6-9h8m-6 3h8m-5-14h8m-7 8h8m-8-15h8m-4 14h8m-7 12h8m-5-10h8m-8-24h8m-5 31h8m-6-26h8m5 13h8m-7-5h8m-6 4h8m-6 14h8m-5-4h8m-7 1h8m-5 1h8m-6-10h8m-8 10h8m-6 2h8m7-2h8m0 4h8m-7-17h8m-8 12h8m-5-29h8m-6 30h8m-6-3h8m-6-15h8m-3 10h8m-7 2h8m-1 7h8m-4-28h8m-4 12h8m-5 21h8m-8-9h8m-2-8h8m-7 14h8m-8-21h8m-4-4h8m-8 18h8m-7-14h8m-7-15h8m-2 8h8m-7 6h8m-2 3h8m-3 17h8m-7-20h8m7 3h8m-4-4h8m-2-11h8m0 35h8m16 1h8m-1 1h8m-5-30h8m2 25h8m-5-28h8m7 15h8m-6 17h8m-7-28h8m-8 16h8m-7-25h8m-1 1h8m-7 22h8m2-20h8m7 35h8m30-23h8m-7 13h8m-6-19h8m-6-1h8m1 9h8m-6 16h8m-7-18h8m-4 9h8m-6-18h8m3 4h8m1-10h8m-2 23h8m-4-8h8m-3 22h8m-2-22h8m-7-2h8m-7 23h8m-934 3h8m3 0h8m10 16h8m117 22h8m16-2h8m206-26h8m-2 22h8m-7-7h8m-6 10h8m-4-3h8m-5-6h8m-6-7h8m-7 16h8m-1-11h8m-3 5h8m-8-2h8m-6-9h8m-7-2h8m-7-4h8m-5 27h8m-3-14h8m-8 10h8m-7-20h8m-7 10h8m-4-20h8m-7 11h8m-6 6h8m-8 17h8m-1-25h8m-7-12h8m-7 22h8m-8 9h8m-7-27h8m-7 10h8m-7 8h8m-8 11h8m-7-26h8m-8 23h8m-8-17h8m-7 20h8m-8-25h8m-3-7h8m-8-1h8m-7 27h8m-4 6h8m-6-4h8m-8 6h8m-7-13h8m-7-22h8m-8 6h8m-7 17h8m-7 2h8m0-20h8m-8-4h8m-7-2h8m-7 33h8m-8-7h8m-7-22h8m-7 20h8m-4 13h8m-8-1h8m-7-35h8m-6 7h8m-6-4h8m-7 26h8m-7-1h8m-7-4h8m-6 13h8m-8-9h8m-6-8h8m-6-3h8m-7-5h8m-8-14h8m-8 2h8m-7 37h8m-8-1h8m-8-21h8m-7-14h8m-6 17h8m-6-11h8m-6 13h8m-7-15h8m-7 15h8m-5-22h8m-8 25h8m-3-11h8m-7 9h8m-4 6h8m0-15h8m-8-10h8m-7 24h8m-7-12h8m-5-7h8m-8 18h8m-8-2h8m-8-13h8m-5 7h8m-8 10h8m-6-16h8m-6 0h8m-8 20h8m-4-4h8m-6-1h8m-7-20h8m-5 31h8m-6-34h8m-5 29h8m-8-13h8m-7 12h8m-2-20h8m-5 21h8m-7-21h8m-2 21h8m-8 5h8m-4-35h8m-6-1h8m-2 3h8m-8 22h8m-5 8h8m-5-7h8m-7 3h8m-7-13h8m-5 10h8m-6-11h8m-5 2h8m-7-11h8m-4-2h8m-7-5h8m-5-2h8m-6 36h8m-6-1h8m-3-22h8m-5 19h8m-2-2h8m-4-18h8m-4 7h8m-7 4h8m-5 2h8m-8 4h8m-6 9h8m-5-27h8m-7-11h8m-4 36h8m-7 2h8m-7 1h8m-5-29h8m-7 26h8m-7-25h8m1-4h8m-5-3h8m0-4h8m-7 20h8m-8 9h8m-6-20h8m-6 25h8m6-30h8m10-2h8m29 1h8m-7 7h8m-4 21h8m2-6h8m7 4h8m-3-18h8m-7 12h8m9-7h8m41-16h8m-8 23h8m-3 15h8m-4-27h8m0 28h8m-7-2h8m-7-28h8m-6 12h8m-4-13h8m5 15h8m0-6h8m-7-7h8m6 12h8m0-2h8m0-13h8m-957 70h8m13-9h8m14 5h8m33-7h8m45 10h8m-4-11h8m-7-3h8m-6-9h8m-4 16h8m-1-16h8m-7 22h8m-2-13h8m-7-5h8m-7-7h8m-6 23h8m-3-7h8m-7 1h8m-7 10h8m-7 0h8m-7-37h8m-7 8h8m-7 3h8m-8 4h8m-6-4h8m-7 19h8m-7-14h8m-7-13h8m-6 31h8m-6-31h8m-6 8h8m-8 20h8m-8-2h8m-7 9h8m-7-23h8m-7-6h8m-3 13h8m-7 4h8m-8 12h8m-7-30h8m-7 7h8m-3 7h8m0 15h8m140-13h8m8 14h8m1-6h8m16-31h8m-8 3h8m-5 4h8m-2 26h8m-7-25h8m-6 15h8m-6-8h8m-4 2h8m-8 1h8m-7-5h8m-6 2h8m-7 9h8m-8-4h8m-6 14h8m-7-21h8m-7 25h8m-7-17h8m-5-2h8m-8-2h8m-3-7h8m-8 9h8m-7 18h8m-8-12h8m-7 13h8m-7 0h8m-4-28h8m-6-11h8m-7 16h8m-7 20h8m-8-3h8m-6-29h8m-8 18h8m-4-3h8m-5-6h8m-7-10h8m-8 17h8m-7-17h8m-7 1h8m-7 12h8m-7 3h8m-2-8h8m-7-1h8m-8 22h8m-7-18h8m-8-4h8m-8-5h8m-7 8h8m-7 16h8m-4-19h8m-6 28h8m-8-38h8m-4 35h8m-3-34h8m-6 21h8m-8-8h8m-8 8h8m-7 3h8m-8-12h8m-7 20h8m-8-23h8m-6 11h8m-6 5h8m-6-25h8m-8 19h8m-7 10h8m-7-30h8m-7 34h8m-7-13h8m-8 6h8m-8 8h8m-5-18h8m-8 5h8m-2 10h8m-6-2h8m-7-16h8m-6 23h8m-8 2h8m-6-23h8m-7 1h8m-7-15h8m-8 32h8m-8-2h8m-7 0h8m-7-7h8m-6-18h8m-6 9h8m-6-15h8m-8 11h8m-8 23h8m-7-25h8m-6 16h8m-6-3h8m-5 1h8m-6-5h8m-8 16h8m-7-28h8m-6 29h8m-6-10h8m-8-6h8m-8-14h8m-7 14h8m-7 7h8m-7-18h8m-5 7h8m-8-7h8m-7 15h8m-5-3h8m-6-17h8m-8 35h8m-7-25h8m-8 13h8m-1-15h8m-6 10h8m-8-22h8m-7 38h8m-7-28h8m-8 9h8m-6 14h8m-7-20h8m-7 13h8m-8 6h8m-6-19h8m-8 0h8m-4 10h8m-7-17h8m-8 6h8m-7-12h8m-4 35h8m-8-21h8m-7-11h8m-8 28h8m-7-30h8m-6 22h8m-5 6h8m-7-11h8m-7-6h8m-4 12h8m-7-2h8m-5-4h8m-7-10h8m-7 3h8m-7 6h8m-6 10h8m-7-5h8m-6 8h8m-7-3h8m-8-3h8m-5 0h8m-6 5h8m-7 8h8m-2-27h8m-7-8h8m-6 2h8m-2 32h8m7-2h8m-7-25h8m-2 14h8m-5 2h8m-1 2h8m10-13h8m-7 16h8m14 4h8m117-6h8m-2-1h8m0 11h8m-4-6h8m-7 5h8m3 0h8m-5-6h8m-7-12h8m-7 2h8m-6 16h8m2-28h8m-3 2h8m-7 14h8m2 14h8m-7-22h8m-4-14h8m0 4h8m-7 27h8m5-27h8m-3 24h8m-5 0h8m-7-21h8m-7 10h8m2-17h8m-977 66h8m-3 4h8m-5-14h8m2 12h8m-7-1h8m1 2h8m0-15h8m-4-4h8m-8 11h8m-8 9h8m-7-32h8m-7 29h8m-8-23h8m-4 13h8m0 7h8m-6-21h8m-4 28h8m-7-30h8m-4 28h8m-7-24h8m-7 23h8m-8-1h8m5-18h8m-4 6h8m-5 0h8m-1 6h8m-3 0h8m29-15h8m3-8h8m18 13h8m-6-13h8m1 2h8m-1 3h8m-4 6h8m-3-6h8m-4 2h8m-7-8h8m-7 7h8m12-5h8m-1 0h8m32 18h8m0 14h8m113-5h8m-2-21h8m6 10h8m-2-12h8m-8 13h8m-6 20h8m-5-11h8m3-24h8m-5 1h8m-1 33h8m-6-15h8m-8 2h8m-4-6h8m-7-12h8m-7 1h8m-8-5h8m-7 10h8m-8 13h8m-5-8h8m-3 10h8m-6-12h8m-7 6h8m-7 1h8m-5 14h8m-6-10h8m-4-14h8m-7-11h8m-7-2h8m-6 5h8m-7 8h8m-5-13h8m-6 9h8m-8 5h8m-6 20h8m-3-24h8m-6-2h8m-7-6h8m-7 7h8m-8 20h8m-6-21h8m-8 23h8m-6 4h8m-8-32h8m-7 23h8m-5-15h8m-8 27h8m-6-15h8m-8-22h8m-7 33h8m-8-14h8m-8-6h8m-6 20h8m-7-14h8m-8 16h8m-7-8h8m-7-13h8m-4 13h8m-7-15h8m-8-2h8m-7-3h8m-7 1h8m-7 5h8m-6 15h8m-5-18h8m-8 21h8m-8-12h8m-8-15h8m-7 30h8m-8-16h8m-5 20h8m-5-33h8m-5 28h8m-6-23h8m-6 21h8m-7-24h8m-6 2h8m-8 15h8m-6 0h8m-5-1h8m-7-8h8m-8-16h8m-7 31h8m-7-29h8m-8 0h8m-7 30h8m-8-2h8m-7-15h8m-7 3h8m-8-7h8m-7 20h8m-8-19h8m-8 1h8m-5 4h8m-6 11h8m-8-9h8m-8 0h8m-2-12h8m-7 9h8m-8-1h8m-7 22h8m-8-37h8m-6 21h8m-4 0h8m-7 4h8m-6 3h8m-6-22h8m-7 18h8m-6-8h8m-7 20h8m-8-8h8m-4-19h8m-8-3h8m-3-4h8m-6 9h8m-7 18h8m-7 0h8m-6-11h8m-8-11h8m-7 14h8m-5-19h8m-8 6h8m-4 30h8m-6-3h8m-8-6h8m-5-7h8m-8-11h8m-7 21h8m-6-8h8m0-21h8m-6 24h8m-7 9h8m-7-25h8m-8 17h8m-7-13h8m-7 5h8m-6-8h8m-7 19h8m-8-30h8m-7 20h8m-6-7h8m-7-11h8m-8 34h8m-4-34h8m-4 29h8m-7 0h8m-7-8h8m-4 10h8m-5 3h8m-4-19h8m1-2h8m-4 13h8m-7-11h8m-8 16h8m1-19h8m12 12h8m-6-15h8m1 18h8m-1-10h8m-3 4h8m20 7h8m16 5h8m7 2h8m11-16h8m20 13h8m-3 4h8m-3-31h8m-5 19h8m2-1h8m0 1h8m-2-15h8m-8 17h8m-5 4h8m-5-28h8m-2 30h8m-6-21h8m-3 17h8m-5-1h8m-7-7h8m4 7h8m-4-1h8m-6-10h8m-8 7h8m-6 5h8m7 2h8m-7-16h8m1-14h8m-964 61h8m-3 12h8m-3 0h8m-3-24h8m-1 14h8m-6-4h8m-7 5h8m-8-14h8m1-11h8m-7 24h8m1 8h8m-6 3h8m-7-3h8m-8-21h8m-6 12h8m-6-5h8m-6 0h8m0 15h8m-8-17h8m-7 0h8m-1-14h8m-8 27h8m-7-13h8m-5-13h8m-5 1h8m-2 15h8m-6 8h8m-7 8h8m-5-15h8m-5 0h8m-8-1h8m-5-11h8m334 22h8m0-20h8m-3-1h8m-7 14h8m-8-18h8m-6-1h8m-4 8h8m-3 0h8m-7-8h8m-6 19h8m-6-9h8m-6 3h8m-6-11h8m-5 1h8m-7-5h8m-8 5h8m-7 5h8m-5 16h8m-6-17h8m-6 20h8m-7-17h8m-6 6h8m-3-9h8m-7-11h8m-5 3h8m-7-2h8m-7 30h8m-6 2h8m-8-33h8m-5-2h8m-5 13h8m-6-11h8m-5 27h8m-7-27h8m-8-2h8m-3 3h8m-7 6h8m-8 30h8m-6-34h8m-6-2h8m-8 18h8m-8-8h8m-7 2h8m-6 23h8m-7-34h8m-7 35h8m-6-5h8m-8 2h8m-8-12h8m-6 3h8m-6-6h8m-7-5h8m-6-9h8m-7 9h8m-7 4h8m-7 12h8m-7 4h8m-5-13h8m-5-9h8m-8 20h8m-7-1h8m-7-24h8m-8-4h8m-8-5h8m-7 31h8m-6-5h8m-7 13h8m-6-12h8m-7 10h8m-8-17h8m-6-16h8m-8 24h8m-7-4h8m-7-18h8m-5 26h8m-7 5h8m-6-35h8m-5 8h8m-6 29h8m-7-3h8m-6-3h8m-6-17h8m-8-16h8m-8 8h8m-8-3h8m-7 10h8m-8 2h8m-3 21h8m-7-31h8m-6 27h8m-8-12h8m-7-1h8m-7-3h8m-7 5h8m-6 7h8m-5-14h8m-6-9h8m-6 10h8m-7-8h8m-6 29h8m-8-19h8m-8 18h8m-8-32h8m-7 4h8m-6-3h8m-7 27h8m-4-28h8m-7 10h8m-8 16h8m-7-2h8m-7-20h8m-8 15h8m-5 6h8m-8 7h8m-6-32h8m-7 31h8m-6-8h8m-7-8h8m-5-4h8m-8 9h8m-7-14h8m-6 28h8m-4-2h8m-6-15h8m-4-10h8m-7-6h8m-7 20h8m-5 13h8m-8-20h8m-8-12h8m-5 1h8m-5-2h8m-8 8h8m-8 8h8m-7-14h8m-4-6h8m-4 30h8m-6-11h8m-6-3h8m-7-18h8m-7 4h8m2 32h8m-1-18h8m-8 12h8m0-2h8m-8-9h8m-4-19h8m-6 16h8m-5 18h8m-1-11h8m2-12h8m-7 15h8m3-15h8m-6 1h8m-5 1h8m21 13h8m2-17h8m-3 9h8m0-1h8m10 19h8m-7-1h8m13-11h8m-6 8h8m-8-23h8m-1 28h8m-5-25h8m-6 16h8m-2-5h8m-5-5h8m-8 20h8m-8-15h8m-1 2h8m-3-12h8m-2-1h8m-6 22h8m-5-23h8m-4 28h8m-3-2h8m-7-18h8m-2 5h8m-6 14h8m-6-3h8m-7-35h8m-5 13h8m-3 18h8m-4 7h8m-5-20h8m-6-16h8m-7 27h8m-2-2h8m-3-20h8m-3 31h8m3-3h8m-6-19h8m-947 51h8m-3-7h8m-3 13h8m-2-8h8m-6-25h8m-5 9h8m-3 26h8m-7-21h8m-8-2h8m-1-2h8m-3-1h8m-5 19h8m-8-1h8m-7-14h8m-8-9h8m-6 5h8m-7 5h8m-8 7h8m-8-10h8m-6 17h8m-6-19h8m-6-5h8m-6-4h8m-5 12h8m-2 27h8m-8-36h8m-4 10h8m-6-4h8m-8-4h8m-7 29h8m-6-25h8m-8 29h8m325 1h8m21-12h8m-6-2h8m2-17h8m-5 28h8m-6-10h8m-5-3h8m-3 11h8m-6 4h8m-4-30h8m2 31h8m-2-39h8m-7 31h8m-7-24h8m-7-4h8m-8 31h8m-6-6h8m-8-19h8m-6 29h8m-4-10h8m-1-21h8m-8-1h8m5 15h8m-7-5h8m-7-10h8m-2 2h8m-8 16h8m-6-19h8m-7 32h8m-6-20h8m-8 14h8m-8-11h8m-4-6h8m-8-11h8m-6-3h8m-3 26h8m-6-1h8m-7 9h8m-6-4h8m-5-5h8m-7-24h8m-5 15h8m-7 10h8m-2-10h8m-7 12h8m-8 3h8m-7-4h8m-3-15h8m-8 24h8m-5-22h8m-5 10h8m-3-13h8m-8-6h8m-5 8h8m-3 0h8m-8 12h8m-3-14h8m-8 22h8m1-15h8m-1-15h8m-7 12h8m-7 17h8m-5-16h8m-8 8h8m-7 6h8m-7-26h8m-8 18h8m-7-22h8m-6 21h8m-4 18h8m-7-21h8m-7-2h8m-7 0h8m-4-9h8m-7 0h8m-8 19h8m-7-3h8m-7 14h8m-8-9h8m-6 3h8m-7-19h8m-7 23h8m-7-11h8m-7 10h8m-4 5h8m-7-34h8m-7 26h8m-6-23h8m-8 14h8m-6 0h8m-6-4h8m-3 4h8m-3 14h8m8-34h8m-6 7h8m2 13h8m-6 4h8m-6-5h8m-5 13h8m-6-27h8m-3 2h8m-6-2h8m-7 1h8m0-5h8m-3 15h8m-8 4h8m-6-10h8m-6-3h8m-7 4h8m35 18h8m-3-10h8m-3-3h8m2-6h8m-2-5h8m5 21h8m-7-11h8m-7-13h8m-4 32h8m-7-1h8m-2-14h8m3-10h8m-7 0h8m-8-4h8m-7 30h8m-6-25h8m-3 24h8m-8-30h8m-6 15h8m-6 5h8m-3-21h8m-4 26h8m-5-17h8m7 24h8m-6-16h8m-8-21h8m-6 36h8m-8-21h8m-7 14h8m-7 1h8m-7-21h8m-8 6h8m0-15h8m9 22h8m-5-4h8m-8-18h8m-3 22h8m0-22h8m2 17h8m-3-3h8m4-15h8m-945 61h8m1 9h8m-8-15h8m-2-7h8m-6-1h8m12 4h8m-7-3h8m-8 25h8m-7 4h8m-4 0h8m-2-9h8m-8-7h8m-6 15h8m-4-26h8m-7 22h8m-8-9h8m-7 2h8m-4-11h8m-6 16h8m-5-5h8m-4 9h8m-5 3h8m0 2h8m225-2h8m4 1h8m4 1h8m-2-7h8m-3 7h8m3-7h8m-1-1h8m-4-3h8m-4 0h8m-7 4h8m-1 0h8m0 4h8m-6-15h8m-5 3h8m-6-23h8m4 8h8m1 16h8m-2-12h8m-8-10h8m-3 25h8m-1-16h8m-7 10h8m-8-7h8m4 1h8m-5-16h8m-7 5h8m-3 14h8m-7-14h8m-8 7h8m-4 18h8m-8-16h8m2 14h8m-8 5h8m-6-9h8m-6 9h8m-7-10h8m-2 13h8m-6-20h8m-6 16h8m-6-12h8m-5 4h8m-5-23h8m-1 15h8m-5-15h8m-7 23h8m-8-10h8m-3 22h8m-1-4h8m-8 0h8m-7-4h8m-6-21h8m-6-1h8m-2 10h8m-2 13h8m-1-2h8m-4-21h8m2 1h8m-8 20h8m-6-25h8m-1 34h8m-5 0h8m-2-34h8m-7 0h8m-6 15h8m-3-4h8m-3 1h8m-7 16h8m7-17h8m-7 16h8m-7-8h8m-8-4h8m-3-9h8m-8 12h8m-6 16h8m-7-19h8m-6 14h8m-8-5h8m2-10h8m-2 18h8m-7-32h8m-8 11h8m-4-13h8m-7 11h8m-6 7h8m-7-9h8m-6 9h8m-8-6h8m-7 24h8m-7-25h8m-5 19h8m-7 8h8m-7-7h8m-2-8h8m-6-2h8m-7 12h8m-7 3h8m-3-27h8m1 4h8m-7 14h8m1 10h8m6-33h8m-5 9h8m81-5h8m4-7h8m14 5h8m-6-3h8m34 3h8m0 2h8m-869 50h8m-7-10h8m-3 8h8m12-4h8m-1 6h8m13-13h8m1 0h8m1 7h8m5-1h8m-4-7h8m-5 4h8m-8 5h8m-8-11h8m-5 4h8m-7 5h8m-5-5h8m-7 18h8m-5-6h8m-7-1h8m-7 5h8m-1-1h8m-8-3h8m-6 5h8m-7 1h8m6-7h8m-5 13h8m-6-15h8m-6 8h8m-6 1h8m-5-4h8m0 1h8m-2 1h8m0 3h8m-7-2h8m-4-2h8m2 3h8m-1 3h8m1 0h8m-8-1h8m-3-6h8m-3 8h8m-1 3h8m-7-8h8m-8-5h8m-7 1h8m-5-2h8m-6 3h8m2-7h8m-4 2h8m6 3h8m-6-3h8m1 4h8m4-8h8m-3 2h8m-6-3h8m-7 6h8m-5-9h8m-5 1h8m12-1h8m0 4h8m-2-8h8m28 21h8m-8-22h8m121 0h8m-5 8h8m-1-10h8m2 0h8m-3 8h8m-1 1h8m-2 0h8m-7 27h8m-3-36h8m-2 1h8m5 28h8m-7-12h8m-8-13h8m20-4h8m-4 7h8m-3-7h8m-5 18h8m3-8h8m-3-1h8m-2-3h8m0-3h8m4 7h8m-92 92h8" stroke="#d4d4d4" stroke-width="8" fill="none" transform="scale(.1)"/><path d="M3055 3947h8m354 48h8m-190 196h8m467-11h8m-497 23h8m-5 6h8m375 30h8m42-26h8m27 21h8m72-6h8m-572 30h8m-3 11h8m2-3h8m-5-22h8m-4 34h8m16-17h8m208 17h8m14-20h8m95-3h8m-5-3h8m-3 6h8m2 6h8m21 13h8m11-33h8m25 3h8m7 6h8m-2 12h8m93 5h8m9-21h8m20 2h8m11 7h8m-4 20h8m-6-2h8m-730 37h8m-2-12h8m10-18h8m4 7h8m18 0h8m7 21h8m7-12h8m9 20h8m6-34h8m-2 10h8m263-4h8m19-7h8m-2 13h8m33 17h8m26 2h8m93-12h8m57 13h8m-4-22h8m-672 52h8m415-6h8m16-20h8m24 25h8m14-11h8m72 11h8m-7-8h8m-6 17h8m13-31h8m1 30h8m134-16h8m-5 0h8m-5 14h8m2-22h8m-710 38h8m454 26h8m213-7h8m9-21h8m-380 72h8m73-7h8m111-6h8m39-14h8m-1 26h8m14-21h8m8 18h8m25-26h8m-5 4h8m20-12h8m8 25h8m-7-4h8m-383 26h8m202 17h8m9 9h8m103-17h8m3 7h8m52-7h8m27 10h8m-502 38h8m45-18h8m-1 3h8m22-2h8m88 18h8m108-10h8m33-4h8m37-11h8m68 15h8m38-2h8m-882 37h8m115 23h8m446-8h8m39-6h8m190-16h8m23 24h8m-7-17h8m24 17h8m-489 37h8m417 15h8m4-2h8m5-30h8m-5 17h8m-735 19h8m527 21h8m156 7h8m3-5h8m17-11h8m-6 23h8m13-31h8m-4-2h8m-978 65h8m40-1h8m14-11h8m372 12h8m97-23h8m275 15h8m42-10h8m-1 14h8m-7-1h8m-908 43h8m-5-3h8m2 7h8m14-30h8m3 5h8m-3 25h8m-7-5h8m414-10h8m13-16h8m40 34h8m147 3h8m71-7h8m16-31h8m-7 0h8m12 39h8m-6-22h8m48 13h8m2-25h8m-842 69h8m675-33h8m51 4h8m-809 50h8" stroke="#9999e0" stroke-width="8" fill="none" transform="scale(.1)"/><path d="M3331 4131h8m427 59h8m-557 48h8m377-18h8m90 9h8m19-19h8m11 48h8m94 9h8m22-22h8m-670 63h8m444-26h8m-7 34h8m100-1h8m58-25h8m-649 45h8m33-7h8m363-3h8m166 33h8m-587 3h8m379 3h8m359 11h8m-245 48h8m-4-7h8m185 14h8m-137 38h8m78-6h8m155 11h8m-461 44h8m45-7h8m175-3h8m145 6h8m-5-11h8m-7-5h8m2-3h8m-4 1h8m-4 11h8m-1-1h8m-5-17h8m36 29h8m-907 11h8m130 18h8m477-23h8m58 1h8m142 16h8m-869 50h8m400-28h8m5 33h8m318-25h8m66 26h8m24-14h8m3-6h8m15 19h8m7-13h8m5 17h8m-943 7h8m597 24h8m207 6h8m-7-25h8m5 26h8m17-1h8m19-10h8m-78 38h8m15 9h8m-156 22h8m43-8h8m5 20h8m7 6h8m23-21h8m8 12h8m-8-14h8m27 0h8m18 11h8m-889 30h8m806-11h8" stroke="#6060ed" stroke-width="8" fill="none" transform="scale(.1)"/><path d="M3583 4196h8m-80 42h8m230-20h8m18 16h8m-111 26h8m176-4h8m43-12h8m-730 38h8m6 27h8m53-8h8m385 14h8m129-31h8m-213 40h8m15-1h8m65 5h8m174 3h8m-3 23h8m-26 25h8m21-13h8m-157 41h8m120 1h8m-309 34h8m227 16h8m-2 18h8m178-14h8m-6 15h8m5-16h8m-7-8h8m3 2h8m2 0h8m-5 12h8m-6 8h8m-502 27h8m260-2h8m0 11h8m157-20h8m7 5h8m2-4h8m1 10h8m-8 2h8m0 10h8m0-7h8m2-22h8m-397 48h8m109 10h8m206-15h8m-5 17h8m14-16h8m3 5h8m-3-11h8m3 7h8m-4 25h8m-7-14h8m2-15h8m11 28h8m-361 15h8m46-6h8m173 20h8m31 15h8m-4-17h8m-4 8h8m-6-1h8m-6-15h8m-6 14h8m-3 10h8m-7-24h8m9 18h8m4-29h8m-920 56h8m814 17h8m12-30h8m8 24h8m8 1h8m-3 9h8m0-38h8m-5 3h8m-2 28h8m-5-29h8m-7 3h8m-4-2h8m-461 45h8m58 20h8m206 7h8m67-6h8m33-10h8m-5 16h8m4-8h8m-4-19h8m12 15h8m-877 17h8m642 15h8m81 21h8m54-23h8m3-9h8" stroke="#1414ff" stroke-width="8" fill="none" transform="scale(.1)"/>
<defs><linearGradient id="gb"><stop offset="0" stop-color="#1a1aff"/><stop offset="1" stop-color="#d8d8d8"/></linearGradient></defs>
<rect x="58.2" y="487.2" width="52.1" height="2.2" fill="url(#gb)"/>
<text x="0.0" y="0.0" font-size="11.2" text-anchor="end" fill="#111" transform="translate(65.0 493.6) rotate(-90)">6</text>
<text x="0.0" y="0.0" font-size="11.2" text-anchor="end" fill="#111" transform="translate(82.6 493.6) rotate(-90)">5</text>
<text x="0.0" y="0.0" font-size="11.2" text-anchor="end" fill="#111" transform="translate(100.0 493.6) rotate(-90)">4</text>
<rect x="174.4" y="487.2" width="51.4" height="2.2" fill="url(#gb)"/>
<text x="0.0" y="0.0" font-size="11.2" text-anchor="end" fill="#111" transform="translate(190.0 493.6) rotate(-90)">2.0</text>
<text x="0.0" y="0.0" font-size="11.2" text-anchor="end" fill="#111" transform="translate(204.0 493.6) rotate(-90)">1.6</text>
<text x="0.0" y="0.0" font-size="11.2" text-anchor="end" fill="#111" transform="translate(217.8 493.6) rotate(-90)">1.2</text>
<rect x="294.0" y="487.2" width="51.5" height="2.2" fill="url(#gb)"/>
<text x="0.0" y="0.0" font-size="11.2" text-anchor="end" fill="#111" transform="translate(300.0 493.6) rotate(-90)">5</text>
<text x="0.0" y="0.0" font-size="11.2" text-anchor="end" fill="#111" transform="translate(314.5 493.6) rotate(-90)">4</text>
<text x="0.0" y="0.0" font-size="11.2" text-anchor="end" fill="#111" transform="translate(329.0 493.6) rotate(-90)">3</text>
<text x="0.0" y="0.0" font-size="11.2" text-anchor="end" fill="#111" transform="translate(343.7 493.6) rotate(-90)">2</text>
<text x="460.2" y="263.6" font-size="11.2" text-anchor="start" fill="#111">Cluster 2 <tspan font-style="italic">Dhps</tspan>-ΔM versus <tspan font-style="italic">Dhps</tspan>-WT</text>
<rect x="445.5" y="290.3" width="49.4" height="15.4" fill="#0a35ff" stroke="#10207a" stroke-width="0.7"/>
<text x="500.5" y="301.9" font-size="11.42" text-anchor="start" fill="#111">mRNA splicing, via spliceosome</text>
<line x1="441.5" y1="298.0" x2="445.5" y2="298.0" stroke="#222" stroke-width="0.7"/>
<rect x="445.5" y="316.0" width="51.1" height="15.4" fill="#0a35ff" stroke="#10207a" stroke-width="0.7"/>
<text x="501.7" y="327.6" font-size="11.42" text-anchor="start" fill="#111">DNA damage response</text>
<line x1="441.5" y1="323.7" x2="445.5" y2="323.7" stroke="#222" stroke-width="0.7"/>
<rect x="445.5" y="341.7" width="52.0" height="15.4" fill="#0a35ff" stroke="#10207a" stroke-width="0.7"/>
<text x="500.5" y="353.3" font-size="11.42" text-anchor="start" fill="#111">Chromatin remodelling</text>
<line x1="441.5" y1="349.4" x2="445.5" y2="349.4" stroke="#222" stroke-width="0.7"/>
<rect x="445.5" y="367.5" width="88.1" height="15.4" fill="#0a35ff" stroke="#10207a" stroke-width="0.7"/>
<text x="536.5" y="379.1" font-size="11.42" text-anchor="start" fill="#111">DNA repair</text>
<line x1="441.5" y1="375.2" x2="445.5" y2="375.2" stroke="#222" stroke-width="0.7"/>
<rect x="445.5" y="393.2" width="108.8" height="15.4" fill="#0a35ff" stroke="#10207a" stroke-width="0.7"/>
<text x="559.3" y="404.8" font-size="11.42" text-anchor="start" fill="#111">Cytoplasmic translation</text>
<line x1="441.5" y1="400.9" x2="445.5" y2="400.9" stroke="#222" stroke-width="0.7"/>
<rect x="445.5" y="418.9" width="117.3" height="15.4" fill="#0a35ff" stroke="#10207a" stroke-width="0.7"/>
<text x="566.3" y="430.5" font-size="11.42" text-anchor="start" fill="#111">Cell division</text>
<line x1="441.5" y1="426.6" x2="445.5" y2="426.6" stroke="#222" stroke-width="0.7"/>
<path d="M445.5 280.5V443.7H580.5" stroke="#222" stroke-width="0.8" fill="none"/>
<line x1="445.5" y1="443.7" x2="445.5" y2="447.2" stroke="#222" stroke-width="0.8"/>
<text x="445.5" y="459.8" font-size="11.6" text-anchor="middle" fill="#111">0</text>
<line x1="479.2" y1="443.7" x2="479.2" y2="447.2" stroke="#222" stroke-width="0.8"/>
<text x="479.2" y="459.8" font-size="11.6" text-anchor="middle" fill="#111">20</text>
<line x1="513.0" y1="443.7" x2="513.0" y2="447.2" stroke="#222" stroke-width="0.8"/>
<text x="513.0" y="459.8" font-size="11.6" text-anchor="middle" fill="#111">40</text>
<line x1="546.8" y1="443.7" x2="546.8" y2="447.2" stroke="#222" stroke-width="0.8"/>
<text x="546.8" y="459.8" font-size="11.6" text-anchor="middle" fill="#111">60</text>
<line x1="580.5" y1="443.7" x2="580.5" y2="447.2" stroke="#222" stroke-width="0.8"/>
<text x="580.5" y="459.8" font-size="11.6" text-anchor="middle" fill="#111">80</text>
<text x="513.0" y="479.4" font-size="11.2" text-anchor="middle" fill="#111">–log<tspan font-size="7.2" dy="3">10</tspan><tspan dy="-3">[</tspan><tspan font-style="italic">P</tspan>]</text>
<text x="30.5" y="539.5" font-size="11.35" text-anchor="start" fill="#111">Cluster 2 <tspan font-style="italic">Dhps</tspan>-ΔM versus <tspan font-style="italic">Dhps</tspan>-WT</text>
<rect x="23.6" y="577.5" width="50.2" height="14.0" fill="#ff7b7b" stroke="#6a2a2a" stroke-width="0.7"/>
<text x="80.3" y="588.4" font-size="11.42" text-anchor="start" fill="#111">Cellular response to lipopolysaccharide</text>
<rect x="23.6" y="600.3" width="54.2" height="14.0" fill="#ff7b7b" stroke="#6a2a2a" stroke-width="0.7"/>
<text x="83.8" y="611.2" font-size="11.42" text-anchor="start" fill="#111">Positive regulation of cell migration</text>
<rect x="23.6" y="623.0" width="60.4" height="14.0" fill="#ff7b7b" stroke="#6a2a2a" stroke-width="0.7"/>
<text x="91.2" y="633.9" font-size="11.42" text-anchor="start" fill="#111">Positive regulation of apoptotic process</text>
<rect x="23.6" y="645.8" width="61.9" height="14.0" fill="#ff7b7b" stroke="#6a2a2a" stroke-width="0.7"/>
<text x="92.9" y="656.7" font-size="11.42" text-anchor="start" fill="#111">Protein transport</text>
<rect x="23.6" y="668.6" width="63.9" height="14.0" fill="#ff7b7b" stroke="#6a2a2a" stroke-width="0.7"/>
<text x="95.0" y="679.5" font-size="11.42" text-anchor="start" fill="#111">Endocytosis</text>
<rect x="23.6" y="691.4" width="113.7" height="14.0" fill="#ff7b7b" stroke="#6a2a2a" stroke-width="0.7"/>
<text x="145.8" y="702.2" font-size="11.42" text-anchor="start" fill="#111">Inflammatory response</text>
<path d="M23.6 569.3V712.8H157.8" stroke="#222" stroke-width="0.8" fill="none"/>
<line x1="23.6" y1="712.8" x2="23.6" y2="716.3" stroke="#222" stroke-width="0.8"/>
<text x="23.6" y="729.2" font-size="11.3" text-anchor="middle" fill="#111">0</text>
<line x1="57.1" y1="712.8" x2="57.1" y2="716.3" stroke="#222" stroke-width="0.8"/>
<text x="57.1" y="729.2" font-size="11.3" text-anchor="middle" fill="#111">10</text>
<line x1="90.7" y1="712.8" x2="90.7" y2="716.3" stroke="#222" stroke-width="0.8"/>
<text x="90.7" y="729.2" font-size="11.3" text-anchor="middle" fill="#111">20</text>
<line x1="124.2" y1="712.8" x2="124.2" y2="716.3" stroke="#222" stroke-width="0.8"/>
<text x="124.2" y="729.2" font-size="11.3" text-anchor="middle" fill="#111">30</text>
<line x1="157.8" y1="712.8" x2="157.8" y2="716.3" stroke="#222" stroke-width="0.8"/>
<text x="157.8" y="729.2" font-size="11.3" text-anchor="middle" fill="#111">40</text>
<text x="90.5" y="747.2" font-size="11.2" text-anchor="middle" fill="#111">–log<tspan font-size="7.2" dy="3">10</tspan><tspan dy="-3">[</tspan><tspan font-style="italic">P</tspan>]</text>
<rect x="23.4" y="778.1" width="68.6" height="12.3" fill="#0a35ff" stroke="#10207a" stroke-width="0.7"/>
<text x="101.0" y="788.2" font-size="11.42" text-anchor="start" fill="#111">Cell adhesion mediated by integrin</text>
<rect x="23.4" y="798.0" width="72.5" height="12.3" fill="#0a35ff" stroke="#10207a" stroke-width="0.7"/>
<text x="104.9" y="808.1" font-size="11.42" text-anchor="start" fill="#111">Integrin-mediated signalling pathway</text>
<rect x="23.4" y="817.9" width="73.5" height="12.3" fill="#0a35ff" stroke="#10207a" stroke-width="0.7"/>
<text x="105.6" y="828.0" font-size="11.42" text-anchor="start" fill="#111">Fatty acid metabolic process</text>
<rect x="23.4" y="837.9" width="76.7" height="12.3" fill="#0a35ff" stroke="#10207a" stroke-width="0.7"/>
<text x="108.0" y="847.9" font-size="11.42" text-anchor="start" fill="#111">Cell–matrix adhesion</text>
<rect x="23.4" y="857.8" width="99.1" height="12.3" fill="#0a35ff" stroke="#10207a" stroke-width="0.7"/>
<text x="130.5" y="867.8" font-size="11.42" text-anchor="start" fill="#111">Long-chain fatty acid transport</text>
<rect x="23.4" y="877.6" width="115.2" height="12.3" fill="#0a35ff" stroke="#10207a" stroke-width="0.7"/>
<text x="146.9" y="887.7" font-size="11.42" text-anchor="start" fill="#111">Cell adhesion</text>
<rect x="23.4" y="897.5" width="119.1" height="12.3" fill="#0a35ff" stroke="#10207a" stroke-width="0.7"/>
<text x="151.5" y="907.6" font-size="11.42" text-anchor="start" fill="#111">Lipid metabolic process</text>
<rect x="23.4" y="917.4" width="141.9" height="12.3" fill="#0a35ff" stroke="#10207a" stroke-width="0.7"/>
<text x="175.0" y="927.5" font-size="11.42" text-anchor="start" fill="#111">Metabolic process</text>
<path d="M23.4 770.5V937.0H191.2" stroke="#222" stroke-width="0.8" fill="none"/>
<line x1="23.4" y1="937.0" x2="23.4" y2="940.5" stroke="#222" stroke-width="0.8"/>
<text x="23.4" y="954.9" font-size="11.3" text-anchor="middle" fill="#111">0</text>
<line x1="56.9" y1="937.0" x2="56.9" y2="940.5" stroke="#222" stroke-width="0.8"/>
<text x="56.9" y="954.9" font-size="11.3" text-anchor="middle" fill="#111">1</text>
<line x1="90.5" y1="937.0" x2="90.5" y2="940.5" stroke="#222" stroke-width="0.8"/>
<text x="90.5" y="954.9" font-size="11.3" text-anchor="middle" fill="#111">2</text>
<line x1="124.0" y1="937.0" x2="124.0" y2="940.5" stroke="#222" stroke-width="0.8"/>
<text x="124.0" y="954.9" font-size="11.3" text-anchor="middle" fill="#111">3</text>
<line x1="157.6" y1="937.0" x2="157.6" y2="940.5" stroke="#222" stroke-width="0.8"/>
<text x="157.6" y="954.9" font-size="11.3" text-anchor="middle" fill="#111">4</text>
<line x1="191.2" y1="937.0" x2="191.2" y2="940.5" stroke="#222" stroke-width="0.8"/>
<text x="191.2" y="954.9" font-size="11.3" text-anchor="middle" fill="#111">5</text>
<text x="107.3" y="973.8" font-size="11.2" text-anchor="middle" fill="#111">–log<tspan font-size="7.2" dy="3">10</tspan><tspan dy="-3">[</tspan><tspan font-style="italic">P</tspan>]</text>
<rect x="348.3" y="777.4" width="37.7" height="14.2" fill="#ff7b7b" stroke="#6a2a2a" stroke-width="0.7"/>
<text x="394.4" y="788.4" font-size="11.42" text-anchor="start" fill="#111">Positive regulation of T cell activation</text>
<rect x="348.3" y="800.2" width="46.3" height="14.2" fill="#ff7b7b" stroke="#6a2a2a" stroke-width="0.7"/>
<text x="401.0" y="811.2" font-size="11.42" text-anchor="start" fill="#111">Inflammatory response</text>
<rect x="348.3" y="823.1" width="46.3" height="14.2" fill="#ff7b7b" stroke="#6a2a2a" stroke-width="0.7"/>
<text x="401.0" y="834.1" font-size="11.42" text-anchor="start" fill="#111">Positive regulation of monocyte chemotaxis</text>
<rect x="348.3" y="845.9" width="46.3" height="14.2" fill="#ff7b7b" stroke="#6a2a2a" stroke-width="0.7"/>
<text x="401.0" y="856.9" font-size="11.42" text-anchor="start" fill="#111">Positive regulation of T cell migration</text>
<rect x="348.3" y="868.8" width="82.3" height="14.2" fill="#ff7b7b" stroke="#6a2a2a" stroke-width="0.7"/>
<text x="437.4" y="879.8" font-size="11.42" text-anchor="start" fill="#111">Cellular response to cytokine stimulus</text>
<rect x="348.3" y="891.6" width="120.5" height="14.2" fill="#ff7b7b" stroke="#6a2a2a" stroke-width="0.7"/>
<text x="475.8" y="902.6" font-size="11.42" text-anchor="start" fill="#111">Celullar response to interferon-<tspan font-family="'Liberation Serif', serif">β</tspan></text>
<rect x="348.3" y="914.5" width="143.1" height="14.2" fill="#ff7b7b" stroke="#6a2a2a" stroke-width="0.7"/>
<text x="497.9" y="925.5" font-size="11.42" text-anchor="start" fill="#111">Celullar response to interferon-<tspan font-family="'Liberation Serif', serif">γ</tspan></text>
<path d="M348.3 769.0V937.0H518.0" stroke="#222" stroke-width="0.8" fill="none"/>
<line x1="348.3" y1="937.0" x2="348.3" y2="940.5" stroke="#222" stroke-width="0.8"/>
<text x="348.3" y="954.9" font-size="11.3" text-anchor="middle" fill="#111">0</text>
<line x1="382.2" y1="937.0" x2="382.2" y2="940.5" stroke="#222" stroke-width="0.8"/>
<text x="382.2" y="954.9" font-size="11.3" text-anchor="middle" fill="#111">1</text>
<line x1="416.2" y1="937.0" x2="416.2" y2="940.5" stroke="#222" stroke-width="0.8"/>
<text x="416.2" y="954.9" font-size="11.3" text-anchor="middle" fill="#111">2</text>
<line x1="450.2" y1="937.0" x2="450.2" y2="940.5" stroke="#222" stroke-width="0.8"/>
<text x="450.2" y="954.9" font-size="11.3" text-anchor="middle" fill="#111">3</text>
<line x1="484.1" y1="937.0" x2="484.1" y2="940.5" stroke="#222" stroke-width="0.8"/>
<text x="484.1" y="954.9" font-size="11.3" text-anchor="middle" fill="#111">4</text>
<line x1="518.0" y1="937.0" x2="518.0" y2="940.5" stroke="#222" stroke-width="0.8"/>
<text x="518.0" y="954.9" font-size="11.3" text-anchor="middle" fill="#111">5</text>
<text x="433.3" y="973.8" font-size="11.2" text-anchor="middle" fill="#111">–log<tspan font-size="7.2" dy="3">10</tspan><tspan dy="-3">[</tspan><tspan font-style="italic">P</tspan>]</text>
<text x="525.3" y="539.3" font-size="11.2" text-anchor="middle" fill="#111">Proteomics <tspan font-style="italic">Dhps</tspan>-ΔM versus <tspan font-style="italic">Dhps</tspan>-WT</text>
<rect x="419.4" y="545.2" width="226.1" height="150" fill="#fff" stroke="#555" stroke-width="0.8"/>
<g stroke="#888" stroke-width="0.7" stroke-dasharray="1.3 1.3">
<line x1="510.4" y1="545.2" x2="510.4" y2="695.2"/><line x1="548.8" y1="545.2" x2="548.8" y2="695.2"/>
</g>
<g fill="#c8c8c8" fill-opacity="0.6"><circle cx="491.5" cy="689.4" r="1.4"/><circle cx="508.2" cy="690.0" r="1.4"/><circle cx="505.6" cy="689.3" r="1.4"/><circle cx="509.6" cy="689.6" r="1.4"/><circle cx="501.6" cy="689.0" r="1.4"/><circle cx="505.9" cy="687.8" r="1.4"/><circle cx="514.6" cy="685.1" r="1.4"/><circle cx="508.3" cy="688.5" r="1.4"/><circle cx="493.8" cy="687.6" r="1.4"/><circle cx="513.1" cy="687.4" r="1.4"/><circle cx="509.7" cy="689.2" r="1.4"/><circle cx="511.8" cy="690.0" r="1.4"/><circle cx="514.2" cy="689.2" r="1.4"/><circle cx="510.8" cy="687.8" r="1.4"/><circle cx="499.5" cy="689.7" r="1.4"/><circle cx="504.1" cy="688.8" r="1.4"/><circle cx="503.8" cy="688.9" r="1.4"/><circle cx="498.8" cy="687.5" r="1.4"/><circle cx="502.1" cy="687.8" r="1.4"/><circle cx="517.3" cy="689.7" r="1.4"/><circle cx="486.7" cy="688.3" r="1.4"/><circle cx="517.7" cy="687.7" r="1.4"/><circle cx="503.2" cy="689.3" r="1.4"/><circle cx="501.8" cy="688.8" r="1.4"/><circle cx="503.9" cy="686.2" r="1.4"/><circle cx="504.5" cy="688.2" r="1.4"/><circle cx="490.3" cy="688.9" r="1.4"/><circle cx="506.9" cy="688.2" r="1.4"/><circle cx="510.4" cy="689.5" r="1.4"/><circle cx="516.3" cy="688.8" r="1.4"/><circle cx="498.9" cy="689.1" r="1.4"/><circle cx="515.0" cy="689.1" r="1.4"/><circle cx="507.5" cy="686.8" r="1.4"/><circle cx="467.0" cy="686.1" r="1.4"/><circle cx="488.6" cy="689.7" r="1.4"/><circle cx="499.6" cy="689.4" r="1.4"/><circle cx="505.1" cy="689.1" r="1.4"/><circle cx="494.6" cy="688.6" r="1.4"/><circle cx="510.1" cy="688.5" r="1.4"/><circle cx="519.0" cy="689.9" r="1.4"/><circle cx="506.9" cy="689.7" r="1.4"/><circle cx="512.2" cy="688.9" r="1.4"/><circle cx="510.5" cy="687.3" r="1.4"/><circle cx="480.0" cy="689.0" r="1.4"/><circle cx="510.1" cy="687.7" r="1.4"/><circle cx="518.0" cy="686.8" r="1.4"/><circle cx="505.9" cy="689.5" r="1.4"/><circle cx="506.3" cy="689.1" r="1.4"/><circle cx="512.9" cy="684.9" r="1.4"/><circle cx="502.6" cy="688.9" r="1.4"/><circle cx="507.9" cy="688.6" r="1.4"/><circle cx="510.5" cy="688.7" r="1.4"/><circle cx="490.9" cy="688.3" r="1.4"/><circle cx="512.1" cy="685.9" r="1.4"/><circle cx="504.4" cy="688.6" r="1.4"/><circle cx="516.0" cy="686.6" r="1.4"/><circle cx="509.2" cy="688.5" r="1.4"/><circle cx="503.2" cy="687.2" r="1.4"/><circle cx="514.0" cy="680.9" r="1.4"/><circle cx="512.6" cy="686.9" r="1.4"/><circle cx="510.7" cy="688.4" r="1.4"/><circle cx="492.7" cy="686.8" r="1.4"/><circle cx="507.5" cy="687.2" r="1.4"/><circle cx="501.4" cy="687.2" r="1.4"/><circle cx="498.7" cy="689.2" r="1.4"/><circle cx="511.5" cy="686.9" r="1.4"/><circle cx="512.7" cy="687.8" r="1.4"/><circle cx="513.2" cy="681.2" r="1.4"/><circle cx="507.7" cy="689.4" r="1.4"/><circle cx="507.0" cy="685.2" r="1.4"/><circle cx="507.9" cy="689.0" r="1.4"/><circle cx="505.4" cy="688.6" r="1.4"/><circle cx="505.6" cy="687.9" r="1.4"/><circle cx="510.9" cy="684.8" r="1.4"/><circle cx="512.3" cy="686.4" r="1.4"/><circle cx="516.5" cy="689.6" r="1.4"/><circle cx="509.7" cy="687.0" r="1.4"/><circle cx="518.8" cy="683.1" r="1.4"/><circle cx="508.6" cy="688.5" r="1.4"/><circle cx="488.0" cy="689.6" r="1.4"/><circle cx="511.4" cy="689.4" r="1.4"/><circle cx="513.8" cy="688.0" r="1.4"/><circle cx="498.8" cy="689.1" r="1.4"/><circle cx="505.7" cy="688.4" r="1.4"/><circle cx="509.0" cy="688.4" r="1.4"/><circle cx="507.8" cy="689.7" r="1.4"/><circle cx="507.0" cy="689.9" r="1.4"/><circle cx="492.7" cy="689.9" r="1.4"/><circle cx="515.8" cy="678.3" r="1.4"/><circle cx="493.3" cy="687.6" r="1.4"/><circle cx="515.8" cy="685.5" r="1.4"/><circle cx="509.7" cy="689.5" r="1.4"/><circle cx="514.6" cy="686.6" r="1.4"/><circle cx="500.2" cy="687.6" r="1.4"/><circle cx="509.9" cy="685.5" r="1.4"/><circle cx="498.2" cy="689.7" r="1.4"/><circle cx="500.2" cy="689.1" r="1.4"/><circle cx="502.9" cy="688.9" r="1.4"/><circle cx="513.3" cy="686.8" r="1.4"/><circle cx="511.0" cy="688.0" r="1.4"/><circle cx="501.9" cy="689.0" r="1.4"/><circle cx="518.5" cy="682.6" r="1.4"/><circle cx="508.5" cy="687.5" r="1.4"/><circle cx="509.9" cy="687.5" r="1.4"/><circle cx="504.9" cy="689.1" r="1.4"/><circle cx="514.4" cy="688.9" r="1.4"/><circle cx="498.4" cy="689.9" r="1.4"/><circle cx="512.7" cy="689.7" r="1.4"/><circle cx="516.8" cy="688.2" r="1.4"/><circle cx="502.4" cy="687.8" r="1.4"/><circle cx="494.7" cy="685.7" r="1.4"/><circle cx="513.4" cy="688.4" r="1.4"/><circle cx="518.6" cy="687.6" r="1.4"/><circle cx="502.6" cy="686.4" r="1.4"/><circle cx="509.8" cy="689.0" r="1.4"/><circle cx="506.0" cy="689.5" r="1.4"/><circle cx="514.4" cy="685.1" r="1.4"/><circle cx="507.3" cy="689.3" r="1.4"/><circle cx="519.2" cy="688.3" r="1.4"/><circle cx="514.2" cy="687.2" r="1.4"/><circle cx="544.8" cy="688.1" r="1.4"/><circle cx="559.4" cy="689.8" r="1.4"/><circle cx="538.3" cy="688.0" r="1.4"/><circle cx="552.6" cy="688.5" r="1.4"/><circle cx="556.9" cy="689.2" r="1.4"/><circle cx="554.7" cy="689.9" r="1.4"/><circle cx="584.6" cy="689.0" r="1.4"/><circle cx="553.0" cy="688.0" r="1.4"/><circle cx="553.5" cy="688.3" r="1.4"/><circle cx="562.0" cy="686.5" r="1.4"/><circle cx="557.6" cy="688.5" r="1.4"/><circle cx="539.4" cy="682.4" r="1.4"/><circle cx="552.5" cy="689.4" r="1.4"/><circle cx="550.9" cy="687.8" r="1.4"/><circle cx="546.5" cy="689.0" r="1.4"/><circle cx="557.7" cy="688.6" r="1.4"/><circle cx="558.7" cy="688.1" r="1.4"/><circle cx="547.5" cy="689.1" r="1.4"/><circle cx="550.9" cy="689.8" r="1.4"/><circle cx="542.4" cy="683.8" r="1.4"/><circle cx="550.4" cy="689.0" r="1.4"/><circle cx="554.7" cy="687.1" r="1.4"/><circle cx="547.7" cy="689.8" r="1.4"/><circle cx="549.8" cy="689.4" r="1.4"/><circle cx="546.1" cy="685.0" r="1.4"/><circle cx="546.7" cy="687.6" r="1.4"/><circle cx="548.8" cy="688.4" r="1.4"/><circle cx="557.7" cy="689.6" r="1.4"/><circle cx="548.3" cy="688.3" r="1.4"/><circle cx="549.2" cy="687.8" r="1.4"/><circle cx="551.3" cy="687.2" r="1.4"/><circle cx="548.5" cy="689.7" r="1.4"/><circle cx="550.5" cy="687.8" r="1.4"/><circle cx="558.7" cy="689.9" r="1.4"/><circle cx="558.5" cy="689.8" r="1.4"/><circle cx="576.6" cy="689.7" r="1.4"/><circle cx="548.3" cy="689.5" r="1.4"/><circle cx="542.1" cy="686.3" r="1.4"/><circle cx="547.6" cy="688.4" r="1.4"/><circle cx="552.2" cy="687.4" r="1.4"/><circle cx="568.5" cy="688.2" r="1.4"/><circle cx="538.1" cy="689.7" r="1.4"/><circle cx="541.1" cy="688.6" r="1.4"/><circle cx="538.0" cy="686.4" r="1.4"/><circle cx="568.2" cy="689.6" r="1.4"/><circle cx="547.5" cy="685.6" r="1.4"/><circle cx="559.8" cy="689.3" r="1.4"/><circle cx="547.1" cy="689.6" r="1.4"/><circle cx="552.5" cy="688.2" r="1.4"/><circle cx="564.7" cy="687.9" r="1.4"/><circle cx="553.9" cy="689.8" r="1.4"/><circle cx="542.6" cy="684.9" r="1.4"/><circle cx="558.3" cy="689.4" r="1.4"/><circle cx="557.8" cy="687.8" r="1.4"/><circle cx="564.3" cy="689.1" r="1.4"/><circle cx="569.5" cy="688.1" r="1.4"/><circle cx="551.8" cy="689.6" r="1.4"/><circle cx="551.2" cy="689.3" r="1.4"/><circle cx="561.5" cy="689.6" r="1.4"/><circle cx="554.4" cy="689.5" r="1.4"/><circle cx="545.0" cy="689.6" r="1.4"/><circle cx="571.1" cy="687.7" r="1.4"/><circle cx="548.8" cy="689.3" r="1.4"/><circle cx="541.9" cy="684.4" r="1.4"/><circle cx="552.4" cy="690.0" r="1.4"/><circle cx="537.2" cy="688.3" r="1.4"/><circle cx="554.1" cy="689.9" r="1.4"/><circle cx="554.4" cy="688.2" r="1.4"/><circle cx="555.5" cy="688.5" r="1.4"/><circle cx="549.2" cy="687.2" r="1.4"/><circle cx="554.3" cy="689.6" r="1.4"/><circle cx="557.8" cy="689.0" r="1.4"/><circle cx="555.0" cy="688.7" r="1.4"/><circle cx="552.0" cy="689.9" r="1.4"/><circle cx="560.1" cy="687.3" r="1.4"/><circle cx="547.4" cy="688.6" r="1.4"/><circle cx="555.8" cy="688.9" r="1.4"/><circle cx="546.2" cy="684.1" r="1.4"/><circle cx="550.8" cy="689.4" r="1.4"/><circle cx="548.0" cy="687.1" r="1.4"/><circle cx="548.4" cy="688.1" r="1.4"/><circle cx="544.1" cy="688.9" r="1.4"/><circle cx="540.4" cy="684.1" r="1.4"/><circle cx="555.4" cy="688.5" r="1.4"/><circle cx="563.5" cy="689.1" r="1.4"/><circle cx="557.5" cy="688.9" r="1.4"/><circle cx="547.2" cy="688.0" r="1.4"/><circle cx="548.6" cy="687.9" r="1.4"/><circle cx="550.6" cy="689.6" r="1.4"/><circle cx="541.4" cy="689.2" r="1.4"/><circle cx="549.9" cy="689.1" r="1.4"/><circle cx="542.9" cy="686.8" r="1.4"/><circle cx="542.0" cy="688.3" r="1.4"/><circle cx="563.6" cy="684.9" r="1.4"/><circle cx="569.3" cy="689.2" r="1.4"/><circle cx="545.6" cy="688.9" r="1.4"/><circle cx="548.1" cy="683.6" r="1.4"/><circle cx="555.1" cy="687.6" r="1.4"/><circle cx="542.0" cy="687.8" r="1.4"/><circle cx="556.0" cy="687.1" r="1.4"/><circle cx="511.9" cy="599.9" r="1.4"/><circle cx="510.7" cy="618.8" r="1.4"/><circle cx="516.6" cy="661.2" r="1.4"/><circle cx="430.2" cy="688.5" r="1.4"/><circle cx="453.5" cy="688.1" r="1.4"/><circle cx="463.3" cy="686.7" r="1.4"/><circle cx="474.9" cy="687.4" r="1.4"/><circle cx="580.0" cy="687.8" r="1.4"/><circle cx="589.7" cy="688.1" r="1.4"/><circle cx="572.2" cy="688.9" r="1.4"/><circle cx="545.0" cy="673.0" r="1.4"/><circle cx="542.2" cy="680.0" r="1.4"/><circle cx="515.8" cy="676.7" r="1.4"/><circle cx="513.8" cy="681.5" r="1.4"/><circle cx="517.7" cy="678.9" r="1.4"/></g>
<line x1="419.4" y1="686" x2="645.5" y2="686" stroke="#333" stroke-width="0.7" stroke-dasharray="1.4 1.4"/>
<g fill="#1010f5"><circle cx="490.7" cy="551.7" r="1.4"/><circle cx="502.1" cy="593.4" r="1.4"/><circle cx="499.4" cy="613.2" r="1.4"/><circle cx="477.8" cy="625.3" r="1.4"/><circle cx="480.5" cy="631.8" r="1.4"/><circle cx="489.6" cy="630.3" r="1.4"/><circle cx="494.9" cy="627.2" r="1.4"/><circle cx="498.7" cy="640.1" r="1.4"/><circle cx="488.8" cy="651.1" r="1.4"/><circle cx="493.0" cy="654.5" r="1.4"/><circle cx="453.1" cy="656.1" r="1.4"/><circle cx="470.2" cy="662.1" r="1.4"/><circle cx="453.1" cy="673.5" r="1.4"/><circle cx="435.3" cy="683.4" r="1.4"/><circle cx="500.6" cy="664.0" r="1.4"/><circle cx="496.8" cy="666.7" r="1.4"/><circle cx="503.6" cy="666.7" r="1.4"/><circle cx="492.2" cy="667.8" r="1.4"/><circle cx="488.8" cy="670.5" r="1.4"/><circle cx="484.6" cy="671.6" r="1.4"/><circle cx="501.8" cy="682.7" r="1.4"/><circle cx="494.1" cy="673.7" r="1.4"/><circle cx="508.2" cy="684.2" r="1.4"/><circle cx="500.8" cy="677.6" r="1.4"/><circle cx="495.1" cy="676.2" r="1.4"/><circle cx="499.3" cy="683.8" r="1.4"/><circle cx="501.0" cy="679.3" r="1.4"/><circle cx="500.7" cy="678.8" r="1.4"/><circle cx="501.7" cy="683.1" r="1.4"/><circle cx="476.1" cy="671.8" r="1.4"/><circle cx="500.5" cy="682.4" r="1.4"/><circle cx="498.9" cy="679.0" r="1.4"/><circle cx="496.4" cy="672.0" r="1.4"/><circle cx="503.9" cy="676.7" r="1.4"/><circle cx="492.1" cy="670.5" r="1.4"/><circle cx="489.8" cy="684.5" r="1.4"/><circle cx="493.7" cy="671.5" r="1.4"/><circle cx="501.4" cy="682.1" r="1.4"/><circle cx="495.8" cy="673.1" r="1.4"/><circle cx="504.6" cy="684.5" r="1.4"/><circle cx="478.1" cy="684.7" r="1.4"/><circle cx="499.3" cy="677.1" r="1.4"/><circle cx="504.4" cy="681.5" r="1.4"/><circle cx="507.2" cy="674.6" r="1.4"/><circle cx="496.9" cy="682.9" r="1.4"/><circle cx="505.1" cy="680.9" r="1.4"/><circle cx="480.7" cy="683.7" r="1.4"/><circle cx="501.8" cy="679.6" r="1.4"/><circle cx="506.1" cy="684.2" r="1.4"/><circle cx="506.6" cy="682.8" r="1.4"/><circle cx="488.3" cy="682.7" r="1.4"/><circle cx="497.6" cy="665.4" r="1.4"/><circle cx="481.5" cy="684.0" r="1.4"/><circle cx="498.8" cy="684.7" r="1.4"/><circle cx="489.2" cy="683.8" r="1.4"/><circle cx="500.8" cy="684.5" r="1.4"/><circle cx="496.6" cy="684.1" r="1.4"/><circle cx="490.5" cy="685.2" r="1.4"/><circle cx="490.6" cy="676.5" r="1.4"/><circle cx="500.8" cy="682.0" r="1.4"/><circle cx="497.6" cy="677.8" r="1.4"/><circle cx="503.4" cy="670.5" r="1.4"/><circle cx="500.1" cy="675.0" r="1.4"/><circle cx="504.3" cy="674.5" r="1.4"/><circle cx="506.4" cy="682.7" r="1.4"/><circle cx="498.5" cy="681.7" r="1.4"/><circle cx="509.0" cy="678.4" r="1.4"/><circle cx="504.7" cy="682.7" r="1.4"/><circle cx="492.7" cy="683.7" r="1.4"/><circle cx="495.6" cy="681.2" r="1.4"/><circle cx="489.0" cy="681.4" r="1.4"/><circle cx="501.8" cy="679.4" r="1.4"/><circle cx="494.8" cy="684.7" r="1.4"/><circle cx="508.7" cy="684.6" r="1.4"/><circle cx="507.3" cy="678.1" r="1.4"/><circle cx="504.1" cy="681.4" r="1.4"/><circle cx="501.5" cy="672.8" r="1.4"/><circle cx="507.1" cy="679.0" r="1.4"/><circle cx="487.9" cy="684.1" r="1.4"/><circle cx="509.1" cy="679.5" r="1.4"/><circle cx="503.1" cy="674.6" r="1.4"/><circle cx="505.8" cy="674.4" r="1.4"/><circle cx="503.1" cy="683.6" r="1.4"/><circle cx="493.4" cy="664.9" r="1.4"/><circle cx="505.9" cy="681.8" r="1.4"/><circle cx="503.7" cy="678.9" r="1.4"/><circle cx="500.8" cy="680.8" r="1.4"/><circle cx="505.1" cy="667.8" r="1.4"/><circle cx="508.2" cy="682.2" r="1.4"/><circle cx="503.8" cy="675.4" r="1.4"/></g>
<g fill="#f51010"><circle cx="563.2" cy="577.5" r="1.4"/><circle cx="577.6" cy="626.1" r="1.4"/><circle cx="634.5" cy="653.4" r="1.4"/><circle cx="604.2" cy="662.1" r="1.4"/><circle cx="595.4" cy="665.2" r="1.4"/><circle cx="583.3" cy="666.3" r="1.4"/><circle cx="575.3" cy="672.4" r="1.4"/><circle cx="601.9" cy="672.8" r="1.4"/><circle cx="549.9" cy="673.5" r="1.4"/><circle cx="567.0" cy="676.2" r="1.4"/><circle cx="570.8" cy="677.7" r="1.4"/><circle cx="555.6" cy="676.6" r="1.4"/><circle cx="587.5" cy="680.4" r="1.4"/><circle cx="602.7" cy="682.6" r="1.4"/><circle cx="609.1" cy="682.2" r="1.4"/><circle cx="581.4" cy="685.7" r="1.4"/><circle cx="573.4" cy="685.7" r="1.4"/><circle cx="568.9" cy="681.1" r="1.4"/><circle cx="565.8" cy="683.0" r="1.4"/><circle cx="551.8" cy="681.0" r="1.4"/><circle cx="558.5" cy="679.1" r="1.4"/><circle cx="557.9" cy="685.3" r="1.4"/><circle cx="554.8" cy="685.3" r="1.4"/><circle cx="551.8" cy="682.4" r="1.4"/><circle cx="556.8" cy="684.2" r="1.4"/><circle cx="556.2" cy="681.4" r="1.4"/><circle cx="562.1" cy="677.2" r="1.4"/><circle cx="555.3" cy="677.4" r="1.4"/><circle cx="562.2" cy="682.2" r="1.4"/><circle cx="552.8" cy="685.2" r="1.4"/><circle cx="559.7" cy="675.4" r="1.4"/><circle cx="558.0" cy="682.8" r="1.4"/><circle cx="561.3" cy="683.0" r="1.4"/><circle cx="556.2" cy="683.0" r="1.4"/><circle cx="551.2" cy="673.3" r="1.4"/><circle cx="558.8" cy="685.4" r="1.4"/><circle cx="560.0" cy="684.3" r="1.4"/><circle cx="563.7" cy="683.3" r="1.4"/><circle cx="551.5" cy="683.9" r="1.4"/><circle cx="555.8" cy="685.3" r="1.4"/><circle cx="553.9" cy="684.0" r="1.4"/><circle cx="555.9" cy="685.3" r="1.4"/><circle cx="555.4" cy="683.7" r="1.4"/><circle cx="555.7" cy="685.1" r="1.4"/><circle cx="555.7" cy="681.6" r="1.4"/><circle cx="566.6" cy="684.8" r="1.4"/><circle cx="552.9" cy="683.9" r="1.4"/></g>
<g stroke="#333" stroke-width="0.7">
<line x1="451.6" y1="695.2" x2="451.6" y2="699"/>
<line x1="490.5" y1="695.2" x2="490.5" y2="699"/>
<line x1="529.4" y1="695.2" x2="529.4" y2="699"/>
<line x1="568.3" y1="695.2" x2="568.3" y2="699"/>
<line x1="607.2" y1="695.2" x2="607.2" y2="699"/>
<line x1="415.6" y1="693.3" x2="419.4" y2="693.3"/>
<line x1="415.6" y1="656.4" x2="419.4" y2="656.4"/>
<line x1="415.6" y1="619.5" x2="419.4" y2="619.5"/>
<line x1="415.6" y1="582.6" x2="419.4" y2="582.6"/>
</g>
<text x="451.0" y="713.9" font-size="11.2" text-anchor="middle" fill="#111">–2</text>
<text x="489.9" y="713.9" font-size="11.2" text-anchor="middle" fill="#111">–1</text>
<text x="529.4" y="713.9" font-size="11.2" text-anchor="middle" fill="#111">0</text>
<text x="568.3" y="713.9" font-size="11.2" text-anchor="middle" fill="#111">1</text>
<text x="607.2" y="713.9" font-size="11.2" text-anchor="middle" fill="#111">2</text>
<text x="410.0" y="659.7" font-size="11.3" text-anchor="end" fill="#111">10</text>
<text x="410.0" y="622.8" font-size="11.3" text-anchor="end" fill="#111">20</text>
<text x="410.0" y="585.9" font-size="11.3" text-anchor="end" fill="#111">30</text>
<text x="0.0" y="0.0" font-size="11.2" text-anchor="middle" fill="#111" transform="translate(383.5 620.5) rotate(-90)">Significance (–log<tspan font-size="7.5" dy="2.5">10</tspan><tspan dy="-2.5">)</tspan></text>
<text x="529.6" y="731.8" font-size="11.2" text-anchor="middle" fill="#111">Fold change (–log<tspan font-size="7.5" dy="2.5">2</tspan><tspan dy="-2.5">)</tspan></text>
<g stroke="#000" stroke-width="0.9" fill="#000">
<line x1="500.6" y1="739.3" x2="430" y2="739.3"/><path d="M425.8 739.3l6.5 -2.3v4.6z" stroke="none"/>
<line x1="549.1" y1="739.3" x2="634" y2="739.3"/><path d="M638 739.3l-6.5 -2.3v4.6z" stroke="none"/>
</g>
<text x="414.0" y="755.3" font-size="11.2" text-anchor="start" fill="#111" xml:space="preserve">Downregulated  KO</text>
<text x="549.1" y="753.8" font-size="11.2" text-anchor="start" fill="#111">Upregulated KO</text>
</svg>
</body></html>
